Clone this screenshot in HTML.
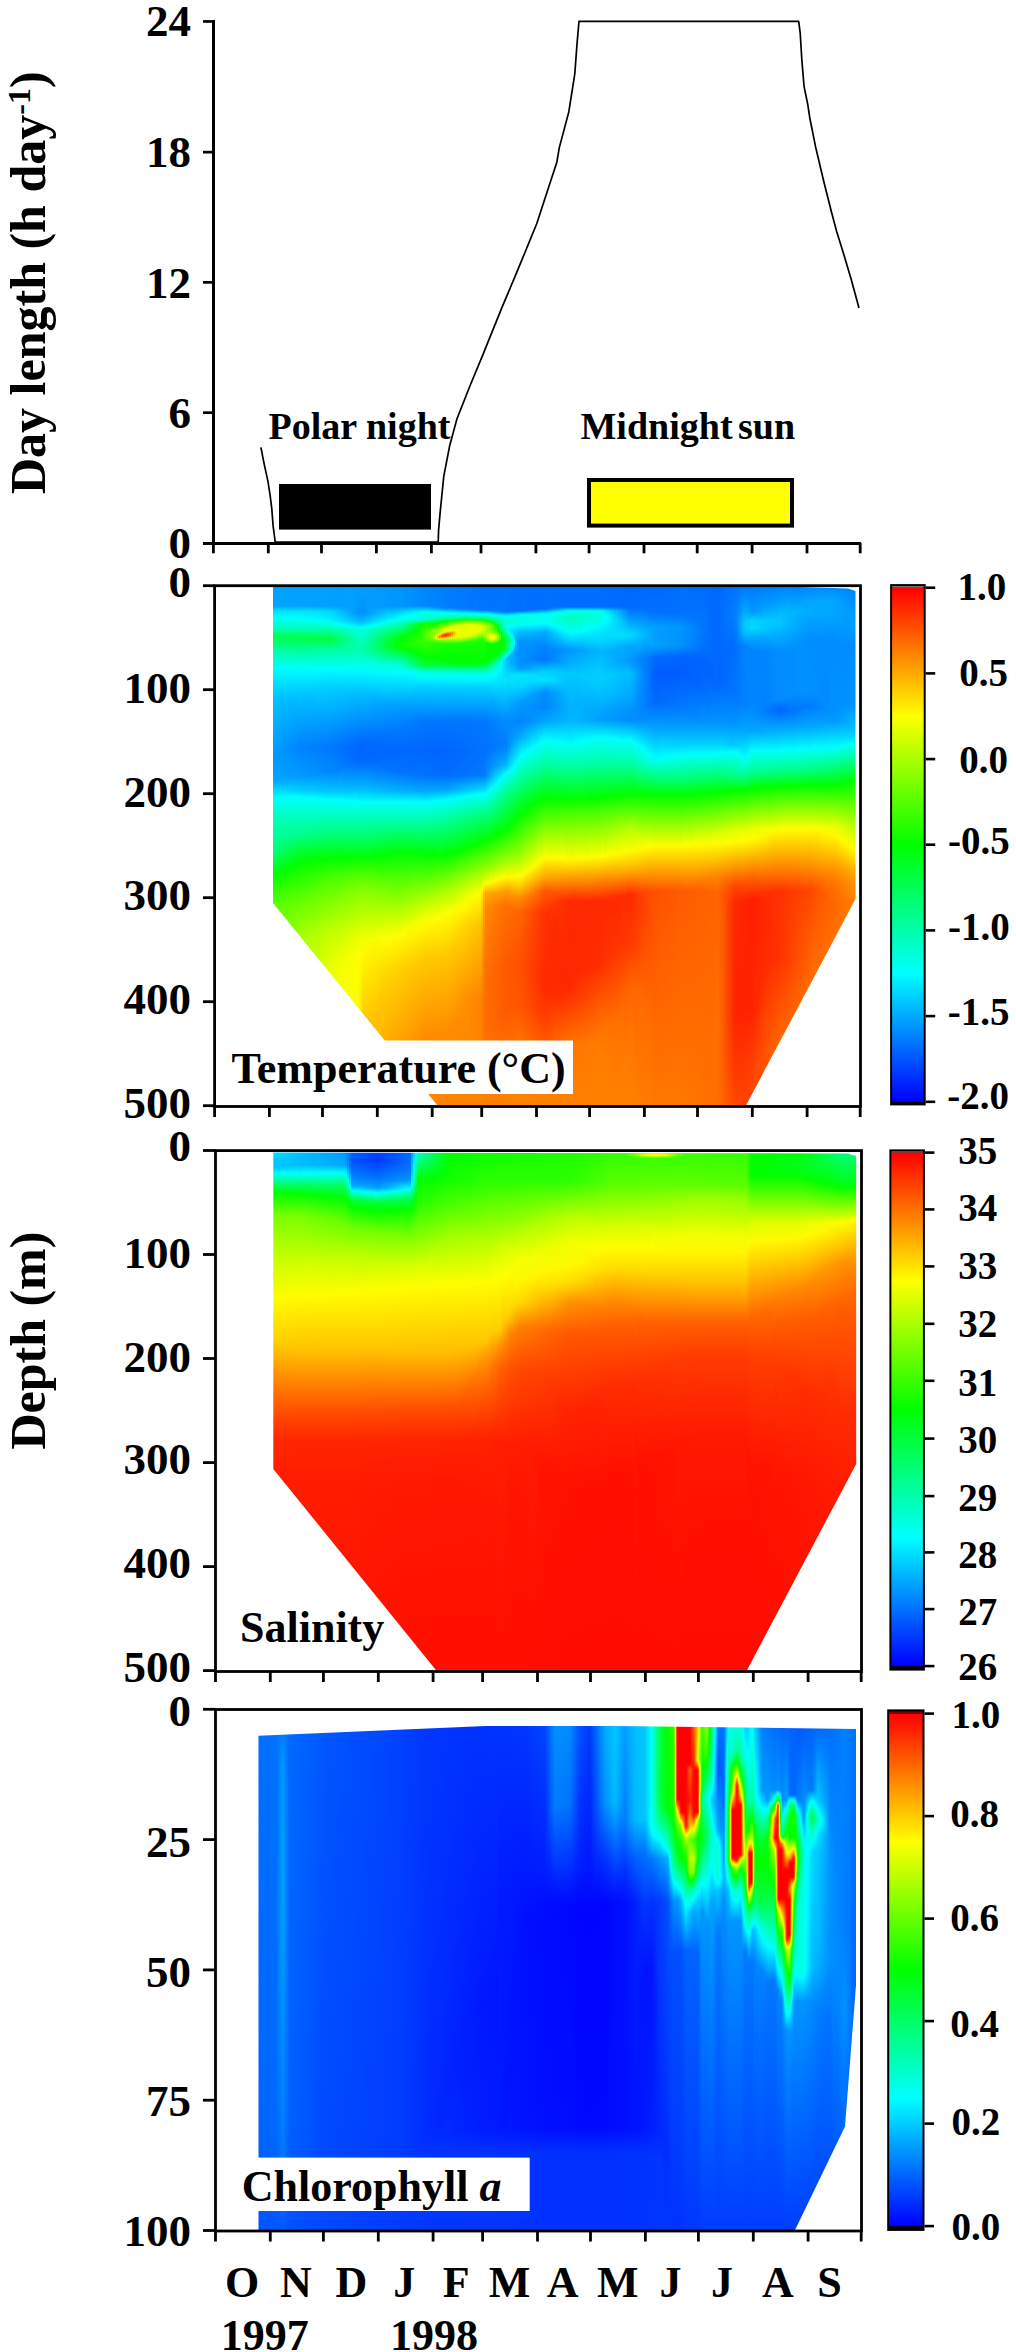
<!DOCTYPE html><html><head><meta charset="utf-8"><style>html,body{margin:0;padding:0;background:#fff}body{width:1016px;height:2352px;position:relative;overflow:hidden}.f{position:absolute;left:0;overflow:hidden}.f i{position:absolute;top:0;height:100%}svg{position:absolute;left:0;top:0}</style></head><body>
<div class="f" style="top:586px;width:1016px;height:520px;clip-path:polygon(273.0px 1.0px,800.0px 1.0px,848.0px 2.5px,855.5px 5.0px,855.5px 313.0px,746.0px 519.5px,437.5px 519.5px,273.0px 317.0px)"><i style="left:273px;width:2px;background:linear-gradient(#00a0ff 0px,#00a5ff 20px,#00e1ff 25px,#00fffa 32px,#00ffbe 42px,#00ff51 50px,#00ff6d 57px,#00ffae 65px,#00fdff 83px,#00c5ff 110px,#0097ff 172px,#0af 195px,#00fffb 212px,#00ffc3 229px,#00ff7f 264px,#00ff1a 282px,#05ff00 290px,#5bff00 318px,#70ff00 520px)"></i><i style="left:275px;width:2px;background:linear-gradient(#00a0ff 0px,#00a5ff 20px,#00e1ff 25px,#00fffa 32px,#00ffbe 42px,#00ff52 50px,#00ff6d 57px,#00ffad 65px,#00fdff 83px,#00c5ff 110px,#0097ff 169px,#00a5ff 194px,#00fffb 212px,#00ffc3 229px,#00ff83 260px,#00ff6e 266px,#00ff17 282px,#04ff00 289px,#5cff00 318px,#6eff00 438px,#75ff00 520px)"></i><i style="left:277px;width:2px;background:linear-gradient(#00a0ff 0px,#00a5ff 20px,#00e1ff 25px,#00fffa 32px,#00ffbe 42px,#00ff53 50px,#00ff64 56px,#00ffac 65px,#00fffe 82px,#00c1ff 112px,#0096ff 168px,#00a3ff 192px,#00b9ff 198px,#00fffb 212px,#00ffc3 229px,#00ff8c 255px,#00ff68 266px,#00ff14 282px,#07ff00 289px,#5dff00 318px,#6eff00 376px,#79ff00 520px)"></i><i style="left:279px;width:2px;background:linear-gradient(#00a0ff 0px,#00a5ff 20px,#00e1ff 25px,#00fffa 32px,#00ffbe 42px,#00ff54 50px,#00ff57 53px,#00ff75 58px,#00ffb0 66px,#00fffd 82px,#00bdff 114px,#0095ff 168px,#00a4ff 193px,#00edff 208px,#00fffb 212px,#00ffc2 229px,#00ff91 252px,#00ff62 266px,#00ff10 282px,#06ff00 288px,#5fff00 319px,#72ff00 366px,#7eff00 520px)"></i><i style="left:281px;width:2px;background:linear-gradient(#00a0ff 0px,#00a5ff 20px,#00e1ff 25px,#00fffa 32px,#00ffbe 42px,#0f5 50px,#00ff56 53px,#00ff75 58px,#00ffae 66px,#00fffd 82px,#00bcff 114px,#0094ff 166px,#009fff 190px,#00afff 196px,#00f3ff 209px,#00fffb 212px,#00ffc2 229px,#00ff92 251px,#00ff5d 266px,#00ff0d 282px,#08ff00 288px,#61ff00 319px,#78ff00 361px,#82ff00 520px)"></i><i style="left:283px;width:2px;background:linear-gradient(#00a0ff 0px,#00a5ff 20px,#00e1ff 25px,#00fffa 32px,#00ffbe 42px,#00ff56 50px,#00ff50 52px,#00ff74 58px,#00ffb2 67px,#00fffd 82px,#00bcff 114px,#0092ff 165px,#009eff 190px,#00b3ff 197px,#00ecff 208px,#00fffb 212px,#00ffc2 229px,#00ff94 250px,#00ff52 267px,#00ff06 283px,#19ff00 292px,#62ff00 319px,#7dff00 359px,#86ff00 520px)"></i><i style="left:285px;width:2px;background:linear-gradient(#00a0ff 0px,#00a5ff 20px,#00e1ff 25px,#00fffa 32px,#00ffbe 42px,#00ff57 50px,#00ff4f 52px,#00ff7c 59px,#00ffb7 68px,#00fffc 82px,#00bcff 114px,#0091ff 164px,#009eff 190px,#00b7ff 198px,#00e5ff 207px,#0ff 211px,#00ffc2 229px,#00ff92 250px,#00ff42 269px,#00ff03 283px,#64ff00 319px,#83ff00 357px,#8bff00 520px)"></i><i style="left:287px;width:2px;background:linear-gradient(#00a0ff 0px,#00a5ff 20px,#00e1ff 25px,#00fffa 32px,#00ffbe 42px,#00ff58 50px,#00ff4d 52px,#00ffb5 68px,#00fffc 82px,#0bf 114px,#008fff 163px,#009fff 191px,#00d0ff 204px,#0ff 211px,#00ffc2 229px,#00ff94 249px,#00ff24 274px,#03ff00 284px,#64ff00 318px,#8f0 356px,#8fff00 520px)"></i><i style="left:289px;width:2px;background:linear-gradient(#00a0ff 0px,#00a5ff 20px,#00e1ff 25px,#00fffa 32px,#00ffbe 42px,#00ff59 50px,#00ff4c 52px,#00ffb4 68px,#00fffb 82px,#0bf 114px,#008dff 163px,#009fff 191px,#00d6ff 205px,#0ff 211px,#00ffc0 230px,#00ff92 249px,#00ff03 281px,#68ff00 320px,#8eff00 355px,#94ff00 520px)"></i><i style="left:291px;width:2px;background:linear-gradient(#00a0ff 0px,#00a5ff 20px,#00e1ff 25px,#00fffa 32px,#00ffbe 42px,#00ff52 51px,#00ff4b 52px,#00ffb3 68px,#00fff7 81px,#00f0ff 89px,#00b9ff 116px,#008bff 162px,#009eff 191px,#00d4ff 205px,#0ff 211px,#00ffbf 230px,#00ff91 249px,#00ff03 280px,#6aff00 320px,#93ff00 355px,#98ff00 520px)"></i><i style="left:293px;width:2px;background:linear-gradient(#00a0ff 0px,#00a5ff 20px,#00e1ff 25px,#00fffa 32px,#00ffbe 42px,#00ff52 51px,#00ff4a 52px,#00ffac 67px,#00fff7 81px,#00f0ff 89px,#00b9ff 115px,#0089ff 162px,#009eff 191px,#00d3ff 205px,#0ff 211px,#00ffbf 230px,#00ff8f 249px,#00ff02 279px,#6bff00 320px,#9f0 354px,#9dff00 520px)"></i><i style="left:295px;width:2px;background:linear-gradient(#00a0ff 0px,#00a5ff 20px,#00e1ff 25px,#00fffa 32px,#00ffbe 42px,#00ff48 52px,#00ffa6 66px,#00fff7 81px,#00f3ff 88px,#00bcff 113px,#08f 162px,#009eff 191px,#00d2ff 205px,#0ff 211px,#00ffbf 230px,#00ff93 248px,#00ff1a 272px,#04ff00 280px,#6dff00 320px,#9fff00 354px,#a1ff00 520px)"></i><i style="left:297px;width:2px;background:linear-gradient(#00a0ff 0px,#00a5ff 20px,#00e1ff 25px,#00fffa 32px,#00ffbe 42px,#00ff47 52px,#00ff9a 64px,#00fff6 81px,#00f3ff 88px,#00bfff 111px,#0085ff 161px,#009dff 191px,#00d1ff 205px,#0ff 211px,#00ffbf 230px,#00ff91 248px,#0f2 269px,#02ff00 278px,#70ff00 321px,#a4ff00 353px,#a6ff00 520px)"></i><i style="left:299px;width:2px;background:linear-gradient(#00a0ff 0px,#00a5ff 20px,#00e1ff 25px,#00fffa 32px,#00ffbe 42px,#00ff46 52px,#00ff93 63px,#00fff3 80px,#00f9ff 86px,#00c9ff 106px,#0af 129px,#0083ff 161px,#009dff 191px,#00d0ff 205px,#0ff 211px,#00ffbc 231px,#00ff90 248px,#00ff25 267px,#03ff00 277px,#78ff00 324px,#af0 353px,#af0 520px)"></i><i style="left:301px;width:2px;background:linear-gradient(#00a0ff 0px,#00a5ff 20px,#00e0ff 25px,#00fffc 32px,#00ffbe 42px,#00ff46 52px,#0f9 64px,#00fff6 81px,#00f6ff 87px,#00c5ff 108px,#0083ff 161px,#009cff 191px,#00cfff 205px,#00feff 211px,#00ffba 232px,#00ff8f 248px,#00ff25 267px,#04ff00 277px,#76ff00 322px,#acff00 353px,#afff00 520px)"></i><i style="left:303px;width:2px;background:linear-gradient(#00a0ff 0px,#00a4ff 20px,#00e0ff 25px,#00fff9 33px,#00ffb2 43px,#00ff46 52px,#0f9 64px,#00fff6 81px,#00f3ff 88px,#00c1ff 110px,#0082ff 161px,#09f 190px,#00ceff 205px,#00fffd 212px,#00ffba 232px,#00ff8d 248px,#00ff20 268px,#03ff00 276px,#74ff00 320px,#aeff00 353px,#b3ff00 520px)"></i><i style="left:305px;width:2px;background:linear-gradient(#00a0ff 0px,#00a4ff 20px,#00dfff 25px,#00fffb 33px,#00ffb2 43px,#00ff46 52px,#00ff9f 65px,#00fff7 81px,#00f2ff 88px,#00bfff 111px,#0081ff 161px,#0098ff 190px,#00ceff 205px,#00fffe 212px,#00ffb7 233px,#00ff87 249px,#00ff1f 268px,#04ff00 276px,#72ff00 318px,#b0ff00 353px,#b8ff00 458px,#b8ff00 520px)"></i><i style="left:307px;width:2px;background:linear-gradient(#00a0ff 0px,#00a4ff 20px,#00deff 25px,#00fffc 33px,#00ffb2 43px,#00ff46 52px,#00ff7a 59px,#00fff7 81px,#00f2ff 88px,#00bfff 111px,#0081ff 161px,#0098ff 190px,#00cdff 205px,#0ff 212px,#00ffb5 234px,#00ff85 249px,#00ff1e 268px,#05ff00 276px,#70ff00 316px,#b3ff00 353px,#bdff00 424px,#bdff00 520px)"></i><i style="left:309px;width:2px;background:linear-gradient(#00a0ff 0px,#00a3ff 20px,#00deff 25px,#00fffa 34px,#00ffb2 43px,#00ff47 52px,#00ff58 55px,#00ff9b 64px,#00fffb 82px,#00c1ff 110px,#0080ff 161px,#0094ff 189px,#0cf 205px,#00feff 212px,#00ffaf 236px,#00ff84 249px,#00ff18 269px,#07ff00 276px,#6fff00 315px,#b5ff00 353px,#c1ff00 412px,#c1ff00 520px)"></i><i style="left:311px;width:2px;background:linear-gradient(#00a0ff 0px,#00a3ff 20px,#0df 25px,#00fffc 34px,#00ffb2 43px,#00ff47 52px,#00ff4f 54px,#00ff96 63px,#00fffb 82px,#00c2ff 109px,#007fff 161px,#0094ff 189px,#0cf 205px,#00feff 212px,#00ff9c 242px,#00ff7d 250px,#00ff13 270px,#03ff00 275px,#60ff00 308px,#b6ff00 351px,#c6ff00 402px,#c6ff00 520px)"></i><i style="left:313px;width:2px;background:linear-gradient(#00a0ff 0px,#00a3ff 20px,#00dcff 25px,#00fffe 34px,#00ffb2 43px,#00ff47 52px,#00ff45 53px,#00ff97 63px,#00fffc 82px,#00c4ff 108px,#007eff 161px,#0094ff 189px,#00cbff 205px,#00fdff 212px,#00ff82 249px,#00ff12 270px,#05ff00 275px,#5dff00 306px,#b8ff00 351px,#cbff00 397px,#cbff00 520px)"></i><i style="left:315px;width:2px;background:linear-gradient(#00a0ff 0px,#00a2ff 20px,#00dcff 25px,#00feff 34px,#00ffb2 43px,#00ff47 52px,#0f4 53px,#00ff97 63px,#0ff 83px,#00cdff 103px,#00a3ff 133px,#007eff 161px,#0091ff 188px,#00caff 205px,#00fffd 213px,#00ff7b 250px,#00ff08 272px,#0eff00 277px,#67ff00 309px,#baff00 352px,#cfff00 395px,#cfff00 520px)"></i><i style="left:317px;width:2px;background:linear-gradient(#00a0ff 0px,#00a2ff 20px,#00dbff 25px,#00fffa 35px,#00ffb2 43px,#00ff47 52px,#00ff43 53px,#00ff98 63px,#00feff 83px,#00cdff 103px,#007dff 161px,#008fff 187px,#00c9ff 205px,#00fffd 213px,#00ff7a 250px,#00ff02 273px,#58ff00 302px,#b6ff00 347px,#d4ff00 389px,#d4ff00 520px)"></i><i style="left:319px;width:2px;background:linear-gradient(#00a0ff 0px,#00a2ff 20px,#00daff 25px,#00fffb 35px,#00ffa6 44px,#00ff47 52px,#00ff42 53px,#00ff98 63px,#00feff 83px,#00cfff 102px,#007cff 160px,#008eff 187px,#00c9ff 205px,#00fffe 213px,#00ff79 250px,#00ff01 273px,#57ff00 301px,#b6ff00 346px,#d8ff00 387px,#d9ff00 520px)"></i><i style="left:321px;width:2px;background:linear-gradient(#00a0ff 0px,#00a1ff 20px,#00daff 25px,#00fffd 35px,#00ffa6 44px,#00ff41 53px,#0f9 63px,#00feff 83px,#00cfff 102px,#007cff 161px,#008bff 186px,#00c8ff 205px,#0ff 213px,#0f7 250px,#0f0 273px,#57ff00 300px,#b7ff00 345px,#dcff00 386px,#df0 520px)"></i><i style="left:323px;width:2px;background:linear-gradient(#00a0ff 0px,#00a1ff 20px,#00d9ff 25px,#00f6ff 34px,#00fff6 36px,#00ffa6 44px,#00ff40 53px,#0f9 63px,#00fdff 83px,#00d0ff 101px,#007bff 161px,#008aff 186px,#00c7ff 205px,#0ff 213px,#00ff71 251px,#01ff00 273px,#59ff00 300px,#b9ff00 345px,#e0ff00 385px,#e2ff00 520px)"></i><i style="left:325px;width:2px;background:linear-gradient(#00a0ff 0px,#00a1ff 20px,#00d8ff 25px,#00f4ff 34px,#00fff7 36px,#00ff9a 45px,#00ff3e 53px,#00ff9a 63px,#00fdff 83px,#00d0ff 101px,#007aff 161px,#008aff 186px,#00c6ff 205px,#00feff 213px,#00ff70 251px,#03ff00 273px,#58ff00 299px,#bf0 345px,#e4ff00 385px,#e7ff00 520px)"></i><i style="left:327px;width:2px;background:linear-gradient(#00a0ff 0px,#00a0ff 20px,#00d8ff 25px,#00f2ff 34px,#00fff9 36px,#00ff8f 46px,#00ff3d 53px,#00ff9a 63px,#00fcff 83px,#00d0ff 101px,#007aff 161px,#0089ff 186px,#00c6ff 205px,#00fffa 214px,#00ff79 249px,#04ff00 273px,#5aff00 299px,#bdff00 345px,#e8ff00 384px,#ebff00 520px)"></i><i style="left:329px;width:2px;background:linear-gradient(#00a0ff 0px,#00a0ff 20px,#00d7ff 25px,#00f0ff 34px,#00fffa 36px,#00ff83 47px,#00ff3c 53px,#00ff9b 63px,#00fcff 83px,#00d0ff 101px,#0079ff 161px,#08f 186px,#00c5ff 205px,#00fffa 214px,#00ff8c 244px,#00ff2d 263px,#05ff00 273px,#5cff00 299px,#bfff00 345px,#edff00 384px,#f0ff00 520px)"></i><i style="left:331px;width:2px;background:linear-gradient(#00a0ff 0px,#00a0ff 20px,#00d2ff 25px,#00ecff 34px,#0ff 36px,#00ff45 53px,#00ff9c 63px,#00fcff 83px,#00cfff 101px,#07f 161px,#08f 186px,#00c5ff 205px,#00fffb 214px,#00ff84 246px,#05ff00 273px,#5bff00 298px,#c1ff00 345px,#ef0 383px,#f2ff00 520px)"></i><i style="left:333px;width:2px;background:linear-gradient(#00a0ff 0px,#009fff 20px,#00ceff 25px,#00e8ff 34px,#00fff9 37px,#00ff4e 53px,#00ff9d 63px,#00fdff 83px,#00cfff 101px,#0076ff 161px,#0087ff 186px,#00c5ff 205px,#00fffc 214px,#00ff78 249px,#0f0 272px,#45ff00 290px,#a6ff00 330px,#dbff00 362px,#f3ff00 391px,#f4ff00 520px)"></i><i style="left:335px;width:2px;background:linear-gradient(#00a0ff 0px,#009fff 20px,#00c9ff 25px,#00e4ff 34px,#00fffe 37px,#00ff57 53px,#00ff9e 63px,#00fdff 83px,#00cfff 101px,#0074ff 161px,#0084ff 185px,#00c5ff 205px,#00fffc 214px,#00ff73 250px,#0f0 272px,#4dff00 292px,#b0ff00 334px,#e9ff00 372px,#f5ff00 405px,#f6ff00 520px)"></i><i style="left:337px;width:2px;background:linear-gradient(#00a0ff 0px,#009fff 20px,#00c6ff 26px,#00e8ff 35px,#00fff8 38px,#00ff7c 50px,#00ff60 53px,#00ffa0 63px,#00feff 83px,#00cdff 102px,#0073ff 161px,#0081ff 184px,#00c5ff 205px,#00fffd 214px,#00ff73 250px,#01ff00 272px,#4eff00 292px,#b0ff00 333px,#e8ff00 369px,#f6ff00 403px,#f8ff00 520px)"></i><i style="left:339px;width:2px;background:linear-gradient(#00a0ff 0px,#009eff 20px,#00c1ff 26px,#00e4ff 35px,#00fffc 38px,#00ff9e 47px,#00ff69 53px,#00ffa1 63px,#00feff 83px,#00cdff 102px,#0072ff 161px,#0080ff 183px,#00c5ff 205px,#00fffe 214px,#00ff6d 251px,#01ff00 272px,#4cff00 291px,#9eff00 323px,#deff00 359px,#f7ff00 389px,#faff00 520px)"></i><i style="left:341px;width:2px;background:linear-gradient(#00a0ff 0px,#009eff 20px,#00bcff 26px,#00dfff 35px,#00fdff 38px,#00ffac 46px,#00ff72 53px,#0ff 83px,#0cf 102px,#0070ff 161px,#007bff 180px,#00a2ff 195px,#00c5ff 205px,#0ff 214px,#00ff68 252px,#01ff00 272px,#4aff00 290px,#89ff00 313px,#dbff00 355px,#f5ff00 383px,#fcff00 520px)"></i><i style="left:343px;width:2px;background:linear-gradient(#00a0ff 0px,#00a3ff 21px,#00b7ff 26px,#00dbff 35px,#00fffa 39px,#00ffb9 45px,#00ff7b 53px,#00ffc3 70px,#0ff 83px,#0cf 102px,#006fff 161px,#0079ff 179px,#009bff 193px,#00c4ff 205px,#00feff 214px,#00ff68 252px,#01ff00 272px,#4bff00 290px,#84ff00 310px,#dcff00 354px,#f6ff00 380px,#feff00 520px)"></i><i style="left:345px;width:2px;background:linear-gradient(#00a0ff 0px,#00a1ff 21px,#00cfff 34px,#00fffe 39px,#00ffbd 45px,#00ff84 53px,#00ffb5 67px,#0ff 83px,#00caff 103px,#006dff 161px,#0076ff 178px,#009bff 193px,#00c4ff 205px,#00fffc 215px,#00ff68 252px,#01ff00 272px,#49ff00 289px,#7fff00 307px,#dbff00 352px,#f6ff00 377px,#ff0 494px,#ff0 520px)"></i><i style="left:347px;width:2px;background:linear-gradient(#00a0ff 0px,#00a0ff 21px,#00beff 31px,#00d9ff 36px,#00fbff 39px,#00ffc1 45px,#00ff8d 53px,#00ffb0 66px,#00fffe 83px,#00c7ff 104px,#006cff 161px,#0073ff 177px,#009eff 194px,#00c4ff 205px,#00fffc 215px,#00ff68 252px,#01ff00 272px,#46ff00 288px,#7cff00 305px,#dbff00 350px,#f7ff00 375px,#fffd00 467px,#fffd00 520px)"></i><i style="left:349px;width:2px;background:linear-gradient(#00a0ff 0px,#00a1ff 22px,#00b1ff 29px,#00d4ff 36px,#00fffb 40px,#00ffc5 45px,#00ff96 53px,#00ffac 65px,#00fffb 82px,#00bfff 108px,#006aff 161px,#0072ff 177px,#00a7ff 197px,#00caff 206px,#00fffd 215px,#00ff63 253px,#02ff00 272px,#47ff00 288px,#7eff00 305px,#dfff00 351px,#f8ff00 374px,#fffb00 476px,#fffb00 520px)"></i><i style="left:351px;width:2px;background:linear-gradient(#00a0ff 0px,#00a1ff 23px,#00a8ff 28px,#00cfff 36px,#00feff 40px,#00ffcf 44px,#00ff9f 53px,#00ffad 65px,#00fff7 81px,#00f1ff 88px,#00c0ff 107px,#0069ff 161px,#0071ff 177px,#00aeff 199px,#00caff 206px,#00fffe 215px,#00ff63 253px,#02ff00 272px,#4f0 287px,#7dff00 304px,#dfff00 350px,#faff00 373px,#fff900 520px)"></i><i style="left:353px;width:2px;background:linear-gradient(#00a0ff 0px,#009eff 27px,#00caff 36px,#00faff 40px,#00ffd3 44px,#00ffa8 54px,#00ffad 65px,#00fff3 80px,#00f7ff 86px,#00c6ff 104px,#0068ff 161px,#006dff 176px,#00b1ff 200px,#00d0ff 207px,#00fffe 215px,#00ff63 253px,#02ff00 272px,#45ff00 287px,#7dff00 303px,#e2ff00 350px,#fbff00 372px,#fff700 520px)"></i><i style="left:355px;width:2px;background:linear-gradient(#00a0ff 0px,#009eff 28px,#00c5ff 36px,#00fffc 41px,#00ffd6 44px,#00ffb0 54px,#00ffa9 64px,#00fff3 80px,#00f8ff 86px,#00c6ff 104px,#06f 160px,#006cff 176px,#00b7ff 202px,#0ff 215px,#00ff63 253px,#02ff00 272px,#42ff00 286px,#7fff00 303px,#e4ff00 350px,#fdff00 372px,#fff500 520px)"></i><i style="left:357px;width:2px;background:linear-gradient(#00a0ff 0px,#0094ff 27px,#00c0ff 36px,#00feff 41px,#00ffda 44px,#00ffb5 56px,#0fa 64px,#00ffef 79px,#00f8ff 86px,#00c5ff 104px,#0065ff 160px,#006aff 176px,#00beff 204px,#00fffa 216px,#00ff63 253px,#02ff00 272px,#43ff00 286px,#81ff00 303px,#e6ff00 350px,#ff0 371px,#fff300 496px,#fff300 520px)"></i><i style="left:359px;width:2px;background:linear-gradient(#00a0ff 0px,#0094ff 25px,#0096ff 28px,#00beff 36px,#00fcff 41px,#00ffdc 44px,#00ffb5 58px,#0fa 64px,#00ffef 79px,#00f8ff 86px,#00c5ff 104px,#0064ff 159px,#0069ff 176px,#00beff 204px,#00fffa 216px,#00ff63 253px,#02ff00 272px,#4f0 286px,#82ff00 303px,#ecff00 352px,#fffd00 369px,#ffe600 461px,#ffe500 520px)"></i><i style="left:361px;width:2px;background:linear-gradient(#00a0ff 0px,#0094ff 25px,#0096ff 28px,#00beff 36px,#00fcff 41px,#00ffdc 44px,#00ffb5 58px,#0fa 64px,#00ffef 79px,#00f8ff 86px,#00c5ff 104px,#0064ff 159px,#0069ff 176px,#00beff 204px,#00fffa 216px,#00ff63 253px,#02ff00 272px,#4f0 286px,#82ff00 303px,#f3ff00 355px,#fff900 369px,#ffd200 442px,#ffcb00 520px)"></i><i style="left:363px;width:2px;background:linear-gradient(#00a0ff 0px,#0093ff 27px,#00c1ff 36px,#00fffe 41px,#00ffd9 44px,#00ffb2 57px,#00ffa6 64px,#00ffef 79px,#00f9ff 86px,#00c5ff 104px,#0064ff 159px,#0069ff 176px,#00bdff 204px,#00fffa 216px,#00ff62 253px,#03ff00 272px,#4f0 286px,#81ff00 303px,#f4ff00 355px,#fff800 368px,#ffc900 434px,#ffbd00 520px)"></i><i style="left:365px;width:2px;background:linear-gradient(#009fff 0px,#0097ff 27px,#00c7ff 36px,#00f9ff 40px,#00ffd3 44px,#00ffa9 56px,#00ff9f 64px,#0fe 79px,#00f9ff 86px,#00c3ff 105px,#06f 158px,#006aff 176px,#00b6ff 202px,#00fffa 216px,#00ff61 253px,#03ff00 272px,#47ff00 287px,#80ff00 303px,#f6ff00 355px,#fff500 369px,#ffc600 436px,#ffba00 520px)"></i><i style="left:367px;width:2px;background:linear-gradient(#009fff 0px,#009bff 27px,#00cdff 36px,#0ff 40px,#00ffcd 44px,#00ffa1 55px,#00ff97 64px,#00ffed 79px,#00f9ff 86px,#00c1ff 106px,#006cff 154px,#0065ff 168px,#006cff 177px,#00b5ff 202px,#00fffa 216px,#00ff60 253px,#04ff00 272px,#4bff00 288px,#82ff00 304px,#f5ff00 354px,#fff500 368px,#ffc500 435px,#ffb700 520px)"></i><i style="left:369px;width:2px;background:linear-gradient(#009eff 0px,#009fff 27px,#00d2ff 36px,#00fff9 40px,#00ffc6 44px,#0f9 54px,#00ff8e 62px,#00ff96 65px,#00ffec 79px,#00faff 86px,#00bcff 108px,#006eff 153px,#0065ff 166px,#006cff 177px,#00adff 200px,#00cdff 207px,#00fffa 216px,#00ff5f 253px,#05ff00 272px,#4eff00 289px,#84ff00 305px,#f6ff00 354px,#fff400 368px,#ffc300 435px,#ffb500 520px)"></i><i style="left:371px;width:2px;background:linear-gradient(#009eff 0px,#009eff 23px,#00a9ff 28px,#00d8ff 36px,#0ff 39px,#00ffc0 44px,#00ff8f 54px,#00ff83 61px,#00ff8e 65px,#00ffeb 79px,#00faff 86px,#00b7ff 110px,#006cff 154px,#06f 168px,#006eff 178px,#00acff 200px,#00c6ff 206px,#00fffa 216px,#00ff63 252px,#01ff00 271px,#4aff00 288px,#85ff00 306px,#f8ff00 354px,#fff100 369px,#ffc100 437px,#ffb200 520px)"></i><i style="left:373px;width:2px;background:linear-gradient(#009dff 0px,#009dff 22px,#00adff 28px,#00deff 36px,#00fff9 39px,#00ffba 44px,#00ff85 54px,#00ff79 61px,#00ff87 65px,#00ffea 79px,#00faff 86px,#00b2ff 112px,#006bff 155px,#06f 174px,#0094ff 193px,#00beff 205px,#00fffa 216px,#00ff67 251px,#02ff00 271px,#51ff00 290px,#8aff00 308px,#f7ff00 353px,#fff100 368px,#ffc000 435px,#ffaf00 520px)"></i><i style="left:375px;width:2px;background:linear-gradient(#009cff 0px,#009eff 22px,#00b7ff 29px,#00e4ff 36px,#00feff 38px,#00ffb4 44px,#00ff7d 53px,#00ff6f 61px,#00ff80 65px,#00ffe9 79px,#00fbff 86px,#00adff 114px,#06f 159px,#006cff 177px,#0097ff 194px,#00bdff 205px,#00fffa 216px,#00ff6b 250px,#00ff02 270px,#71ff00 299px,#f9ff00 353px,#ffe800 375px,#ffba00 445px,#ffac00 520px)"></i><i style="left:377px;width:2px;background:linear-gradient(#009cff 0px,#009cff 21px,#0bf 29px,#00eaff 36px,#00fffa 38px,#00ffae 44px,#00ff74 53px,#00ff61 60px,#00ff79 65px,#00ffe8 79px,#00fbff 86px,#00abff 115px,#006bff 155px,#0069ff 175px,#008cff 191px,#00bcff 205px,#00fffa 216px,#00ff6a 250px,#00ff01 270px,#62ff00 295px,#f5ff00 350px,#fff400 364px,#ffc000 427px,#fa0 520px)"></i><i style="left:379px;width:2px;background:linear-gradient(#009bff 0px,#009dff 21px,#00c5ff 30px,#00efff 36px,#00fcff 37px,#00ffa0 45px,#00ff6a 53px,#00ff57 60px,#00ff7a 66px,#00ffe6 79px,#00fbff 86px,#00a7ff 117px,#006dff 154px,#0067ff 171px,#0082ff 188px,#0bf 205px,#00fffa 216px,#00ff6f 249px,#00ff04 269px,#7fff00 305px,#fbff00 353px,#ffcb00 408px,#ffac00 482px,#ffa700 520px)"></i><i style="left:381px;width:2px;background:linear-gradient(#009bff 0px,#009dff 21px,#00dcff 33px,#00fffc 37px,#00ff9a 45px,#00ff60 53px,#00ff4c 60px,#00ff73 66px,#00ffe5 79px,#00fcff 86px,#00a5ff 118px,#0070ff 152px,#0067ff 166px,#0072ff 181px,#00b4ff 204px,#00fffa 216px,#00ff7b 246px,#00ff03 269px,#7fff00 305px,#fbff00 352px,#ffcb00 405px,#fa0 480px,#ffa400 520px)"></i><i style="left:383px;width:2px;background:linear-gradient(#009aff 0px,#009dff 21px,#00e7ff 34px,#00fbff 36px,#00ff93 45px,#00ff56 53px,#00ff41 60px,#00ff6c 66px,#00ffe4 79px,#00fcff 86px,#00a3ff 119px,#0072ff 150px,#0068ff 165px,#0073ff 182px,#00b9ff 205px,#00fffa 216px,#0f8 243px,#00ff02 269px,#7bff00 304px,#fcff00 352px,#ffcf00 398px,#ffa900 472px,#ffa200 520px)"></i><i style="left:385px;width:2px;background:linear-gradient(#009aff 0px,#0098ff 20px,#00f6ff 35px,#00fffd 36px,#00ff8c 45px,#00ff4c 53px,#00ff37 60px,#00ff6f 67px,#00ffe3 79px,#00fcff 86px,#00a0ff 120px,#0073ff 149px,#0068ff 164px,#0073ff 183px,#00b8ff 205px,#00fffa 216px,#00ff91 241px,#00ff32 259px,#00ff01 269px,#7f0 303px,#fdff00 352px,#ffd100 393px,#ffa900 467px,#ff9f00 520px)"></i><i style="left:387px;width:2px;background:linear-gradient(#09f 0px,#0098ff 20px,#00fcff 35px,#00ff86 45px,#00ff42 53px,#00ff2c 60px,#00ff7c 69px,#00ffe2 79px,#00faff 87px,#00a0ff 120px,#0076ff 147px,#0068ff 164px,#0073ff 184px,#00b7ff 205px,#00fffa 216px,#00ff95 240px,#00ff37 258px,#0f0 269px,#70ff00 301px,#feff00 352px,#ffd300 389px,#ffa800 463px,#ff9c00 520px)"></i><i style="left:389px;width:2px;background:linear-gradient(#09f 0px,#0097ff 20px,#00fffd 35px,#00ff7f 45px,#00ff3c 52px,#00ff21 60px,#00ff81 70px,#00ffe1 79px,#00faff 87px,#00a0ff 120px,#07f 146px,#0068ff 164px,#0075ff 185px,#00b6ff 205px,#00fffa 216px,#0f9 239px,#00ff3b 257px,#00ff03 268px,#a2ff00 318px,#ff0 352px,#ffd400 386px,#ffa700 461px,#ff9a00 520px)"></i><i style="left:391px;width:2px;background:linear-gradient(#0098ff 0px,#0097ff 20px,#00fbff 34px,#00ffc3 39px,#00ff6e 46px,#00ff32 52px,#00ff17 60px,#00ff9e 73px,#00ffe0 79px,#00faff 87px,#009fff 120px,#0079ff 144px,#0069ff 164px,#0075ff 185px,#00b5ff 205px,#00fffa 216px,#00ff9d 238px,#00ff3a 257px,#00ff05 267px,#6bff00 300px,#ff0 351px,#ffd300 386px,#ffa300 464px,#ff9700 520px)"></i><i style="left:393px;width:2px;background:linear-gradient(#0098ff 0px,#0097ff 20px,#0ff 34px,#00ff72 45px,#00ff28 52px,#00ff0c 60px,#00ffdf 79px,#00fbff 87px,#009fff 120px,#007aff 143px,#0069ff 164px,#07f 186px,#00b4ff 205px,#00fffa 216px,#00ffa1 237px,#00ff3e 256px,#00ff04 267px,#fdff00 349px,#ffd100 387px,#ffa000 467px,#ff9400 520px)"></i><i style="left:395px;width:2px;background:linear-gradient(#0097ff 0px,#0097ff 20px,#00f0ff 31px,#00fffa 34px,#00ff60 46px,#00ff1e 52px,#00ff01 60px,#00ffde 79px,#00fbff 87px,#009fff 120px,#0079ff 143px,#0069ff 164px,#0076ff 186px,#00b3ff 205px,#00fffa 216px,#00ffa6 236px,#00ff3d 256px,#00ff06 266px,#1dff00 276px,#fffe00 350px,#ffd200 384px,#ff9e00 466px,#ff9100 520px)"></i><i style="left:397px;width:2px;background:linear-gradient(#0097ff 0px,#0096ff 20px,#00edff 30px,#00fffc 33px,#00ffcd 37px,#00ff4e 47px,#00ff14 52px,#06ff00 59px,#09ff00 60px,#00ff0e 62px,#0fd 79px,#00fcff 87px,#00a0ff 119px,#007aff 142px,#006aff 164px,#0075ff 186px,#00b2ff 205px,#00fffa 216px,#0fa 235px,#00ff3b 256px,#00ff05 266px,#fffd00 350px,#ffd000 384px,#ff9b00 468px,#ff8f00 520px)"></i><i style="left:399px;width:2px;background:linear-gradient(#0096ff 0px,#0096ff 20px,#00eaff 29px,#00fffe 32px,#00ffe2 35px,#00ff52 46px,#00ff0a 52px,#09ff00 57px,#14ff00 60px,#00ff04 62px,#00ffdc 79px,#00fcff 87px,#00a0ff 119px,#007bff 141px,#006aff 164px,#0071ff 185px,#00b2ff 205px,#00fffa 216px,#0fa 235px,#00ff3a 256px,#00ff03 266px,#fffd00 349px,#ffd000 383px,#ff9800 470px,#ff8c00 520px)"></i><i style="left:401px;width:2px;background:linear-gradient(#0095ff 0px,#0095ff 20px,#00e7ff 28px,#00fffb 32px,#00ffed 34px,#00ff9c 39px,#00ff04 52px,#16ff00 60px,#00ff01 62px,#00ffcf 79px,#00feff 87px,#00a0ff 119px,#007bff 140px,#006aff 164px,#0073ff 186px,#00b1ff 205px,#00fffb 216px,#0fa 235px,#00ff34 257px,#00ff04 266px,#fffd00 348px,#ffcd00 384px,#ff9800 467px,#ff8c00 520px)"></i><i style="left:403px;width:2px;background:linear-gradient(#0094ff 0px,#0094ff 20px,#00e3ff 27px,#0ff 31px,#00ffea 34px,#00ff98 38px,#00ff13 50px,#01ff00 52px,#17ff00 60px,#02ff00 62px,#00ff9e 76px,#00ffc1 79px,#00fffe 87px,#00a0ff 119px,#007bff 140px,#0069ff 164px,#0073ff 186px,#00b0ff 205px,#00fffb 216px,#00ffa5 236px,#00ff2f 258px,#00ff01 267px,#fffe00 347px,#ffcd00 383px,#f90 463px,#ff8b00 520px)"></i><i style="left:405px;width:2px;background:linear-gradient(#0092ff 0px,#0092ff 20px,#00e7ff 27px,#00fffb 31px,#00ffe6 34px,#0f8 38px,#00ff15 49px,#07ff00 52px,#19ff00 60px,#00ff05 63px,#00ffb4 79px,#00fff9 86px,#00daff 98px,#09f 122px,#007aff 140px,#0069ff 164px,#0072ff 186px,#00afff 205px,#00fffc 216px,#00ffa5 236px,#00ff2a 259px,#00ff02 267px,#fcff00 345px,#ffcb00 384px,#ff9800 462px,#ff8b00 520px)"></i><i style="left:407px;width:2px;background:linear-gradient(#0091ff 0px,#0091ff 20px,#00ebff 27px,#0ff 30px,#00ffe3 34px,#0f7 38px,#00ff0c 49px,#0cff00 52px,#1aff00 60px,#00ff02 63px,#00ff86 76px,#00ffc5 82px,#00fff7 86px,#00f4ff 91px,#009fff 119px,#007aff 139px,#0069ff 164px,#0074ff 187px,#00aeff 205px,#00fffc 216px,#00ffa0 237px,#00ff19 262px,#05ff00 269px,#f1ff00 340px,#fff800 348px,#ffc700 387px,#ff9700 462px,#ff8a00 520px)"></i><i style="left:409px;width:2px;background:linear-gradient(#0090ff 0px,#0090ff 20px,#0ef 27px,#00fffb 30px,#00ffe0 34px,#00ff67 38px,#00ff0b 48px,#0bff00 51px,#19ff00 57px,#1cff00 60px,#02ff00 63px,#00ff5b 73px,#00ffad 81px,#00fff5 86px,#00f1ff 92px,#009fff 119px,#0079ff 139px,#0068ff 164px,#0073ff 187px,#00aeff 205px,#00fffd 216px,#00ff9b 238px,#00ff03 267px,#f1ff00 339px,#fff600 348px,#ffc400 388px,#ff9600 461px,#ff8a00 520px)"></i><i style="left:411px;width:2px;background:linear-gradient(#008fff 0px,#008fff 20px,#00eaff 26px,#00fffe 29px,#0fd 34px,#00ff57 38px,#00ff01 48px,#1aff00 53px,#1eff00 60px,#00ff02 64px,#00ff65 75px,#00ff92 80px,#00fff3 86px,#00f6ff 91px,#00b9ff 109px,#007aff 137px,#0068ff 164px,#0074ff 188px,#00adff 205px,#00fffe 216px,#00ff96 239px,#00ff04 267px,#f1ff00 338px,#fff700 347px,#ffc300 388px,#ff9400 460px,#ff8a00 520px)"></i><i style="left:413px;width:2px;background:linear-gradient(#008eff 0px,#008eff 20px,#0ef 26px,#00fffb 29px,#00ffda 34px,#00ff46 38px,#00ff02 46px,#20ff00 54px,#1fff00 60px,#00ff04 65px,#00ff6c 77px,#00ff85 80px,#00fff1 86px,#00f7ff 91px,#00c5ff 105px,#007cff 135px,#0068ff 164px,#0073ff 188px,#00acff 205px,#00fffe 216px,#00ff91 240px,#00ff04 267px,#f2ff00 337px,#fff700 346px,#ffc700 382px,#ff9400 456px,#ff8900 520px)"></i><i style="left:415px;width:2px;background:linear-gradient(#008cff 0px,#008cff 20px,#00f2ff 26px,#00fff7 29px,#00ffd6 34px,#00ff36 38px,#01ff00 45px,#24ff00 53px,#21ff00 60px,#0f0 65px,#00ff2c 71px,#0f7 80px,#00ffef 86px,#00f8ff 91px,#00cbff 103px,#007cff 134px,#0067ff 164px,#0072ff 188px,#00abff 205px,#0ff 216px,#00ff8c 241px,#00ff05 267px,#f3ff00 336px,#fff600 346px,#ffc700 381px,#ff9300 455px,#ff8900 520px)"></i><i style="left:417px;width:2px;background:linear-gradient(#008bff 0px,#008bff 20px,#00f6ff 26px,#00fff4 29px,#00ffd3 34px,#00ff25 38px,#00ff01 43px,#1bff00 48px,#2bff00 54px,#1dff00 61px,#00ff04 67px,#00ff21 71px,#00ff6a 80px,#00ffed 86px,#00f9ff 91px,#00cdff 102px,#007bff 134px,#0067ff 164px,#0074ff 189px,#0af 205px,#00feff 216px,#00ff87 242px,#00ff06 267px,#3f0 282px,#f4ff00 335px,#fff600 345px,#ffc800 378px,#ff9200 453px,#f80 520px)"></i><i style="left:419px;width:2px;background:linear-gradient(#008aff 0px,#008aff 20px,#00faff 26px,#00ffd0 34px,#00ff15 38px,#06ff00 42px,#2f0 47px,#2eff00 55px,#1aff00 62px,#00ff03 68px,#00ff5d 80px,#00ffeb 86px,#00faff 91px,#00d0ff 101px,#007aff 134px,#0067ff 164px,#0074ff 189px,#0af 205px,#00feff 216px,#00ff87 242px,#00ff03 268px,#f7ff00 335px,#fff200 346px,#ffc500 380px,#ff9000 453px,#f80 520px)"></i><i style="left:421px;width:2px;background:linear-gradient(#0089ff 0px,#0089ff 20px,#00feff 26px,#00ffcd 34px,#00ff05 38px,#2cff00 47px,#32ff00 55px,#10ff00 65px,#00ff06 70px,#00ff50 80px,#00ffe9 86px,#00fbff 91px,#00d3ff 100px,#0078ff 135px,#06f 164px,#0073ff 189px,#00a9ff 205px,#00fdff 216px,#00ff87 242px,#00ff03 268px,#f3ff00 333px,#fff900 341px,#fc0 372px,#ff8e00 451px,#f80 520px)"></i><i style="left:423px;width:2px;background:linear-gradient(#08f 0px,#08f 20px,#00fffc 26px,#00ffca 34px,#00ff2a 37px,#0cff00 38px,#47ff00 49px,#06ff00 69px,#00ff10 73px,#00ff43 80px,#00ffe7 86px,#00fcff 91px,#00d3ff 100px,#0078ff 135px,#06f 164px,#0072ff 189px,#00a8ff 205px,#00fffa 217px,#00ff91 240px,#00ff04 268px,#f3ff00 332px,#fffb00 338px,#ffcd00 370px,#ff8d00 450px,#ff8700 520px)"></i><i style="left:425px;width:2px;background:linear-gradient(#0087ff 0px,#0087ff 20px,#00fffb 26px,#00ffc3 34px,#00ff21 37px,#13ff00 38px,#32ff00 44px,#4fff00 46px,#5bff00 49px,#47ff00 53px,#34ff00 56px,#00ff02 71px,#00ff3e 80px,#00ffe5 86px,#00fdff 91px,#00d3ff 100px,#07f 135px,#06f 164px,#0071ff 189px,#00a8ff 205px,#00fdff 216px,#00ff64 249px,#0f0 269px,#ecff00 329px,#fffb00 337px,#fc0 370px,#ff8c00 450px,#ff8700 520px)"></i><i style="left:427px;width:2px;background:linear-gradient(#0086ff 0px,#0086ff 20px,#00fffe 26px,#00ffb8 34px,#00ff1e 37px,#12ff00 38px,#24ff00 42px,#5eff00 46px,#6aff00 49px,#5cff00 52px,#35ff00 55px,#00ff05 72px,#00ff41 80px,#00ffe3 86px,#00fdff 91px,#00d3ff 100px,#07f 135px,#06f 164px,#0071ff 189px,#00a9ff 205px,#0ff 216px,#0f0 269px,#e7ff00 327px,#fffc00 336px,#ffca00 371px,#ff8c00 450px,#ff8600 520px)"></i><i style="left:429px;width:2px;background:linear-gradient(#0085ff 0px,#0085ff 20px,#0bf 23px,#00feff 26px,#0fb 33px,#00ffad 34px,#00ff19 37px,#10ff00 38px,#1dff00 41px,#63ff00 45px,#79ff00 48px,#71ff00 51px,#51ff00 54px,#2fff00 56px,#00ff02 71px,#00ff21 76px,#00ff45 80px,#00ffe0 86px,#00fdff 91px,#00d3ff 100px,#07f 135px,#06f 164px,#0070ff 189px,#00a9ff 205px,#00fffe 216px,#0f0 269px,#dcff00 323px,#fffc00 335px,#ffc900 372px,#ff8c00 450px,#ff8600 520px)"></i><i style="left:431px;width:2px;background:linear-gradient(#0084ff 0px,#0084ff 20px,#00a0ff 22px,#00fbff 26px,#00ffc4 32px,#00ffa2 34px,#00ff3b 36px,#00ff14 37px,#0fff00 38px,#17ff00 40px,#75ff00 45px,#8aff00 48px,#7fff00 51px,#5bff00 54px,#32ff00 56px,#00ff01 71px,#00ff16 75px,#00ff49 80px,#00ffde 86px,#00fffb 90px,#00ceff 102px,#0076ff 136px,#0065ff 164px,#0070ff 189px,#0af 205px,#00fffc 216px,#0f0 269px,#d4ff00 320px,#fffb00 335px,#ffc700 373px,#ff8c00 450px,#ff8500 520px)"></i><i style="left:433px;width:2px;background:linear-gradient(#0083ff 0px,#0083ff 20px,#009cff 22px,#00f9ff 26px,#00ffca 31px,#00ffab 33px,#00ff97 34px,#00ff2f 36px,#00ff0f 37px,#0dff00 38px,#1f0 39px,#1fff00 40px,#67ff00 43px,#92ff00 46px,#9aff00 49px,#95ff00 50px,#b3ff00 51px,#c0ff00 52px,#a8ff00 53px,#6dff00 54px,#39ff00 56px,#27ff00 57px,#0f0 71px,#00ff14 75px,#00ff4c 80px,#00ffdc 86px,#00fff6 89px,#00f3ff 93px,#00cbff 103px,#0076ff 136px,#0065ff 164px,#006fff 189px,#0af 205px,#00fdff 215px,#0f0 269px,#c8ff00 316px,#ff0 333px,#ffca00 370px,#ff8c00 449px,#ff8500 520px)"></i><i style="left:435px;width:2px;background:linear-gradient(#0082ff 0px,#0082ff 20px,#0097ff 22px,#00f6ff 26px,#00ffeb 28px,#00ffba 32px,#00ff8c 34px,#00ff24 36px,#00ff0b 37px,#0cff00 38px,#15ff00 39px,#65ff00 42px,#9aff00 45px,#adff00 48px,#abff00 49px,#e2ff00 50px,#fffa00 51px,#fffc00 52px,#d7ff00 53px,#87ff00 54px,#58ff00 55px,#26ff00 57px,#0f0 71px,#0f1 75px,#00ff50 80px,#00ffda 86px,#00fff6 89px,#00f3ff 93px,#00cbff 103px,#0076ff 136px,#0065ff 164px,#006fff 189px,#00abff 205px,#0ff 215px,#0f0 269px,#bfff00 313px,#fffd00 333px,#ffc800 371px,#ff8c00 449px,#ff8400 520px)"></i><i style="left:437px;width:2px;background:linear-gradient(#0081ff 0px,#0081ff 20px,#0092ff 22px,#00f4ff 26px,#00fff7 27px,#00ffb5 32px,#00ff80 34px,#00ff47 35px,#00ff1b 36px,#00ff08 37px,#0aff00 38px,#79ff00 42px,#aeff00 45px,#bfff00 48px,#feff00 49px,#ffcb00 50px,#ffb400 51px,#ffcb00 52px,#f1ff00 53px,#8fff00 54px,#5fff00 55px,#2bff00 57px,#1eff00 59px,#0f0 72px,#00ff18 76px,#00ff53 80px,#00ffd7 86px,#00fff6 89px,#00f4ff 93px,#00cbff 103px,#0076ff 136px,#0065ff 165px,#006fff 189px,#00acff 205px,#00fffd 215px,#00ff70 245px,#05ff00 270px,#b2ff00 309px,#fffe00 332px,#ffc900 370px,#ff8c00 448px,#ff8400 520px)"></i><i style="left:439px;width:2px;background:linear-gradient(#0080ff 0px,#0080ff 20px,#008dff 22px,#00f2ff 26px,#00fff8 27px,#00ffb1 32px,#00ff6e 34px,#00ff3a 35px,#00ff13 36px,#00ff05 37px,#8dff00 42px,#c3ff00 45px,#d2ff00 47px,#fff500 48px,#ffb400 49px,#ff8300 50px,#ff7e00 51px,#ffb100 52px,#f5ff00 53px,#85ff00 54px,#2eff00 57px,#1eff00 58px,#0f0 72px,#00ff0c 75px,#00ff3e 79px,#00ffd5 86px,#00fff0 88px,#00f9ff 92px,#00cbff 103px,#0076ff 136px,#0065ff 165px,#006eff 189px,#00a3ff 204px,#00fdff 214px,#00ff7b 242px,#05ff00 270px,#a4ff00 305px,#fffe00 331px,#ffc900 370px,#ff8c00 447px,#ff8400 520px)"></i><i style="left:441px;width:2px;background:linear-gradient(#007fff 0px,#0084ff 21px,#0089ff 22px,#00efff 26px,#00fff9 27px,#00ffac 32px,#00ff8c 33px,#00ff2e 35px,#00ff0c 36px,#04ff00 37px,#4eff00 39px,#a1ff00 42px,#d9ff00 45px,#e2ff00 46px,#fff800 47px,#ff7000 49px,#ff4600 50px,#ff6100 51px,#ffb100 52px,#e6ff00 53px,#85ff00 54px,#1cff00 58px,#0f0 72px,#00ff09 75px,#00ff3c 79px,#00ff4f 80px,#00ff6f 81px,#00ffe1 87px,#00fff5 89px,#00f4ff 93px,#00cbff 103px,#0076ff 136px,#0065ff 165px,#006eff 189px,#00a4ff 204px,#0ff 214px,#00ff93 236px,#05ff00 270px,#9bff00 302px,#feff00 329px,#ffc700 371px,#ff8c00 447px,#ff8300 520px)"></i><i style="left:443px;width:2px;background:linear-gradient(#007eff 0px,#0081ff 21px,#0084ff 22px,#00edff 26px,#00fff9 27px,#00ffa7 32px,#00ff24 35px,#00ff06 36px,#19ff00 37px,#7fff00 40px,#cdff00 43px,#e1ff00 44px,#eaff00 46px,#ffc800 47px,#ff3500 49px,#ff2800 50px,#ff6900 51px,#ffc700 52px,#c8ff00 53px,#8bff00 54px,#19ff00 58px,#0f0 72px,#00ff05 75px,#00ff28 78px,#00ff4c 80px,#00ff84 82px,#00fff0 88px,#00faff 92px,#00ceff 102px,#07f 135px,#0065ff 165px,#006dff 189px,#00a4ff 204px,#00fffd 214px,#00ff95 235px,#0f0 269px,#96ff00 300px,#fdff00 328px,#ffc600 372px,#ff8c00 447px,#ff8300 520px)"></i><i style="left:445px;width:2px;background:linear-gradient(#007dff 0px,#007fff 22px,#00fffa 27px,#00ffa2 32px,#00ff41 34px,#08ff00 36px,#92ff00 40px,#e4ff00 43px,#e8ff00 45px,#ffed00 46px,#ff5300 48px,#ff2800 49px,#ff3900 50px,#ff8a00 51px,#ffec00 52px,#af0 53px,#17ff00 58px,#0f0 72px,#00ff02 75px,#00ff26 78px,#00ff4a 80px,#00ff86 82px,#00fff0 88px,#00faff 92px,#00ceff 102px,#07f 135px,#0065ff 165px,#006dff 189px,#00a5ff 204px,#00fffb 214px,#00ff97 234px,#00ff09 267px,#05ff00 270px,#95ff00 299px,#ff0 328px,#ffc700 370px,#ff8c00 446px,#ff8200 520px)"></i><i style="left:447px;width:2px;background:linear-gradient(#007dff 0px,#007dff 22px,#00fffb 27px,#00ffa0 32px,#00ff67 33px,#00ff39 34px,#00ff17 35px,#1aff00 36px,#c4ff00 41px,#e1ff00 42px,#e8ff00 45px,#ffcd00 46px,#ff4200 48px,#f30 49px,#ff6b00 50px,#ffb500 51px,#e7ff00 52px,#afff00 53px,#16ff00 58px,#0f0 72px,#0f0 75px,#0f2 78px,#00ff47 80px,#00ff87 82px,#00fff0 88px,#00faff 92px,#00ceff 102px,#07f 135px,#0065ff 165px,#006dff 189px,#00a7ff 204px,#00fcff 213px,#0f9 233px,#00ff0c 266px,#07ff00 270px,#98ff00 299px,#ff0 327px,#ffc800 368px,#ff8b00 445px,#ff8200 520px)"></i><i style="left:449px;width:2px;background:linear-gradient(#007cff 0px,#007cff 22px,#00fffd 27px,#00ff9a 32px,#00ff62 33px,#00ff0f 35px,#2aff00 36px,#d8ff00 41px,#e8ff00 42px,#e8ff00 44px,#fffe00 45px,#ff7c00 47px,#ff5800 48px,#ff6a00 49px,#ffa100 50px,#ffe500 51px,#d0ff00 52px,#16ff00 58px,#0f0 72px,#00ff05 76px,#00ff2e 79px,#00ff5f 81px,#00ff81 82px,#00ffef 88px,#00fbff 92px,#00ceff 102px,#07f 135px,#06f 165px,#006eff 189px,#0af 204px,#00feff 213px,#00ff96 233px,#01ff00 268px,#9cff00 299px,#feff00 326px,#ffc700 367px,#ff8b00 444px,#ff8200 520px)"></i><i style="left:451px;width:2px;background:linear-gradient(#007cff 0px,#007cff 22px,#00c6ff 25px,#0ff 27px,#00ffb2 31px,#00ff94 32px,#00ff5e 33px,#00ff34 34px,#02ff00 35px,#38ff00 36px,#cbff00 40px,#e8ff00 41px,#e8ff00 44px,#fff000 45px,#ffb500 46px,#ff8b00 47px,#ff8400 48px,#ffa300 49px,#ffd900 50px,#e8ff00 51px,#d4ff00 52px,#16ff00 58px,#0f0 73px,#00ff02 76px,#00ff2b 79px,#00ff5a 81px,#00ff96 83px,#00ffef 88px,#00fbff 92px,#00ceff 102px,#07f 135px,#0067ff 165px,#006eff 189px,#00adff 204px,#00fffe 213px,#00ff97 232px,#05ff00 268px,#a1ff00 299px,#faff00 324px,#ffc400 368px,#ff8c00 441px,#ff8200 520px)"></i><i style="left:453px;width:2px;background:linear-gradient(#007bff 0px,#007bff 22px,#00c3ff 25px,#00fdff 27px,#00ffb1 31px,#00ff8f 32px,#00ff5b 33px,#0f3 34px,#1f0 35px,#47ff00 36px,#dcff00 40px,#e8ff00 41px,#e8ff00 44px,#fe0 45px,#ffc100 46px,#ffac00 47px,#ffb600 48px,#ffdb00 49px,#edff00 50px,#e8ff00 51px,#d6ff00 52px,#30ff00 57px,#16ff00 58px,#0f0 73px,#0f0 76px,#00ff27 79px,#00ff56 81px,#00ff96 83px,#0fe 88px,#00fbff 92px,#00ceff 102px,#07f 135px,#0067ff 165px,#006fff 189px,#00b0ff 204px,#00fffb 213px,#00ff94 232px,#04ff00 267px,#a5ff00 299px,#faff00 323px,#ffcb00 359px,#ff8f00 434px,#ff8200 520px)"></i><i style="left:455px;width:2px;background:linear-gradient(#007aff 0px,#007aff 22px,#00a2ff 24px,#00faff 27px,#00ffb1 31px,#00ff8b 32px,#00ff25 34px,#20ff00 35px,#54ff00 36px,#e8ff00 40px,#e8ff00 44px,#fff900 45px,#ffdc00 46px,#ffd700 47px,#ffec00 48px,#eaff00 49px,#e8ff00 51px,#d5ff00 52px,#2cff00 57px,#16ff00 58px,#0f0 73px,#0f0 76px,#00ff25 79px,#00ff53 81px,#00ff95 83px,#00ffed 88px,#00fcff 92px,#00ceff 102px,#07f 135px,#0068ff 166px,#0070ff 189px,#00b4ff 204px,#00fdff 212px,#00ff91 232px,#03ff00 266px,#a9ff00 299px,#f4ff00 320px,#fff500 327px,#ffbc00 372px,#ff8b00 438px,#ff8200 520px)"></i><i style="left:457px;width:2px;background:linear-gradient(#007aff 0px,#007aff 22px,#009eff 24px,#00f8ff 27px,#00ffc5 30px,#00ffb1 31px,#00ff56 33px,#00ff16 34px,#2dff00 35px,#60ff00 36px,#d5ff00 39px,#e8ff00 40px,#e8ff00 44px,#feff00 46px,#e8ff00 48px,#e8ff00 51px,#d3ff00 52px,#27ff00 57px,#16ff00 58px,#0f0 73px,#00ff06 77px,#00ff36 80px,#00ff94 83px,#00ffed 88px,#00f7ff 93px,#00ceff 102px,#07f 135px,#0069ff 166px,#0070ff 189px,#00b7ff 204px,#0ff 212px,#00ffab 226px,#02ff00 265px,#adff00 299px,#efff00 317px,#fff800 325px,#ffd300 348px,#ff9300 420px,#ff8500 469px,#ff8200 520px)"></i><i style="left:459px;width:2px;background:linear-gradient(#0079ff 0px,#0079ff 22px,#009bff 24px,#00f6ff 27px,#00ffda 29px,#00ffb1 31px,#0f5 33px,#00ff09 34px,#6aff00 36px,#e0ff00 39px,#e8ff00 41px,#e8ff00 51px,#acff00 53px,#21ff00 57px,#14ff00 59px,#0f0 73px,#00ff05 77px,#00ff34 80px,#00ff6e 82px,#00ff93 83px,#00ffec 88px,#00f7ff 93px,#00ceff 102px,#07f 135px,#0069ff 166px,#0071ff 189px,#00baff 204px,#00fffc 212px,#00ff94 230px,#01ff00 264px,#b1ff00 299px,#edff00 315px,#fff800 324px,#ffda00 341px,#ff9500 414px,#ff8500 468px,#ff8200 520px)"></i><i style="left:461px;width:2px;background:linear-gradient(#0079ff 0px,#0079ff 22px,#0097ff 24px,#00f4ff 27px,#00fff0 28px,#00ffb1 31px,#00ff50 33px,#02ff00 34px,#42ff00 35px,#9cff00 37px,#e8ff00 39px,#e8ff00 51px,#1aff00 57px,#0f0 73px,#00ff05 77px,#00ff34 80px,#00ff6d 82px,#00ff92 83px,#00ffec 88px,#00f7ff 93px,#00ceff 102px,#07f 135px,#006aff 166px,#0072ff 189px,#00bdff 204px,#00fcff 211px,#00ff8d 231px,#05ff00 264px,#b1ff00 298px,#ebff00 313px,#fff800 323px,#ffd900 340px,#ff9400 413px,#ff8400 468px,#ff8200 520px)"></i><i style="left:463px;width:2px;background:linear-gradient(#0078ff 0px,#0078ff 22px,#0093ff 24px,#00f2ff 27px,#00fff1 28px,#00ffb0 31px,#00ff83 32px,#00ff46 33px,#0bff00 34px,#4aff00 35px,#a4ff00 37px,#e8ff00 39px,#e8ff00 50px,#e1ff00 51px,#17ff00 57px,#0f0 73px,#00ff05 77px,#0f3 80px,#00ff6c 82px,#00ff91 83px,#00ffeb 88px,#00f8ff 93px,#00ceff 102px,#07f 135px,#006bff 166px,#0072ff 189px,#00c0ff 204px,#0ff 211px,#00ffad 224px,#04ff00 263px,#b5ff00 298px,#ecff00 312px,#fffa00 321px,#ffd900 338px,#ff9400 410px,#ff8300 466px,#ff8200 520px)"></i><i style="left:465px;width:2px;background:linear-gradient(#07f 0px,#07f 22px,#008fff 24px,#00f0ff 27px,#00fff2 28px,#00ffb0 31px,#00ff84 32px,#00ff3d 33px,#12ff00 34px,#50ff00 35px,#af0 37px,#d0ff00 38px,#e8ff00 39px,#e8ff00 50px,#d6ff00 51px,#2cff00 56px,#17ff00 57px,#0f0 73px,#00ff05 77px,#0f3 80px,#00ff6c 82px,#00ff91 83px,#00ffea 88px,#00f8ff 93px,#00d1ff 101px,#07f 135px,#006bff 166px,#0073ff 189px,#00c4ff 204px,#00faff 210px,#0f8 231px,#03ff00 262px,#beff00 299px,#edff00 311px,#fffa00 320px,#ffd600 338px,#ff9200 411px,#ff8300 470px,#ff8200 520px)"></i><i style="left:467px;width:2px;background:linear-gradient(#07f 0px,#07f 22px,#008bff 24px,#0ef 27px,#00fff3 28px,#00ffb0 31px,#00ff85 32px,#00ff37 33px,#17ff00 34px,#54ff00 35px,#adff00 37px,#d3ff00 38px,#e8ff00 39px,#e8ff00 50px,#2f0 56px,#15ff00 58px,#0f0 73px,#00ff06 77px,#00ff34 80px,#00ff90 83px,#00ffea 88px,#00f8ff 93px,#00d1ff 101px,#07f 135px,#006cff 167px,#0074ff 189px,#00c7ff 204px,#00fdff 210px,#00ff8a 230px,#02ff00 261px,#c2ff00 299px,#f1ff00 311px,#fff900 319px,#ffd400 338px,#ff8f00 412px,#ff8200 475px,#ff8200 520px)"></i><i style="left:469px;width:2px;background:linear-gradient(#0076ff 0px,#0076ff 22px,#08f 24px,#00ebff 27px,#00fff4 28px,#00ffb0 31px,#00ff87 32px,#00ff34 33px,#1aff00 34px,#57ff00 35px,#afff00 37px,#d4ff00 38px,#e8ff00 39px,#e8ff00 49px,#df0 50px,#18ff00 56px,#0f0 74px,#00ff06 77px,#00ff36 80px,#00ff8f 83px,#00ffe9 88px,#00f9ff 93px,#00d1ff 101px,#07f 135px,#006dff 167px,#0074ff 189px,#00caff 204px,#00fffe 210px,#00ff91 228px,#01ff00 260px,#c7ff00 299px,#f2ff00 310px,#fff800 318px,#ffd000 339px,#ff8c00 414px,#ff8200 488px,#ff8200 520px)"></i><i style="left:471px;width:2px;background:linear-gradient(#0076ff 0px,#0076ff 22px,#0084ff 24px,#00e9ff 27px,#00fff5 28px,#00ffb0 31px,#00ff8a 32px,#0f3 33px,#1aff00 34px,#57ff00 35px,#aeff00 37px,#d2ff00 38px,#e8ff00 39px,#e8ff00 49px,#4eff00 54px,#2cff00 55px,#18ff00 56px,#0f0 74px,#0f0 76px,#00ff24 79px,#00ff51 81px,#00ff8e 83px,#00ffe9 88px,#00f9ff 93px,#00d1ff 101px,#07f 135px,#006eff 167px,#0075ff 189px,#00cdff 204px,#00fcff 209px,#00ff84 230px,#05ff00 260px,#cbff00 299px,#f7ff00 310px,#fff200 319px,#fc0 341px,#ff8a00 415px,#ff8100 493px,#ff8200 520px)"></i><i style="left:473px;width:2px;background:linear-gradient(#0075ff 0px,#0075ff 22px,#0080ff 24px,#00e7ff 27px,#00fff6 28px,#00ffb0 31px,#00ff8e 32px,#00ff35 33px,#18ff00 34px,#5f0 35px,#abff00 37px,#e8ff00 39px,#e8ff00 48px,#daff00 49px,#1fff00 55px,#0eff00 63px,#0f0 75px,#00ff09 77px,#00ff3a 80px,#00ff8d 83px,#00ffe8 88px,#00f9ff 93px,#00d1ff 101px,#0078ff 135px,#006eff 167px,#0076ff 189px,#00c8ff 203px,#0ff 209px,#00ff86 229px,#04ff00 259px,#d4ff00 300px,#fbff00 310px,#ffc900 341px,#f80 415px,#ff8100 497px,#ff8200 520px)"></i><i style="left:475px;width:2px;background:linear-gradient(#0074ff 0px,#0078ff 23px,#007cff 24px,#00e5ff 27px,#00fff7 28px,#00ff92 32px,#00ff39 33px,#14ff00 34px,#50ff00 35px,#a6ff00 37px,#e4ff00 39px,#e8ff00 47px,#e1ff00 48px,#52ff00 53px,#19ff00 55px,#0f0 75px,#00ff0b 77px,#00ff3d 80px,#00ff8c 83px,#00ffe7 88px,#00faff 93px,#00d1ff 101px,#0078ff 135px,#006fff 167px,#0076ff 189px,#00cbff 203px,#00fcff 208px,#00ff7f 230px,#04ff00 258px,#df0 301px,#fdff00 309px,#ffc700 341px,#ff8600 415px,#ff8100 502px,#ff8200 520px)"></i><i style="left:477px;width:2px;background:linear-gradient(#0074ff 0px,#0079ff 24px,#00e3ff 27px,#00fff8 28px,#00ff97 32px,#00ff40 33px,#0dff00 34px,#49ff00 35px,#9fff00 37px,#daff00 39px,#e8ff00 40px,#e4ff00 47px,#7eff00 51px,#2f0 54px,#17ff00 56px,#00ff04 76px,#00ff2b 79px,#00ff79 82px,#00ffe7 88px,#00faff 93px,#00d1ff 101px,#0078ff 135px,#0070ff 168px,#07f 189px,#00ceff 203px,#0ff 208px,#00ff81 229px,#03ff00 257px,#e6ff00 302px,#ff0 308px,#ffc600 340px,#ff8400 415px,#ff8100 509px,#ff8200 520px)"></i><i style="left:479px;width:2px;background:linear-gradient(#0073ff 0px,#0075ff 24px,#00fff9 28px,#00ff96 32px,#04ff00 34px,#40ff00 35px,#70ff00 36px,#b3ff00 38px,#e2ff00 40px,#e8ff00 44px,#e1ff00 46px,#a2ff00 49px,#19ff00 54px,#00ff01 75px,#00ff1c 78px,#00ff5f 81px,#00ff9d 84px,#00ffe6 88px,#00faff 93px,#00d1ff 101px,#0078ff 135px,#0071ff 168px,#0078ff 189px,#00d1ff 203px,#00fffc 208px,#00ff7e 229px,#02ff00 256px,#6dff00 277px,#fffc00 307px,#ffc200 341px,#ff8300 415px,#ff8200 516px,#ff8200 520px)"></i><i style="left:481px;width:2px;background:linear-gradient(#0073ff 0px,#0073ff 24px,#00fffa 28px,#00ff96 32px,#00ff56 33px,#00ff08 34px,#64ff00 36px,#a7ff00 38px,#d4ff00 40px,#e7ff00 43px,#cf0 46px,#8fff00 49px,#20ff00 53px,#15ff00 58px,#00ff02 75px,#00ff1f 78px,#00ff8a 83px,#00ffe6 88px,#00faff 93px,#00d1ff 101px,#0078ff 135px,#0071ff 167px,#0079ff 189px,#00d3ff 203px,#00fffa 208px,#00ff7d 229px,#0f0 255px,#71ff00 277px,#fffe00 303px,#ffe400 308px,#ffb200 340px,#ff7c00 415px,#ff8200 520px)"></i><i style="left:483px;width:2px;background:linear-gradient(#0073ff 0px,#0073ff 24px,#00fffa 28px,#00ff96 32px,#00ff64 33px,#00ff16 34px,#28ff00 35px,#57ff00 36px,#9f0 38px,#c4ff00 40px,#d3ff00 43px,#b7ff00 46px,#7bff00 51px,#1eff00 55px,#0f0 74px,#00ff14 77px,#00ff4e 80px,#00ff69 81px,#00ffe6 88px,#00faff 93px,#00d1ff 101px,#0078ff 135px,#0071ff 166px,#007cff 189px,#00d5ff 203px,#00fffa 208px,#00ff7d 229px,#02ff00 255px,#94ff00 283px,#feff00 299px,#ffbe00 307px,#ff9e00 323px,#ff7900 385px,#ff7100 435px,#ff8200 520px)"></i><i style="left:485px;width:2px;background:linear-gradient(#0073ff 0px,#0073ff 24px,#00fffd 28px,#00ff9a 32px,#00ff73 33px,#00ff2b 34px,#14ff00 35px,#45ff00 36px,#8f0 38px,#b1ff00 40px,#bf0 43px,#a5ff00 46px,#a7ff00 50px,#a0ff00 51px,#7eff00 53px,#4f0 55px,#1fff00 56px,#07ff00 57px,#00ff02 74px,#00ff1e 77px,#00ff72 81px,#00ffe9 88px,#00f9ff 93px,#00d1ff 101px,#0079ff 135px,#0072ff 165px,#0084ff 189px,#00e6ff 204px,#00fffd 207px,#00ff7f 228px,#05ff00 255px,#9eff00 284px,#fffa00 298px,#ffa900 307px,#ff8900 322px,#ff6e00 385px,#ff6c00 444px,#ff8200 520px)"></i><i style="left:487px;width:2px;background:linear-gradient(#0073ff 0px,#0073ff 24px,#00d5ff 27px,#00faff 28px,#00ff8a 33px,#00ff07 35px,#54ff00 37px,#87ff00 39px,#9dff00 41px,#98ff00 44px,#95ff00 45px,#b5ff00 48px,#d4ff00 50px,#d9ff00 51px,#cfff00 52px,#b7ff00 53px,#6dff00 55px,#13ff00 57px,#0f0 58px,#00ff04 73px,#00ff21 76px,#00ff5d 79px,#00ff78 80px,#0fe 88px,#00f7ff 93px,#00cfff 102px,#007aff 135px,#0073ff 163px,#008eff 187px,#009eff 191px,#00f3ff 204px,#00fff2 207px,#00ff73 229px,#05ff00 254px,#a4ff00 284px,#fffc00 297px,#ffa700 307px,#ff8600 322px,#ff6c00 385px,#ff6b00 440px,#ff8200 520px)"></i><i style="left:489px;width:2px;background:linear-gradient(#0073ff 0px,#0073ff 24px,#0af 26px,#00f3ff 28px,#00fff0 29px,#00ffab 32px,#00ff96 33px,#00ff64 34px,#00ff27 35px,#0fff00 36px,#57ff00 38px,#7eff00 40px,#86ff00 43px,#7fff00 44px,#9bff00 46px,#cbff00 48px,#ebff00 49px,#f0ff00 52px,#eaff00 53px,#0f0 58px,#00ff04 72px,#00ff24 75px,#00ff60 78px,#00ff8d 80px,#00fff4 88px,#00f5ff 93px,#0cf 103px,#007cff 136px,#0075ff 162px,#0090ff 183px,#00a5ff 190px,#00fffe 204px,#00ffc3 213px,#00ff56 234px,#05ff00 253px,#98ff00 281px,#ff0 296px,#ffa300 308px,#ff8400 321px,#ff6900 385px,#ff6900 436px,#ff8200 520px)"></i><i style="left:491px;width:2px;background:linear-gradient(#0073ff 0px,#0073ff 24px,#00a3ff 26px,#00ecff 28px,#00fff5 29px,#00ffc6 31px,#00ffa0 33px,#00ff82 34px,#00ff14 36px,#16ff00 37px,#50ff00 39px,#69ff00 41px,#6cff00 43px,#6f0 44px,#afff00 47px,#f0ff00 49px,#f0ff00 53px,#ceff00 54px,#0f0 58px,#00ff04 71px,#00ff3a 75px,#00ff98 79px,#00fffa 88px,#00e6ff 96px,#00abff 115px,#007dff 137px,#07f 162px,#0093ff 181px,#00b8ff 191px,#00fcff 202px,#00ffb9 213px,#00ff20 244px,#06ff00 252px,#98ff00 280px,#fffa00 296px,#ffa100 308px,#ff8100 321px,#ff6700 385px,#ff6700 434px,#ff8200 520px)"></i><i style="left:493px;width:2px;background:linear-gradient(#0073ff 0px,#0073ff 24px,#009cff 26px,#00e5ff 28px,#00fffb 29px,#0fd 30px,#0f9 34px,#00ff12 37px,#1f0 38px,#3eff00 40px,#4dff00 43px,#4bff00 44px,#9cff00 47px,#eaff00 49px,#f0ff00 52px,#eaff00 53px,#0f0 58px,#0f0 69px,#00ff14 71px,#00ff56 75px,#00ffa1 78px,#0ff 88px,#00acff 115px,#007fff 137px,#07f 161px,#009aff 181px,#0cf 192px,#00fffa 201px,#00ffb4 212px,#01ff00 250px,#91ff00 278px,#fffc00 295px,#ffa100 307px,#ff7e00 321px,#ff6500 385px,#f60 432px,#ff8200 520px)"></i><i style="left:495px;width:2px;background:linear-gradient(#0073ff 0px,#0073ff 24px,#0096ff 26px,#00fdff 29px,#00ffe2 30px,#00ff95 35px,#00ff1e 38px,#00ff02 39px,#1dff00 41px,#25ff00 44px,#3f0 45px,#b7ff00 49px,#cfff00 50px,#d8ff00 51px,#cfff00 52px,#b7ff00 53px,#6dff00 55px,#13ff00 57px,#0f0 58px,#0f0 68px,#00ff3c 72px,#00ff78 75px,#00ffbf 78px,#00fffd 87px,#00a2ff 120px,#0081ff 137px,#0079ff 161px,#009cff 180px,#00e6ff 194px,#00fff9 199px,#0fa 212px,#02ff00 249px,#96ff00 278px,#fffe00 294px,#ffa000 307px,#ff7b00 321px,#ff6300 385px,#ff6400 430px,#ff8200 520px)"></i><i style="left:497px;width:2px;background:linear-gradient(#0073ff 0px,#0073ff 24px,#008fff 26px,#00f7ff 29px,#00ffe7 30px,#00ff93 36px,#00ff38 39px,#0f2 40px,#00ff0b 43px,#00ff0b 45px,#0cff00 46px,#3cff00 47px,#79ff00 49px,#8aff00 50px,#90ff00 51px,#8aff00 52px,#5fff00 54px,#18ff00 56px,#0f0 57px,#00ff03 67px,#00ff71 73px,#00ffd3 77px,#00faff 87px,#00dcff 98px,#0087ff 133px,#007bff 161px,#00a3ff 180px,#00fffe 196px,#00ffa5 211px,#02ff00 248px,#9bff00 278px,#feff00 293px,#ff9e00 307px,#ff7800 321px,#ff6100 385px,#ff6200 429px,#ff8200 520px)"></i><i style="left:499px;width:2px;background:linear-gradient(#0073ff 0px,#0073ff 24px,#08f 26px,#00f1ff 29px,#00ffec 30px,#00ffa5 36px,#00ffa4 37px,#00ff96 38px,#00ff62 40px,#00ff47 43px,#00ff39 45px,#00ff15 47px,#15ff00 48px,#36ff00 49px,#48ff00 51px,#36ff00 53px,#06ff00 55px,#0f0 60px,#00ff01 65px,#00ff58 70px,#00ffcf 75px,#00ffea 76px,#00faff 85px,#00edff 90px,#00e0ff 97px,#008fff 130px,#007fff 148px,#007dff 161px,#00a9ff 180px,#00fffd 194px,#00ffa4 209px,#03ff00 247px,#9aff00 277px,#fffb00 293px,#ffa100 306px,#ff7600 321px,#ff5e00 385px,#ff6000 428px,#ff8000 510px,#ff8200 520px)"></i><i style="left:501px;width:2px;background:linear-gradient(#0073ff 0px,#0073ff 24px,#0081ff 26px,#00ebff 29px,#00fff0 30px,#00ffb4 36px,#0fb 39px,#00ff13 50px,#0f0 52px,#0f0 62px,#0f3 66px,#00ff9b 71px,#00faff 75px,#00e9ff 92px,#00c7ff 106px,#0087ff 137px,#007cff 160px,#00b0ff 180px,#00fcff 191px,#00ff9d 208px,#04ff00 246px,#9fff00 277px,#fffd00 292px,#ff9e00 306px,#ff7300 321px,#ff5c00 385px,#ff5e00 427px,#ff7e00 501px,#ff8200 520px)"></i><i style="left:503px;width:2px;background:linear-gradient(#0073ff 0px,#0076ff 25px,#007aff 26px,#00e6ff 29px,#00fff5 30px,#00ffc3 36px,#00ffd8 40px,#0f7 46px,#00ff2d 51px,#00ff0e 55px,#00ff0f 59px,#00ff31 63px,#00ff73 67px,#00ffeb 72px,#00f7ff 73px,#00dcff 74px,#00e5ff 95px,#0092ff 130px,#007dff 157px,#0090ff 167px,#00aeff 179px,#00fdff 189px,#00ff96 207px,#04ff00 245px,#a4ff00 277px,#ff0 291px,#ffa000 305px,#ff7000 320px,#ff5a00 385px,#ff5c00 426px,#ff7c00 495px,#ff8200 520px)"></i><i style="left:505px;width:2px;background:linear-gradient(#0073ff 0px,#0073ff 26px,#00fffa 30px,#00ffd2 36px,#00fffb 41px,#00ffd1 44px,#0f7 49px,#00ff48 53px,#00ff39 57px,#00ff4c 61px,#00ff82 65px,#00ffd8 69px,#00fff2 70px,#00f1ff 71px,#00bfff 73px,#00e6ff 94px,#008cff 134px,#0080ff 160px,#00b4ff 179px,#00fffa 188px,#00ff8f 206px,#00ff08 241px,#0aff00 245px,#a9ff00 277px,#fffa00 291px,#ff9d00 305px,#ff6e00 320px,#ff5800 385px,#ff5b00 425px,#ff7c00 491px,#ff8200 520px)"></i><i style="left:507px;width:2px;background:linear-gradient(#0072ff 0px,#0072ff 25px,#0078ff 26px,#00e6ff 29px,#00fff9 30px,#00ffd5 36px,#0ff 41px,#00f7ff 43px,#00fff8 44px,#00ffa2 49px,#0f7 53px,#00ff68 57px,#00ff7c 61px,#00ffb2 65px,#00ffef 68px,#00f7ff 69px,#00c3ff 71px,#00b8ff 72px,#00cdff 83px,#00e4ff 93px,#008cff 133px,#008cff 160px,#00c4ff 179px,#00feff 186px,#00ff87 206px,#04ff00 242px,#a1ff00 275px,#fffa00 291px,#ff9f00 305px,#ff6d00 321px,#ff5700 381px,#ff5900 423px,#ff7c00 488px,#ff8200 520px)"></i><i style="left:509px;width:2px;background:linear-gradient(#0072ff 0px,#0072ff 25px,#007dff 26px,#00ecff 29px,#00fff8 30px,#00ffd8 36px,#00fbff 41px,#00e1ff 44px,#00fffe 46px,#00ffb9 51px,#00ff9d 55px,#00ffa1 59px,#00ffc5 63px,#00fff6 66px,#00f3ff 67px,#00b2ff 70px,#00b9ff 78px,#00cfff 85px,#00e2ff 91px,#00dcff 98px,#00a1ff 121px,#008aff 137px,#0094ff 159px,#00dcff 180px,#00fffc 185px,#00ff84 205px,#03ff00 240px,#9fff00 274px,#fffb00 291px,#ff9e00 306px,#ff6d00 321px,#ff5600 379px,#ff5900 422px,#ff7d00 486px,#ff8200 520px)"></i><i style="left:511px;width:2px;background:linear-gradient(#0071ff 0px,#0071ff 25px,#0081ff 26px,#00f1ff 29px,#00fff7 30px,#00ffdb 36px,#00fffe 40px,#00d9ff 45px,#00d5ff 46px,#00feff 49px,#00ffd6 54px,#00ffd2 58px,#0fe 62px,#00f6ff 64px,#00abff 68px,#00b1ff 78px,#00bfff 83px,#00e2ff 90px,#00dcff 98px,#00a2ff 119px,#0089ff 136px,#09f 155px,#00bfff 168px,#00ebff 180px,#00fff7 184px,#00ff78 206px,#03ff00 238px,#9f0 272px,#fffb00 291px,#ff9b00 307px,#ff6c00 322px,#f50 378px,#ff5800 421px,#ff7e00 484px,#ff8200 520px)"></i><i style="left:513px;width:2px;background:linear-gradient(#0070ff 0px,#0070ff 25px,#0086ff 26px,#00f7ff 29px,#00fff2 31px,#0fd 36px,#00fcff 40px,#00d3ff 45px,#00c8ff 48px,#00f1ff 54px,#00f5ff 58px,#00d9ff 62px,#00a5ff 66px,#0af 78px,#00b7ff 83px,#00e3ff 89px,#00dbff 99px,#00a3ff 117px,#08f 136px,#009dff 153px,#00dbff 172px,#00fffd 181px,#00ff75 205px,#00ff01 235px,#93ff00 270px,#fffb00 291px,#ff9300 309px,#ff6700 324px,#ff5400 380px,#ff5800 421px,#ff7f00 483px,#ff8200 520px)"></i><i style="left:515px;width:2px;background:linear-gradient(#006fff 0px,#006fff 25px,#008bff 26px,#00fdff 29px,#00ffeb 33px,#00ffe0 36px,#00fffd 39px,#00ceff 45px,#00b0ff 52px,#00beff 57px,#0af 61px,#009fff 63px,#00a1ff 77px,#00a7ff 82px,#00e4ff 89px,#00d8ff 100px,#00a1ff 117px,#0086ff 135px,#00a1ff 152px,#00fffa 179px,#00ff4d 212px,#04ff00 234px,#92ff00 269px,#feff00 290px,#ff9100 310px,#f60 325px,#ff5200 379px,#ff5700 420px,#ff8000 482px,#ff8200 520px)"></i><i style="left:517px;width:2px;background:linear-gradient(#006fff 0px,#006fff 25px,#00fffb 29px,#00ffe3 36px,#00feff 39px,#00c8ff 45px,#009eff 55px,#0096ff 74px,#009fff 82px,#00e5ff 89px,#00d4ff 101px,#00a0ff 116px,#0085ff 135px,#00a4ff 151px,#00fffb 175px,#00ff2d 218px,#02ff00 231px,#92ff00 268px,#feff00 290px,#ffca00 300px,#ff8e00 311px,#ff6400 326px,#ff5100 378px,#ff5600 420px,#ff8100 478px,#ff8200 520px)"></i><i style="left:519px;width:2px;background:linear-gradient(#006eff 0px,#006eff 25px,#00e2ff 28px,#00fff5 29px,#00ffe6 36px,#00faff 39px,#00c3ff 45px,#0095ff 55px,#008fff 73px,#0096ff 82px,#00e6ff 89px,#00d4ff 101px,#009dff 116px,#0084ff 135px,#00a9ff 151px,#00fffc 171px,#00ff5f 205px,#00ff20 219px,#04ff00 229px,#91ff00 267px,#feff00 290px,#ffd200 299px,#ff8f00 311px,#ff6300 326px,#ff5000 377px,#f50 419px,#ff8200 475px,#ff8200 520px)"></i><i style="left:521px;width:2px;background:linear-gradient(#006eff 0px,#0073ff 25px,#00e5ff 28px,#00fff5 29px,#00ffe7 36px,#00f9ff 39px,#00c2ff 45px,#0095ff 55px,#008dff 73px,#09f 82px,#00e5ff 89px,#00d6ff 100px,#009bff 116px,#0087ff 135px,#00afff 151px,#0ff 169px,#00ff5a 205px,#00ff17 220px,#06ff00 228px,#9dff00 268px,#fffe00 289px,#ffcb00 299px,#ff8a00 311px,#ff5f00 326px,#ff4d00 378px,#ff5300 420px,#ff8100 476px,#ff8200 520px)"></i><i style="left:523px;width:2px;background:linear-gradient(#006eff 0px,#0073ff 24px,#0078ff 25px,#00e8ff 28px,#00fff6 29px,#00ffe8 36px,#00f8ff 39px,#00c1ff 45px,#0095ff 55px,#008cff 74px,#009bff 82px,#00e4ff 89px,#00d8ff 99px,#009cff 114px,#0089ff 135px,#00b5ff 151px,#00fffe 168px,#00ff50 206px,#00ff07 223px,#14ff00 230px,#a5ff00 268px,#ff0 287px,#ffca00 298px,#ff8500 311px,#ff5b00 326px,#ff4a00 379px,#ff5000 420px,#ff7f00 478px,#ff8200 520px)"></i><i style="left:525px;width:2px;background:linear-gradient(#006eff 0px,#006eff 23px,#007cff 25px,#00eaff 28px,#00fff6 29px,#00ffe8 36px,#00f8ff 39px,#00bfff 45px,#0094ff 55px,#008aff 74px,#009eff 82px,#00e2ff 89px,#00dbff 97px,#009aff 114px,#008cff 135px,#0bf 151px,#00fffd 167px,#00ff46 207px,#00ff01 223px,#acff00 268px,#fffd00 286px,#ffc200 298px,#ff7f00 311px,#ff5700 326px,#ff4600 380px,#ff4d00 420px,#ff7e00 479px,#ff8200 520px)"></i><i style="left:527px;width:2px;background:linear-gradient(#006eff 0px,#006eff 23px,#0081ff 25px,#00edff 28px,#00fff6 29px,#00ffe9 36px,#00fffd 38px,#00b8ff 46px,#0092ff 56px,#08f 74px,#00a1ff 82px,#00e1ff 89px,#00dcff 96px,#00a3ff 110px,#0091ff 121px,#008fff 135px,#00c6ff 152px,#00fffc 166px,#00ff76 196px,#00ff04 221px,#b4ff00 268px,#fffa00 285px,#fb0 298px,#ff7d00 310px,#ff5300 326px,#ff4300 381px,#ff4b00 421px,#ff7e00 480px,#ff8200 520px)"></i><i style="left:529px;width:2px;background:linear-gradient(#006eff 0px,#006eff 23px,#0086ff 25px,#00f0ff 28px,#00fff7 29px,#00ffea 36px,#00fffe 38px,#00b6ff 46px,#0092ff 56px,#0086ff 74px,#00a4ff 82px,#00e0ff 89px,#00dfff 95px,#00a3ff 109px,#008fff 120px,#0091ff 135px,#00d1ff 153px,#00fffa 165px,#00ff8d 190px,#00ff02 220px,#c0ff00 269px,#fffd00 283px,#ffb400 298px,#ff7a00 309px,#ff4f00 326px,#ff4000 382px,#ff4800 421px,#ff7d00 481px,#ff8200 520px)"></i><i style="left:531px;width:2px;background:linear-gradient(#006eff 0px,#006eff 23px,#008bff 25px,#00f2ff 28px,#00fff7 29px,#00ffeb 36px,#0ff 38px,#00b4ff 46px,#008fff 57px,#0084ff 74px,#00b0ff 83px,#00dfff 89px,#00dfff 95px,#00a2ff 108px,#008eff 120px,#0094ff 135px,#00d7ff 153px,#00fffd 163px,#00ffa4 184px,#00ff01 219px,#cf0 270px,#fffb00 282px,#ffb300 297px,#ff7800 308px,#ff4b00 326px,#ff3d00 384px,#ff4600 422px,#ff7c00 482px,#ff8200 520px)"></i><i style="left:533px;width:2px;background:linear-gradient(#006eff 0px,#006eff 23px,#0090ff 25px,#00f5ff 28px,#00fff5 30px,#00ffec 36px,#00feff 38px,#00b3ff 46px,#008fff 57px,#0082ff 74px,#00b3ff 83px,#00deff 89px,#00dfff 95px,#00a1ff 107px,#008cff 120px,#0096ff 135px,#00fffc 162px,#00ffa8 182px,#0f0 218px,#d8ff00 271px,#fffd00 280px,#ffb200 296px,#ff7600 307px,#ff4700 326px,#ff3a00 385px,#ff4300 422px,#ff7c00 483px,#ff8200 520px)"></i><i style="left:535px;width:2px;background:linear-gradient(#006eff 0px,#006eff 23px,#0094ff 25px,#00f8ff 28px,#00fff4 31px,#00ffec 36px,#00feff 38px,#00b1ff 46px,#008aff 59px,#0081ff 74px,#00b5ff 83px,#00deff 90px,#00e4ff 94px,#009dff 107px,#008cff 121px,#09f 135px,#00fffa 161px,#00ffa8 181px,#01ff00 217px,#e4ff00 272px,#fffb00 279px,#ffb000 295px,#ff7400 306px,#ff4300 326px,#ff3600 387px,#ff4100 423px,#ff7c00 484px,#ff8200 520px)"></i><i style="left:537px;width:2px;background:linear-gradient(#006eff 0px,#006eff 23px,#09f 25px,#00fbff 28px,#00ffef 35px,#00ffed 36px,#00fdff 38px,#00b0ff 46px,#0086ff 60px,#007fff 74px,#00dbff 89px,#00e5ff 94px,#09f 107px,#008aff 121px,#009cff 135px,#00fffc 159px,#00ffa8 180px,#02ff00 216px,#f0ff00 273px,#fff800 278px,#ffaf00 294px,#ff6d00 306px,#ff3f00 326px,#f30 390px,#ff3f00 425px,#ff7b00 484px,#ff8200 520px)"></i><i style="left:539px;width:2px;background:linear-gradient(#006eff 0px,#006eff 23px,#009eff 25px,#00fdff 28px,#0fe 36px,#00fcff 38px,#00aeff 46px,#0084ff 61px,#007dff 74px,#0cf 86px,#00e5ff 94px,#0095ff 107px,#0089ff 121px,#009eff 135px,#00fffe 157px,#00ffa8 179px,#02ff00 215px,#fffe00 275px,#ffae00 293px,#ff6900 305px,#ff3b00 326px,#ff3000 393px,#ff4000 430px,#ff7800 481px,#ff8200 520px)"></i><i style="left:541px;width:2px;background:linear-gradient(#006eff 0px,#006eff 23px,#00e1ff 27px,#00fffe 28px,#00ffef 36px,#00fbff 38px,#00acff 46px,#0083ff 62px,#007bff 74px,#00c9ff 85px,#00e5ff 94px,#0092ff 106px,#08f 121px,#00a1ff 135px,#00fffc 156px,#00ffa7 178px,#03ff00 214px,#fffb00 274px,#ffac00 292px,#ff6200 305px,#ff3700 326px,#ff2d00 397px,#ff4300 434px,#ff7900 484px,#ff8200 520px)"></i><i style="left:543px;width:2px;background:linear-gradient(#006eff 0px,#006eff 23px,#00fffb 28px,#00fff0 36px,#00faff 38px,#00abff 46px,#0081ff 62px,#0079ff 74px,#00caff 85px,#00e6ff 94px,#008eff 106px,#0087ff 121px,#00a4ff 135px,#00fffd 154px,#00ffa2 178px,#00ff01 212px,#fffd00 272px,#ffa500 292px,#ff5b00 305px,#f30 327px,#ff2a00 404px,#f40 437px,#ff7900 486px,#ff8200 520px)"></i><i style="left:545px;width:2px;background:linear-gradient(#006eff 0px,#0071ff 23px,#00e8ff 27px,#00fff9 28px,#0fe 36px,#00fcff 38px,#00aeff 46px,#0082ff 62px,#007aff 74px,#00cbff 85px,#00e5ff 94px,#008eff 106px,#08f 121px,#00a6ff 135px,#00fffb 154px,#00ffa1 178px,#01ff00 212px,#a8ff00 251px,#fffe00 271px,#ffa200 292px,#ff5800 305px,#ff3100 327px,#ff2800 404px,#ff4300 437px,#ff7800 484px,#ff8200 520px)"></i><i style="left:547px;width:2px;background:linear-gradient(#006eff 0px,#0073ff 22px,#0078ff 23px,#00edff 27px,#00fff6 28px,#00ffeb 36px,#00fffe 38px,#00b5ff 46px,#0083ff 63px,#007dff 74px,#00caff 85px,#00e2ff 94px,#0092ff 106px,#008bff 121px,#00a7ff 135px,#00fffc 154px,#00ffa2 178px,#0f0 212px,#a4ff00 250px,#fffa00 272px,#ffa100 292px,#ff5800 305px,#ff3000 326px,#ff2800 404px,#ff4600 438px,#ff7500 480px,#ff8200 520px)"></i><i style="left:549px;width:2px;background:linear-gradient(#006eff 0px,#006eff 21px,#007eff 23px,#00d8ff 26px,#00f1ff 27px,#00fff3 28px,#00ffe8 35px,#00fff0 37px,#00f3ff 40px,#00b8ff 47px,#0085ff 63px,#0081ff 74px,#00caff 85px,#00dfff 94px,#0095ff 107px,#008eff 121px,#00a9ff 135px,#00fffd 154px,#00ff9e 179px,#04ff00 213px,#a0ff00 249px,#fffa00 272px,#ffa100 292px,#ff5800 305px,#ff3000 324px,#ff2800 404px,#ff4b00 440px,#ff7200 477px,#ff8200 520px)"></i><i style="left:551px;width:2px;background:linear-gradient(#006eff 0px,#006eff 21px,#0084ff 23px,#00c6ff 25px,#00f6ff 27px,#00fff0 28px,#00ffe3 34px,#00ffe4 36px,#00fffe 39px,#00bfff 47px,#0086ff 64px,#0085ff 74px,#00c9ff 85px,#00dcff 94px,#09f 107px,#0092ff 121px,#0af 135px,#00fffb 155px,#00ff9f 179px,#04ff00 213px,#9cff00 248px,#fffb00 272px,#ff9b00 293px,#f50 306px,#ff3600 319px,#ff2b00 343px,#ff2b00 408px,#ff5100 443px,#ff7500 480px,#ff8200 520px)"></i><i style="left:553px;width:2px;background:linear-gradient(#006eff 0px,#006eff 21px,#008bff 23px,#00ceff 25px,#00fbff 27px,#00ffed 28px,#00ffde 33px,#00ffe1 36px,#00fdff 40px,#00c6ff 47px,#0087ff 64px,#08f 74px,#00c9ff 85px,#00daff 94px,#009cff 107px,#0095ff 121px,#00acff 135px,#00fffc 155px,#00ff9b 180px,#03ff00 213px,#8cff00 244px,#fffc00 272px,#ff9b00 293px,#f50 306px,#ff3700 317px,#ff2c00 336px,#ff2a00 406px,#ff5600 445px,#ff7900 484px,#ff8200 520px)"></i><i style="left:555px;width:2px;background:linear-gradient(#006eff 0px,#006eff 21px,#0091ff 23px,#00d6ff 25px,#0ff 27px,#00ffea 28px,#00ffda 33px,#00ffe5 37px,#00fbff 41px,#00cdff 47px,#0089ff 64px,#0091ff 75px,#00cbff 86px,#00d7ff 94px,#00a0ff 107px,#0098ff 121px,#00adff 135px,#00fffd 155px,#00ff9d 180px,#03ff00 213px,#7cff00 240px,#fffc00 272px,#ff9500 294px,#f50 306px,#ff3600 316px,#ff2b00 338px,#ff2a00 406px,#ff5f00 450px,#ff7d00 498px,#ff8200 520px)"></i><i style="left:557px;width:2px;background:linear-gradient(#006eff 0px,#006eff 21px,#0098ff 23px,#00deff 25px,#00fffa 27px,#00ffe7 28px,#00ffd3 32px,#00ffe1 37px,#00fffe 41px,#00cfff 48px,#008bff 64px,#0094ff 75px,#00cbff 86px,#00d0ff 95px,#00a4ff 107px,#009dff 122px,#00afff 135px,#00fffb 156px,#0f9 181px,#02ff00 213px,#70ff00 237px,#fffd00 272px,#ff9400 294px,#ff5100 307px,#ff3400 316px,#ff2900 347px,#ff2c00 408px,#ff6c00 462px,#ff8200 520px)"></i><i style="left:559px;width:2px;background:linear-gradient(#006eff 0px,#006eff 21px,#009eff 23px,#00e6ff 25px,#00fff6 27px,#00ffe5 28px,#00ffce 32px,#0fd 37px,#00feff 42px,#00d1ff 49px,#008dff 64px,#0097ff 75px,#00caff 86px,#00ceff 95px,#00a7ff 108px,#00a0ff 122px,#00b0ff 135px,#00fffd 156px,#00ff95 182px,#02ff00 213px,#64ff00 234px,#fffd00 272px,#ff8e00 295px,#ff4c00 308px,#ff3200 316px,#ff2500 374px,#ff2e00 409px,#ff6d00 461px,#ff8200 520px)"></i><i style="left:561px;width:2px;background:linear-gradient(#006eff 0px,#006eff 21px,#00a4ff 23px,#0ef 25px,#00fdff 26px,#00ffe2 28px,#00ffc9 32px,#00ffe0 38px,#00fdff 43px,#00beff 54px,#008fff 64px,#009eff 76px,#00caff 86px,#0cf 95px,#0af 109px,#00a3ff 122px,#00b1ff 135px,#00fffe 156px,#00ff97 182px,#01ff00 213px,#5cff00 232px,#fffe00 272px,#ff8900 296px,#ff3e00 311px,#ff3000 316px,#ff2700 392px,#ff3000 411px,#ff6e00 460px,#ff8200 520px)"></i><i style="left:563px;width:2px;background:linear-gradient(#006eff 0px,#006eff 21px,#00d0ff 24px,#00f6ff 25px,#00ffed 27px,#00ffd1 30px,#00ffc4 32px,#00ffe1 39px,#00fcff 44px,#0091ff 64px,#00a4ff 77px,#00caff 87px,#00c7ff 96px,#00acff 111px,#00a7ff 123px,#00b3ff 135px,#00fffc 157px,#00ff8e 184px,#01ff00 213px,#58ff00 231px,#fffe00 272px,#ff8300 297px,#ff2f00 314px,#ff2700 393px,#ff3100 411px,#ff6f00 459px,#ff8200 520px)"></i><i style="left:565px;width:2px;background:linear-gradient(#006eff 0px,#006eff 21px,#00feff 25px,#00ffd5 29px,#00ffbe 32px,#0fe 42px,#00fcff 45px,#0092ff 64px,#00a6ff 77px,#00c9ff 87px,#00c1ff 99px,#00a9ff 121px,#00b4ff 135px,#00fffd 157px,#00ff8b 185px,#0f0 213px,#54ff00 230px,#fffa00 273px,#ff7800 299px,#ff2c00 315px,#ff2700 398px,#ff3a00 417px,#ff7100 459px,#ff8200 520px)"></i><i style="left:567px;width:2px;background:linear-gradient(#006eff 0px,#006eff 21px,#00dfff 24px,#00fff8 25px,#00ffb9 32px,#00fff5 44px,#00f6ff 47px,#0094ff 64px,#00afff 79px,#00c8ff 87px,#00adff 123px,#00b6ff 135px,#00fffc 158px,#00ff87 186px,#0f0 213px,#50ff00 229px,#fffb00 273px,#ff6800 302px,#ff2a00 315px,#ff2800 401px,#ff7200 459px,#ff8200 520px)"></i><i style="left:569px;width:2px;background:linear-gradient(#006eff 0px,#006eff 21px,#00e6ff 24px,#00fff0 25px,#00ffb4 32px,#00fff5 45px,#00f7ff 48px,#0096ff 64px,#00b4ff 80px,#00c7ff 87px,#00b1ff 124px,#0bf 136px,#00fffa 159px,#00ff7f 188px,#05ff00 214px,#50ff00 229px,#fffb00 273px,#ff4d00 307px,#ff2800 315px,#ff2800 404px,#ff7400 458px,#ff8200 520px)"></i><i style="left:571px;width:2px;background:linear-gradient(#006eff 0px,#006eff 21px,#00e6ff 24px,#00fff1 25px,#00ffb7 32px,#00fcff 47px,#0098ff 64px,#00b5ff 80px,#00c8ff 87px,#00b0ff 124px,#00b6ff 135px,#00fffc 158px,#0f8 186px,#0f0 213px,#4dff00 228px,#fffb00 273px,#ff4200 309px,#ff2800 315px,#ff2800 397px,#ff3600 412px,#ff7500 458px,#ff8200 520px)"></i><i style="left:573px;width:2px;background:linear-gradient(#006eff 0px,#006eff 21px,#00e5ff 24px,#00fff1 25px,#00ffb9 32px,#00faff 47px,#009aff 64px,#00b6ff 80px,#00c8ff 87px,#00afff 124px,#00b5ff 135px,#00fffd 157px,#00ff87 186px,#01ff00 213px,#4dff00 228px,#fffa00 273px,#ff2d00 313px,#ff2600 343px,#ff2b00 400px,#ff7500 458px,#ff8200 520px)"></i><i style="left:575px;width:2px;background:linear-gradient(#006eff 0px,#006eff 21px,#00e5ff 24px,#00fff2 25px,#00ffbc 32px,#00feff 46px,#009cff 64px,#00baff 81px,#00c9ff 88px,#00afff 118px,#00b4ff 135px,#0ff 156px,#00ff8f 184px,#01ff00 213px,#4eff00 228px,#fffe00 272px,#ff4200 309px,#ff2800 315px,#ff2900 389px,#ff3700 410px,#ff7600 458px,#ff8200 520px)"></i><i style="left:577px;width:2px;background:linear-gradient(#006eff 0px,#006eff 21px,#00e4ff 24px,#00fff3 25px,#00ffbf 32px,#00fcff 46px,#009eff 64px,#0bf 81px,#00c9ff 88px,#00b1ff 116px,#00b3ff 135px,#00fffd 156px,#00ff93 183px,#02ff00 213px,#4fff00 228px,#fffd00 272px,#ff2800 315px,#ff2900 387px,#ff3900 410px,#ff7600 458px,#ff8200 520px)"></i><i style="left:579px;width:2px;background:linear-gradient(#006eff 0px,#006eff 21px,#00e4ff 24px,#00fff3 25px,#00ffc1 32px,#00faff 46px,#00a0ff 64px,#00bcff 81px,#00caff 89px,#00b1ff 116px,#00b1ff 135px,#0ff 155px,#00ff97 182px,#03ff00 213px,#4fff00 228px,#fffd00 272px,#ff2800 315px,#ff2a00 386px,#ff3b00 410px,#f70 458px,#ff8200 520px)"></i><i style="left:581px;width:2px;background:linear-gradient(#006eff 0px,#006eff 21px,#00e3ff 24px,#00fff4 25px,#00ffc4 32px,#00fdff 45px,#00a2ff 64px,#00bdff 81px,#00cbff 89px,#00b4ff 114px,#00acff 134px,#00fffd 155px,#00ff9b 181px,#03ff00 213px,#50ff00 228px,#fffc00 272px,#ff2800 315px,#ff2a00 384px,#ff3d00 410px,#ff7800 458px,#ff8200 520px)"></i><i style="left:583px;width:2px;background:linear-gradient(#006eff 0px,#006eff 21px,#00e2ff 24px,#00fff5 25px,#00ffc7 32px,#0ff 44px,#00aeff 62px,#00a5ff 65px,#00c0ff 82px,#00cbff 90px,#00b5ff 113px,#00abff 129px,#00afff 135px,#0ff 154px,#00ff9a 181px,#04ff00 213px,#51ff00 228px,#fffb00 272px,#ff2800 315px,#ff2a00 383px,#ff4000 411px,#ff7800 458px,#ff8200 520px)"></i><i style="left:585px;width:2px;background:linear-gradient(#006eff 0px,#006eff 21px,#00e2ff 24px,#00fff5 25px,#00ffc9 32px,#00fffe 43px,#00bfff 59px,#00a6ff 64px,#00c1ff 82px,#0cf 90px,#00b7ff 112px,#00abff 127px,#00aeff 135px,#00fffe 154px,#00ff9e 180px,#05ff00 213px,#51ff00 228px,#fffb00 272px,#ff2800 315px,#ff2b00 382px,#ff4200 411px,#ff7900 459px,#ff8200 520px)"></i><i style="left:587px;width:2px;background:linear-gradient(#006eff 0px,#006eff 21px,#00e2ff 24px,#00fff6 25px,#0fc 32px,#00fdff 43px,#00c0ff 59px,#00a9ff 65px,#00c2ff 82px,#0cf 91px,#00b7ff 112px,#0af 127px,#00adff 135px,#0ff 153px,#00ffa2 179px,#0f0 212px,#52ff00 228px,#fffa00 272px,#ff2800 315px,#ff2b00 382px,#ff4600 412px,#ff7a00 459px,#ff8200 520px)"></i><i style="left:589px;width:2px;background:linear-gradient(#006eff 0px,#006eff 21px,#00e1ff 24px,#00fff7 25px,#00ffcf 32px,#00feff 42px,#00c6ff 58px,#00abff 65px,#00c5ff 83px,#0cf 92px,#00b7ff 112px,#00a9ff 127px,#00abff 135px,#00fffe 153px,#00ffa1 179px,#01ff00 212px,#53ff00 228px,#fffe00 271px,#ff2800 315px,#ff2b00 381px,#ff4800 412px,#ff7a00 458px,#ff8200 520px)"></i><i style="left:591px;width:2px;background:linear-gradient(#006eff 0px,#006eff 21px,#00e0ff 24px,#00fff7 25px,#00ffd1 32px,#00fdff 41px,#0cf 57px,#00adff 65px,#00c5ff 83px,#00cdff 92px,#00b9ff 111px,#00a9ff 126px,#0af 135px,#00fffc 153px,#00ffa0 179px,#01ff00 212px,#53ff00 228px,#fffd00 271px,#ff2800 315px,#ff2b00 380px,#ff4b00 413px,#ff7b00 458px,#ff8200 520px)"></i><i style="left:593px;width:2px;background:linear-gradient(#006eff 0px,#006eff 21px,#00e0ff 24px,#00fff8 25px,#00ffd4 32px,#00faff 41px,#00cdff 57px,#00afff 65px,#00c8ff 84px,#00cdff 93px,#00b9ff 111px,#00a8ff 126px,#00a9ff 135px,#00fffe 152px,#00ffa4 178px,#02ff00 212px,#54ff00 228px,#fffd00 271px,#ff2800 314px,#ff2c00 380px,#ff4f00 414px,#ff7b00 458px,#ff8200 520px)"></i><i style="left:595px;width:2px;background:linear-gradient(#006eff 0px,#006eff 21px,#00fff9 25px,#00ffd7 32px,#00fcff 40px,#00ceff 57px,#00b1ff 65px,#00caff 85px,#00cdff 94px,#0bf 110px,#00a7ff 125px,#00a3ff 134px,#00fffd 152px,#00ffa3 178px,#03ff00 212px,#5f0 228px,#fffc00 271px,#ff2800 314px,#ff2d00 380px,#ff5400 416px,#ff7c00 460px,#ff8200 520px)"></i><i style="left:597px;width:2px;background:linear-gradient(#006eff 0px,#006eff 21px,#00fff9 25px,#00ffd9 32px,#00f9ff 40px,#00d3ff 56px,#00b3ff 65px,#00cdff 86px,#00cbff 98px,#00b2ff 115px,#00a1ff 134px,#00fffb 152px,#00ffa2 178px,#03ff00 212px,#5f0 228px,#fffb00 271px,#ff2800 314px,#ff2c00 379px,#ff5900 418px,#ff7d00 460px,#ff8200 520px)"></i><i style="left:599px;width:2px;background:linear-gradient(#006eff 0px,#006eff 21px,#00fffa 25px,#00ffdc 32px,#00fbff 39px,#00ebff 44px,#00d4ff 56px,#00b5ff 65px,#00cfff 87px,#00c2ff 107px,#00a7ff 124px,#00a0ff 134px,#00fffa 152px,#00ffa6 177px,#04ff00 212px,#56ff00 228px,#fffb00 271px,#ff2800 314px,#ff2d00 379px,#ff5e00 420px,#ff7e00 461px,#ff8200 520px)"></i><i style="left:601px;width:2px;background:linear-gradient(#006eff 0px,#006eff 21px,#00fbff 25px,#00ffe5 32px,#00fbff 38px,#00eaff 43px,#00d2ff 56px,#00b4ff 65px,#00c8ff 84px,#00cfff 92px,#00bdff 109px,#00a5ff 124px,#009fff 134px,#00fffb 152px,#00ffa6 177px,#0f0 211px,#58ff00 228px,#fffe00 270px,#ff7200 298px,#ff2800 315px,#ff3000 379px,#ff7200 441px,#ff7e00 469px,#ff8200 520px)"></i><i style="left:603px;width:2px;background:linear-gradient(#006dff 0px,#006dff 21px,#00f2ff 25px,#00fff7 30px,#0fe 32px,#00faff 37px,#00e7ff 43px,#00d5ff 55px,#00b2ff 65px,#00c3ff 82px,#00cdff 92px,#0bf 109px,#00a4ff 124px,#009dff 134px,#00fffc 152px,#00ffa1 178px,#01ff00 211px,#5dff00 229px,#fffc00 270px,#ff7600 297px,#ff2800 314px,#ff3200 379px,#ff7300 441px,#ff7e00 471px,#ff8200 520px)"></i><i style="left:605px;width:2px;background:linear-gradient(#006dff 0px,#006dff 21px,#00e8ff 25px,#00fffc 31px,#00fffb 33px,#00e5ff 43px,#00d7ff 54px,#00b1ff 65px,#00beff 80px,#0cf 91px,#00baff 109px,#00a3ff 124px,#009cff 134px,#00fffd 152px,#00ffa1 178px,#02ff00 211px,#5fff00 229px,#fffb00 270px,#ff7b00 296px,#ff2800 314px,#f30 377px,#ff7300 441px,#ff7e00 474px,#ff8200 520px)"></i><i style="left:607px;width:2px;background:linear-gradient(#006dff 0px,#006dff 21px,#00dfff 25px,#00fdff 32px,#00e2ff 43px,#00daff 52px,#00b0ff 65px,#00baff 79px,#0cf 90px,#0bf 108px,#00a1ff 124px,#009bff 134px,#00fffe 152px,#00ffa1 178px,#04ff00 211px,#61ff00 229px,#fffe00 269px,#ff7f00 295px,#ff2f00 312px,#ff2900 319px,#ff3400 376px,#ff7300 441px,#ff7e00 479px,#ff8200 520px)"></i><i style="left:609px;width:2px;background:linear-gradient(#006cff 0px,#006cff 21px,#00d6ff 25px,#00f4ff 32px,#00dfff 43px,#00dcff 51px,#00afff 65px,#00b6ff 78px,#00caff 90px,#00b9ff 108px,#00a0ff 124px,#09f 134px,#00fffb 153px,#00ffa0 178px,#0f0 210px,#67ff00 230px,#feff00 268px,#ff9e00 289px,#ff3100 311px,#ff2900 317px,#ff3400 374px,#ff7200 440px,#ff7e00 481px,#ff8200 520px)"></i><i style="left:611px;width:2px;background:linear-gradient(#006cff 0px,#006cff 21px,#00cdff 25px,#00ebff 32px,#0df 43px,#00deff 50px,#00adff 65px,#00b2ff 77px,#00c9ff 89px,#00b8ff 108px,#009fff 124px,#0098ff 134px,#00fffc 153px,#00ffa0 178px,#01ff00 210px,#68ff00 230px,#daff00 258px,#fffb00 269px,#ff9200 291px,#ff3100 311px,#ff2900 318px,#ff3500 370px,#ff7300 441px,#ff8000 500px,#ff8200 520px)"></i><i style="left:613px;width:2px;background:linear-gradient(#006cff 0px,#006cff 21px,#00c4ff 25px,#00e1ff 33px,#00dbff 44px,#0df 50px,#00acff 64px,#00aeff 76px,#00c8ff 89px,#00b7ff 108px,#009dff 124px,#0097ff 134px,#00fffd 153px,#00ffa0 178px,#02ff00 210px,#6fff00 231px,#d1ff00 255px,#fffd00 268px,#ffa100 288px,#ff3200 310px,#ff2900 318px,#ff3500 367px,#ff7300 441px,#ff8200 520px)"></i><i style="left:615px;width:2px;background:linear-gradient(#006bff 0px,#006bff 21px,#0bf 25px,#00d8ff 33px,#00daff 45px,#00dcff 50px,#00abff 64px,#00acff 76px,#00c6ff 89px,#00b5ff 108px,#009cff 124px,#0095ff 134px,#00fffe 153px,#00ffa0 178px,#04ff00 210px,#75ff00 232px,#cf0 253px,#fffb00 268px,#ffa500 287px,#ff3100 310px,#ff2900 319px,#ff3500 365px,#ff7300 440px,#ff8200 520px)"></i><i style="left:617px;width:2px;background:linear-gradient(#006bff 0px,#006bff 21px,#00b2ff 25px,#00cfff 33px,#00daff 46px,#00dbff 50px,#00acff 63px,#00a7ff 75px,#00c5ff 88px,#00b4ff 108px,#009bff 124px,#0094ff 134px,#0ff 153px,#00ffa5 177px,#05ff00 210px,#7bff00 233px,#caff00 252px,#fffa00 268px,#ffa900 286px,#ff3000 310px,#ff2a00 322px,#ff3500 363px,#ff7100 436px,#ff8100 514px,#ff8200 520px)"></i><i style="left:619px;width:2px;background:linear-gradient(#006bff 0px,#006bff 21px,#00a8ff 25px,#00c7ff 33px,#00dcff 48px,#00cbff 54px,#00adff 62px,#00a5ff 75px,#00c3ff 88px,#00b3ff 108px,#09f 124px,#0093ff 134px,#00fffb 154px,#00ffa5 177px,#01ff00 209px,#7dff00 233px,#c9ff00 251px,#fffc00 267px,#ffae00 285px,#ff2e00 310px,#ff2b00 330px,#ff3700 363px,#ff7000 433px,#ff8200 517px,#ff8200 520px)"></i><i style="left:621px;width:2px;background:linear-gradient(#006aff 0px,#006aff 21px,#009fff 25px,#00c0ff 34px,#00deff 49px,#00aeff 61px,#00a3ff 75px,#00c2ff 88px,#00b1ff 108px,#0098ff 124px,#0091ff 134px,#00fffc 154px,#00ffa5 177px,#02ff00 209px,#89ff00 235px,#c8ff00 250px,#fffa00 267px,#ffb200 284px,#ff2d00 310px,#ff3500 360px,#ff6c00 422px,#ff7f00 493px,#ff8200 520px)"></i><i style="left:623px;width:2px;background:linear-gradient(#006aff 0px,#006aff 21px,#0096ff 25px,#00baff 35px,#00deff 49px,#00acff 61px,#00a0ff 75px,#00c1ff 87px,#00b0ff 108px,#0097ff 124px,#0090ff 134px,#00fffd 154px,#00ffa4 177px,#03ff00 209px,#94ff00 237px,#ceff00 251px,#fffd00 266px,#ffb100 284px,#ff2c00 310px,#ff3500 359px,#f60 410px,#ff7d00 480px,#ff8200 520px)"></i><i style="left:625px;width:2px;background:linear-gradient(#006aff 0px,#006aff 21px,#0091ff 26px,#00bdff 39px,#0df 49px,#00acff 60px,#009eff 75px,#00c0ff 87px,#00afff 108px,#0095ff 124px,#008fff 134px,#00fffd 154px,#00ffa4 177px,#05ff00 209px,#a5ff00 240px,#f5ff00 262px,#fff700 267px,#ffb500 283px,#ff2b00 310px,#ff3600 359px,#ff6000 400px,#ff7a00 463px,#ff8200 520px)"></i><i style="left:627px;width:2px;background:linear-gradient(#0069ff 0px,#0069ff 21px,#0095ff 29px,#0df 49px,#0af 60px,#009cff 75px,#00bfff 87px,#00adff 108px,#0094ff 124px,#008dff 134px,#00fffe 154px,#00ffa4 177px,#01ff00 208px,#b6ff00 243px,#fffd00 265px,#ffb400 283px,#ff2a00 309px,#ff3800 359px,#ff6000 397px,#ff7800 455px,#ff8200 520px)"></i><i style="left:629px;width:2px;background:linear-gradient(#0069ff 0px,#006dff 22px,#00dcff 49px,#00a9ff 60px,#09f 75px,#00bdff 87px,#00acff 108px,#0093ff 124px,#008cff 134px,#0ff 154px,#00ffa4 177px,#02ff00 208px,#beff00 244px,#fffb00 265px,#ffb800 282px,#ff2800 309px,#ff3900 359px,#ff6100 394px,#ff7500 443px,#ff8200 520px)"></i><i style="left:631px;width:2px;background:linear-gradient(#0069ff 0px,#006dff 22px,#00d7ff 49px,#00a6ff 61px,#0095ff 75px,#00b6ff 87px,#00a6ff 108px,#0091ff 124px,#008cff 134px,#00feff 155px,#00ffa9 177px,#01ff00 208px,#c0ff00 245px,#fffa00 265px,#ffb200 283px,#ff2b00 309px,#ff3c00 359px,#ff6200 395px,#f70 453px,#ff8100 520px)"></i><i style="left:633px;width:2px;background:linear-gradient(#0069ff 0px,#006dff 22px,#00d3ff 49px,#00a5ff 61px,#0091ff 75px,#00aeff 87px,#009fff 109px,#008eff 125px,#0091ff 135px,#00fdff 156px,#00ffb4 176px,#0f0 208px,#bfff00 245px,#fffc00 264px,#ffb100 283px,#ff2e00 309px,#ff3e00 359px,#ff6300 397px,#ff7800 468px,#ff8000 520px)"></i><i style="left:635px;width:2px;background:linear-gradient(#0069ff 0px,#006dff 22px,#00ceff 49px,#00a0ff 63px,#008dff 75px,#00a5ff 88px,#0097ff 110px,#008cff 126px,#0091ff 135px,#0ff 158px,#00ffb9 176px,#0f0 208px,#c2ff00 246px,#fffb00 264px,#ffac00 284px,#ff3200 309px,#ff4200 360px,#ff6500 400px,#ff8000 520px)"></i><i style="left:637px;width:2px;background:linear-gradient(#0069ff 0px,#006dff 22px,#00c4ff 47px,#00c6ff 50px,#008bff 71px,#008dff 77px,#009dff 89px,#0091ff 111px,#008bff 129px,#0091ff 135px,#00feff 159px,#00ffbf 176px,#05ff00 209px,#c8ff00 248px,#fffd00 263px,#ffa700 285px,#ff3800 308px,#ff4200 357px,#f60 401px,#ff7f00 520px)"></i><i style="left:639px;width:2px;background:linear-gradient(#0069ff 0px,#0070ff 23px,#0bf 45px,#00c2ff 50px,#0084ff 74px,#0096ff 89px,#0089ff 113px,#008cff 134px,#00fdff 160px,#00ffc4 176px,#04ff00 209px,#c8ff00 248px,#fffb00 263px,#ff9d00 287px,#ff3e00 307px,#ff3900 315px,#ff4900 361px,#ff6a00 409px,#ff7e00 520px)"></i><i style="left:641px;width:2px;background:linear-gradient(#0069ff 0px,#0070ff 23px,#00b5ff 44px,#00beff 50px,#0080ff 74px,#008eff 91px,#0085ff 123px,#0090ff 135px,#0ff 162px,#00ffca 176px,#04ff00 209px,#cbff00 249px,#fffd00 262px,#ff9400 289px,#f40 306px,#ff3c00 313px,#ff4d00 362px,#ff6c00 416px,#ff7d00 520px)"></i><i style="left:643px;width:2px;background:linear-gradient(#0069ff 0px,#006fff 23px,#00b0ff 43px,#00baff 50px,#0093ff 65px,#007cff 74px,#0086ff 96px,#0082ff 122px,#0090ff 135px,#00fdff 163px,#00ffcf 176px,#03ff00 209px,#d8ff00 252px,#fffc00 262px,#ff9000 290px,#ff4500 306px,#ff3f00 315px,#ff5000 363px,#ff6d00 424px,#ff7c00 520px)"></i><i style="left:645px;width:2px;background:linear-gradient(#0069ff 0px,#0071ff 24px,#00adff 43px,#00b4ff 51px,#009cff 62px,#007aff 73px,#007eff 121px,#0094ff 136px,#0ff 165px,#00ffd4 176px,#03ff00 209px,#f0ff00 257px,#fffa00 262px,#ff8600 292px,#ff4900 305px,#ff4200 315px,#ff5200 362px,#ff6d00 430px,#ff7c00 520px)"></i><i style="left:647px;width:2px;background:linear-gradient(#0069ff 0px,#0073ff 26px,#00a9ff 42px,#00b0ff 51px,#009eff 61px,#0078ff 72px,#0079ff 119px,#0093ff 136px,#00fffb 168px,#00ffda 176px,#02ff00 209px,#feff00 260px,#ff8700 292px,#ff4b00 305px,#ff4600 325px,#ff6d00 431px,#ff7b00 520px)"></i><i style="left:649px;width:2px;background:linear-gradient(#0069ff 0px,#0071ff 26px,#00a7ff 42px,#00abff 53px,#00a2ff 60px,#0074ff 72px,#0070ff 93px,#0076ff 119px,#0096ff 137px,#00fffd 169px,#00ffdf 176px,#00ff14 206px,#07ff00 210px,#ff0 260px,#ff7d00 294px,#ff4c00 305px,#ff4f00 347px,#ff6c00 427px,#ff7a00 520px)"></i><i style="left:651px;width:2px;background:linear-gradient(#0069ff 0px,#0074ff 27px,#00a4ff 41px,#00a6ff 59px,#0072ff 71px,#0067ff 88px,#0071ff 118px,#0098ff 138px,#00fffb 171px,#00ffde 177px,#00ff23 204px,#01ff00 209px,#fffd00 260px,#ff7e00 294px,#ff4e00 305px,#ff5200 347px,#ff6c00 435px,#ff7900 520px)"></i><i style="left:653px;width:2px;background:linear-gradient(#0069ff 0px,#0072ff 27px,#00a1ff 41px,#00a0ff 60px,#006eff 71px,#005fff 87px,#006cff 117px,#00a2ff 142px,#00fffa 173px,#00ff60 196px,#0f0 209px,#fffc00 260px,#ff7e00 294px,#ff4f00 305px,#f50 348px,#ff6d00 453px,#ff7800 520px)"></i><i style="left:655px;width:2px;background:linear-gradient(#0069ff 0px,#0072ff 27px,#00a0ff 41px,#009fff 60px,#006cff 71px,#005bff 87px,#006aff 117px,#00acff 146px,#00fffc 173px,#00ff69 195px,#0f0 209px,#fffb00 260px,#ff7f00 294px,#ff5000 305px,#ff5800 350px,#ff7800 520px)"></i><i style="left:657px;width:2px;background:linear-gradient(#006aff 0px,#0071ff 27px,#009fff 41px,#009eff 60px,#006bff 71px,#005bff 87px,#006bff 117px,#00a9ff 145px,#00fffa 173px,#00ff69 195px,#0f0 209px,#fffb00 260px,#ff7f00 294px,#ff5100 305px,#ff5a00 352px,#ff7800 520px)"></i><i style="left:659px;width:2px;background:linear-gradient(#006aff 0px,#0071ff 27px,#009eff 41px,#009dff 60px,#006bff 71px,#005bff 87px,#006cff 117px,#00a7ff 144px,#00fffc 172px,#00ff95 189px,#0f0 209px,#fffb00 260px,#ff7f00 294px,#ff5200 305px,#ff5b00 355px,#ff7800 520px)"></i><i style="left:661px;width:2px;background:linear-gradient(#006aff 0px,#0071ff 27px,#009dff 41px,#009cff 60px,#006aff 71px,#005bff 87px,#006eff 118px,#00a7ff 144px,#00f5ff 168px,#00fff6 173px,#00ff6a 195px,#0f0 209px,#fffb00 260px,#ff7b00 295px,#ff5300 305px,#ff5d00 360px,#ff7800 520px)"></i><i style="left:663px;width:2px;background:linear-gradient(#006bff 0px,#0071ff 27px,#009dff 41px,#009bff 60px,#0069ff 71px,#005cff 88px,#006fff 118px,#00a4ff 143px,#00e7ff 164px,#00fff8 172px,#00ff71 194px,#0f0 209px,#fffb00 260px,#ff7b00 295px,#ff5400 305px,#ff7800 520px)"></i><i style="left:665px;width:2px;background:linear-gradient(#006bff 0px,#0071ff 27px,#009cff 41px,#009aff 60px,#0068ff 71px,#005cff 88px,#0070ff 118px,#00a4ff 143px,#00e3ff 163px,#00fffb 171px,#00ff8e 190px,#0f0 209px,#fffb00 260px,#f70 296px,#ff5400 305px,#ff7800 520px)"></i><i style="left:667px;width:2px;background:linear-gradient(#006cff 0px,#0071ff 27px,#009bff 41px,#0098ff 60px,#0068ff 71px,#005cff 88px,#0070ff 118px,#00a1ff 142px,#00dbff 161px,#00fff9 171px,#00ff72 194px,#0f0 209px,#fffb00 260px,#ff7800 296px,#f50 305px,#ff7800 520px)"></i><i style="left:669px;width:2px;background:linear-gradient(#006cff 0px,#0071ff 27px,#009aff 41px,#0097ff 60px,#0067ff 71px,#005cff 88px,#0073ff 119px,#00a1ff 142px,#00dbff 161px,#00fffc 170px,#00ff81 192px,#0f0 209px,#fffb00 260px,#ff7400 297px,#ff5600 305px,#ff7800 520px)"></i><i style="left:671px;width:2px;background:linear-gradient(#006cff 0px,#0071ff 27px,#09f 41px,#0096ff 60px,#06f 71px,#005cff 88px,#0073ff 119px,#009eff 141px,#00d7ff 160px,#00fffb 170px,#00ff72 194px,#0f0 209px,#fffb00 260px,#ff7000 298px,#ff5700 305px,#ff7800 520px)"></i><i style="left:673px;width:2px;background:linear-gradient(#006dff 0px,#0071ff 27px,#0098ff 41px,#0095ff 60px,#06f 71px,#005cff 88px,#0074ff 119px,#009eff 141px,#00d7ff 160px,#00fff9 170px,#00ff72 194px,#0f0 209px,#fffb00 260px,#ff6c00 299px,#ff5800 305px,#ff7800 520px)"></i><i style="left:675px;width:2px;background:linear-gradient(#006dff 0px,#0071ff 27px,#0098ff 41px,#0094ff 60px,#0065ff 71px,#005cff 88px,#0076ff 120px,#009eff 141px,#00d2ff 159px,#00fffd 169px,#00ff72 194px,#0f0 209px,#fffb00 260px,#ff6900 300px,#ff5800 305px,#ff7800 520px)"></i><i style="left:677px;width:2px;background:linear-gradient(#006eff 0px,#0071ff 27px,#0097ff 41px,#0093ff 60px,#0064ff 71px,#005dff 88px,#0078ff 121px,#009eff 141px,#00d2ff 159px,#00fffb 169px,#00ff73 194px,#0f0 209px,#fffb00 260px,#ff6500 301px,#ff5900 306px,#ff7800 520px)"></i><i style="left:679px;width:2px;background:linear-gradient(#006eff 0px,#0071ff 27px,#0096ff 42px,#0091ff 60px,#0063ff 71px,#005dff 89px,#0079ff 121px,#009cff 140px,#00d2ff 159px,#00fffa 169px,#00ff73 194px,#0f0 209px,#fffb00 260px,#ff5e00 303px,#ff6e00 462px,#ff7800 520px)"></i><i style="left:681px;width:2px;background:linear-gradient(#006eff 0px,#0073ff 28px,#0094ff 42px,#008fff 60px,#0063ff 71px,#005eff 89px,#007aff 122px,#009cff 140px,#00d2ff 159px,#00fffa 169px,#00ff71 194px,#01ff00 209px,#fffb00 260px,#ff5b00 305px,#f70 520px)"></i><i style="left:683px;width:2px;background:linear-gradient(#006dff 0px,#0073ff 28px,#0091ff 42px,#008dff 60px,#0063ff 71px,#005eff 89px,#007bff 122px,#009cff 140px,#00d3ff 159px,#00fff9 169px,#00ff70 194px,#02ff00 209px,#fffe00 259px,#ff5b00 305px,#f70 520px)"></i><i style="left:685px;width:2px;background:linear-gradient(#006dff 0px,#0073ff 28px,#008fff 42px,#008aff 60px,#0063ff 71px,#005fff 90px,#007cff 123px,#009cff 140px,#00d3ff 159px,#00fff9 169px,#00ff6e 194px,#02ff00 209px,#fffe00 259px,#ff5c00 305px,#ff7600 520px)"></i><i style="left:687px;width:2px;background:linear-gradient(#006dff 0px,#0072ff 28px,#008cff 42px,#08f 60px,#0063ff 71px,#0060ff 91px,#007eff 124px,#009cff 140px,#00d3ff 159px,#00fffe 168px,#00ff6d 194px,#03ff00 209px,#fffd00 259px,#ff5c00 305px,#ff7600 520px)"></i><i style="left:689px;width:2px;background:linear-gradient(#006dff 0px,#0072ff 28px,#008aff 42px,#0085ff 60px,#0063ff 72px,#0061ff 92px,#0081ff 126px,#009eff 141px,#00d3ff 159px,#00fffe 168px,#00ff6b 194px,#04ff00 209px,#fffd00 259px,#ff5d00 305px,#ff7500 520px)"></i><i style="left:691px;width:2px;background:linear-gradient(#006cff 0px,#0073ff 29px,#0087ff 43px,#0083ff 60px,#0063ff 72px,#0061ff 93px,#0084ff 128px,#00a6ff 144px,#00d4ff 159px,#00fffd 168px,#00ff6a 194px,#00ff02 208px,#fffc00 259px,#ff5d00 305px,#ff7500 520px)"></i><i style="left:693px;width:2px;background:linear-gradient(#006cff 0px,#0073ff 29px,#0085ff 43px,#007eff 61px,#0063ff 72px,#0062ff 94px,#0089ff 132px,#00cfff 158px,#00fffd 168px,#00ff68 194px,#00ff01 208px,#fdff00 258px,#ff5e00 304px,#ff7400 520px)"></i><i style="left:695px;width:2px;background:linear-gradient(#006cff 0px,#0072ff 29px,#0082ff 44px,#007cff 61px,#0063ff 73px,#0064ff 96px,#008cff 134px,#00d4ff 159px,#00fffd 168px,#00ff67 194px,#0f0 208px,#feff00 258px,#ff5e00 304px,#ff7400 520px)"></i><i style="left:697px;width:2px;background:linear-gradient(#006cff 0px,#0073ff 30px,#0080ff 44px,#007aff 61px,#0063ff 73px,#0065ff 97px,#008fff 135px,#00cfff 158px,#00fffd 168px,#00ff65 194px,#01ff00 208px,#ebff00 254px,#fffb00 259px,#ff6200 303px,#ff7300 520px)"></i><i style="left:699px;width:2px;background:linear-gradient(#006bff 0px,#0074ff 31px,#007dff 46px,#0075ff 62px,#0063ff 74px,#0067ff 99px,#0091ff 136px,#00d0ff 158px,#00fffc 168px,#00ff64 194px,#02ff00 208px,#e8ff00 253px,#fffb00 259px,#ff6f00 299px,#ff6000 306px,#ff7300 520px)"></i><i style="left:701px;width:2px;background:linear-gradient(#006bff 0px,#0074ff 32px,#007aff 48px,#0073ff 62px,#0062ff 75px,#0069ff 101px,#0094ff 137px,#00d0ff 158px,#00fffc 168px,#00ff62 194px,#03ff00 208px,#e4ff00 252px,#fffa00 259px,#ff7800 296px,#ff6000 305px,#ff7200 520px)"></i><i style="left:703px;width:2px;background:linear-gradient(#006bff 0px,#0075ff 35px,#0071ff 62px,#0062ff 76px,#006aff 102px,#0094ff 137px,#00d0ff 158px,#00fffc 168px,#00ff61 194px,#00ff02 207px,#e1ff00 251px,#fffa00 259px,#ff7e00 294px,#ff6000 305px,#ff7200 520px)"></i><i style="left:705px;width:2px;background:linear-gradient(#006bff 0px,#0076ff 39px,#006eff 63px,#0062ff 80px,#006dff 105px,#0094ff 137px,#00d0ff 158px,#00fffc 168px,#00ff67 193px,#00ff01 207px,#deff00 250px,#fffa00 259px,#ff8000 293px,#ff6100 305px,#ff7100 520px)"></i><i style="left:707px;width:2px;background:linear-gradient(#006aff 0px,#0071ff 53px,#0062ff 85px,#0079ff 117px,#0094ff 137px,#00d1ff 158px,#00fffb 168px,#00ff65 193px,#0f0 207px,#dfff00 250px,#fff900 259px,#ff8300 292px,#ff6200 305px,#ff7100 520px)"></i><i style="left:709px;width:2px;background:linear-gradient(#006aff 0px,#006fff 56px,#0062ff 86px,#007bff 119px,#0094ff 137px,#00d1ff 158px,#00fffb 168px,#00ff64 193px,#01ff00 207px,#e0ff00 250px,#fff900 259px,#ff8200 292px,#ff6200 306px,#ff7000 520px)"></i><i style="left:711px;width:2px;background:linear-gradient(#006aff 0px,#006cff 59px,#0063ff 91px,#0091ff 136px,#00d1ff 158px,#00fffb 168px,#00ff62 193px,#02ff00 207px,#deff00 249px,#fffc00 258px,#ff8400 291px,#ff6300 306px,#ff6e00 480px,#ff7000 520px)"></i><i style="left:713px;width:2px;background:linear-gradient(#006aff 0px,#0068ff 61px,#0068ff 98px,#0094ff 137px,#00d1ff 158px,#00fffb 168px,#00ff61 193px,#03ff00 207px,#dfff00 249px,#fffc00 258px,#ff8400 291px,#ff6300 306px,#ff6e00 452px,#ff6f00 520px)"></i><i style="left:715px;width:2px;background:linear-gradient(#0069ff 0px,#0069ff 47px,#0068ff 98px,#0094ff 137px,#00d2ff 158px,#00fffa 168px,#00ff5f 193px,#00ff01 206px,#e1ff00 249px,#fffc00 258px,#ff8300 291px,#ff6400 306px,#ff6e00 436px,#ff6f00 520px)"></i><i style="left:717px;width:2px;background:linear-gradient(#0069ff 0px,#0069ff 39px,#0068ff 98px,#0094ff 137px,#00d2ff 158px,#00fffa 168px,#00ff5e 193px,#0f0 206px,#e2ff00 249px,#fffb00 258px,#ff8500 290px,#ff6400 306px,#ff6e00 426px,#ff6e00 520px)"></i><i style="left:719px;width:2px;background:linear-gradient(#006aff 0px,#006cff 35px,#0065ff 94px,#0094ff 137px,#00d1ff 158px,#00fffe 167px,#00ff6e 191px,#01ff00 206px,#e0ff00 248px,#fffa00 258px,#ff7f00 291px,#ff5f00 306px,#ff6900 520px)"></i><i style="left:721px;width:2px;background:linear-gradient(#006bff 0px,#006fff 33px,#06f 82px,#006fff 104px,#0094ff 137px,#00d3ff 159px,#00fffd 167px,#00ff6f 191px,#03ff00 206px,#e1ff00 248px,#fff900 258px,#ff7a00 292px,#ff5a00 306px,#ff6500 520px)"></i><i style="left:723px;width:2px;background:linear-gradient(#006dff 0px,#0071ff 32px,#0068ff 76px,#006fff 103px,#0094ff 137px,#00d2ff 159px,#00fffb 167px,#00ff71 191px,#00ff03 205px,#e0ff00 247px,#fffc00 257px,#ff7300 293px,#ff5400 307px,#ff5800 457px,#ff6000 520px)"></i><i style="left:725px;width:2px;background:linear-gradient(#006eff 0px,#0074ff 31px,#0069ff 72px,#0070ff 103px,#0094ff 137px,#00d0ff 159px,#00fffa 167px,#00ff7b 190px,#00ff01 205px,#e1ff00 247px,#fffb00 257px,#ff6900 295px,#ff4f00 307px,#ff4a00 341px,#ff4f00 449px,#ff5b00 520px)"></i><i style="left:727px;width:2px;background:linear-gradient(#006fff 0px,#07f 30px,#006aff 69px,#0070ff 103px,#0094ff 137px,#00ceff 159px,#00feff 166px,#00ff7c 190px,#0f0 205px,#e0ff00 246px,#fffa00 257px,#ff5700 299px,#ff4100 318px,#f40 437px,#ff5600 520px)"></i><i style="left:729px;width:2px;background:linear-gradient(#0070ff 0px,#0079ff 29px,#006bff 67px,#0072ff 104px,#0093ff 137px,#0cf 159px,#0ff 166px,#00ff7e 190px,#02ff00 205px,#e2ff00 246px,#fffd00 256px,#ff5000 300px,#ff3a00 318px,#ff3b00 432px,#ff5200 520px)"></i><i style="left:731px;width:2px;background:linear-gradient(#0071ff 0px,#007bff 29px,#006cff 66px,#0073ff 106px,#0093ff 137px,#00cbff 159px,#00fffe 166px,#00ff80 190px,#00ff03 204px,#e4ff00 246px,#fffc00 256px,#ff4900 301px,#f30 317px,#ff3100 428px,#ff4d00 520px)"></i><i style="left:733px;width:2px;background:linear-gradient(#0072ff 0px,#007eff 28px,#006dff 64px,#0074ff 107px,#0093ff 137px,#00c9ff 159px,#00fffe 166px,#00ff82 190px,#00ff01 204px,#e3ff00 245px,#fffb00 256px,#f40 301px,#ff2b00 317px,#ff2700 426px,#ff4800 520px)"></i><i style="left:735px;width:2px;background:linear-gradient(#0073ff 0px,#0084ff 29px,#0070ff 69px,#0078ff 114px,#0096ff 138px,#00d1ff 160px,#0ff 166px,#00ff84 190px,#0f0 204px,#e4ff00 245px,#fffa00 256px,#ff4200 301px,#ff2700 317px,#ff2300 425px,#ff4600 520px)"></i><i style="left:737px;width:2px;background:linear-gradient(#0074ff 0px,#0093ff 36px,#0082ff 51px,#0074ff 63px,#007bff 115px,#009bff 140px,#00d2ff 160px,#00fffd 167px,#00ff9f 186px,#00ff85 190px,#0f0 204px,#e5ff00 245px,#fff900 256px,#ff4300 301px,#ff2600 316px,#f20 424px,#ff4600 520px)"></i><i style="left:739px;width:2px;background:linear-gradient(#0075ff 0px,#00a2ff 38px,#0098ff 48px,#0078ff 61px,#007eff 117px,#00a2ff 144px,#00d4ff 160px,#00fffe 168px,#00ffca 179px,#00ff87 190px,#0f0 204px,#e6ff00 245px,#fffd00 255px,#f40 301px,#ff2500 316px,#f20 424px,#ff4600 520px)"></i><i style="left:741px;width:2px;background:linear-gradient(#0075ff 0px,#00b3ff 38px,#00abff 47px,#007cff 60px,#0080ff 118px,#00a8ff 146px,#00dfff 162px,#00fffd 170px,#00ffdc 177px,#00ff89 190px,#0f0 204px,#e7ff00 245px,#fffc00 255px,#ff4700 300px,#ff2400 316px,#ff2300 424px,#ff4600 520px)"></i><i style="left:743px;width:2px;background:linear-gradient(#0076ff 0px,#00b2ff 30px,#00c4ff 37px,#0bf 47px,#0080ff 60px,#0081ff 118px,#00a7ff 146px,#00fffd 172px,#00ffcf 180px,#00ff8b 190px,#0f0 204px,#e8ff00 245px,#fffb00 255px,#ff4a00 299px,#ff2300 316px,#ff2300 424px,#ff4600 520px)"></i><i style="left:745px;width:2px;background:linear-gradient(#0076ff 0px,#00afff 28px,#00ceff 37px,#00c2ff 47px,#0084ff 60px,#0082ff 118px,#00a7ff 146px,#00fffd 171px,#00ffe0 177px,#00ff87 190px,#02ff00 204px,#eaff00 245px,#fff900 255px,#ff5200 297px,#f20 315px,#ff2300 423px,#ff4100 501px,#ff4600 520px)"></i><i style="left:747px;width:2px;background:linear-gradient(#07f 0px,#00a7ff 27px,#00d0ff 36px,#0cf 44px,#0087ff 60px,#0084ff 118px,#00a4ff 145px,#00fffa 169px,#00ffcf 178px,#00ff87 189px,#00ff03 203px,#bdff00 236px,#ecff00 245px,#fffb00 254px,#ff5f00 293px,#ff2100 314px,#ff2300 423px,#ff3f00 490px,#ff4600 520px)"></i><i style="left:749px;width:2px;background:linear-gradient(#07f 0px,#00a2ff 27px,#00d0ff 35px,#00d2ff 43px,#009eff 54px,#0082ff 64px,#0086ff 119px,#00a4ff 145px,#00fffd 166px,#00ff9e 185px,#01ff00 203px,#c7ff00 237px,#ecff00 244px,#fff900 254px,#ff6500 291px,#ff1f00 314px,#ff2300 423px,#ff3f00 484px,#ff4600 520px)"></i><i style="left:751px;width:2px;background:linear-gradient(#0078ff 0px,#0096ff 26px,#00d2ff 34px,#00dcff 42px,#00a7ff 51px,#0082ff 66px,#0087ff 119px,#00a5ff 145px,#00fffa 165px,#00ff8d 186px,#0f0 202px,#adff00 232px,#edff00 243px,#fffb00 253px,#ff6b00 289px,#ff1e00 313px,#ff2300 423px,#ff3f00 480px,#ff4600 520px)"></i><i style="left:753px;width:2px;background:linear-gradient(#0079ff 0px,#09f 26px,#00d1ff 34px,#00daff 42px,#00a7ff 51px,#0083ff 66px,#08f 123px,#00a6ff 145px,#00fffa 165px,#00ff8c 186px,#01ff00 202px,#baff00 234px,#ef0 243px,#fffd00 252px,#ff6400 291px,#ff1f00 313px,#ff2700 423px,#ff4300 480px,#ff4a00 520px)"></i><i style="left:755px;width:2px;background:linear-gradient(#0079ff 0px,#009cff 26px,#00d2ff 35px,#00d7ff 42px,#00a4ff 52px,#0083ff 66px,#0089ff 126px,#00a6ff 145px,#00fffa 165px,#00ff8c 186px,#02ff00 202px,#ceff00 237px,#f0ff00 243px,#fffb00 252px,#ff5d00 293px,#ff2100 313px,#ff2a00 422px,#ff4600 480px,#ff4d00 520px)"></i><i style="left:757px;width:2px;background:linear-gradient(#007aff 0px,#009fff 26px,#00d1ff 35px,#00d5ff 42px,#00a4ff 52px,#0084ff 66px,#08f 127px,#00a7ff 145px,#00fffa 165px,#00ff8b 186px,#03ff00 202px,#f1ff00 243px,#fff900 252px,#ff4c00 298px,#f20 313px,#ff2a00 416px,#ff4a00 479px,#ff5100 520px)"></i><i style="left:759px;width:2px;background:linear-gradient(#007bff 0px,#00a1ff 26px,#00d0ff 35px,#00cdff 43px,#00a4ff 52px,#0085ff 66px,#0086ff 127px,#00a8ff 145px,#00fffa 165px,#00ff8a 186px,#04ff00 202px,#f2ff00 243px,#fff700 252px,#ff3700 304px,#ff2300 314px,#ff2a00 404px,#ff4e00 481px,#ff5400 520px)"></i><i style="left:761px;width:2px;background:linear-gradient(#007cff 0px,#00a4ff 26px,#00cfff 35px,#00cbff 43px,#00a2ff 53px,#0086ff 66px,#0082ff 119px,#0083ff 127px,#00adff 146px,#00fffa 165px,#00ff89 186px,#00ff03 201px,#f3ff00 243px,#fff700 251px,#ff3000 307px,#ff2500 316px,#ff2a00 392px,#ff4200 442px,#ff5400 495px,#ff5800 520px)"></i><i style="left:763px;width:2px;background:linear-gradient(#007cff 0px,#00a1ff 23px,#00bfff 31px,#00cfff 36px,#00c9ff 43px,#00a2ff 53px,#0086ff 66px,#0083ff 117px,#007fff 126px,#00aeff 146px,#00fffa 165px,#00ff89 186px,#00ff02 201px,#f5ff00 243px,#fff500 251px,#ff3000 307px,#ff2600 317px,#ff2b00 385px,#ff4500 440px,#ff5700 491px,#ff5b00 520px)"></i><i style="left:765px;width:2px;background:linear-gradient(#007dff 0px,#009fff 21px,#00bfff 31px,#00ceff 36px,#00c7ff 43px,#009fff 54px,#0087ff 66px,#0084ff 116px,#007aff 125px,#00afff 146px,#00fffa 165px,#0f8 186px,#00ff01 201px,#f6ff00 243px,#fff000 252px,#ff3200 306px,#ff2700 318px,#ff2b00 381px,#ff4a00 442px,#ff5b00 498px,#ff5f00 520px)"></i><i style="left:767px;width:2px;background:linear-gradient(#007eff 0px,#009eff 20px,#00cdff 36px,#00c1ff 44px,#009bff 56px,#08f 66px,#0086ff 115px,#07f 125px,#00afff 146px,#00fffa 165px,#00ff87 186px,#0f0 201px,#faff00 244px,#ffe000 256px,#ff3200 306px,#ff2900 320px,#ff2c00 378px,#ff5200 448px,#ff6300 520px)"></i><i style="left:769px;width:2px;background:linear-gradient(#007eff 0px,#009eff 19px,#0cf 36px,#00bfff 44px,#0094ff 59px,#0089ff 67px,#0086ff 115px,#0075ff 125px,#00b0ff 146px,#00fffa 165px,#00ff86 186px,#01ff00 201px,#fbff00 244px,#ffd300 259px,#ff3200 306px,#ff2a00 326px,#ff2d00 377px,#ff5e00 472px,#f60 520px)"></i><i style="left:771px;width:2px;background:linear-gradient(#007fff 0px,#009dff 18px,#0cf 36px,#00baff 45px,#0089ff 65px,#0089ff 114px,#0072ff 125px,#00b1ff 146px,#00fffa 165px,#00ff86 186px,#02ff00 201px,#fdff00 244px,#ff7500 287px,#f30 305px,#ff2b00 333px,#ff2f00 376px,#ff6200 470px,#ff6a00 520px)"></i><i style="left:773px;width:2px;background:linear-gradient(#0080ff 0px,#009eff 18px,#00cbff 36px,#00aeff 48px,#008aff 66px,#008aff 114px,#006dff 124px,#00b1ff 146px,#00fffa 165px,#00ff85 186px,#00ff04 200px,#feff00 244px,#ff6200 292px,#f30 305px,#ff2e00 372px,#ff6500 468px,#ff6d00 520px)"></i><i style="left:775px;width:2px;background:linear-gradient(#0081ff 0px,#009dff 17px,#00c8ff 34px,#00b9ff 44px,#008bff 66px,#008bff 114px,#006aff 124px,#00b2ff 146px,#00fffa 165px,#00ff84 186px,#00ff03 200px,#fcff00 243px,#f60 291px,#ff3200 305px,#ff2f00 371px,#ff6800 466px,#ff7100 520px)"></i><i style="left:777px;width:2px;background:linear-gradient(#0081ff 0px,#009fff 17px,#00c1ff 30px,#00c7ff 37px,#008cff 66px,#008bff 114px,#0067ff 124px,#00b7ff 147px,#00fffa 165px,#00ff83 186px,#00ff01 200px,#f8ff00 242px,#ffed00 249px,#ff6a00 290px,#ff3200 305px,#ff3000 371px,#ff6c00 465px,#ff7400 520px)"></i><i style="left:779px;width:2px;background:linear-gradient(#0082ff 0px,#00a0ff 17px,#00c0ff 28px,#00c6ff 37px,#008cff 66px,#008cff 114px,#0064ff 124px,#00b8ff 147px,#00fffa 165px,#00ff83 186px,#0f0 200px,#cf0 234px,#ff0 243px,#ff6a00 290px,#ff3200 305px,#ff3200 371px,#ff6f00 463px,#ff7800 520px)"></i><i style="left:781px;width:2px;background:linear-gradient(#0082ff 0px,#00a1ff 17px,#00beff 28px,#00c1ff 38px,#008cff 66px,#008dff 112px,#0071ff 121px,#06f 124px,#00b4ff 146px,#00fffe 164px,#00ff82 186px,#0f0 200px,#cdff00 234px,#ff0 243px,#ff6a00 290px,#f30 305px,#ff3500 371px,#ff7000 464px,#ff7900 520px)"></i><i style="left:783px;width:2px;background:linear-gradient(#0082ff 0px,#00a4ff 18px,#00beff 29px,#00beff 38px,#008dff 66px,#008dff 111px,#007fff 117px,#0068ff 124px,#00b1ff 145px,#00fffd 164px,#00ff80 186px,#01ff00 200px,#cdff00 234px,#ff0 243px,#ff6700 291px,#ff3500 305px,#ff3800 371px,#ff7100 464px,#ff7900 520px)"></i><i style="left:785px;width:2px;background:linear-gradient(#0082ff 0px,#0af 20px,#00bcff 29px,#0bf 38px,#008dff 65px,#008dff 110px,#007fff 117px,#006aff 124px,#00b1ff 145px,#00fffc 164px,#00ff7f 186px,#01ff00 200px,#cdff00 234px,#fffe00 243px,#ff6700 291px,#ff3600 305px,#ff3b00 372px,#ff7200 465px,#ff7a00 520px)"></i><i style="left:787px;width:2px;background:linear-gradient(#0082ff 0px,#00b0ff 22px,#0bf 32px,#00b4ff 40px,#008dff 66px,#008eff 109px,#007fff 117px,#006fff 125px,#00aeff 144px,#00fffc 164px,#00ff7e 186px,#02ff00 200px,#ceff00 234px,#fffe00 243px,#ff6400 292px,#ff3700 305px,#ff3e00 372px,#ff7300 465px,#ff7b00 520px)"></i><i style="left:789px;width:2px;background:linear-gradient(#0082ff 0px,#00b8ff 28px,#00b4ff 39px,#008dff 65px,#008fff 108px,#007fff 117px,#0071ff 125px,#00aeff 144px,#00fffb 164px,#00ff86 185px,#02ff00 200px,#ceff00 234px,#fffe00 243px,#ff6100 293px,#ff3900 305px,#ff4200 373px,#ff7400 464px,#ff7b00 520px)"></i><i style="left:791px;width:2px;background:linear-gradient(#0082ff 0px,#00b7ff 28px,#00b1ff 39px,#008dff 64px,#008fff 108px,#007eff 117px,#0073ff 125px,#00abff 143px,#00fffa 164px,#00ff85 185px,#02ff00 200px,#ceff00 234px,#fffe00 243px,#ff5e00 294px,#ff3a00 305px,#ff4600 374px,#ff7400 461px,#ff7c00 520px)"></i><i style="left:793px;width:2px;background:linear-gradient(#0082ff 0px,#00b5ff 27px,#00adff 40px,#008dff 64px,#008fff 108px,#007bff 118px,#0075ff 125px,#00abff 143px,#00fffa 164px,#00ff84 185px,#03ff00 200px,#cfff00 234px,#fffd00 243px,#ff5800 296px,#ff3b00 305px,#ff4900 374px,#ff7500 458px,#ff7d00 520px)"></i><i style="left:795px;width:2px;background:linear-gradient(#0082ff 0px,#00b4ff 27px,#00a8ff 41px,#008dff 64px,#0090ff 107px,#0074ff 124px,#00acff 143px,#00fffe 163px,#00ff83 185px,#03ff00 200px,#cfff00 234px,#fffd00 243px,#ff5100 298px,#ff3d00 305px,#ff4c00 375px,#ff7500 454px,#ff7d00 520px)"></i><i style="left:797px;width:2px;background:linear-gradient(#0082ff 0px,#00b3ff 25px,#00a6ff 41px,#0090ff 61px,#0090ff 107px,#0076ff 123px,#00a9ff 142px,#00fffd 163px,#00ff82 185px,#04ff00 200px,#d0ff00 234px,#fffd00 243px,#ff4500 302px,#ff3f00 308px,#ff5000 377px,#ff7400 447px,#ff7e00 520px)"></i><i style="left:799px;width:2px;background:linear-gradient(#0082ff 0px,#00b0ff 23px,#00a3ff 41px,#0091ff 59px,#0090ff 107px,#0078ff 122px,#00a5ff 141px,#00fffd 163px,#00ff80 185px,#00ff03 199px,#f2ff00 240px,#fffa00 244px,#ff4000 305px,#ff5400 378px,#ff7300 441px,#ff7f00 520px)"></i><i style="left:801px;width:2px;background:linear-gradient(#0082ff 0px,#00a8ff 18px,#00afff 28px,#0091ff 56px,#0090ff 107px,#0079ff 121px,#009dff 139px,#00fffc 163px,#00ff7f 185px,#00ff02 199px,#e7ff00 238px,#fffd00 243px,#ff4100 305px,#ff5700 379px,#ff7400 437px,#ff7f00 520px)"></i><i style="left:803px;width:2px;background:linear-gradient(#0082ff 0px,#00a6ff 16px,#00afff 27px,#0090ff 55px,#0092ff 106px,#007aff 121px,#00a6ff 141px,#00fffc 163px,#00ff7e 185px,#00ff02 199px,#dcff00 236px,#fffc00 243px,#ff4200 305px,#ff5c00 381px,#ff7500 434px,#ff8000 520px)"></i><i style="left:805px;width:2px;background:linear-gradient(#0082ff 0px,#00a6ff 15px,#00adff 27px,#008fff 54px,#0092ff 106px,#0079ff 120px,#00a7ff 141px,#00fffb 163px,#00ff85 184px,#00ff01 199px,#d7ff00 235px,#fffc00 243px,#f40 305px,#ff6000 383px,#ff7600 432px,#ff8100 520px)"></i><i style="left:807px;width:2px;background:linear-gradient(#0082ff 0px,#00a7ff 15px,#00adff 26px,#008eff 53px,#0092ff 106px,#007aff 120px,#00a8ff 141px,#00fffb 163px,#00ff84 184px,#00ff01 199px,#d1ff00 234px,#fffc00 243px,#ff4500 305px,#ff6500 387px,#ff7800 431px,#ff8100 520px)"></i><i style="left:809px;width:2px;background:linear-gradient(#0082ff 0px,#00a8ff 15px,#00acff 26px,#008dff 52px,#0092ff 106px,#007aff 120px,#00a8ff 141px,#00fffa 163px,#00ff83 184px,#0f0 199px,#cf0 233px,#ff0 242px,#ff4600 304px,#ff6a00 391px,#ff7a00 431px,#ff8200 520px)"></i><i style="left:811px;width:2px;background:linear-gradient(#0082ff 0px,#00a7ff 14px,#00acff 26px,#008dff 52px,#0092ff 106px,#007cff 120px,#00a9ff 141px,#00fffe 162px,#00ff81 184px,#0f0 199px,#e8ff00 238px,#fffd00 243px,#ff4900 304px,#ff6e00 394px,#ff7b00 437px,#ff8300 520px)"></i><i style="left:813px;width:2px;background:linear-gradient(#0083ff 0px,#00a7ff 14px,#0af 27px,#008dff 53px,#0091ff 106px,#007dff 120px,#00a9ff 141px,#00fffd 162px,#00ff80 184px,#0f0 199px,#f7ff00 241px,#fff500 246px,#ff4c00 304px,#ff7200 398px,#ff7e00 458px,#ff8400 520px)"></i><i style="left:815px;width:2px;background:linear-gradient(#0083ff 0px,#00a6ff 14px,#0af 27px,#008dff 53px,#008fff 107px,#007fff 120px,#00a6ff 140px,#00fffd 162px,#00ff7e 184px,#0f0 199px,#fbff00 242px,#ff5000 304px,#f70 406px,#ff8400 520px)"></i><i style="left:817px;width:2px;background:linear-gradient(#0084ff 0px,#00a6ff 14px,#0af 27px,#008dff 54px,#008fff 107px,#0082ff 121px,#00a6ff 140px,#00fffc 162px,#00ff74 185px,#0f0 199px,#faff00 242px,#ff5300 304px,#ff7e00 435px,#ff8500 520px)"></i><i style="left:819px;width:2px;background:linear-gradient(#0084ff 0px,#00a6ff 14px,#0af 27px,#008dff 54px,#008dff 108px,#0084ff 121px,#00a3ff 139px,#00fffc 162px,#00ff72 185px,#0f0 199px,#f9ff00 242px,#ffe900 251px,#ff6300 298px,#f50 308px,#ff7f00 435px,#ff8600 520px)"></i><i style="left:821px;width:2px;background:linear-gradient(#0084ff 0px,#00a6ff 14px,#00a8ff 28px,#008cff 54px,#008dff 108px,#0085ff 121px,#00a1ff 138px,#00fffc 162px,#00ff70 185px,#0f0 199px,#f7ff00 242px,#fe0 250px,#ff6a00 296px,#ff5800 308px,#ff8000 436px,#ff8700 520px)"></i><i style="left:823px;width:2px;background:linear-gradient(#0085ff 0px,#00a6ff 14px,#00a8ff 28px,#008cff 54px,#008cff 109px,#08f 122px,#009fff 137px,#00fffb 162px,#00ff6f 185px,#0f0 199px,#f6ff00 242px,#fff500 248px,#ff6f00 294px,#ff5a00 309px,#ff8000 437px,#f80 520px)"></i><i style="left:825px;width:2px;background:linear-gradient(#0085ff 0px,#00a6ff 14px,#00a8ff 28px,#008cff 54px,#008bff 111px,#008cff 124px,#009fff 137px,#00fffb 162px,#00ff6d 185px,#0f0 199px,#f1ff00 241px,#fffa00 247px,#ff7900 291px,#ff5e00 308px,#ff6c00 353px,#ff8200 445px,#f80 520px)"></i><i style="left:827px;width:2px;background:linear-gradient(#0086ff 0px,#00a6ff 14px,#00a6ff 29px,#008cff 54px,#008aff 113px,#0095ff 133px,#00e4ff 155px,#00fffa 162px,#00ff6b 185px,#0f0 199px,#f0ff00 241px,#fff800 248px,#ff8200 288px,#ff6200 306px,#ff6100 324px,#ff8200 428px,#ff8900 520px)"></i><i style="left:829px;width:2px;background:linear-gradient(#0086ff 0px,#00a6ff 14px,#00a6ff 29px,#008cff 54px,#008fff 125px,#009cff 136px,#00faff 160px,#00ffe2 166px,#00ff62 186px,#0f0 199px,#efff00 241px,#fffa00 248px,#ff8900 286px,#ff6900 302px,#ff6100 319px,#ff8200 420px,#ff8a00 520px)"></i><i style="left:831px;width:2px;background:linear-gradient(#0086ff 0px,#00a6ff 14px,#00a6ff 29px,#008dff 53px,#0090ff 125px,#009dff 136px,#00f6ff 159px,#00fff9 162px,#00ff60 186px,#0f0 199px,#ef0 241px,#fff800 249px,#ff8d00 285px,#ff6e00 300px,#ff6300 318px,#ff8100 407px,#ff8b00 520px)"></i><i style="left:833px;width:2px;background:linear-gradient(#0087ff 0px,#00a6ff 14px,#00a5ff 29px,#008dff 52px,#0091ff 125px,#009dff 136px,#00f6ff 159px,#00fff9 162px,#00ff57 187px,#0f0 199px,#e9ff00 240px,#fff900 249px,#ff9000 284px,#ff7200 299px,#ff6500 318px,#ff8200 399px,#ff8c00 520px)"></i><i style="left:835px;width:2px;background:linear-gradient(#0087ff 0px,#00a5ff 15px,#00a5ff 29px,#008cff 56px,#0092ff 124px,#009eff 136px,#0ef 157px,#00fff7 162px,#00ff4e 188px,#01ff00 199px,#e7ff00 240px,#fff900 250px,#ff9300 284px,#ff7500 298px,#ff6700 318px,#ff8200 397px,#ff8c00 520px)"></i><i style="left:837px;width:2px;background:linear-gradient(#0086ff 0px,#00a3ff 15px,#00a3ff 30px,#008cff 60px,#0092ff 122px,#00a0ff 136px,#00ebff 156px,#00fffb 161px,#00ff43 189px,#03ff00 199px,#e5ff00 241px,#fff800 252px,#ff9600 284px,#ff7800 298px,#ff6a00 318px,#ff8300 402px,#ff8c00 520px)"></i><i style="left:839px;width:2px;background:linear-gradient(#0086ff 0px,#00a1ff 16px,#00a1ff 31px,#008cff 61px,#0091ff 120px,#00a3ff 136px,#00deff 153px,#00fff9 161px,#00ff38 190px,#05ff00 199px,#e0ff00 241px,#fffa00 253px,#f90 284px,#ff7b00 298px,#ff6d00 318px,#ff8400 410px,#ff8c00 520px)"></i><i style="left:841px;width:2px;background:linear-gradient(#0085ff 0px,#009fff 17px,#009fff 33px,#008cff 61px,#0091ff 119px,#00a5ff 136px,#00dbff 152px,#00fffb 160px,#00ff35 190px,#01ff00 198px,#dbff00 241px,#fffc00 254px,#ff9d00 284px,#ff7e00 298px,#ff6f00 318px,#ff8500 421px,#ff8c00 520px)"></i><i style="left:843px;width:2px;background:linear-gradient(#0085ff 0px,#009eff 18px,#009eff 36px,#008cff 60px,#0091ff 119px,#0af 137px,#00d7ff 151px,#00fff9 160px,#00ff2a 191px,#03ff00 198px,#d7ff00 241px,#fffa00 256px,#ffa300 283px,#ff8200 297px,#ff7200 318px,#ff8700 441px,#ff8c00 520px)"></i><i style="left:845px;width:2px;background:linear-gradient(#0084ff 0px,#009dff 20px,#09f 43px,#008cff 60px,#0091ff 118px,#00aeff 138px,#00d4ff 150px,#00fffc 159px,#00ff1f 192px,#05ff00 198px,#d2ff00 241px,#fffc00 257px,#ffa600 283px,#ff8500 297px,#ff7500 319px,#ff8900 465px,#ff8c00 520px)"></i><i style="left:847px;width:2px;background:linear-gradient(#0084ff 0px,#009fff 26px,#09f 44px,#008cff 60px,#0091ff 118px,#00b3ff 139px,#00d5ff 150px,#00fffa 159px,#00ff03 196px,#d0ff00 242px,#fffa00 259px,#ffac00 282px,#f80 297px,#ff7800 319px,#ff8c00 511px,#ff8c00 520px)"></i><i style="left:849px;width:2px;background:linear-gradient(#0083ff 0px,#009fff 30px,#009bff 43px,#008cff 59px,#0090ff 117px,#0bf 142px,#00d6ff 150px,#00fffe 158px,#0f0 196px,#cbff00 242px,#fffc00 260px,#ffb000 282px,#ff8a00 297px,#ff7a00 319px,#ff8c00 520px)"></i><i style="left:851px;width:2px;background:linear-gradient(#0083ff 0px,#00a2ff 39px,#008cff 58px,#0091ff 117px,#00c7ff 147px,#00fffc 158px,#00ff02 195px,#caff00 243px,#fffd00 261px,#ffb300 282px,#ff8d00 297px,#ff7d00 319px,#ff8c00 520px)"></i><i style="left:853px;width:2px;background:linear-gradient(#0082ff 0px,#00a2ff 40px,#008cff 58px,#0091ff 117px,#00cdff 148px,#00fffa 158px,#01ff00 195px,#c5ff00 243px,#fffd00 262px,#ffb700 282px,#ff9000 297px,#ff8000 320px,#ff8c00 520px)"></i><i style="left:855px;width:2px;background:linear-gradient(#0082ff 0px,#00a2ff 41px,#008cff 57px,#0090ff 116px,#00ceff 148px,#0ff 157px,#0f0 194px,#c3ff00 244px,#fffa00 264px,#ffb400 284px,#ff9300 297px,#ff8200 320px,#ff8c00 520px)"></i></div>
<div class="f" style="top:1151px;width:1016px;height:521px;clip-path:polygon(273.3px 1.5px,847.0px 2.5px,856.2px 5.0px,856.2px 313.0px,746.3px 520.5px,437.1px 520.5px,273.3px 318.0px)"><i style="left:273px;width:2px;background:linear-gradient(#00e5ff 0px,#00d8ff 5px,#00c8ff 10px,#00c9ff 17px,#00fffd 22px,#00ff01 41px,#7aff00 65px,#c4ff00 106px,#fffc00 147px,#ffd200 189px,#ff6a00 244px,#ff2800 288px,#ff1c00 327px,#ff1600 521px)"></i><i style="left:275px;width:2px;background:linear-gradient(#00e2ff 0px,#00d6ff 5px,#00c7ff 10px,#00caff 17px,#00fffd 22px,#00ff02 41px,#7aff00 65px,#c5ff00 107px,#fffc00 147px,#ffd000 190px,#ff6500 246px,#ff2800 288px,#ff1c00 327px,#ff1600 521px)"></i><i style="left:277px;width:2px;background:linear-gradient(#00e0ff 0px,#00d1ff 6px,#00c6ff 11px,#00cbff 17px,#00fffe 22px,#00ff04 41px,#7aff00 65px,#c9ff00 109px,#fffc00 147px,#ffd000 190px,#ff4700 265px,#ff2700 290px,#ff1c00 329px,#ff1500 521px)"></i><i style="left:279px;width:2px;background:linear-gradient(#0df 0px,#0cf 7px,#00c4ff 13px,#0cf 17px,#00fffe 22px,#00ff06 41px,#28ff00 49px,#7aff00 65px,#cbff00 110px,#fffc00 147px,#ffce00 191px,#ff4700 265px,#ff2700 290px,#ff1c00 330px,#ff1500 521px)"></i><i style="left:281px;width:2px;background:linear-gradient(#00daff 0px,#00c3ff 12px,#00cdff 17px,#00fffe 22px,#00ff07 41px,#0cff00 44px,#7aff00 65px,#ceff00 112px,#fffc00 147px,#ffcd00 192px,#ff4700 265px,#ff2700 290px,#ff1c00 330px,#ff1500 521px)"></i><i style="left:283px;width:2px;background:linear-gradient(#00d8ff 0px,#00c2ff 12px,#00ceff 17px,#0ff 22px,#0f2 39px,#00ff01 42px,#7aff00 65px,#d0ff00 113px,#fffc00 146px,#ffcb00 193px,#ff4800 264px,#ff2800 289px,#ff1c00 329px,#ff1400 521px)"></i><i style="left:285px;width:2px;background:linear-gradient(#00d5ff 0px,#00c1ff 13px,#00d9ff 18px,#0ff 22px,#00ff3b 37px,#00ff03 42px,#7aff00 65px,#d4ff00 115px,#fffc00 146px,#ffca00 194px,#ff4800 264px,#ff2800 289px,#ff1c00 329px,#ff1400 521px)"></i><i style="left:287px;width:2px;background:linear-gradient(#00d3ff 0px,#00c0ff 13px,#00daff 18px,#0ff 22px,#00ff86 31px,#00ff04 42px,#7aff00 65px,#d6ff00 116px,#fffc00 146px,#ffc800 195px,#ff4800 264px,#ff2800 289px,#ff1c00 329px,#ff1400 521px)"></i><i style="left:289px;width:2px;background:linear-gradient(#00d0ff 0px,#00bfff 13px,#00daff 18px,#00feff 22px,#00ffb1 28px,#00ff49 36px,#00ff05 42px,#7aff00 65px,#d9ff00 118px,#fffc00 146px,#ffc700 196px,#ff4a00 263px,#ff2800 289px,#ff1c00 329px,#ff1300 521px)"></i><i style="left:291px;width:2px;background:linear-gradient(#00cdff 0px,#00bdff 13px,#00e4ff 19px,#00feff 22px,#00ffcd 26px,#00ff61 34px,#00ff06 42px,#19ff00 47px,#7aff00 65px,#dbff00 119px,#fffc00 146px,#ffc400 198px,#ff4b00 262px,#ff2800 289px,#ff1c00 329px,#ff1300 521px)"></i><i style="left:293px;width:2px;background:linear-gradient(#00cbff 0px,#00bcff 13px,#00edff 20px,#00fff8 23px,#00ff61 34px,#02ff00 43px,#7aff00 65px,#df0 120px,#fffc00 146px,#ffc300 199px,#ff4b00 262px,#ff2800 289px,#ff1c00 329px,#ff1300 521px)"></i><i style="left:295px;width:2px;background:linear-gradient(#00c8ff 0px,#0bf 13px,#00fdff 22px,#00ffeb 24px,#00ff61 34px,#02ff00 43px,#7aff00 65px,#dfff00 121px,#fffc00 146px,#ffc100 200px,#ff4b00 262px,#ff2800 289px,#ff1c00 329px,#ff1300 521px)"></i><i style="left:297px;width:2px;background:linear-gradient(#00c6ff 0px,#00baff 13px,#00fdff 22px,#00ffeb 24px,#00ff6d 33px,#01ff00 43px,#7aff00 65px,#e0ff00 122px,#fffb00 146px,#ffc100 200px,#ff4b00 262px,#ff2800 289px,#ff1c00 330px,#ff1200 521px)"></i><i style="left:299px;width:2px;background:linear-gradient(#00c3ff 0px,#00b9ff 13px,#00fffa 23px,#00ff6d 33px,#0f0 43px,#7aff00 65px,#e4ff00 124px,#fffb00 146px,#ffbf00 201px,#ff4b00 262px,#ff2800 289px,#ff1c00 330px,#ff1200 521px)"></i><i style="left:301px;width:2px;background:linear-gradient(#00c1ff 0px,#00b8ff 13px,#00fffa 23px,#00ff6d 33px,#00ff01 43px,#78ff00 65px,#dfff00 121px,#fffc00 145px,#ffc100 200px,#ff4b00 262px,#ff2800 289px,#ff1c00 330px,#ff1200 521px)"></i><i style="left:303px;width:2px;background:linear-gradient(#00bfff 0px,#00b8ff 13px,#00fdff 22px,#00ffeb 24px,#00ff6d 33px,#00ff03 43px,#76ff00 65px,#dcff00 119px,#fffc00 145px,#ffc100 200px,#ff4b00 262px,#ff2800 289px,#ff1c00 330px,#ff1200 521px)"></i><i style="left:305px;width:2px;background:linear-gradient(#00bdff 0px,#00b7ff 13px,#00fdff 22px,#00ffea 24px,#00ff62 34px,#00ff04 43px,#75ff00 65px,#d9ff00 117px,#fffc00 145px,#ffc100 200px,#ff4b00 262px,#ff2800 289px,#ff1c00 330px,#ff1200 521px)"></i><i style="left:307px;width:2px;background:linear-gradient(#0bf 0px,#00b6ff 13px,#00feff 22px,#00ffdc 25px,#00ff63 34px,#01ff00 44px,#73ff00 65px,#d5ff00 115px,#fffc00 145px,#ffc100 200px,#ff4b00 262px,#ff2800 289px,#ff1c00 330px,#ff1200 521px)"></i><i style="left:309px;width:2px;background:linear-gradient(#00b9ff 0px,#00b5ff 13px,#00feff 22px,#00ffdc 25px,#00ff63 34px,#00ff01 44px,#71ff00 65px,#d4ff00 114px,#fffc00 145px,#ffc100 200px,#ff4b00 262px,#ff2800 289px,#ff1c00 330px,#ff1200 521px)"></i><i style="left:311px;width:2px;background:linear-gradient(#00b7ff 0px,#00b5ff 13px,#00feff 22px,#00ffcd 26px,#00ff63 34px,#00ff02 44px,#6fff00 65px,#d0ff00 112px,#fffc00 144px,#ffc100 200px,#ff4b00 262px,#ff2800 289px,#ff1c00 330px,#ff1200 521px)"></i><i style="left:313px;width:2px;background:linear-gradient(#00b5ff 0px,#00b4ff 13px,#00feff 22px,#00ffa3 29px,#00ff59 35px,#00ff03 44px,#70ff00 66px,#d2ff00 113px,#fffc00 144px,#ffc100 200px,#ff4b00 262px,#ff2800 289px,#ff1c00 330px,#ff1200 521px)"></i><i style="left:315px;width:2px;background:linear-gradient(#00b3ff 0px,#00b3ff 13px,#0ff 22px,#00ff63 34px,#00ff05 44px,#6fff00 66px,#d0ff00 112px,#fffc00 144px,#ffc100 200px,#ff4b00 262px,#ff2800 289px,#ff1c00 330px,#ff1200 521px)"></i><i style="left:317px;width:2px;background:linear-gradient(#00b1ff 0px,#00b7ff 14px,#0ff 22px,#00ff63 34px,#00ff06 44px,#23ff00 51px,#6dff00 66px,#ceff00 111px,#fffc00 144px,#ffc100 200px,#ff4b00 262px,#ff2800 289px,#ff1c00 330px,#ff1200 521px)"></i><i style="left:319px;width:2px;background:linear-gradient(#00afff 0px,#00b6ff 14px,#0ff 22px,#00ff63 34px,#0f0 45px,#6bff00 66px,#cf0 110px,#fffc00 144px,#ffc100 200px,#ff4b00 262px,#ff2800 289px,#ff1c00 330px,#ff1200 521px)"></i><i style="left:321px;width:2px;background:linear-gradient(#00adff 0px,#00b5ff 14px,#00fffe 22px,#00ff63 34px,#00ff02 45px,#6aff00 66px,#caff00 109px,#fffd00 143px,#ffc100 200px,#ff4b00 262px,#ff2800 289px,#ff1c00 330px,#ff1200 521px)"></i><i style="left:323px;width:2px;background:linear-gradient(#00abff 0px,#00b4ff 14px,#00fffe 22px,#00ff5a 35px,#00ff03 45px,#6bff00 67px,#cbff00 110px,#fffd00 143px,#ffc300 199px,#ff4b00 262px,#ff2800 289px,#ff1c00 330px,#ff1200 521px)"></i><i style="left:325px;width:2px;background:linear-gradient(#00a9ff 0px,#00b3ff 14px,#00fffe 22px,#00ff5a 35px,#00ff04 45px,#6aff00 67px,#cbff00 110px,#fffd00 143px,#ffc300 199px,#ff4b00 262px,#ff2800 289px,#ff1c00 330px,#ff1200 521px)"></i><i style="left:327px;width:2px;background:linear-gradient(#00a7ff 0px,#00b2ff 14px,#00fffe 22px,#00ff5a 35px,#00ff05 45px,#61ff00 65px,#c4ff00 106px,#fffc00 143px,#ffc300 199px,#ff4b00 262px,#ff2800 289px,#ff1c00 330px,#ff1200 521px)"></i><i style="left:329px;width:2px;background:linear-gradient(#00a5ff 0px,#00b2ff 14px,#00fffd 22px,#00ff5b 35px,#01ff00 46px,#6aff00 68px,#c9ff00 109px,#fffc00 143px,#ffc300 199px,#ff4b00 262px,#ff2800 289px,#ff1c00 330px,#ff1200 521px)"></i><i style="left:331px;width:2px;background:linear-gradient(#00a3ff 0px,#00b0ff 14px,#00fffd 22px,#00ff5b 35px,#00ff01 46px,#6dff00 69px,#caff00 110px,#fffd00 142px,#ffc300 199px,#ff4b00 262px,#ff2800 289px,#ff1c00 330px,#ff1200 521px)"></i><i style="left:333px;width:2px;background:linear-gradient(#00a1ff 0px,#00b0ff 14px,#00fffd 22px,#00ff5b 35px,#00ff02 46px,#6bff00 69px,#c8ff00 109px,#fffd00 142px,#ffc300 199px,#ff4b00 262px,#ff2800 289px,#ff1c00 330px,#ff1200 521px)"></i><i style="left:335px;width:2px;background:linear-gradient(#009fff 0px,#00aeff 14px,#00fffc 22px,#00ff5b 35px,#00ff03 46px,#6dff00 70px,#c8ff00 109px,#fffd00 142px,#ffc300 199px,#ff4b00 262px,#ff2800 289px,#ff1c00 330px,#ff1200 521px)"></i><i style="left:337px;width:2px;background:linear-gradient(#009dff 0px,#00adff 14px,#00fffc 22px,#00ff5c 35px,#04ff00 47px,#6bff00 70px,#c6ff00 108px,#fffd00 142px,#ffc300 199px,#ff4b00 262px,#ff2800 289px,#ff1c00 330px,#ff1200 521px)"></i><i style="left:339px;width:2px;background:linear-gradient(#009bff 0px,#00acff 14px,#00fffc 22px,#00ff5c 35px,#03ff00 47px,#6dff00 71px,#c6ff00 108px,#fffd00 142px,#ffc300 199px,#ff4b00 262px,#ff2800 289px,#ff1c00 330px,#ff1200 521px)"></i><i style="left:341px;width:2px;background:linear-gradient(#09f 0px,#00acff 14px,#00fffc 22px,#00ff5c 35px,#02ff00 47px,#6bff00 71px,#c3ff00 107px,#fffd00 142px,#ffc300 199px,#ff4b00 262px,#ff2800 289px,#ff1c00 330px,#ff1200 521px)"></i><i style="left:343px;width:2px;background:linear-gradient(#0097ff 0px,#0af 14px,#00fffb 22px,#00ff5c 35px,#01ff00 47px,#6aff00 71px,#c3ff00 107px,#fffd00 141px,#ffc300 199px,#ff4b00 262px,#ff2800 289px,#ff1c00 330px,#ff1200 521px)"></i><i style="left:345px;width:2px;background:linear-gradient(#008fff 0px,#009fff 14px,#00fffb 24px,#00ff80 35px,#01ff00 49px,#69ff00 72px,#c1ff00 106px,#fffd00 141px,#ffc300 199px,#ff4b00 262px,#ff2800 289px,#ff1c00 330px,#ff1200 521px)"></i><i style="left:347px;width:2px;background:linear-gradient(#0081ff 0px,#0083ff 11px,#0091ff 15px,#00fffb 29px,#00ffba 36px,#00ff10 49px,#06ff00 53px,#68ff00 73px,#bdff00 104px,#fffd00 141px,#ffc300 199px,#ff4b00 262px,#ff2800 289px,#ff1c00 330px,#ff1200 521px)"></i><i style="left:349px;width:2px;background:linear-gradient(#0072ff 0px,#006aff 10px,#0082ff 17px,#00c2ff 28px,#00f1ff 35px,#00fffe 36px,#00ff8d 43px,#00ff21 49px,#05ff00 55px,#6bff00 75px,#bdff00 104px,#fffd00 141px,#ffc300 199px,#ff4b00 262px,#ff2800 289px,#ff1c00 330px,#ff1200 521px)"></i><i style="left:351px;width:2px;background:linear-gradient(#0064ff 0px,#0053ff 10px,#0086ff 27px,#0af 35px,#00f3ff 39px,#00fff8 40px,#00ff32 49px,#00ff01 56px,#6aff00 76px,#bcff00 103px,#fffd00 141px,#ffc300 199px,#ff4b00 262px,#ff2800 289px,#ff1c00 330px,#ff1200 521px)"></i><i style="left:353px;width:2px;background:linear-gradient(#0062ff 0px,#0051ff 10px,#0084ff 27px,#00a9ff 35px,#00fffc 40px,#00ff37 49px,#04ff00 57px,#69ff00 76px,#bf0 103px,#fffd00 141px,#ffc300 199px,#ff4b00 262px,#ff2800 289px,#ff1c00 329px,#ff1200 521px)"></i><i style="left:355px;width:2px;background:linear-gradient(#005fff 0px,#004fff 10px,#0083ff 27px,#00a7ff 35px,#0ff 40px,#00ff3b 49px,#03ff00 57px,#68ff00 76px,#bdff00 104px,#fffd00 141px,#ffc300 199px,#ff4b00 262px,#ff2800 289px,#ff1c00 329px,#ff1200 521px)"></i><i style="left:357px;width:2px;background:linear-gradient(#005dff 0px,#004dff 10px,#0081ff 27px,#00a6ff 35px,#00fcff 40px,#00ff98 45px,#00ff40 49px,#00ff0d 55px,#08ff00 58px,#6bff00 77px,#bcff00 104px,#fffd00 141px,#ffc400 198px,#ff4b00 262px,#ff2700 289px,#ff1c00 329px,#ff1200 521px)"></i><i style="left:359px;width:2px;background:linear-gradient(#005bff 0px,#004bff 10px,#0080ff 27px,#00a4ff 35px,#00e6ff 39px,#00f9ff 40px,#0fd 42px,#0f4 49px,#00ff16 54px,#06ff00 58px,#6aff00 77px,#beff00 105px,#fffd00 141px,#ffc400 198px,#ff4b00 262px,#ff2700 289px,#ff1b00 329px,#f10 521px)"></i><i style="left:361px;width:2px;background:linear-gradient(#0058ff 0px,#0049ff 10px,#007eff 27px,#00a3ff 35px,#00d0ff 38px,#00f6ff 40px,#00fff5 41px,#00ff49 49px,#00ff1e 53px,#04ff00 58px,#6aff00 77px,#beff00 105px,#fffd00 141px,#ffc400 198px,#ff4a00 262px,#ff2700 289px,#ff1b00 328px,#f10 521px)"></i><i style="left:363px;width:2px;background:linear-gradient(#0056ff 0px,#0047ff 10px,#007dff 27px,#00a1ff 35px,#0cf 38px,#00fff8 41px,#00ff4e 49px,#00ff20 53px,#02ff00 58px,#6dff00 78px,#bfff00 106px,#fffd00 140px,#ffc500 197px,#ff4a00 262px,#ff2700 289px,#ff1b00 328px,#f10 521px)"></i><i style="left:365px;width:2px;background:linear-gradient(#0054ff 0px,#0045ff 10px,#007bff 27px,#00a0ff 35px,#00b6ff 37px,#00fffc 41px,#00ff52 49px,#00ff28 52px,#01ff00 58px,#6cff00 78px,#c1ff00 107px,#fffd00 140px,#ffc500 197px,#ff4a00 262px,#ff2700 289px,#ff1b00 328px,#f10 521px)"></i><i style="left:367px;width:2px;background:linear-gradient(#0052ff 0px,#0043ff 10px,#0079ff 27px,#00a8ff 36px,#00c5ff 38px,#0ff 41px,#00ff57 49px,#00ff2a 52px,#06ff00 59px,#70ff00 79px,#c3ff00 108px,#fffd00 140px,#ffc500 197px,#ff4c00 261px,#ff2700 289px,#ff1b00 328px,#f10 521px)"></i><i style="left:369px;width:2px;background:linear-gradient(#004fff 0px,#0042ff 10px,#0078ff 27px,#00a6ff 36px,#00aeff 37px,#00fcff 41px,#00ff4c 50px,#00ff2c 52px,#04ff00 59px,#70ff00 79px,#c5ff00 109px,#fffd00 140px,#ffc500 197px,#ff4c00 261px,#ff2700 289px,#ff1b00 327px,#f10 521px)"></i><i style="left:371px;width:2px;background:linear-gradient(#004dff 0px,#0040ff 10px,#0076ff 27px,#00a3ff 36px,#00abff 37px,#00f9ff 41px,#00ff75 48px,#00ff2d 52px,#02ff00 59px,#6fff00 79px,#c6ff00 110px,#fffd00 140px,#ffc700 196px,#ff4b00 261px,#ff2600 290px,#ff1a00 328px,#ff1000 521px)"></i><i style="left:373px;width:2px;background:linear-gradient(#004bff 0px,#003eff 10px,#0075ff 27px,#00a7ff 37px,#00f6ff 41px,#00ffdf 43px,#00ff2f 52px,#0f0 59px,#6fff00 79px,#c8ff00 111px,#fffe00 139px,#ffc700 196px,#ff4b00 261px,#ff2600 290px,#ff1a00 328px,#ff1000 521px)"></i><i style="left:375px;width:2px;background:linear-gradient(#0048ff 0px,#003cff 10px,#0073ff 27px,#00a4ff 37px,#00f3ff 41px,#00fff7 42px,#00ff30 52px,#05ff00 60px,#71ff00 80px,#c8ff00 111px,#fffd00 139px,#ffc700 196px,#ff4b00 261px,#ff2600 290px,#ff1a00 328px,#ff1000 521px)"></i><i style="left:377px;width:2px;background:linear-gradient(#0046ff 0px,#003aff 10px,#0072ff 27px,#00a0ff 37px,#00fffa 42px,#00ff32 52px,#03ff00 60px,#71ff00 80px,#c8ff00 111px,#fffd00 139px,#ffc700 196px,#ff4b00 261px,#ff2600 290px,#ff1a00 328px,#ff1000 521px)"></i><i style="left:379px;width:2px;background:linear-gradient(#0048ff 0px,#003dff 10px,#0078ff 28px,#00a5ff 37px,#00f4ff 41px,#00fff6 42px,#00ff32 52px,#04ff00 60px,#73ff00 81px,#c8ff00 111px,#fffd00 139px,#ffc700 196px,#ff4b00 261px,#ff2600 290px,#ff1a00 328px,#ff1000 521px)"></i><i style="left:381px;width:2px;background:linear-gradient(#004aff 0px,#0040ff 10px,#007aff 28px,#00abff 37px,#00f9ff 41px,#00ffa1 46px,#00ff31 52px,#05ff00 60px,#73ff00 81px,#cbff00 112px,#fffd00 139px,#ffc500 197px,#ff4b00 261px,#ff2600 290px,#ff1a00 328px,#ff1000 521px)"></i><i style="left:383px;width:2px;background:linear-gradient(#004cff 0px,#0043ff 10px,#007cff 28px,#00b0ff 37px,#00fdff 41px,#00ff42 51px,#00ff31 52px,#00ff01 59px,#72ff00 81px,#cbff00 112px,#fffd00 139px,#ffc400 198px,#ff4c00 260px,#ff2600 289px,#ff1a00 327px,#ff1000 521px)"></i><i style="left:385px;width:2px;background:linear-gradient(#004eff 0px,#0046ff 10px,#0082ff 29px,#00b6ff 37px,#00fffc 41px,#00ff63 49px,#00ff30 52px,#0f0 59px,#72ff00 81px,#cbff00 112px,#fffd00 139px,#ffc300 199px,#ff4c00 260px,#ff2600 289px,#ff1a00 327px,#ff0f00 521px)"></i><i style="left:387px;width:2px;background:linear-gradient(#004fff 0px,#0049ff 10px,#0083ff 29px,#0bf 37px,#00f2ff 40px,#00fff8 41px,#00ff70 48px,#00ff30 52px,#01ff00 59px,#75ff00 82px,#ceff00 113px,#fffd00 138px,#ffc300 199px,#ff4c00 260px,#ff2600 289px,#ff1a00 328px,#ff0f00 521px)"></i><i style="left:389px;width:2px;background:linear-gradient(#0051ff 0px,#004eff 11px,#0085ff 29px,#00c0ff 37px,#00f6ff 40px,#00ffe0 42px,#00ff6c 48px,#00ff2f 52px,#02ff00 59px,#74ff00 82px,#ceff00 113px,#fffd00 138px,#ffc300 199px,#ff4c00 260px,#ff2600 289px,#ff1a00 328px,#ff0f00 521px)"></i><i style="left:391px;width:2px;background:linear-gradient(#0053ff 0px,#0051ff 11px,#0087ff 29px,#00c6ff 37px,#00fbff 40px,#00ff69 48px,#00ff2f 52px,#02ff00 59px,#74ff00 82px,#ceff00 113px,#fffd00 138px,#ffc300 199px,#ff4c00 260px,#ff2600 289px,#ff1a00 328px,#ff0f00 521px)"></i><i style="left:393px;width:2px;background:linear-gradient(#05f 0px,#0054ff 11px,#0089ff 29px,#00cbff 37px,#0ff 40px,#00ff73 47px,#00ff2e 52px,#03ff00 59px,#7f0 83px,#d1ff00 114px,#fffd00 138px,#ffc300 199px,#ff4c00 260px,#ff2600 289px,#ff1900 328px,#ff0f00 521px)"></i><i style="left:395px;width:2px;background:linear-gradient(#0057ff 0px,#0059ff 12px,#008aff 29px,#00d0ff 37px,#00fffb 40px,#00ff6f 47px,#00ff27 53px,#04ff00 59px,#7aff00 84px,#d3ff00 115px,#fffd00 138px,#ffc100 200px,#ff4c00 260px,#ff2600 289px,#ff1900 328px,#ff0f00 521px)"></i><i style="left:397px;width:2px;background:linear-gradient(#0059ff 0px,#005cff 12px,#008cff 29px,#00d6ff 37px,#00f4ff 39px,#00fff6 40px,#00ff6a 47px,#00ff26 53px,#05ff00 59px,#7aff00 84px,#d3ff00 115px,#fffd00 137px,#ffc100 200px,#ff4c00 260px,#ff2500 289px,#ff1900 329px,#ff0f00 521px)"></i><i style="left:399px;width:2px;background:linear-gradient(#005bff 0px,#0060ff 13px,#008eff 29px,#00eaff 38px,#00f8ff 39px,#00ffca 42px,#0f6 47px,#00ff26 53px,#06ff00 59px,#7dff00 85px,#d6ff00 116px,#fffd00 137px,#ffc100 200px,#ff4c00 260px,#ff2500 289px,#ff1900 329px,#ff0f00 521px)"></i><i style="left:401px;width:2px;background:linear-gradient(#005dff 0px,#0064ff 14px,#008fff 29px,#0ef 38px,#00fcff 39px,#00ff62 47px,#00ff1e 54px,#00ff01 58px,#7cff00 85px,#d4ff00 115px,#fffd00 137px,#ffc100 200px,#ff4c00 260px,#ff2500 289px,#ff1900 329px,#ff0e00 521px)"></i><i style="left:403px;width:2px;background:linear-gradient(#005eff 0px,#0069ff 15px,#0091ff 29px,#00fffd 39px,#00ff5d 47px,#00ff16 55px,#0f0 58px,#7fff00 86px,#d4ff00 115px,#fffd00 137px,#ffc100 200px,#ff4b00 260px,#ff2500 289px,#ff1900 329px,#ff0e00 521px)"></i><i style="left:405px;width:2px;background:linear-gradient(#0060ff 0px,#006eff 16px,#0093ff 29px,#00f8ff 38px,#00fff9 39px,#00ff59 47px,#01ff00 58px,#82ff00 87px,#d5ff00 115px,#fffd00 137px,#ffc100 200px,#ff4b00 260px,#ff2500 289px,#ff1900 330px,#ff0e00 521px)"></i><i style="left:407px;width:2px;background:linear-gradient(#0062ff 0px,#0074ff 17px,#0094ff 29px,#00fdff 38px,#00ffe0 40px,#00ff54 47px,#02ff00 58px,#82ff00 87px,#d5ff00 115px,#fffe00 136px,#ffc100 200px,#ff4b00 260px,#ff2500 289px,#ff1900 330px,#ff0e00 521px)"></i><i style="left:409px;width:2px;background:linear-gradient(#0064ff 0px,#0076ff 17px,#0096ff 29px,#00fffc 38px,#00ffdc 40px,#00ff50 47px,#02ff00 58px,#85ff00 88px,#d5ff00 115px,#fffd00 136px,#ffc100 200px,#ff4b00 260px,#ff2500 289px,#ff1900 330px,#ff0e00 521px)"></i><i style="left:411px;width:2px;background:linear-gradient(#09f 0px,#00c0ff 16px,#00f0ff 29px,#00fff2 32px,#00ffb0 39px,#00ff35 47px,#03ff00 56px,#32ff00 66px,#94ff00 92px,#d8ff00 116px,#fffd00 136px,#ffbf00 201px,#ff4b00 260px,#ff2500 289px,#ff1900 330px,#ff0e00 521px)"></i><i style="left:413px;width:2px;background:linear-gradient(#00cdff 0px,#00d6ff 4px,#00fffa 14px,#00ffa6 31px,#0f6 40px,#00ff1b 47px,#03ff00 53px,#38ff00 65px,#b5ff00 102px,#f5ff00 129px,#fffa00 139px,#ffbf00 201px,#ff4b00 260px,#ff2500 289px,#ff1900 330px,#ff0e00 521px)"></i><i style="left:415px;width:2px;background:linear-gradient(#00fffc 0px,#00fff6 3px,#00ff60 28px,#00ff1e 42px,#0f0 47px,#80ff00 84px,#d8ff00 115px,#fffd00 136px,#ffbf00 201px,#ff4b00 260px,#ff2500 289px,#ff1900 330px,#ff0e00 521px)"></i><i style="left:417px;width:2px;background:linear-gradient(#00ffc8 0px,#00ffc8 2px,#00ff49 18px,#0f0 29px,#29ff00 53px,#d9ff00 115px,#fffd00 135px,#ffbf00 201px,#ff4b00 260px,#ff2500 289px,#ff1900 330px,#ff0e00 521px)"></i><i style="left:419px;width:2px;background:linear-gradient(#0fb 0px,#0fb 2px,#0f4 18px,#01ff00 29px,#2bff00 53px,#daff00 115px,#fffd00 135px,#ffbf00 201px,#ff4b00 260px,#ff2500 289px,#ff1900 330px,#ff0e00 521px)"></i><i style="left:421px;width:2px;background:linear-gradient(#00ffaf 0px,#00ffa8 3px,#00ff3f 18px,#02ff00 29px,#2dff00 53px,#dcff00 116px,#fffd00 135px,#ffbf00 201px,#ff4b00 260px,#ff2500 289px,#ff1900 330px,#ff0e00 521px)"></i><i style="left:423px;width:2px;background:linear-gradient(#00ffa2 0px,#00ff9c 3px,#00ff35 19px,#04ff00 29px,#2fff00 53px,#dcff00 116px,#fffd00 135px,#ffbf00 201px,#ff4b00 260px,#ff2500 289px,#ff1900 329px,#ff0e00 521px)"></i><i style="left:425px;width:2px;background:linear-gradient(#00ff96 0px,#00ff90 3px,#00ff2b 20px,#05ff00 29px,#31ff00 53px,#df0 116px,#fffd00 135px,#ffbf00 201px,#ff4b00 260px,#ff2500 289px,#ff1900 329px,#ff0e00 521px)"></i><i style="left:427px;width:2px;background:linear-gradient(#00ff89 0px,#00ff84 3px,#0f2 21px,#06ff00 29px,#36ff00 54px,#dbff00 115px,#fffd00 135px,#ffbf00 201px,#ff4c00 259px,#ff2500 289px,#ff1900 329px,#ff0e00 521px)"></i><i style="left:429px;width:2px;background:linear-gradient(#00ff7d 0px,#00ff78 3px,#00ff1a 22px,#03ff00 28px,#3bff00 55px,#d5ff00 112px,#fffd00 135px,#ffbf00 201px,#ff4c00 259px,#ff2500 289px,#ff1900 329px,#ff0e00 521px)"></i><i style="left:431px;width:2px;background:linear-gradient(#00ff70 0px,#00ff67 4px,#00ff01 27px,#3dff00 55px,#cfff00 109px,#fffd00 134px,#ffbf00 201px,#ff4c00 259px,#ff2500 289px,#ff1900 328px,#ff0e00 521px)"></i><i style="left:433px;width:2px;background:linear-gradient(#00ff64 0px,#00ff5b 4px,#01ff00 27px,#3fff00 55px,#b9ff00 100px,#fffd00 134px,#ffbf00 201px,#ff4c00 259px,#ff2500 289px,#ff1800 328px,#ff0e00 521px)"></i><i style="left:435px;width:2px;background:linear-gradient(#00ff57 0px,#00ff4c 5px,#03ff00 27px,#40ff00 55px,#aeff00 95px,#fffd00 134px,#ffbf00 201px,#ff4c00 259px,#ff2500 289px,#ff1800 328px,#ff0e00 521px)"></i><i style="left:437px;width:2px;background:linear-gradient(#00ff4b 0px,#00ff3a 7px,#05ff00 27px,#42ff00 55px,#a8ff00 92px,#fffe00 133px,#ffbf00 201px,#ff4c00 259px,#ff2500 289px,#ff1800 328px,#ff0e00 521px)"></i><i style="left:439px;width:2px;background:linear-gradient(#00ff3f 0px,#03ff00 26px,#47ff00 56px,#a4ff00 90px,#fffd00 134px,#ffbf00 201px,#ff4c00 259px,#ff2500 289px,#ff1800 328px,#ff0e00 521px)"></i><i style="left:441px;width:2px;background:linear-gradient(#00ff32 0px,#02ff00 25px,#49ff00 56px,#a2ff00 88px,#fffe00 133px,#ffbf00 201px,#ff4d00 258px,#ff2500 289px,#ff1800 327px,#ff0e00 521px)"></i><i style="left:443px;width:2px;background:linear-gradient(#00ff25 0px,#05ff00 25px,#4bff00 56px,#a1ff00 87px,#fffe00 133px,#ffbf00 201px,#ff4d00 258px,#ff2400 290px,#ff1800 328px,#ff0e00 521px)"></i><i style="left:445px;width:2px;background:linear-gradient(#00ff19 0px,#05ff00 24px,#4aff00 55px,#a0ff00 86px,#fffe00 133px,#ffbf00 201px,#ff4d00 258px,#ff2400 290px,#ff1800 328px,#ff0e00 521px)"></i><i style="left:447px;width:2px;background:linear-gradient(#00ff0d 0px,#07ff00 24px,#4cff00 55px,#a0ff00 85px,#fffe00 133px,#ffbf00 201px,#ff4d00 258px,#ff2400 290px,#ff1800 328px,#ff0e00 521px)"></i><i style="left:449px;width:2px;background:linear-gradient(#0f0 0px,#10ff00 27px,#4eff00 55px,#a2ff00 85px,#fffd00 133px,#ffbf00 201px,#ff4d00 258px,#ff2400 290px,#ff1800 328px,#ff0e00 521px)"></i><i style="left:451px;width:2px;background:linear-gradient(#0f0 0px,#1f0 27px,#4fff00 55px,#a2ff00 85px,#fffd00 133px,#ffbe00 201px,#ff4c00 258px,#ff2400 290px,#ff1800 328px,#ff0e00 521px)"></i><i style="left:453px;width:2px;background:linear-gradient(#01ff00 0px,#14ff00 28px,#50ff00 55px,#a3ff00 85px,#fffd00 133px,#ffbf00 200px,#ff4c00 258px,#ff2400 290px,#ff1800 329px,#ff0e00 521px)"></i><i style="left:455px;width:2px;background:linear-gradient(#01ff00 0px,#15ff00 28px,#54ff00 56px,#a3ff00 85px,#fffd00 133px,#ffbf00 200px,#ff4b00 258px,#ff2300 290px,#ff1800 331px,#ff0e00 521px)"></i><i style="left:457px;width:2px;background:linear-gradient(#02ff00 0px,#18ff00 29px,#5f0 56px,#a4ff00 85px,#fffd00 133px,#ffc000 199px,#ff4c00 257px,#ff2400 289px,#ff1800 330px,#ff0e00 521px)"></i><i style="left:459px;width:2px;background:linear-gradient(#02ff00 0px,#19ff00 29px,#5f0 56px,#a6ff00 86px,#fffd00 133px,#ffbf00 199px,#ff4f00 255px,#ff2300 289px,#ff1800 332px,#ff0e00 521px)"></i><i style="left:461px;width:2px;background:linear-gradient(#03ff00 0px,#19ff00 29px,#59ff00 57px,#a7ff00 86px,#fffd00 133px,#ffbe00 199px,#ff5100 253px,#ff2300 289px,#ff1800 333px,#ff0e00 521px)"></i><i style="left:463px;width:2px;background:linear-gradient(#03ff00 0px,#1cff00 30px,#5aff00 57px,#a7ff00 86px,#fffd00 133px,#ffc000 198px,#ff5200 252px,#ff2300 289px,#ff1800 334px,#ff0e00 521px)"></i><i style="left:465px;width:2px;background:linear-gradient(#04ff00 0px,#1dff00 30px,#5bff00 57px,#a8ff00 86px,#fffe00 132px,#ffc100 197px,#ff5d00 245px,#ff2300 288px,#ff1800 334px,#ff0e00 521px)"></i><i style="left:467px;width:2px;background:linear-gradient(#04ff00 0px,#20ff00 31px,#5fff00 58px,#abff00 87px,#fffd00 132px,#ffc100 197px,#ff6700 239px,#ff2300 288px,#ff1800 336px,#ff0e00 521px)"></i><i style="left:469px;width:2px;background:linear-gradient(#05ff00 0px,#21ff00 31px,#60ff00 58px,#abff00 87px,#fffd00 132px,#ffc000 197px,#ff6c00 235px,#ff2300 288px,#ff1700 338px,#ff0e00 521px)"></i><i style="left:471px;width:2px;background:linear-gradient(#06ff00 0px,#2f0 31px,#63ff00 59px,#acff00 87px,#fffd00 132px,#ffc100 196px,#ff6f00 233px,#ff2300 288px,#ff1700 338px,#ff0e00 521px)"></i><i style="left:473px;width:2px;background:linear-gradient(#06ff00 0px,#26ff00 32px,#64ff00 59px,#aeff00 88px,#fffd00 132px,#ffc500 194px,#ff7500 229px,#ff2300 286px,#ff1800 336px,#ff0e00 521px)"></i><i style="left:475px;width:2px;background:linear-gradient(#07ff00 0px,#27ff00 32px,#68ff00 60px,#afff00 88px,#fffd00 132px,#ffc300 194px,#ff7600 228px,#ff2300 287px,#ff1700 338px,#ff0e00 521px)"></i><i style="left:477px;width:2px;background:linear-gradient(#07ff00 0px,#2aff00 33px,#69ff00 60px,#b1ff00 89px,#fffd00 132px,#ffc600 192px,#ff7d00 223px,#ff2400 285px,#ff1800 336px,#ff0e00 521px)"></i><i style="left:479px;width:2px;background:linear-gradient(#08ff00 0px,#2cff00 33px,#6dff00 61px,#b2ff00 89px,#fffd00 132px,#ffc500 192px,#ff8d00 214px,#ff3900 268px,#ff2100 291px,#ff1700 354px,#ff0e00 521px)"></i><i style="left:481px;width:2px;background:linear-gradient(#09ff00 0px,#2fff00 34px,#70ff00 62px,#b5ff00 90px,#fffd00 132px,#ffc700 191px,#ff9800 208px,#ff5100 249px,#f20 289px,#ff1700 346px,#ff0e00 521px)"></i><i style="left:483px;width:2px;background:linear-gradient(#09ff00 0px,#30ff00 34px,#74ff00 63px,#b9ff00 92px,#fffd00 132px,#ffc600 191px,#ff9a00 206px,#ff5800 244px,#f20 289px,#ff1700 348px,#ff0e00 521px)"></i><i style="left:485px;width:2px;background:linear-gradient(#0aff00 0px,#3f0 35px,#78ff00 64px,#bcff00 93px,#fffd00 131px,#ffc900 190px,#f90 205px,#ff5c00 241px,#f20 289px,#ff1700 349px,#ff0e00 521px)"></i><i style="left:487px;width:2px;background:linear-gradient(#0aff00 0px,#34ff00 35px,#7eff00 66px,#c5ff00 97px,#fffd00 131px,#ffc600 190px,#ff9600 205px,#ff5b00 240px,#ff2100 289px,#ff1700 353px,#ff0e00 521px)"></i><i style="left:489px;width:2px;background:linear-gradient(#0bff00 0px,#32ff00 34px,#87ff00 69px,#e2ff00 111px,#fffb00 132px,#ffc900 185px,#ffab00 196px,#ff7f00 214px,#f20 286px,#ff1700 347px,#ff0e00 521px)"></i><i style="left:491px;width:2px;background:linear-gradient(#0bff00 0px,#3f0 34px,#9bff00 76px,#f4ff00 121px,#fff900 134px,#fc0 181px,#ff9f00 198px,#ff6900 224px,#ff2000 289px,#ff1500 372px,#ff0e00 521px)"></i><i style="left:493px;width:2px;background:linear-gradient(#0cff00 0px,#31ff00 33px,#c8ff00 96px,#fffe00 128px,#fc0 180px,#ff7600 213px,#ff2000 288px,#ff1500 377px,#ff0e00 521px)"></i><i style="left:495px;width:2px;background:linear-gradient(#0cff00 0px,#31ff00 33px,#cf0 97px,#ff0 127px,#ffcd00 179px,#ff7500 211px,#ff2000 286px,#ff1500 373px,#ff0e00 521px)"></i><i style="left:497px;width:2px;background:linear-gradient(#0dff00 0px,#31ff00 33px,#d0ff00 98px,#ff0 126px,#ffcf00 178px,#ff9200 197px,#ff6400 219px,#ff1e00 290px,#ff0e00 521px)"></i><i style="left:499px;width:2px;background:linear-gradient(#0dff00 0px,#2fff00 32px,#d4ff00 99px,#ff0 125px,#ffce00 178px,#f90 192px,#ff6000 218px,#ff1e00 291px,#ff0e00 521px)"></i><i style="left:501px;width:2px;background:linear-gradient(#0eff00 0px,#2fff00 32px,#d6ff00 99px,#ff0 125px,#ffc600 177px,#ff9000 193px,#ff5d00 218px,#ff1d00 293px,#ff0e00 521px)"></i><i style="left:503px;width:2px;background:linear-gradient(#0eff00 0px,#30ff00 32px,#d8ff00 99px,#ff0 124px,#ffcd00 169px,#ff8300 196px,#ff5900 220px,#ff1d00 295px,#ff0e00 521px)"></i><i style="left:505px;width:2px;background:linear-gradient(#0fff00 0px,#30ff00 32px,#dcff00 100px,#fffe00 125px,#ffcf00 167px,#ff8a00 189px,#ff5800 218px,#ff1e00 294px,#ff1400 372px,#ff0e00 521px)"></i><i style="left:507px;width:2px;background:linear-gradient(#0fff00 0px,#30ff00 32px,#deff00 100px,#fffd00 125px,#ffd400 162px,#ffbf00 170px,#ff9200 182px,#ff5700 216px,#ff2100 287px,#ff1600 330px,#ff0e00 521px)"></i><i style="left:509px;width:2px;background:linear-gradient(#10ff00 0px,#2dff00 31px,#dfff00 100px,#ff0 123px,#ffd500 160px,#ffbe00 169px,#ff8a00 180px,#ff5300 217px,#ff2700 278px,#ff1500 323px,#ff0e00 521px)"></i><i style="left:511px;width:2px;background:linear-gradient(#1f0 0px,#2eff00 31px,#deff00 99px,#f9ff00 117px,#ffe200 151px,#ffb600 169px,#ff8500 181px,#ff5100 217px,#ff2500 280px,#ff1500 324px,#ff0e00 521px)"></i><i style="left:513px;width:2px;background:linear-gradient(#12ff00 0px,#2eff00 31px,#df0 98px,#f7ff00 114px,#fff300 134px,#ffd700 155px,#ffa900 170px,#ff8200 181px,#ff4f00 217px,#ff2400 281px,#ff1500 325px,#ff0e00 521px)"></i><i style="left:515px;width:2px;background:linear-gradient(#12ff00 0px,#2eff00 31px,#dcff00 97px,#f4ff00 111px,#fff700 130px,#ffd900 153px,#ff9d00 171px,#ff7d00 182px,#ff4d00 218px,#f20 285px,#ff1500 328px,#ff0e00 521px)"></i><i style="left:517px;width:2px;background:linear-gradient(#13ff00 0px,#2eff00 31px,#deff00 97px,#f5ff00 111px,#fff600 130px,#ffdc00 151px,#ff8000 178px,#ff4c00 217px,#f20 285px,#ff1500 330px,#ff0e00 521px)"></i><i style="left:519px;width:2px;background:linear-gradient(#14ff00 0px,#2eff00 31px,#cf0 89px,#f4ff00 108px,#fff800 128px,#ffda00 151px,#ff7f00 176px,#ff4900 218px,#ff1f00 289px,#ff1500 336px,#ff0e00 521px)"></i><i style="left:521px;width:2px;background:linear-gradient(#14ff00 0px,#2eff00 31px,#c6ff00 86px,#f4ff00 108px,#fff700 128px,#ffd700 151px,#ff7e00 176px,#ff4900 218px,#ff1f00 290px,#ff1500 339px,#ff0e00 521px)"></i><i style="left:523px;width:2px;background:linear-gradient(#15ff00 0px,#2eff00 31px,#c3ff00 84px,#f4ff00 108px,#fff600 128px,#ffd400 151px,#ff7d00 176px,#ff4700 219px,#ff1d00 292px,#ff1400 348px,#ff0e00 521px)"></i><i style="left:525px;width:2px;background:linear-gradient(#15ff00 0px,#2eff00 31px,#c0ff00 82px,#f5ff00 108px,#fff700 127px,#ffd100 151px,#ff7b00 176px,#ff4700 219px,#ff1d00 292px,#ff1400 349px,#ff0e00 521px)"></i><i style="left:527px;width:2px;background:linear-gradient(#16ff00 0px,#2eff00 31px,#bfff00 81px,#f5ff00 108px,#fff600 127px,#ffcb00 152px,#ff7a00 176px,#ff4600 219px,#ff1d00 293px,#ff1400 358px,#ff0e00 521px)"></i><i style="left:529px;width:2px;background:linear-gradient(#16ff00 0px,#2eff00 31px,#bf0 79px,#f6ff00 108px,#fff500 127px,#ffc800 152px,#ff7900 176px,#ff4500 220px,#ff1b00 296px,#ff0e00 506px,#ff0d00 521px)"></i><i style="left:531px;width:2px;background:linear-gradient(#16ff00 0px,#2eff00 31px,#b7ff00 77px,#f6ff00 108px,#fff500 127px,#ffc200 153px,#ff7600 177px,#f40 220px,#ff1b00 296px,#ff0d00 521px)"></i><i style="left:533px;width:2px;background:linear-gradient(#17ff00 0px,#2bff00 30px,#b4ff00 75px,#f5ff00 106px,#fff600 125px,#ffc000 153px,#ff7500 177px,#ff4300 221px,#ff1900 300px,#ff0d00 521px)"></i><i style="left:535px;width:2px;background:linear-gradient(#17ff00 0px,#2bff00 30px,#b3ff00 74px,#f4ff00 104px,#fff700 124px,#ffba00 154px,#ff7400 177px,#ff4300 221px,#ff1900 300px,#ff0d00 521px)"></i><i style="left:537px;width:2px;background:linear-gradient(#18ff00 0px,#2bff00 30px,#b2ff00 73px,#f2ff00 103px,#fff700 123px,#ffc300 150px,#ff7200 177px,#ff4100 222px,#ff1600 305px,#ff0d00 521px)"></i><i style="left:539px;width:2px;background:linear-gradient(#18ff00 0px,#2bff00 30px,#b0ff00 72px,#ef0 100px,#fff900 121px,#ffd900 139px,#ff9000 166px,#ff6e00 179px,#ff4000 224px,#ff1400 310px,#ff0d00 521px)"></i><i style="left:541px;width:2px;background:linear-gradient(#18ff00 0px,#2bff00 30px,#afff00 71px,#ebff00 98px,#fff900 120px,#ffdf00 136px,#ff8400 169px,#ff6a00 181px,#ff3e00 226px,#ff1400 312px,#ff0d00 521px)"></i><i style="left:543px;width:2px;background:linear-gradient(#19ff00 0px,#2bff00 30px,#aeff00 70px,#eaff00 97px,#fffa00 119px,#ffe200 134px,#ff6b00 179px,#ff3d00 226px,#ff1400 313px,#ff0d00 521px)"></i><i style="left:545px;width:2px;background:linear-gradient(#19ff00 0px,#2cff00 30px,#b0ff00 70px,#eaff00 96px,#fff900 119px,#ffe100 134px,#ff6a00 179px,#ff3c00 227px,#ff1400 314px,#ff0c00 521px)"></i><i style="left:547px;width:2px;background:linear-gradient(#1aff00 0px,#2cff00 30px,#b2ff00 70px,#e9ff00 95px,#fffa00 118px,#ffe200 133px,#ff6800 179px,#ff3a00 229px,#ff1300 318px,#ff0c00 521px)"></i><i style="left:549px;width:2px;background:linear-gradient(#1aff00 0px,#2cff00 30px,#b1ff00 69px,#eaff00 95px,#fff900 118px,#ffe100 133px,#ff6700 179px,#ff3900 230px,#ff1300 321px,#ff0c00 521px)"></i><i style="left:551px;width:2px;background:linear-gradient(#1aff00 0px,#2cff00 30px,#b2ff00 69px,#eaff00 94px,#fff900 118px,#ffe300 132px,#f60 179px,#ff3700 232px,#ff1300 322px,#ff0c00 521px)"></i><i style="left:553px;width:2px;background:linear-gradient(#1bff00 0px,#2cff00 30px,#b1ff00 68px,#ebff00 94px,#fff900 117px,#ffe200 132px,#ff6e00 174px,#ff3c00 224px,#ff1300 311px,#ff0c00 521px)"></i><i style="left:555px;width:2px;background:linear-gradient(#1bff00 0px,#2cff00 30px,#b3ff00 68px,#ecff00 94px,#fff900 117px,#ffe100 132px,#ff9000 160px,#ff6100 181px,#ff3100 239px,#ff1300 324px,#ff0c00 521px)"></i><i style="left:557px;width:2px;background:linear-gradient(#1cff00 0px,#2cff00 30px,#b4ff00 68px,#ecff00 93px,#fff900 116px,#ffe300 131px,#ff9700 156px,#ff6000 181px,#ff2e00 244px,#ff1200 325px,#ff0c00 521px)"></i><i style="left:559px;width:2px;background:linear-gradient(#1cff00 0px,#2cff00 30px,#b6ff00 68px,#edff00 93px,#fff900 116px,#ffe200 131px,#ff9a00 154px,#ff5e00 182px,#ff2a00 249px,#ff1200 327px,#ff0c00 521px)"></i><i style="left:561px;width:2px;background:linear-gradient(#1cff00 0px,#2cff00 30px,#b7ff00 68px,#ef0 93px,#fff800 116px,#ffe200 131px,#f90 153px,#ff5c00 182px,#ff2900 251px,#ff1200 328px,#ff0b00 521px)"></i><i style="left:563px;width:2px;background:linear-gradient(#1dff00 0px,#2cff00 30px,#b6ff00 67px,#efff00 93px,#fff900 115px,#ffe100 131px,#ff9600 153px,#ff5a00 183px,#ff2700 255px,#ff1200 328px,#ff0b00 521px)"></i><i style="left:565px;width:2px;background:linear-gradient(#1dff00 0px,#2cff00 30px,#b8ff00 67px,#f0ff00 92px,#fff900 115px,#ffe000 131px,#ff9600 152px,#ff5900 183px,#ff2500 258px,#ff1200 329px,#ff0b00 521px)"></i><i style="left:567px;width:2px;background:linear-gradient(#1eff00 0px,#2cff00 30px,#baff00 67px,#f1ff00 92px,#fff900 114px,#ffdf00 131px,#ff9300 152px,#ff5800 183px,#ff2400 261px,#f10 330px,#ff0b00 521px)"></i><i style="left:569px;width:2px;background:linear-gradient(#1eff00 0px,#2cff00 30px,#bf0 67px,#f2ff00 92px,#fff900 114px,#ffde00 131px,#ff9200 151px,#ff5600 184px,#f20 266px,#f10 332px,#ff0b00 521px)"></i><i style="left:571px;width:2px;background:linear-gradient(#1fff00 0px,#2eff00 30px,#bf0 67px,#f3ff00 92px,#fff900 113px,#ffdc00 131px,#ff9000 152px,#ff5600 184px,#f20 264px,#f10 331px,#ff0b00 521px)"></i><i style="left:573px;width:2px;background:linear-gradient(#20ff00 0px,#30ff00 30px,#bcff00 67px,#f3ff00 92px,#fff800 113px,#ffda00 131px,#ff8f00 152px,#ff5600 184px,#f20 263px,#f10 331px,#ff0b00 521px)"></i><i style="left:575px;width:2px;background:linear-gradient(#21ff00 0px,#31ff00 30px,#bfff00 68px,#f4ff00 93px,#fff700 113px,#ffd800 131px,#ff8f00 152px,#ff5600 184px,#ff2300 261px,#f10 331px,#ff0b00 521px)"></i><i style="left:577px;width:2px;background:linear-gradient(#2f0 0px,#3f0 30px,#bfff00 68px,#f5ff00 93px,#fff700 113px,#ffd700 131px,#ff8e00 152px,#ff5600 184px,#ff2300 260px,#f10 331px,#ff0b00 521px)"></i><i style="left:579px;width:2px;background:linear-gradient(#23ff00 0px,#35ff00 30px,#c2ff00 69px,#f5ff00 93px,#fff700 112px,#ffd500 131px,#ff8e00 152px,#ff5600 184px,#ff2400 258px,#f10 331px,#ff0b00 521px)"></i><i style="left:581px;width:2px;background:linear-gradient(#24ff00 0px,#37ff00 30px,#c2ff00 69px,#f7ff00 94px,#fff500 113px,#ffd300 131px,#ff8d00 152px,#f50 185px,#ff2300 258px,#f10 331px,#ff0b00 521px)"></i><i style="left:583px;width:2px;background:linear-gradient(#25ff00 0px,#39ff00 30px,#c5ff00 70px,#f7ff00 94px,#fff300 114px,#ffcd00 132px,#ff8b00 153px,#f50 185px,#ff2400 257px,#f10 331px,#ff0b00 521px)"></i><i style="left:585px;width:2px;background:linear-gradient(#25ff00 0px,#3aff00 30px,#c5ff00 70px,#f9ff00 95px,#fff000 115px,#fc0 132px,#ff8a00 153px,#ff5600 184px,#ff2400 255px,#f10 331px,#ff0b00 521px)"></i><i style="left:587px;width:2px;background:linear-gradient(#26ff00 0px,#3cff00 30px,#c8ff00 71px,#f9ff00 95px,#ffed00 116px,#ffc600 133px,#f80 154px,#f50 184px,#ff2400 254px,#f10 331px,#ff0b00 521px)"></i><i style="left:589px;width:2px;background:linear-gradient(#27ff00 0px,#41ff00 31px,#c8ff00 71px,#faff00 95px,#ffea00 117px,#ffc500 133px,#ff8700 154px,#ff5600 183px,#ff2500 252px,#ff1000 331px,#ff0b00 521px)"></i><i style="left:591px;width:2px;background:linear-gradient(#28ff00 0px,#43ff00 31px,#cbff00 72px,#fcff00 96px,#ffe700 118px,#ffc000 134px,#ff8500 155px,#ff5600 183px,#ff2500 251px,#ff1000 331px,#ff0b00 521px)"></i><i style="left:593px;width:2px;background:linear-gradient(#29ff00 0px,#45ff00 31px,#cbff00 72px,#fcff00 96px,#ffe400 119px,#fb0 135px,#ff8200 156px,#ff5600 183px,#ff2500 250px,#ff1000 331px,#ff0b00 521px)"></i><i style="left:595px;width:2px;background:linear-gradient(#2aff00 0px,#46ff00 31px,#ceff00 73px,#feff00 97px,#ffe200 119px,#ffb200 137px,#ff7c00 159px,#ff5400 185px,#ff2400 251px,#ff1000 331px,#ff0b00 521px)"></i><i style="left:597px;width:2px;background:linear-gradient(#2bff00 0px,#48ff00 31px,#aeff00 62px,#ecff00 86px,#fffc00 100px,#ffdf00 120px,#ff7f00 157px,#ff5600 183px,#ff2500 249px,#ff1000 331px,#ff0b00 521px)"></i><i style="left:599px;width:2px;background:linear-gradient(#2cff00 0px,#4aff00 31px,#a7ff00 60px,#d8ff00 77px,#fffe00 98px,#ffe000 119px,#ff7d00 158px,#ff5600 183px,#ff2600 246px,#ff1000 329px,#ff0b00 521px)"></i><i style="left:601px;width:2px;background:linear-gradient(#2dff00 0px,#4cff00 31px,#a4ff00 59px,#d6ff00 76px,#fffd00 98px,#ffdf00 119px,#ff7d00 158px,#ff5700 182px,#ff2900 242px,#ff1000 328px,#ff0b00 521px)"></i><i style="left:603px;width:2px;background:linear-gradient(#2eff00 0px,#4dff00 31px,#a0ff00 58px,#d4ff00 75px,#fffe00 97px,#ffe000 118px,#ff8000 156px,#ff5900 180px,#ff2b00 238px,#ff1000 327px,#ff0b00 521px)"></i><i style="left:605px;width:2px;background:linear-gradient(#2fff00 0px,#52ff00 32px,#a1ff00 58px,#d4ff00 75px,#fffd00 97px,#ffdf00 118px,#ff8400 154px,#ff5b00 178px,#ff2d00 234px,#ff1000 326px,#ff0b00 521px)"></i><i style="left:607px;width:2px;background:linear-gradient(#30ff00 0px,#53ff00 32px,#9dff00 57px,#d2ff00 74px,#fffd00 97px,#ffde00 118px,#ff8700 152px,#ff5c00 177px,#ff2e00 233px,#ff1000 325px,#ff0b00 521px)"></i><i style="left:609px;width:2px;background:linear-gradient(#31ff00 0px,#5f0 32px,#9aff00 56px,#d3ff00 74px,#fffd00 96px,#fd0 118px,#ff8b00 150px,#ff5d00 176px,#ff2f00 231px,#ff1000 319px,#ff0b00 521px)"></i><i style="left:611px;width:2px;background:linear-gradient(#32ff00 0px,#57ff00 32px,#9aff00 56px,#d3ff00 74px,#fffd00 96px,#ffdb00 118px,#ff8e00 148px,#ff5e00 175px,#ff2e00 231px,#ff1000 319px,#ff0b00 521px)"></i><i style="left:613px;width:2px;background:linear-gradient(#32ff00 0px,#58ff00 32px,#9bff00 56px,#d3ff00 74px,#fffd00 96px,#ffde00 117px,#ff9000 147px,#ff5e00 175px,#ff2f00 230px,#ff1000 316px,#ff0b00 521px)"></i><i style="left:615px;width:2px;background:linear-gradient(#32ff00 0px,#58ff00 32px,#9fff00 57px,#d6ff00 75px,#fffd00 96px,#ffdb00 118px,#ff8f00 148px,#ff5e00 175px,#ff2f00 230px,#ff1000 317px,#ff0b00 521px)"></i><i style="left:617px;width:2px;background:linear-gradient(#3f0 0px,#58ff00 32px,#a3ff00 58px,#d6ff00 75px,#fffd00 96px,#ffdb00 118px,#ff8d00 149px,#ff5e00 175px,#ff2f00 230px,#ff1000 318px,#ff0b00 521px)"></i><i style="left:619px;width:2px;background:linear-gradient(#3f0 0px,#58ff00 32px,#a6ff00 59px,#d8ff00 76px,#fffd00 96px,#ffdb00 118px,#ff8d00 149px,#ff5e00 175px,#ff2f00 230px,#ff1000 319px,#ff0b00 521px)"></i><i style="left:621px;width:2px;background:linear-gradient(#3f0 0px,#58ff00 32px,#af0 60px,#dbff00 77px,#fffd00 96px,#ffdb00 118px,#ff8b00 150px,#ff5e00 175px,#ff2f00 230px,#ff1000 320px,#ff0b00 521px)"></i><i style="left:623px;width:2px;background:linear-gradient(#3f0 0px,#58ff00 32px,#b1ff00 62px,#e4ff00 81px,#fffc00 97px,#ffdb00 118px,#ff8a00 151px,#ff5e00 175px,#ff2f00 230px,#ff1000 321px,#ff0b00 521px)"></i><i style="left:625px;width:2px;background:linear-gradient(#3f0 0px,#34ff00 3px,#3eff00 4px,#37ff00 6px,#5bff00 33px,#bfff00 66px,#fffe00 95px,#ffdb00 118px,#f80 152px,#ff5d00 175px,#ff2f00 230px,#ff1000 322px,#ff0b00 521px)"></i><i style="left:627px;width:2px;background:linear-gradient(#34ff00 0px,#34ff00 2px,#50ff00 4px,#37ff00 6px,#5bff00 33px,#d9ff00 76px,#fffd00 96px,#ffdb00 118px,#ff8600 153px,#ff5d00 175px,#ff2f00 229px,#ff1000 319px,#ff0b00 521px)"></i><i style="left:629px;width:2px;background:linear-gradient(#34ff00 0px,#34ff00 2px,#50ff00 3px,#62ff00 4px,#52ff00 5px,#38ff00 6px,#5bff00 33px,#daff00 76px,#fffc00 97px,#ffdc00 118px,#ff8200 155px,#ff5d00 175px,#ff2f00 229px,#ff1000 320px,#ff0b00 521px)"></i><i style="left:631px;width:2px;background:linear-gradient(#34ff00 0px,#34ff00 2px,#61ff00 3px,#74ff00 4px,#63ff00 5px,#38ff00 6px,#5bff00 33px,#daff00 76px,#fffc00 97px,#ffdc00 118px,#ff7e00 157px,#ff5c00 176px,#ff2e00 230px,#ff1000 325px,#ff0b00 521px)"></i><i style="left:633px;width:2px;background:linear-gradient(#34ff00 0px,#3dff00 2px,#72ff00 3px,#86ff00 4px,#73ff00 5px,#41ff00 6px,#39ff00 8px,#5bff00 33px,#daff00 76px,#fffc00 97px,#ffd900 119px,#ff7300 162px,#f50 183px,#ff2a00 237px,#ff1000 328px,#ff0b00 521px)"></i><i style="left:635px;width:2px;background:linear-gradient(#35ff00 0px,#35ff00 1px,#4aff00 2px,#82ff00 3px,#98ff00 4px,#83ff00 5px,#4dff00 6px,#39ff00 7px,#5bff00 33px,#df0 77px,#fffc00 97px,#ffd900 119px,#ff6800 167px,#ff3600 218px,#ff1500 294px,#ff0b00 521px)"></i><i style="left:637px;width:2px;background:linear-gradient(#35ff00 0px,#35ff00 1px,#57ff00 2px,#92ff00 3px,#af0 4px,#92ff00 5px,#59ff00 6px,#39ff00 7px,#5bff00 33px,#df0 77px,#fffc00 97px,#ffd900 119px,#ff6400 169px,#ff3200 224px,#ff1000 312px,#ff0b00 521px)"></i><i style="left:639px;width:2px;background:linear-gradient(#35ff00 0px,#35ff00 1px,#62ff00 2px,#a1ff00 3px,#bcff00 4px,#a2ff00 5px,#64ff00 6px,#39ff00 7px,#5bff00 33px,#df0 77px,#fffc00 97px,#ffd900 119px,#ff6200 170px,#ff3200 224px,#f10 313px,#ff0b00 521px)"></i><i style="left:641px;width:2px;background:linear-gradient(#35ff00 0px,#35ff00 1px,#6cff00 2px,#afff00 3px,#ceff00 4px,#b0ff00 5px,#6fff00 6px,#39ff00 7px,#5cff00 33px,#deff00 77px,#fffc00 97px,#ffda00 119px,#ff6200 170px,#f30 222px,#f10 311px,#ff0b00 521px)"></i><i style="left:643px;width:2px;background:linear-gradient(#36ff00 0px,#36ff00 1px,#bdff00 3px,#e0ff00 4px,#beff00 5px,#39ff00 7px,#5cff00 33px,#deff00 77px,#fffc00 97px,#ffda00 119px,#ff6100 171px,#f30 222px,#f10 311px,#ff0b00 521px)"></i><i style="left:645px;width:2px;background:linear-gradient(#36ff00 0px,#36ff00 1px,#caff00 3px,#f2ff00 4px,#caff00 5px,#39ff00 7px,#5cff00 33px,#deff00 77px,#fffc00 97px,#ffda00 119px,#ff6000 172px,#ff3400 221px,#f10 310px,#ff0b00 521px)"></i><i style="left:647px;width:2px;background:linear-gradient(#36ff00 0px,#36ff00 1px,#d5ff00 3px,#fffb00 4px,#d5ff00 5px,#39ff00 7px,#5cff00 33px,#deff00 77px,#fffc00 97px,#ffd700 120px,#ff6000 172px,#ff3400 220px,#f10 310px,#ff0b00 521px)"></i><i style="left:649px;width:2px;background:linear-gradient(#36ff00 0px,#36ff00 1px,#deff00 3px,#fffa00 4px,#deff00 5px,#39ff00 7px,#5cff00 33px,#daff00 75px,#fffc00 97px,#ffd800 120px,#ff6000 172px,#ff3500 219px,#f10 309px,#ff0b00 521px)"></i><i style="left:651px;width:2px;background:linear-gradient(#36ff00 0px,#36ff00 1px,#e5ff00 3px,#fffa00 4px,#e5ff00 5px,#3aff00 7px,#5cff00 33px,#d3ff00 72px,#ff0 95px,#ffd800 120px,#ff6000 172px,#ff3500 218px,#f10 309px,#ff0b00 521px)"></i><i style="left:653px;width:2px;background:linear-gradient(#37ff00 0px,#37ff00 1px,#e8ff00 3px,#fffa00 4px,#e8ff00 5px,#3aff00 7px,#5cff00 33px,#ceff00 70px,#feff00 94px,#ffda00 119px,#ff6000 172px,#ff3600 217px,#ff1200 307px,#ff0b00 521px)"></i><i style="left:655px;width:2px;background:linear-gradient(#37ff00 0px,#37ff00 1px,#e8ff00 3px,#fffa00 4px,#e8ff00 5px,#3aff00 7px,#5cff00 33px,#b4ff00 61px,#f3ff00 87px,#fff800 100px,#ffd600 121px,#ff6000 172px,#ff3600 216px,#ff1200 306px,#ff0b00 521px)"></i><i style="left:657px;width:2px;background:linear-gradient(#37ff00 0px,#37ff00 1px,#e5ff00 3px,#fffa00 4px,#e5ff00 5px,#3aff00 7px,#5cff00 33px,#a6ff00 56px,#ef0 84px,#fffa00 99px,#ffd600 121px,#ff6000 172px,#ff3700 215px,#ff1300 304px,#ff0b00 521px)"></i><i style="left:659px;width:2px;background:linear-gradient(#37ff00 0px,#37ff00 1px,#deff00 3px,#fffa00 4px,#dfff00 5px,#3aff00 7px,#5cff00 33px,#a0ff00 54px,#ef0 84px,#fffa00 99px,#ffd600 121px,#ff6000 172px,#ff3700 214px,#ff1300 303px,#ff0b00 521px)"></i><i style="left:661px;width:2px;background:linear-gradient(#38ff00 0px,#38ff00 1px,#d5ff00 3px,#fffb00 4px,#d6ff00 5px,#3aff00 7px,#5dff00 33px,#9eff00 53px,#efff00 84px,#fffa00 99px,#ffd400 122px,#ff6000 172px,#ff3800 213px,#ff1300 302px,#ff0b00 521px)"></i><i style="left:663px;width:2px;background:linear-gradient(#38ff00 0px,#38ff00 1px,#caff00 3px,#f2ff00 4px,#cbff00 5px,#3aff00 7px,#5dff00 33px,#9f0 51px,#efff00 84px,#fff900 100px,#ffd400 122px,#ff6000 172px,#ff3800 212px,#ff1400 301px,#ff0b00 521px)"></i><i style="left:665px;width:2px;background:linear-gradient(#38ff00 0px,#38ff00 1px,#beff00 3px,#e0ff00 4px,#beff00 5px,#3aff00 7px,#5dff00 33px,#9aff00 51px,#efff00 84px,#fff900 100px,#ffd200 123px,#ff6000 172px,#ff3900 211px,#ff1400 300px,#ff0b00 521px)"></i><i style="left:667px;width:2px;background:linear-gradient(#38ff00 0px,#38ff00 1px,#6fff00 2px,#b1ff00 3px,#cfff00 4px,#b1ff00 5px,#70ff00 6px,#3aff00 7px,#5dff00 33px,#97ff00 50px,#efff00 84px,#fff900 100px,#ffd200 123px,#ff5f00 172px,#ff3900 211px,#ff1300 302px,#ff0b00 521px)"></i><i style="left:669px;width:2px;background:linear-gradient(#39ff00 0px,#39ff00 1px,#65ff00 2px,#a2ff00 3px,#bdff00 4px,#a3ff00 5px,#6f0 6px,#3aff00 7px,#5dff00 33px,#98ff00 50px,#f1ff00 85px,#fff900 100px,#ffd000 124px,#ff5f00 172px,#ff3900 210px,#ff1400 301px,#ff0b00 521px)"></i><i style="left:671px;width:2px;background:linear-gradient(#39ff00 0px,#39ff00 1px,#5aff00 2px,#93ff00 3px,#acff00 4px,#94ff00 5px,#5bff00 6px,#3bff00 7px,#5dff00 33px,#96ff00 49px,#f1ff00 85px,#fff700 101px,#ffce00 125px,#ff5f00 172px,#ff3a00 209px,#ff1400 300px,#ff0b00 521px)"></i><i style="left:673px;width:2px;background:linear-gradient(#39ff00 0px,#39ff00 1px,#4eff00 2px,#84ff00 3px,#9aff00 4px,#85ff00 5px,#4fff00 6px,#3bff00 7px,#5dff00 33px,#97ff00 49px,#f1ff00 85px,#fff800 101px,#ffce00 125px,#ff5f00 172px,#ff3a00 209px,#ff1400 301px,#ff0b00 521px)"></i><i style="left:675px;width:2px;background:linear-gradient(#39ff00 0px,#42ff00 2px,#75ff00 3px,#89ff00 4px,#75ff00 5px,#43ff00 6px,#3bff00 8px,#5dff00 33px,#97ff00 49px,#f2ff00 85px,#fff800 101px,#fc0 126px,#ff5f00 172px,#ff3a00 208px,#ff1600 296px,#ff0b00 521px)"></i><i style="left:677px;width:2px;background:linear-gradient(#39ff00 0px,#39ff00 2px,#65ff00 3px,#7f0 4px,#65ff00 5px,#3bff00 6px,#5dff00 33px,#96ff00 48px,#f2ff00 85px,#fff800 101px,#ffcb00 127px,#ff5f00 172px,#ff3b00 207px,#ff1700 292px,#ff0b00 521px)"></i><i style="left:679px;width:2px;background:linear-gradient(#3aff00 0px,#3aff00 2px,#5f0 3px,#6f0 4px,#3bff00 6px,#5eff00 33px,#96ff00 48px,#f2ff00 85px,#fff800 101px,#ffc900 128px,#ff5f00 172px,#ff3b00 207px,#ff1700 292px,#ff0b00 521px)"></i><i style="left:681px;width:2px;background:linear-gradient(#3aff00 0px,#3aff00 2px,#5f0 4px,#3bff00 6px,#5eff00 33px,#97ff00 48px,#f2ff00 85px,#fff800 101px,#ffc700 129px,#ff5f00 172px,#ff3b00 206px,#ff1800 289px,#ff0d00 457px,#ff0b00 521px)"></i><i style="left:683px;width:2px;background:linear-gradient(#3aff00 0px,#3aff00 3px,#43ff00 4px,#3bff00 6px,#5eff00 33px,#98ff00 48px,#f2ff00 85px,#fff800 101px,#ffc500 130px,#ff5f00 172px,#ff3c00 205px,#ff1900 287px,#ff0f00 398px,#ff0b00 521px)"></i><i style="left:685px;width:2px;background:linear-gradient(#3aff00 0px,#46ff00 17px,#5eff00 33px,#98ff00 48px,#f3ff00 85px,#fff800 101px,#ffc600 130px,#ff5f00 172px,#ff3c00 205px,#ff1800 288px,#ff0e00 419px,#ff0b00 521px)"></i><i style="left:687px;width:2px;background:linear-gradient(#3bff00 0px,#46ff00 17px,#5eff00 33px,#9f0 48px,#f2ff00 84px,#fff800 101px,#ffc400 131px,#ff5f00 172px,#ff3c00 205px,#ff1800 288px,#ff0e00 420px,#ff0b00 521px)"></i><i style="left:689px;width:2px;background:linear-gradient(#3bff00 0px,#45ff00 16px,#5eff00 33px,#9aff00 48px,#f2ff00 84px,#fff800 101px,#ffc100 132px,#ff5f00 172px,#ff3c00 204px,#ff1900 286px,#ff0f00 385px,#ff0b00 521px)"></i><i style="left:691px;width:2px;background:linear-gradient(#3bff00 0px,#45ff00 16px,#5eff00 33px,#9aff00 48px,#f2ff00 84px,#fff800 101px,#ffc200 132px,#ff5f00 172px,#ff3c00 204px,#ff1900 287px,#ff0f00 399px,#ff0b00 521px)"></i><i style="left:693px;width:2px;background:linear-gradient(#3bff00 0px,#45ff00 16px,#5eff00 33px,#9bff00 48px,#f2ff00 84px,#fff800 101px,#ffc000 133px,#ff5f00 172px,#ff3c00 203px,#ff1900 285px,#ff1000 376px,#ff0b00 521px)"></i><i style="left:695px;width:2px;background:linear-gradient(#3cff00 0px,#45ff00 16px,#5eff00 33px,#9f0 47px,#f3ff00 84px,#fff800 101px,#ffbe00 134px,#ff5f00 172px,#ff3c00 203px,#ff1900 286px,#ff0f00 386px,#ff0b00 521px)"></i><i style="left:697px;width:2px;background:linear-gradient(#3cff00 0px,#4f0 15px,#5fff00 33px,#9aff00 47px,#f3ff00 84px,#fff800 101px,#ffbc00 135px,#ff5f00 172px,#ff3c00 203px,#ff1900 287px,#ff0f00 401px,#ff0b00 521px)"></i><i style="left:699px;width:2px;background:linear-gradient(#3cff00 0px,#4f0 15px,#5fff00 33px,#9bff00 47px,#f3ff00 84px,#fff800 101px,#ffbc00 135px,#ff5f00 172px,#ff3d00 202px,#ff1900 286px,#ff0f00 387px,#ff0b00 521px)"></i><i style="left:701px;width:2px;background:linear-gradient(#3cff00 0px,#45ff00 16px,#5eff00 33px,#9aff00 47px,#f3ff00 84px,#fff800 101px,#ffbc00 135px,#ff5f00 172px,#ff3d00 202px,#ff1900 286px,#ff0f00 387px,#ff0b00 521px)"></i><i style="left:703px;width:2px;background:linear-gradient(#3bff00 0px,#45ff00 16px,#5eff00 33px,#9aff00 47px,#f3ff00 84px,#fff800 101px,#ffbc00 135px,#ff5f00 172px,#ff3d00 202px,#ff1900 286px,#ff0f00 387px,#ff0b00 521px)"></i><i style="left:705px;width:2px;background:linear-gradient(#3bff00 0px,#46ff00 17px,#5dff00 33px,#9aff00 47px,#f2ff00 84px,#fff800 101px,#ffbc00 135px,#ff5f00 172px,#ff3d00 202px,#ff1900 286px,#ff0f00 387px,#ff0b00 521px)"></i><i style="left:707px;width:2px;background:linear-gradient(#3aff00 0px,#45ff00 17px,#5dff00 33px,#9f0 47px,#f2ff00 84px,#fff800 101px,#ffbc00 135px,#ff5f00 172px,#ff3d00 202px,#ff1900 286px,#ff0f00 387px,#ff0b00 521px)"></i><i style="left:709px;width:2px;background:linear-gradient(#3aff00 0px,#46ff00 18px,#5cff00 33px,#9f0 47px,#f2ff00 84px,#fff800 101px,#ffbc00 135px,#ff5f00 172px,#ff3d00 202px,#ff1900 286px,#ff0f00 387px,#ff0b00 521px)"></i><i style="left:711px;width:2px;background:linear-gradient(#39ff00 0px,#47ff00 19px,#5cff00 33px,#98ff00 47px,#f2ff00 84px,#fff800 101px,#ffbc00 135px,#ff5f00 172px,#ff3d00 202px,#ff1900 286px,#ff0f00 387px,#ff0b00 521px)"></i><i style="left:713px;width:2px;background:linear-gradient(#39ff00 0px,#48ff00 20px,#5cff00 33px,#98ff00 47px,#f2ff00 84px,#fff800 101px,#ffbc00 135px,#ff5f00 172px,#ff3d00 202px,#ff1900 286px,#ff0f00 387px,#ff0b00 521px)"></i><i style="left:715px;width:2px;background:linear-gradient(#39ff00 0px,#4bff00 22px,#5bff00 33px,#97ff00 47px,#f2ff00 84px,#fff800 101px,#ffbc00 135px,#ff5f00 172px,#ff3d00 202px,#ff1900 286px,#ff0f00 387px,#ff0b00 521px)"></i><i style="left:717px;width:2px;background:linear-gradient(#38ff00 0px,#4dff00 24px,#5bff00 33px,#97ff00 47px,#f1ff00 84px,#fff800 101px,#ffbc00 135px,#ff5f00 172px,#ff3d00 202px,#ff1900 286px,#ff0f00 387px,#ff0b00 521px)"></i><i style="left:719px;width:2px;background:linear-gradient(#38ff00 0px,#4fff00 26px,#5aff00 33px,#97ff00 47px,#f1ff00 84px,#fff800 101px,#ffbc00 135px,#ff5f00 172px,#ff3d00 202px,#ff1900 286px,#ff0f00 387px,#ff0b00 521px)"></i><i style="left:721px;width:2px;background:linear-gradient(#37ff00 0px,#53ff00 30px,#6cff00 37px,#9f0 48px,#f1ff00 84px,#fff800 101px,#ffbc00 135px,#ff5f00 172px,#ff3d00 202px,#ff1900 286px,#ff0f00 387px,#ff0b00 521px)"></i><i style="left:723px;width:2px;background:linear-gradient(#37ff00 0px,#5f0 32px,#96ff00 47px,#f1ff00 84px,#fff800 101px,#ffbc00 135px,#ff5f00 172px,#ff3d00 202px,#ff1900 286px,#ff0f00 387px,#ff0b00 521px)"></i><i style="left:725px;width:2px;background:linear-gradient(#36ff00 0px,#54ff00 32px,#95ff00 47px,#f2ff00 85px,#fff800 101px,#ffbc00 135px,#ff5f00 172px,#ff3d00 202px,#ff1900 286px,#ff0f00 387px,#ff0b00 521px)"></i><i style="left:727px;width:2px;background:linear-gradient(#36ff00 0px,#54ff00 32px,#95ff00 47px,#f2ff00 85px,#fff800 101px,#ffbc00 135px,#ff5f00 172px,#ff3d00 202px,#ff1900 286px,#ff0f00 387px,#ff0b00 521px)"></i><i style="left:729px;width:2px;background:linear-gradient(#35ff00 0px,#58ff00 33px,#97ff00 48px,#f2ff00 85px,#fff800 101px,#ffbc00 135px,#ff5f00 172px,#ff3d00 202px,#ff1900 286px,#ff0f00 387px,#ff0b00 521px)"></i><i style="left:731px;width:2px;background:linear-gradient(#35ff00 0px,#58ff00 33px,#97ff00 48px,#f1ff00 85px,#fff800 101px,#ffbc00 135px,#ff5f00 172px,#ff3d00 202px,#ff1900 286px,#ff0f00 387px,#ff0b00 521px)"></i><i style="left:733px;width:2px;background:linear-gradient(#35ff00 0px,#57ff00 33px,#96ff00 48px,#f1ff00 85px,#fff800 101px,#ffbc00 135px,#ff5f00 172px,#ff3d00 202px,#ff1900 286px,#ff0f00 387px,#ff0b00 521px)"></i><i style="left:735px;width:2px;background:linear-gradient(#34ff00 0px,#57ff00 33px,#96ff00 48px,#f1ff00 85px,#fff800 101px,#ffbc00 135px,#ff5f00 172px,#ff3d00 202px,#ff1900 286px,#ff0f00 387px,#ff0b00 521px)"></i><i style="left:737px;width:2px;background:linear-gradient(#34ff00 0px,#56ff00 33px,#95ff00 48px,#f1ff00 85px,#fff800 101px,#ffbc00 135px,#ff5f00 172px,#ff3d00 202px,#ff1900 286px,#ff0f00 387px,#ff0b00 521px)"></i><i style="left:739px;width:2px;background:linear-gradient(#3f0 0px,#56ff00 33px,#95ff00 48px,#f1ff00 85px,#fff800 101px,#ffbc00 135px,#ff5f00 172px,#ff3d00 202px,#ff1900 286px,#ff0f00 387px,#ff0b00 521px)"></i><i style="left:741px;width:2px;background:linear-gradient(#3f0 0px,#5f0 33px,#95ff00 48px,#f1ff00 85px,#fff800 101px,#ffbc00 135px,#ff5f00 172px,#ff3d00 202px,#ff1900 286px,#ff0f00 387px,#ff0b00 521px)"></i><i style="left:743px;width:2px;background:linear-gradient(#32ff00 0px,#5f0 33px,#94ff00 48px,#f0ff00 85px,#fff800 101px,#ffbc00 135px,#ff5f00 172px,#ff3d00 202px,#ff1900 286px,#ff0f00 387px,#ff0b00 521px)"></i><i style="left:745px;width:2px;background:linear-gradient(#32ff00 0px,#5f0 33px,#94ff00 48px,#f0ff00 85px,#fff800 101px,#ffbc00 135px,#ff5f00 172px,#ff3d00 202px,#ff1900 286px,#ff0f00 387px,#ff0b00 521px)"></i><i style="left:747px;width:2px;background:linear-gradient(#1eff00 0px,#32ff00 28px,#50ff00 36px,#8dff00 50px,#e3ff00 77px,#fffb00 95px,#ffa400 141px,#ff5e00 173px,#ff3d00 204px,#ff1200 309px,#ff0b00 521px)"></i><i style="left:749px;width:2px;background:linear-gradient(#0aff00 0px,#12ff00 26px,#52ff00 40px,#dcff00 72px,#fffb00 92px,#ff6300 169px,#ff3f00 204px,#ff1200 314px,#ff0b00 521px)"></i><i style="left:751px;width:2px;background:linear-gradient(#0f0 0px,#04ff00 26px,#dcff00 71px,#fffa00 91px,#ff6700 166px,#ff4000 205px,#ff1200 317px,#ff0b00 521px)"></i><i style="left:753px;width:2px;background:linear-gradient(#0f0 0px,#04ff00 26px,#dcff00 71px,#fff900 91px,#f60 166px,#ff4000 205px,#ff1200 317px,#ff0b00 521px)"></i><i style="left:755px;width:2px;background:linear-gradient(#0f0 0px,#04ff00 26px,#df0 71px,#fffb00 90px,#f60 166px,#ff3f00 206px,#ff1200 317px,#ff0b00 521px)"></i><i style="left:757px;width:2px;background:linear-gradient(#0f0 0px,#04ff00 26px,#df0 71px,#fffb00 90px,#ff6700 165px,#ff3f00 206px,#ff1200 317px,#ff0b00 521px)"></i><i style="left:759px;width:2px;background:linear-gradient(#0f0 0px,#00ff01 23px,#0cff00 28px,#c6ff00 66px,#e3ff00 74px,#fffa00 90px,#ff6800 164px,#ff3f00 206px,#ff1200 317px,#ff0c00 521px)"></i><i style="left:761px;width:2px;background:linear-gradient(#0f0 0px,#00ff03 20px,#04ff00 26px,#df0 71px,#fffa00 90px,#ff6800 163px,#ff3f00 206px,#ff1300 316px,#ff0c00 521px)"></i><i style="left:763px;width:2px;background:linear-gradient(#0f0 0px,#00ff04 19px,#04ff00 26px,#df0 71px,#fffa00 90px,#ff6900 162px,#ff3f00 206px,#ff1300 316px,#ff0c00 521px)"></i><i style="left:765px;width:2px;background:linear-gradient(#0f0 0px,#00ff06 18px,#04ff00 26px,#deff00 71px,#fff900 90px,#ff6a00 161px,#ff3f00 207px,#ff1300 316px,#ff0c00 521px)"></i><i style="left:767px;width:2px;background:linear-gradient(#0f0 0px,#00ff08 17px,#04ff00 26px,#deff00 71px,#fffb00 89px,#ff6b00 160px,#ff3f00 207px,#ff1300 316px,#ff0c00 521px)"></i><i style="left:769px;width:2px;background:linear-gradient(#0f0 0px,#00ff08 17px,#04ff00 26px,#deff00 71px,#fffb00 89px,#ff6a00 160px,#ff3f00 207px,#ff1300 315px,#ff0c00 521px)"></i><i style="left:771px;width:2px;background:linear-gradient(#0f0 0px,#00ff0b 16px,#04ff00 26px,#deff00 71px,#fffa00 89px,#ff6f00 157px,#ff4000 205px,#ff1400 313px,#ff0c00 521px)"></i><i style="left:773px;width:2px;background:linear-gradient(#0f0 0px,#00ff0c 16px,#04ff00 26px,#e0ff00 72px,#fffa00 89px,#ff7600 153px,#f40 197px,#ff1600 303px,#ff0c00 521px)"></i><i style="left:775px;width:2px;background:linear-gradient(#0f0 0px,#00ff0d 16px,#04ff00 26px,#e1ff00 72px,#fff900 89px,#ff7900 151px,#ff5400 180px,#ff2e00 237px,#ff1300 328px,#ff0d00 521px)"></i><i style="left:777px;width:2px;background:linear-gradient(#0f0 0px,#00ff0e 16px,#04ff00 26px,#e1ff00 72px,#fff900 89px,#ff7c00 149px,#ff5a00 174px,#ff3900 217px,#ff1400 325px,#ff0d00 521px)"></i><i style="left:779px;width:2px;background:linear-gradient(#0f0 0px,#00ff10 15px,#04ff00 26px,#e1ff00 72px,#fffb00 88px,#ff8000 147px,#ff5c00 172px,#ff3a00 216px,#ff1400 324px,#ff0d00 521px)"></i><i style="left:781px;width:2px;background:linear-gradient(#0f0 0px,#0f1 15px,#04ff00 26px,#e1ff00 72px,#fffa00 88px,#ff8100 146px,#ff5d00 171px,#ff3a00 216px,#ff1400 325px,#ff0d00 521px)"></i><i style="left:783px;width:2px;background:linear-gradient(#0f0 0px,#00ff12 15px,#04ff00 26px,#e2ff00 72px,#fffa00 88px,#ff8200 145px,#ff5d00 170px,#ff3900 217px,#ff1400 325px,#ff0d00 521px)"></i><i style="left:785px;width:2px;background:linear-gradient(#0f0 0px,#00ff13 15px,#04ff00 26px,#e2ff00 72px,#fffa00 88px,#ff8500 143px,#ff5e00 169px,#ff3900 217px,#ff1400 325px,#ff0d00 521px)"></i><i style="left:787px;width:2px;background:linear-gradient(#0f0 0px,#00ff15 15px,#04ff00 26px,#e2ff00 72px,#fff900 88px,#ff8400 143px,#ff5d00 170px,#ff3800 220px,#ff1400 325px,#ff0d00 521px)"></i><i style="left:789px;width:2px;background:linear-gradient(#0f0 0px,#00ff16 15px,#04ff00 26px,#e2ff00 72px,#fff900 88px,#ff8500 142px,#ff5e00 169px,#ff3800 220px,#ff1500 326px,#ff0d00 521px)"></i><i style="left:791px;width:2px;background:linear-gradient(#0f0 0px,#00ff17 15px,#04ff00 26px,#e2ff00 72px,#fffb00 87px,#ff8600 141px,#ff5d00 169px,#ff3600 222px,#ff1500 326px,#ff0e00 521px)"></i><i style="left:793px;width:2px;background:linear-gradient(#0f0 0px,#00ff18 15px,#04ff00 26px,#e3ff00 72px,#fffa00 87px,#ff8700 140px,#ff5d00 169px,#ff3500 224px,#ff1500 326px,#ff0e00 521px)"></i><i style="left:795px;width:2px;background:linear-gradient(#0f0 0px,#00ff19 15px,#04ff00 26px,#e3ff00 72px,#fffa00 87px,#ff8700 140px,#ff5d00 169px,#ff3400 227px,#ff1500 327px,#ff0e00 521px)"></i><i style="left:797px;width:2px;background:linear-gradient(#0f0 0px,#00ff1a 15px,#04ff00 26px,#e3ff00 72px,#fffa00 87px,#f80 139px,#ff5c00 169px,#ff3200 230px,#ff1500 328px,#ff0e00 521px)"></i><i style="left:799px;width:2px;background:linear-gradient(#0f0 0px,#00ff1b 15px,#04ff00 26px,#e3ff00 72px,#fff900 87px,#ff8700 139px,#ff5c00 169px,#ff3000 233px,#ff1500 329px,#ff0e00 521px)"></i><i style="left:801px;width:2px;background:linear-gradient(#00ff06 0px,#00ff1e 15px,#06ff00 27px,#e5ff00 72px,#fffa00 86px,#f80 138px,#ff5c00 169px,#ff2f00 236px,#ff1600 330px,#ff0e00 521px)"></i><i style="left:803px;width:2px;background:linear-gradient(#00ff0b 0px,#00ff20 15px,#03ff00 27px,#e6ff00 72px,#fff900 86px,#ff8600 138px,#ff5b00 169px,#ff2d00 239px,#ff1600 332px,#ff0f00 521px)"></i><i style="left:805px;width:2px;background:linear-gradient(#0f1 0px,#0f2 15px,#05ff00 28px,#e7ff00 72px,#fffa00 85px,#ff8500 138px,#ff5b00 169px,#ff2d00 240px,#ff1600 332px,#ff0f00 521px)"></i><i style="left:807px;width:2px;background:linear-gradient(#00ff16 0px,#00ff24 15px,#02ff00 28px,#e9ff00 72px,#fffa00 84px,#ff8600 137px,#ff5a00 170px,#ff2d00 243px,#ff1600 332px,#ff0f00 521px)"></i><i style="left:809px;width:2px;background:linear-gradient(#00ff1c 0px,#00ff27 15px,#04ff00 29px,#eaff00 72px,#fff900 84px,#ff8700 135px,#ff5a00 170px,#ff2d00 244px,#ff1700 332px,#ff1000 521px)"></i><i style="left:811px;width:2px;background:linear-gradient(#00ff21 0px,#00ff29 15px,#05ff00 30px,#ecff00 72px,#fff800 84px,#ff8b00 132px,#ff5a00 169px,#ff2d00 244px,#ff1700 333px,#ff1000 521px)"></i><i style="left:813px;width:2px;background:linear-gradient(#00ff27 0px,#00ff2b 15px,#02ff00 30px,#deff00 69px,#f1ff00 74px,#fff800 83px,#ff8c00 130px,#ff5900 170px,#ff2c00 248px,#ff1700 333px,#f10 521px)"></i><i style="left:815px;width:2px;background:linear-gradient(#00ff2d 0px,#00ff2d 15px,#04ff00 31px,#d9ff00 68px,#f1ff00 73px,#fff700 83px,#ff9500 125px,#ff5a00 168px,#ff2d00 246px,#ff1800 333px,#f10 521px)"></i><i style="left:817px;width:2px;background:linear-gradient(#00ff32 0px,#00ff30 15px,#05ff00 32px,#daff00 68px,#f0ff00 72px,#fff800 82px,#f90 122px,#ff5a00 168px,#ff2c00 248px,#ff1800 334px,#f10 521px)"></i><i style="left:819px;width:2px;background:linear-gradient(#00ff38 0px,#00ff32 15px,#02ff00 32px,#d4ff00 67px,#f1ff00 72px,#fff900 81px,#ff9b00 120px,#ff5d00 163px,#ff2e00 244px,#ff1800 333px,#ff1200 521px)"></i><i style="left:821px;width:2px;background:linear-gradient(#00ff3d 0px,#00ff34 15px,#0f0 32px,#ceff00 66px,#f3ff00 72px,#fff500 82px,#ff9d00 118px,#ff5f00 160px,#ff2e00 243px,#ff1900 333px,#ff1200 521px)"></i><i style="left:823px;width:2px;background:linear-gradient(#00ff43 0px,#00ff3a 14px,#03ff00 33px,#c8ff00 65px,#f4ff00 72px,#fff600 81px,#ff9d00 117px,#ff6000 159px,#ff2f00 241px,#ff1900 333px,#ff1200 521px)"></i><i style="left:825px;width:2px;background:linear-gradient(#00ff49 0px,#00ff41 11px,#0f0 33px,#c8ff00 65px,#f5ff00 72px,#fff400 81px,#ff9d00 116px,#ff6200 157px,#f30 233px,#ff1900 331px,#ff1300 521px)"></i><i style="left:827px;width:2px;background:linear-gradient(#00ff4e 0px,#00ff47 9px,#00ff09 32px,#1f0 36px,#c1ff00 64px,#f7ff00 72px,#fff100 82px,#ff9d00 115px,#ff6400 155px,#ff3600 227px,#ff1a00 329px,#ff1300 521px)"></i><i style="left:829px;width:2px;background:linear-gradient(#00ff54 0px,#00ff4d 8px,#00ff0c 32px,#08ff00 35px,#c1ff00 64px,#f8ff00 72px,#ffed00 83px,#ff9d00 114px,#ff6400 154px,#ff3700 226px,#ff1a00 329px,#ff1400 521px)"></i><i style="left:831px;width:2px;background:linear-gradient(#00ff59 0px,#00ff54 7px,#00ff08 33px,#19ff00 38px,#c1ff00 64px,#faff00 72px,#ffd400 93px,#ff9c00 113px,#ff6400 154px,#ff3500 229px,#ff1a00 330px,#ff1400 521px)"></i><i style="left:833px;width:2px;background:linear-gradient(#00ff5f 0px,#00ff58 7px,#00ff0b 33px,#09ff00 36px,#baff00 63px,#f9ff00 71px,#ffe600 85px,#ff9a00 113px,#ff6200 155px,#ff3200 236px,#ff1b00 332px,#ff1400 521px)"></i><i style="left:835px;width:2px;background:linear-gradient(#00ff64 0px,#00ff5f 6px,#00ff0d 33px,#07ff00 36px,#baff00 63px,#faff00 71px,#ffc700 96px,#ff9800 113px,#ff5f00 157px,#ff2f00 245px,#ff1b00 334px,#ff1500 521px)"></i><i style="left:837px;width:2px;background:linear-gradient(#00ff6a 0px,#00ff64 6px,#00ff29 25px,#00ff10 33px,#04ff00 36px,#baff00 63px,#fcff00 71px,#ffc600 96px,#ff9700 112px,#ff5e00 157px,#ff2f00 248px,#ff1b00 335px,#ff1500 521px)"></i><i style="left:839px;width:2px;background:linear-gradient(#00ff70 0px,#00ff69 6px,#00ff2d 24px,#00ff13 33px,#08ff00 37px,#baff00 63px,#fdff00 71px,#ffc400 96px,#ff9500 112px,#ff5c00 159px,#ff2b00 260px,#ff1c00 339px,#ff1500 521px)"></i><i style="left:841px;width:2px;background:linear-gradient(#00ff75 0px,#00ff71 5px,#00ff32 23px,#00ff16 33px,#06ff00 37px,#baff00 63px,#feff00 71px,#ffc200 96px,#ff9300 112px,#ff5a00 160px,#ff2800 272px,#ff1c00 346px,#ff1600 521px)"></i><i style="left:843px;width:2px;background:linear-gradient(#00ff76 0px,#00ff73 5px,#00ff32 23px,#00ff16 33px,#05ff00 37px,#baff00 63px,#fffe00 71px,#ffbd00 97px,#ff9100 112px,#ff5a00 160px,#ff2800 273px,#ff1c00 348px,#ff1600 521px)"></i><i style="left:845px;width:2px;background:linear-gradient(#00ff73 0px,#00ff6c 6px,#00ff2d 25px,#00ff15 33px,#06ff00 37px,#bf0 63px,#fffc00 71px,#ffb400 99px,#ff8f00 113px,#ff5c00 158px,#ff2900 270px,#ff1c00 346px,#ff1700 521px)"></i><i style="left:847px;width:2px;background:linear-gradient(#00ff70 0px,#00ff69 6px,#00ff1c 31px,#0f0 36px,#c5ff00 64px,#fff900 71px,#ffa600 103px,#ff8c00 115px,#ff5a00 160px,#ff2800 272px,#ff1c00 350px,#ff1700 521px)"></i><i style="left:849px;width:2px;background:linear-gradient(#00ff6d 0px,#00ff67 6px,#00ff0d 34px,#08ff00 37px,#c5ff00 64px,#feff00 70px,#ffe600 78px,#ff8e00 113px,#ff6100 152px,#ff2c00 259px,#ff1c00 342px,#ff1800 521px)"></i><i style="left:851px;width:2px;background:linear-gradient(#00ff6a 0px,#00ff64 6px,#00ff0c 34px,#08ff00 37px,#d0ff00 65px,#fffe00 70px,#fff000 73px,#ff8d00 113px,#ff6300 150px,#ff2c00 260px,#ff1c00 343px,#ff1800 521px)"></i><i style="left:853px;width:2px;background:linear-gradient(#00ff67 0px,#00ff5e 7px,#00ff04 35px,#a2ff00 59px,#e5ff00 67px,#fffc00 70px,#ffed00 73px,#ff8b00 114px,#ff6300 149px,#ff2b00 263px,#ff1c00 343px,#ff1900 521px)"></i><i style="left:855px;width:2px;background:linear-gradient(#00ff64 0px,#00ff5c 7px,#00ff0a 34px,#0aff00 37px,#c8ff00 64px,#fffa00 70px,#ffeb00 73px,#ff8a00 114px,#ff6500 147px,#ff2b00 262px,#ff1c00 343px,#ff1900 521px)"></i></div>
<div class="f" style="top:1724px;width:1016px;height:508px;clip-path:polygon(258.5px 11.7px,486.0px 2.0px,616.0px 2.0px,856.0px 5.0px,856.0px 261.0px,845.0px 402.4px,794.8px 506.5px,258.5px 506.5px)"><i style="left:258px;width:1px;background:linear-gradient(#006eff 0px,#0063ff 415px,#05f 508px)"></i><i style="left:259px;width:1px;background:linear-gradient(#006eff 0px,#0063ff 415px,#05f 508px)"></i><i style="left:260px;width:1px;background:linear-gradient(#006fff 0px,#0064ff 414px,#05f 508px)"></i><i style="left:261px;width:1px;background:linear-gradient(#006fff 0px,#0064ff 413px,#05f 508px)"></i><i style="left:262px;width:1px;background:linear-gradient(#006fff 0px,#0064ff 413px,#05f 508px)"></i><i style="left:263px;width:1px;background:linear-gradient(#0070ff 0px,#0065ff 412px,#05f 508px)"></i><i style="left:264px;width:1px;background:linear-gradient(#0070ff 0px,#0065ff 412px,#05f 508px)"></i><i style="left:265px;width:1px;background:linear-gradient(#0070ff 0px,#0065ff 411px,#05f 508px)"></i><i style="left:266px;width:1px;background:linear-gradient(#0070ff 0px,#0065ff 411px,#05f 508px)"></i><i style="left:267px;width:1px;background:linear-gradient(#0071ff 0px,#06f 410px,#05f 508px)"></i><i style="left:268px;width:1px;background:linear-gradient(#0071ff 0px,#06f 410px,#05f 508px)"></i><i style="left:269px;width:1px;background:linear-gradient(#0071ff 0px,#06f 409px,#05f 508px)"></i><i style="left:270px;width:1px;background:linear-gradient(#0071ff 0px,#0067ff 409px,#05f 508px)"></i><i style="left:271px;width:1px;background:linear-gradient(#0072ff 0px,#0067ff 408px,#05f 508px)"></i><i style="left:272px;width:1px;background:linear-gradient(#0072ff 0px,#0067ff 408px,#05f 508px)"></i><i style="left:273px;width:1px;background:linear-gradient(#0072ff 0px,#0068ff 407px,#05f 508px)"></i><i style="left:274px;width:1px;background:linear-gradient(#0073ff 0px,#0068ff 407px,#05f 508px)"></i><i style="left:275px;width:1px;background:linear-gradient(#0073ff 0px,#0068ff 406px,#05f 508px)"></i><i style="left:276px;width:1px;background:linear-gradient(#0073ff 0px,#006bff 404px,#05f 508px)"></i><i style="left:277px;width:1px;background:linear-gradient(#0074ff 0px,#007bff 191px,#006cff 416px,#0056ff 508px)"></i><i style="left:278px;width:1px;background:linear-gradient(#0075ff 0px,#0081ff 69px,#0078ff 365px,#0057ff 508px)"></i><i style="left:279px;width:1px;background:linear-gradient(#0076ff 0px,#0086ff 51px,#0087ff 239px,#006fff 428px,#0058ff 508px)"></i><i style="left:280px;width:1px;background:linear-gradient(#0076ff 0px,#008bff 44px,#0090ff 194px,#0073ff 425px,#0058ff 508px)"></i><i style="left:281px;width:1px;background:linear-gradient(#07f 0px,#0090ff 41px,#0098ff 173px,#07f 425px,#0059ff 508px)"></i><i style="left:282px;width:1px;background:linear-gradient(#0078ff 0px,#0095ff 39px,#00a0ff 162px,#0082ff 397px,#005aff 508px)"></i><i style="left:283px;width:1px;background:linear-gradient(#07f 0px,#0094ff 39px,#009fff 162px,#0081ff 398px,#0059ff 508px)"></i><i style="left:284px;width:1px;background:linear-gradient(#0075ff 0px,#008dff 41px,#0096ff 173px,#0074ff 427px,#0058ff 508px)"></i><i style="left:285px;width:1px;background:linear-gradient(#0073ff 0px,#0087ff 44px,#008cff 194px,#006fff 429px,#0056ff 508px)"></i><i style="left:286px;width:1px;background:linear-gradient(#0070ff 0px,#0081ff 51px,#0082ff 239px,#006aff 434px,#05f 508px)"></i><i style="left:287px;width:1px;background:linear-gradient(#006eff 0px,#007bff 69px,#0071ff 365px,#0054ff 508px)"></i><i style="left:288px;width:1px;background:linear-gradient(#006cff 0px,#0073ff 191px,#0063ff 424px,#0052ff 508px)"></i><i style="left:289px;width:1px;background:linear-gradient(#006aff 0px,#0061ff 411px,#0051ff 508px)"></i><i style="left:290px;width:1px;background:linear-gradient(#0069ff 0px,#005eff 416px,#0050ff 508px)"></i><i style="left:291px;width:1px;background:linear-gradient(#0068ff 0px,#005dff 416px,#0050ff 508px)"></i><i style="left:292px;width:1px;background:linear-gradient(#0068ff 0px,#005dff 417px,#004fff 508px)"></i><i style="left:293px;width:1px;background:linear-gradient(#0067ff 0px,#005cff 418px,#004fff 508px)"></i><i style="left:294px;width:1px;background:linear-gradient(#0067ff 0px,#005cff 418px,#004fff 508px)"></i><i style="left:295px;width:1px;background:linear-gradient(#06f 0px,#005bff 419px,#004fff 508px)"></i><i style="left:296px;width:1px;background:linear-gradient(#06f 0px,#005bff 420px,#004eff 508px)"></i><i style="left:297px;width:1px;background:linear-gradient(#0065ff 0px,#005aff 421px,#004eff 508px)"></i><i style="left:298px;width:1px;background:linear-gradient(#0065ff 0px,#005aff 421px,#004eff 508px)"></i><i style="left:299px;width:1px;background:linear-gradient(#0064ff 0px,#0059ff 422px,#004eff 508px)"></i><i style="left:300px;width:1px;background:linear-gradient(#0064ff 0px,#0059ff 423px,#004dff 508px)"></i><i style="left:301px;width:1px;background:linear-gradient(#0063ff 0px,#0058ff 424px,#004dff 508px)"></i><i style="left:302px;width:1px;background:linear-gradient(#0063ff 0px,#0057ff 425px,#004dff 508px)"></i><i style="left:303px;width:1px;background:linear-gradient(#0062ff 0px,#0057ff 426px,#004dff 508px)"></i><i style="left:304px;width:1px;background:linear-gradient(#0062ff 0px,#0056ff 427px,#004cff 508px)"></i><i style="left:305px;width:1px;background:linear-gradient(#0061ff 0px,#0056ff 428px,#004cff 508px)"></i><i style="left:306px;width:1px;background:linear-gradient(#0061ff 0px,#05f 429px,#004cff 508px)"></i><i style="left:307px;width:1px;background:linear-gradient(#0060ff 0px,#05f 430px,#004cff 508px)"></i><i style="left:308px;width:1px;background:linear-gradient(#0060ff 0px,#0054ff 431px,#004bff 508px)"></i><i style="left:309px;width:1px;background:linear-gradient(#005fff 0px,#0054ff 432px,#004bff 508px)"></i><i style="left:310px;width:1px;background:linear-gradient(#005fff 0px,#0053ff 435px,#004bff 508px)"></i><i style="left:311px;width:1px;background:linear-gradient(#005eff 0px,#0052ff 439px,#004bff 508px)"></i><i style="left:312px;width:1px;background:linear-gradient(#005eff 0px,#0051ff 443px,#004aff 508px)"></i><i style="left:313px;width:1px;background:linear-gradient(#005dff 0px,#0050ff 448px,#004aff 508px)"></i><i style="left:314px;width:1px;background:linear-gradient(#005dff 0px,#004fff 454px,#004aff 508px)"></i><i style="left:315px;width:1px;background:linear-gradient(#005cff 0px,#004eff 462px,#004aff 508px)"></i><i style="left:316px;width:1px;background:linear-gradient(#005cff 0px,#004dff 470px,#0049ff 508px)"></i><i style="left:317px;width:1px;background:linear-gradient(#005bff 0px,#004bff 481px,#0049ff 508px)"></i><i style="left:318px;width:1px;background:linear-gradient(#005bff 0px,#004aff 494px,#0049ff 508px)"></i><i style="left:319px;width:1px;background:linear-gradient(#005aff 0px,#0048ff 508px)"></i><i style="left:320px;width:1px;background:linear-gradient(#0059ff 0px,#0048ff 508px)"></i><i style="left:321px;width:1px;background:linear-gradient(#0059ff 0px,#0048ff 508px)"></i><i style="left:322px;width:1px;background:linear-gradient(#0058ff 0px,#0048ff 508px)"></i><i style="left:323px;width:1px;background:linear-gradient(#0058ff 0px,#0047ff 508px)"></i><i style="left:324px;width:1px;background:linear-gradient(#0057ff 0px,#0047ff 508px)"></i><i style="left:325px;width:1px;background:linear-gradient(#0057ff 0px,#0047ff 508px)"></i><i style="left:326px;width:1px;background:linear-gradient(#0056ff 0px,#0047ff 508px)"></i><i style="left:327px;width:1px;background:linear-gradient(#0056ff 0px,#0046ff 508px)"></i><i style="left:328px;width:1px;background:linear-gradient(#05f 0px,#0046ff 508px)"></i><i style="left:329px;width:1px;background:linear-gradient(#05f 0px,#0046ff 508px)"></i><i style="left:330px;width:1px;background:linear-gradient(#05f 0px,#0046ff 508px)"></i><i style="left:331px;width:1px;background:linear-gradient(#0054ff 0px,#0046ff 508px)"></i><i style="left:332px;width:1px;background:linear-gradient(#0054ff 0px,#0045ff 508px)"></i><i style="left:333px;width:1px;background:linear-gradient(#0054ff 0px,#0045ff 508px)"></i><i style="left:334px;width:1px;background:linear-gradient(#0054ff 0px,#0045ff 508px)"></i><i style="left:335px;width:1px;background:linear-gradient(#0053ff 0px,#0045ff 508px)"></i><i style="left:336px;width:1px;background:linear-gradient(#0053ff 0px,#0045ff 508px)"></i><i style="left:337px;width:1px;background:linear-gradient(#0053ff 0px,#0045ff 508px)"></i><i style="left:338px;width:1px;background:linear-gradient(#0053ff 0px,#0045ff 508px)"></i><i style="left:339px;width:1px;background:linear-gradient(#0052ff 0px,#04f 508px)"></i><i style="left:340px;width:1px;background:linear-gradient(#0052ff 0px,#04f 508px)"></i><i style="left:341px;width:1px;background:linear-gradient(#0052ff 0px,#04f 508px)"></i><i style="left:342px;width:1px;background:linear-gradient(#0052ff 0px,#04f 508px)"></i><i style="left:343px;width:1px;background:linear-gradient(#0051ff 0px,#04f 508px)"></i><i style="left:344px;width:1px;background:linear-gradient(#0051ff 0px,#04f 508px)"></i><i style="left:345px;width:1px;background:linear-gradient(#0051ff 0px,#0043ff 508px)"></i><i style="left:346px;width:1px;background:linear-gradient(#0051ff 0px,#0043ff 508px)"></i><i style="left:347px;width:1px;background:linear-gradient(#0050ff 0px,#0043ff 508px)"></i><i style="left:348px;width:1px;background:linear-gradient(#0050ff 0px,#0043ff 508px)"></i><i style="left:349px;width:1px;background:linear-gradient(#0050ff 0px,#0043ff 508px)"></i><i style="left:350px;width:1px;background:linear-gradient(#0050ff 0px,#0043ff 508px)"></i><i style="left:351px;width:1px;background:linear-gradient(#004fff 0px,#0042ff 508px)"></i><i style="left:352px;width:1px;background:linear-gradient(#004fff 0px,#0042ff 508px)"></i><i style="left:353px;width:1px;background:linear-gradient(#004fff 0px,#0042ff 508px)"></i><i style="left:354px;width:1px;background:linear-gradient(#004eff 0px,#0042ff 508px)"></i><i style="left:355px;width:1px;background:linear-gradient(#004eff 0px,#0042ff 508px)"></i><i style="left:356px;width:1px;background:linear-gradient(#004eff 0px,#0042ff 508px)"></i><i style="left:357px;width:1px;background:linear-gradient(#004eff 0px,#0042ff 508px)"></i><i style="left:358px;width:1px;background:linear-gradient(#004dff 0px,#0041ff 508px)"></i><i style="left:359px;width:1px;background:linear-gradient(#004dff 0px,#0041ff 508px)"></i><i style="left:360px;width:1px;background:linear-gradient(#004dff 0px,#0041ff 508px)"></i><i style="left:361px;width:1px;background:linear-gradient(#004dff 0px,#0041ff 508px)"></i><i style="left:362px;width:1px;background:linear-gradient(#004cff 0px,#0041ff 508px)"></i><i style="left:363px;width:1px;background:linear-gradient(#004cff 0px,#0041ff 508px)"></i><i style="left:364px;width:1px;background:linear-gradient(#004cff 0px,#0040ff 508px)"></i><i style="left:365px;width:1px;background:linear-gradient(#004cff 0px,#0040ff 508px)"></i><i style="left:366px;width:1px;background:linear-gradient(#004bff 0px,#0040ff 508px)"></i><i style="left:367px;width:1px;background:linear-gradient(#004bff 0px,#0040ff 508px)"></i><i style="left:368px;width:1px;background:linear-gradient(#004bff 0px,#0040ff 508px)"></i><i style="left:369px;width:1px;background:linear-gradient(#004bff 0px,#0040ff 508px)"></i><i style="left:370px;width:1px;background:linear-gradient(#004aff 0px,#003fff 508px)"></i><i style="left:371px;width:1px;background:linear-gradient(#004aff 0px,#003fff 508px)"></i><i style="left:372px;width:1px;background:linear-gradient(#004aff 0px,#003fff 508px)"></i><i style="left:373px;width:1px;background:linear-gradient(#004aff 0px,#003fff 508px)"></i><i style="left:374px;width:1px;background:linear-gradient(#0049ff 0px,#003fff 508px)"></i><i style="left:375px;width:1px;background:linear-gradient(#0049ff 0px,#003fff 508px)"></i><i style="left:376px;width:1px;background:linear-gradient(#0049ff 0px,#003fff 508px)"></i><i style="left:377px;width:1px;background:linear-gradient(#0049ff 0px,#003eff 508px)"></i><i style="left:378px;width:1px;background:linear-gradient(#0048ff 0px,#003eff 508px)"></i><i style="left:379px;width:1px;background:linear-gradient(#0048ff 0px,#003eff 508px)"></i><i style="left:380px;width:1px;background:linear-gradient(#0048ff 0px,#003eff 508px)"></i><i style="left:381px;width:1px;background:linear-gradient(#0047ff 0px,#003eff 508px)"></i><i style="left:382px;width:1px;background:linear-gradient(#0047ff 0px,#003eff 508px)"></i><i style="left:383px;width:1px;background:linear-gradient(#0047ff 0px,#003dff 508px)"></i><i style="left:384px;width:1px;background:linear-gradient(#0046ff 0px,#003dff 508px)"></i><i style="left:385px;width:1px;background:linear-gradient(#0046ff 0px,#003dff 508px)"></i><i style="left:386px;width:1px;background:linear-gradient(#0046ff 0px,#003dff 508px)"></i><i style="left:387px;width:1px;background:linear-gradient(#0045ff 0px,#003dff 508px)"></i><i style="left:388px;width:1px;background:linear-gradient(#0045ff 0px,#003dff 508px)"></i><i style="left:389px;width:1px;background:linear-gradient(#0045ff 0px,#003dff 508px)"></i><i style="left:390px;width:1px;background:linear-gradient(#04f 0px,#003cff 508px)"></i><i style="left:391px;width:1px;background:linear-gradient(#04f 0px,#003cff 508px)"></i><i style="left:392px;width:1px;background:linear-gradient(#0043ff 0px,#003cff 508px)"></i><i style="left:393px;width:1px;background:linear-gradient(#0043ff 0px,#003cff 508px)"></i><i style="left:394px;width:1px;background:linear-gradient(#0043ff 0px,#003cff 508px)"></i><i style="left:395px;width:1px;background:linear-gradient(#0042ff 0px,#003cff 508px)"></i><i style="left:396px;width:1px;background:linear-gradient(#0042ff 0px,#003cff 508px)"></i><i style="left:397px;width:1px;background:linear-gradient(#0042ff 0px,#003bff 508px)"></i><i style="left:398px;width:1px;background:linear-gradient(#0041ff 0px,#003bff 508px)"></i><i style="left:399px;width:1px;background:linear-gradient(#0041ff 0px,#003dff 425px,#003bff 508px)"></i><i style="left:400px;width:1px;background:linear-gradient(#0041ff 0px,#003cff 423px,#003bff 508px)"></i><i style="left:401px;width:1px;background:linear-gradient(#0040ff 0px,#003bff 422px,#003bff 508px)"></i><i style="left:402px;width:1px;background:linear-gradient(#0040ff 0px,#003bff 421px,#003bff 508px)"></i><i style="left:403px;width:1px;background:linear-gradient(#0040ff 0px,#003aff 420px,#003bff 508px)"></i><i style="left:404px;width:1px;background:linear-gradient(#003fff 0px,#003aff 419px,#003aff 508px)"></i><i style="left:405px;width:1px;background:linear-gradient(#003fff 0px,#0039ff 418px,#003aff 508px)"></i><i style="left:406px;width:1px;background:linear-gradient(#003eff 0px,#0039ff 418px,#003aff 508px)"></i><i style="left:407px;width:1px;background:linear-gradient(#003eff 0px,#0038ff 417px,#003aff 508px)"></i><i style="left:408px;width:1px;background:linear-gradient(#003eff 0px,#0038ff 416px,#003aff 508px)"></i><i style="left:409px;width:1px;background:linear-gradient(#003dff 0px,#0037ff 415px,#003aff 508px)"></i><i style="left:410px;width:1px;background:linear-gradient(#003dff 0px,#0037ff 414px,#0039ff 508px)"></i><i style="left:411px;width:1px;background:linear-gradient(#003dff 0px,#0036ff 413px,#0039ff 508px)"></i><i style="left:412px;width:1px;background:linear-gradient(#003cff 0px,#0035ff 412px,#0039ff 508px)"></i><i style="left:413px;width:1px;background:linear-gradient(#003cff 0px,#0034ff 411px,#0039ff 508px)"></i><i style="left:414px;width:1px;background:linear-gradient(#003cff 0px,#0034ff 410px,#0039ff 498px,#0039ff 508px)"></i><i style="left:415px;width:1px;background:linear-gradient(#003bff 0px,#03f 410px,#0039ff 488px,#0039ff 508px)"></i><i style="left:416px;width:1px;background:linear-gradient(#003bff 0px,#0032ff 409px,#0039ff 471px,#0039ff 508px)"></i><i style="left:417px;width:1px;background:linear-gradient(#003aff 0px,#0032ff 408px,#0039ff 462px,#0038ff 508px)"></i><i style="left:418px;width:1px;background:linear-gradient(#003aff 0px,#0031ff 407px,#0039ff 456px,#0038ff 508px)"></i><i style="left:419px;width:1px;background:linear-gradient(#003aff 0px,#0030ff 407px,#0038ff 454px,#0038ff 508px)"></i><i style="left:420px;width:1px;background:linear-gradient(#0039ff 0px,#002fff 406px,#0038ff 451px,#0038ff 508px)"></i><i style="left:421px;width:1px;background:linear-gradient(#0039ff 0px,#002fff 406px,#0038ff 449px,#0038ff 508px)"></i><i style="left:422px;width:1px;background:linear-gradient(#0039ff 0px,#002eff 405px,#0038ff 447px,#0038ff 508px)"></i><i style="left:423px;width:1px;background:linear-gradient(#0038ff 0px,#002eff 405px,#0038ff 446px,#0038ff 508px)"></i><i style="left:424px;width:1px;background:linear-gradient(#0038ff 0px,#002dff 404px,#0037ff 444px,#0037ff 508px)"></i><i style="left:425px;width:1px;background:linear-gradient(#0038ff 0px,#002cff 404px,#0037ff 444px,#0037ff 508px)"></i><i style="left:426px;width:1px;background:linear-gradient(#0037ff 0px,#002bff 403px,#0037ff 442px,#0037ff 508px)"></i><i style="left:427px;width:1px;background:linear-gradient(#0037ff 0px,#002bff 403px,#0037ff 442px,#0037ff 508px)"></i><i style="left:428px;width:1px;background:linear-gradient(#0037ff 0px,#002bff 403px,#0037ff 441px,#0037ff 508px)"></i><i style="left:429px;width:1px;background:linear-gradient(#0037ff 0px,#002aff 402px,#0037ff 440px,#0037ff 508px)"></i><i style="left:430px;width:1px;background:linear-gradient(#0037ff 0px,#0029ff 402px,#0037ff 440px,#0037ff 508px)"></i><i style="left:431px;width:1px;background:linear-gradient(#0037ff 0px,#0029ff 402px,#0037ff 440px,#0037ff 508px)"></i><i style="left:432px;width:1px;background:linear-gradient(#0036ff 0px,#0029ff 402px,#0037ff 439px,#0037ff 508px)"></i><i style="left:433px;width:1px;background:linear-gradient(#0036ff 0px,#0029ff 402px,#0037ff 439px,#0037ff 508px)"></i><i style="left:434px;width:1px;background:linear-gradient(#0036ff 0px,#0028ff 401px,#0037ff 438px,#0037ff 508px)"></i><i style="left:435px;width:1px;background:linear-gradient(#0036ff 0px,#0027ff 401px,#0037ff 438px,#0037ff 508px)"></i><i style="left:436px;width:1px;background:linear-gradient(#0036ff 0px,#0027ff 401px,#0037ff 438px,#0037ff 508px)"></i><i style="left:437px;width:1px;background:linear-gradient(#0036ff 0px,#0027ff 401px,#0036ff 437px,#0037ff 508px)"></i><i style="left:438px;width:1px;background:linear-gradient(#0036ff 0px,#0026ff 401px,#0036ff 437px,#0037ff 508px)"></i><i style="left:439px;width:1px;background:linear-gradient(#0036ff 0px,#0026ff 401px,#0036ff 437px,#0037ff 508px)"></i><i style="left:440px;width:1px;background:linear-gradient(#0036ff 0px,#0026ff 400px,#0036ff 437px,#0037ff 508px)"></i><i style="left:441px;width:1px;background:linear-gradient(#0036ff 0px,#0025ff 398px,#0036ff 438px,#0037ff 508px)"></i><i style="left:442px;width:1px;background:linear-gradient(#0036ff 0px,#0025ff 395px,#0036ff 439px,#0037ff 508px)"></i><i style="left:443px;width:1px;background:linear-gradient(#0035ff 0px,#0025ff 391px,#0036ff 440px,#0037ff 508px)"></i><i style="left:444px;width:1px;background:linear-gradient(#0035ff 0px,#0024ff 385px,#002dff 413px,#0036ff 442px,#0037ff 508px)"></i><i style="left:445px;width:1px;background:linear-gradient(#0035ff 0px,#0024ff 379px,#002bff 411px,#0036ff 439px,#0037ff 508px)"></i><i style="left:446px;width:1px;background:linear-gradient(#0035ff 0px,#0024ff 374px,#002aff 410px,#0036ff 438px,#0037ff 508px)"></i><i style="left:447px;width:1px;background:linear-gradient(#0035ff 0px,#0023ff 369px,#0029ff 409px,#0036ff 437px,#0037ff 508px)"></i><i style="left:448px;width:1px;background:linear-gradient(#0035ff 0px,#0023ff 364px,#0029ff 409px,#0036ff 437px,#0037ff 508px)"></i><i style="left:449px;width:1px;background:linear-gradient(#0035ff 0px,#0023ff 359px,#0028ff 408px,#0036ff 436px,#0037ff 508px)"></i><i style="left:450px;width:1px;background:linear-gradient(#0035ff 0px,#02f 355px,#0028ff 408px,#0036ff 436px,#0037ff 508px)"></i><i style="left:451px;width:1px;background:linear-gradient(#0035ff 0px,#02f 351px,#0028ff 408px,#0036ff 436px,#0037ff 508px)"></i><i style="left:452px;width:1px;background:linear-gradient(#0035ff 0px,#02f 347px,#0027ff 408px,#0036ff 436px,#0037ff 508px)"></i><i style="left:453px;width:1px;background:linear-gradient(#0034ff 0px,#02f 343px,#0027ff 408px,#0036ff 435px,#0037ff 508px)"></i><i style="left:454px;width:1px;background:linear-gradient(#0034ff 0px,#0021ff 339px,#0026ff 407px,#0036ff 435px,#0037ff 508px)"></i><i style="left:455px;width:1px;background:linear-gradient(#0034ff 0px,#0021ff 336px,#0026ff 407px,#0036ff 435px,#0037ff 508px)"></i><i style="left:456px;width:1px;background:linear-gradient(#0034ff 0px,#0021ff 333px,#0026ff 407px,#0036ff 435px,#0037ff 508px)"></i><i style="left:457px;width:1px;background:linear-gradient(#0034ff 0px,#0020ff 330px,#0025ff 407px,#0035ff 434px,#0037ff 508px)"></i><i style="left:458px;width:1px;background:linear-gradient(#0034ff 0px,#0020ff 326px,#0025ff 407px,#0035ff 434px,#0037ff 508px)"></i><i style="left:459px;width:1px;background:linear-gradient(#0034ff 0px,#0020ff 324px,#0025ff 407px,#0035ff 434px,#0037ff 508px)"></i><i style="left:460px;width:1px;background:linear-gradient(#0034ff 0px,#001fff 321px,#0024ff 407px,#0035ff 434px,#0037ff 508px)"></i><i style="left:461px;width:1px;background:linear-gradient(#0034ff 0px,#001fff 318px,#0024ff 407px,#0035ff 434px,#0037ff 508px)"></i><i style="left:462px;width:1px;background:linear-gradient(#0034ff 0px,#001fff 315px,#0023ff 406px,#0035ff 434px,#0037ff 508px)"></i><i style="left:463px;width:1px;background:linear-gradient(#0034ff 0px,#001eff 313px,#0023ff 406px,#0035ff 433px,#0037ff 508px)"></i><i style="left:464px;width:1px;background:linear-gradient(#03f 0px,#001eff 311px,#0023ff 406px,#0035ff 433px,#0037ff 508px)"></i><i style="left:465px;width:1px;background:linear-gradient(#03f 0px,#001eff 308px,#02f 406px,#0035ff 433px,#0037ff 508px)"></i><i style="left:466px;width:1px;background:linear-gradient(#03f 0px,#001dff 306px,#02f 406px,#0035ff 433px,#0037ff 508px)"></i><i style="left:467px;width:1px;background:linear-gradient(#03f 0px,#001dff 304px,#02f 406px,#0035ff 433px,#0037ff 508px)"></i><i style="left:468px;width:1px;background:linear-gradient(#03f 0px,#001dff 302px,#0021ff 406px,#0035ff 433px,#0037ff 508px)"></i><i style="left:469px;width:1px;background:linear-gradient(#03f 0px,#001cff 300px,#0021ff 406px,#0035ff 433px,#0037ff 508px)"></i><i style="left:470px;width:1px;background:linear-gradient(#03f 0px,#001cff 298px,#0021ff 406px,#0035ff 433px,#0037ff 508px)"></i><i style="left:471px;width:1px;background:linear-gradient(#03f 0px,#001cff 296px,#0021ff 406px,#0035ff 433px,#0037ff 508px)"></i><i style="left:472px;width:1px;background:linear-gradient(#03f 0px,#001bff 294px,#0020ff 406px,#0035ff 432px,#0037ff 508px)"></i><i style="left:473px;width:1px;background:linear-gradient(#03f 0px,#001bff 292px,#0020ff 406px,#0035ff 432px,#0037ff 508px)"></i><i style="left:474px;width:1px;background:linear-gradient(#03f 0px,#001bff 291px,#0020ff 406px,#0035ff 432px,#0037ff 508px)"></i><i style="left:475px;width:1px;background:linear-gradient(#0032ff 0px,#001aff 289px,#0020ff 406px,#0034ff 432px,#0037ff 508px)"></i><i style="left:476px;width:1px;background:linear-gradient(#0032ff 0px,#001aff 287px,#001fff 406px,#0034ff 432px,#0037ff 508px)"></i><i style="left:477px;width:1px;background:linear-gradient(#0032ff 0px,#001aff 286px,#001eff 405px,#0034ff 432px,#0037ff 508px)"></i><i style="left:478px;width:1px;background:linear-gradient(#0032ff 0px,#0019ff 284px,#001eff 405px,#0034ff 432px,#0037ff 508px)"></i><i style="left:479px;width:1px;background:linear-gradient(#0032ff 0px,#0019ff 283px,#001dff 405px,#0034ff 432px,#0037ff 508px)"></i><i style="left:480px;width:1px;background:linear-gradient(#0032ff 0px,#0019ff 282px,#001dff 405px,#0034ff 432px,#0037ff 508px)"></i><i style="left:481px;width:1px;background:linear-gradient(#0032ff 0px,#0019ff 281px,#001dff 405px,#0034ff 432px,#0037ff 508px)"></i><i style="left:482px;width:1px;background:linear-gradient(#0032ff 0px,#0018ff 280px,#001dff 405px,#0034ff 432px,#0037ff 508px)"></i><i style="left:483px;width:1px;background:linear-gradient(#0032ff 0px,#0018ff 279px,#001dff 405px,#0034ff 432px,#0037ff 508px)"></i><i style="left:484px;width:1px;background:linear-gradient(#03f 0px,#0018ff 278px,#001cff 405px,#0034ff 431px,#0037ff 508px)"></i><i style="left:485px;width:1px;background:linear-gradient(#03f 0px,#0018ff 277px,#001cff 405px,#0034ff 431px,#0037ff 508px)"></i><i style="left:486px;width:1px;background:linear-gradient(#03f 0px,#0018ff 276px,#001cff 405px,#0034ff 431px,#0037ff 508px)"></i><i style="left:487px;width:1px;background:linear-gradient(#03f 0px,#0017ff 276px,#001cff 405px,#0034ff 431px,#0037ff 508px)"></i><i style="left:488px;width:1px;background:linear-gradient(#03f 0px,#0017ff 275px,#001cff 405px,#0034ff 431px,#0036ff 508px)"></i><i style="left:489px;width:1px;background:linear-gradient(#03f 0px,#0017ff 274px,#001bff 405px,#0034ff 431px,#0036ff 508px)"></i><i style="left:490px;width:1px;background:linear-gradient(#03f 0px,#0017ff 274px,#001bff 405px,#0034ff 431px,#0036ff 508px)"></i><i style="left:491px;width:1px;background:linear-gradient(#03f 0px,#0016ff 273px,#001bff 405px,#0034ff 431px,#0036ff 508px)"></i><i style="left:492px;width:1px;background:linear-gradient(#03f 0px,#0016ff 272px,#001bff 405px,#0034ff 431px,#0036ff 508px)"></i><i style="left:493px;width:1px;background:linear-gradient(#0034ff 0px,#0016ff 269px,#001bff 405px,#0034ff 431px,#0036ff 508px)"></i><i style="left:494px;width:1px;background:linear-gradient(#0034ff 0px,#0016ff 265px,#001bff 405px,#0034ff 431px,#0036ff 508px)"></i><i style="left:495px;width:1px;background:linear-gradient(#0034ff 0px,#0016ff 262px,#001aff 405px,#03f 431px,#0036ff 508px)"></i><i style="left:496px;width:1px;background:linear-gradient(#0034ff 0px,#0015ff 258px,#001aff 405px,#03f 431px,#0036ff 508px)"></i><i style="left:497px;width:1px;background:linear-gradient(#0034ff 0px,#0015ff 255px,#001aff 405px,#03f 431px,#0036ff 508px)"></i><i style="left:498px;width:1px;background:linear-gradient(#0034ff 0px,#001aff 175px,#001aff 405px,#03f 431px,#0036ff 508px)"></i><i style="left:499px;width:1px;background:linear-gradient(#0034ff 0px,#001aff 173px,#001aff 405px,#03f 431px,#0036ff 508px)"></i><i style="left:500px;width:1px;background:linear-gradient(#0034ff 0px,#001aff 172px,#0018ff 404px,#03f 431px,#0036ff 508px)"></i><i style="left:501px;width:1px;background:linear-gradient(#0034ff 0px,#001aff 170px,#0017ff 403px,#03f 431px,#0036ff 508px)"></i><i style="left:502px;width:1px;background:linear-gradient(#0034ff 0px,#001aff 169px,#0016ff 403px,#03f 431px,#0036ff 508px)"></i><i style="left:503px;width:1px;background:linear-gradient(#0035ff 0px,#001aff 167px,#0015ff 402px,#03f 430px,#0035ff 508px)"></i><i style="left:504px;width:1px;background:linear-gradient(#0035ff 0px,#001aff 166px,#0014ff 401px,#03f 430px,#0035ff 508px)"></i><i style="left:505px;width:1px;background:linear-gradient(#0035ff 0px,#001aff 165px,#0013ff 401px,#03f 430px,#0035ff 508px)"></i><i style="left:506px;width:1px;background:linear-gradient(#0035ff 0px,#001aff 164px,#0013ff 401px,#03f 430px,#0035ff 508px)"></i><i style="left:507px;width:1px;background:linear-gradient(#0035ff 0px,#001aff 162px,#0013ff 374px,#0018ff 405px,#03f 430px,#0035ff 508px)"></i><i style="left:508px;width:1px;background:linear-gradient(#0035ff 0px,#001aff 161px,#0013ff 362px,#0018ff 405px,#03f 430px,#0035ff 508px)"></i><i style="left:509px;width:1px;background:linear-gradient(#0035ff 0px,#001aff 161px,#0012ff 367px,#0018ff 405px,#03f 430px,#0035ff 508px)"></i><i style="left:510px;width:1px;background:linear-gradient(#0035ff 0px,#001aff 160px,#0012ff 356px,#0017ff 405px,#03f 430px,#0035ff 508px)"></i><i style="left:511px;width:1px;background:linear-gradient(#0036ff 0px,#001aff 159px,#0012ff 346px,#0017ff 405px,#03f 430px,#0035ff 508px)"></i><i style="left:512px;width:1px;background:linear-gradient(#0036ff 0px,#001aff 158px,#0012ff 310px,#0016ff 404px,#03f 430px,#0035ff 508px)"></i><i style="left:513px;width:1px;background:linear-gradient(#0036ff 0px,#001aff 157px,#0012ff 270px,#0016ff 404px,#03f 430px,#0035ff 508px)"></i><i style="left:514px;width:1px;background:linear-gradient(#0036ff 0px,#001aff 156px,#01f 249px,#0015ff 404px,#03f 430px,#0035ff 508px)"></i><i style="left:515px;width:1px;background:linear-gradient(#0036ff 0px,#001aff 156px,#01f 243px,#0015ff 404px,#03f 430px,#0035ff 508px)"></i><i style="left:516px;width:1px;background:linear-gradient(#0036ff 0px,#001aff 155px,#01f 231px,#0015ff 404px,#0032ff 430px,#0035ff 508px)"></i><i style="left:517px;width:1px;background:linear-gradient(#0036ff 0px,#001aff 154px,#01f 223px,#0015ff 404px,#0032ff 430px,#0034ff 508px)"></i><i style="left:518px;width:1px;background:linear-gradient(#0036ff 0px,#001aff 154px,#01f 219px,#0015ff 404px,#0032ff 430px,#0034ff 508px)"></i><i style="left:519px;width:1px;background:linear-gradient(#0036ff 0px,#001aff 153px,#0010ff 213px,#0014ff 404px,#0032ff 430px,#0034ff 508px)"></i><i style="left:520px;width:1px;background:linear-gradient(#0036ff 0px,#0019ff 153px,#0010ff 211px,#0014ff 404px,#0032ff 430px,#0034ff 508px)"></i><i style="left:521px;width:1px;background:linear-gradient(#0037ff 0px,#0019ff 152px,#0010ff 207px,#0014ff 404px,#0032ff 430px,#0034ff 508px)"></i><i style="left:522px;width:1px;background:linear-gradient(#0037ff 0px,#0019ff 152px,#0010ff 205px,#0014ff 404px,#0032ff 430px,#0034ff 508px)"></i><i style="left:523px;width:1px;background:linear-gradient(#0037ff 0px,#0019ff 151px,#000fff 202px,#0014ff 404px,#0032ff 430px,#0034ff 508px)"></i><i style="left:524px;width:1px;background:linear-gradient(#0037ff 0px,#0019ff 151px,#000fff 201px,#0013ff 404px,#0032ff 430px,#0034ff 508px)"></i><i style="left:525px;width:1px;background:linear-gradient(#0037ff 0px,#0019ff 150px,#000fff 199px,#0013ff 404px,#0032ff 430px,#0034ff 508px)"></i><i style="left:526px;width:1px;background:linear-gradient(#0038ff 0px,#001aff 149px,#000fff 197px,#0013ff 404px,#0032ff 430px,#0034ff 508px)"></i><i style="left:527px;width:1px;background:linear-gradient(#0039ff 0px,#001aff 149px,#000eff 196px,#0013ff 404px,#0032ff 430px,#0034ff 508px)"></i><i style="left:528px;width:1px;background:linear-gradient(#003aff 0px,#001aff 148px,#000eff 195px,#0012ff 404px,#0032ff 430px,#0034ff 508px)"></i><i style="left:529px;width:1px;background:linear-gradient(#003aff 0px,#001bff 147px,#000eff 194px,#0012ff 404px,#0032ff 430px,#0034ff 508px)"></i><i style="left:530px;width:1px;background:linear-gradient(#003bff 0px,#001bff 147px,#000eff 193px,#0012ff 404px,#0032ff 430px,#03f 508px)"></i><i style="left:531px;width:1px;background:linear-gradient(#003cff 0px,#001bff 146px,#000dff 192px,#0012ff 404px,#0031ff 430px,#03f 508px)"></i><i style="left:532px;width:1px;background:linear-gradient(#003dff 0px,#001bff 146px,#000dff 192px,#01f 404px,#0031ff 430px,#03f 508px)"></i><i style="left:533px;width:1px;background:linear-gradient(#003dff 0px,#001cff 145px,#000dff 191px,#01f 404px,#0031ff 430px,#03f 508px)"></i><i style="left:534px;width:1px;background:linear-gradient(#003eff 0px,#001cff 145px,#000dff 190px,#01f 404px,#0031ff 430px,#03f 508px)"></i><i style="left:535px;width:1px;background:linear-gradient(#003fff 0px,#001dff 144px,#000cff 190px,#01f 404px,#0031ff 430px,#03f 508px)"></i><i style="left:536px;width:1px;background:linear-gradient(#0040ff 0px,#001dff 144px,#000cff 189px,#01f 404px,#0031ff 430px,#03f 508px)"></i><i style="left:537px;width:1px;background:linear-gradient(#0040ff 0px,#001dff 144px,#000cff 189px,#0010ff 404px,#0031ff 430px,#03f 508px)"></i><i style="left:538px;width:1px;background:linear-gradient(#0041ff 0px,#001dff 143px,#000cff 189px,#0010ff 404px,#0031ff 430px,#03f 508px)"></i><i style="left:539px;width:1px;background:linear-gradient(#0042ff 0px,#001dff 143px,#000bff 188px,#0010ff 404px,#0031ff 430px,#03f 508px)"></i><i style="left:540px;width:1px;background:linear-gradient(#0043ff 0px,#001eff 142px,#000bff 188px,#0010ff 404px,#0031ff 430px,#0032ff 508px)"></i><i style="left:541px;width:1px;background:linear-gradient(#0043ff 0px,#001eff 142px,#000bff 187px,#000fff 404px,#0030ff 430px,#0032ff 508px)"></i><i style="left:542px;width:1px;background:linear-gradient(#04f 0px,#001eff 142px,#000bff 187px,#000fff 404px,#0030ff 429px,#0032ff 508px)"></i><i style="left:543px;width:1px;background:linear-gradient(#0045ff 0px,#001fff 141px,#000aff 187px,#000fff 404px,#0030ff 429px,#0032ff 508px)"></i><i style="left:544px;width:1px;background:linear-gradient(#0046ff 0px,#001fff 141px,#000aff 187px,#000fff 404px,#0030ff 429px,#0032ff 508px)"></i><i style="left:545px;width:1px;background:linear-gradient(#004aff 0px,#0021ff 140px,#000aff 186px,#000eff 404px,#0030ff 429px,#0032ff 508px)"></i><i style="left:546px;width:1px;background:linear-gradient(#0051ff 0px,#002bff 129px,#000aff 184px,#000eff 404px,#0030ff 429px,#0032ff 508px)"></i><i style="left:547px;width:1px;background:linear-gradient(#0059ff 0px,#003aff 106px,#000aff 184px,#000eff 404px,#0030ff 429px,#0032ff 508px)"></i><i style="left:548px;width:1px;background:linear-gradient(#0060ff 0px,#0045ff 95px,#0018ff 160px,#000aff 185px,#000eff 404px,#0030ff 429px,#0032ff 508px)"></i><i style="left:549px;width:1px;background:linear-gradient(#0068ff 0px,#004eff 90px,#001aff 159px,#000aff 183px,#000eff 404px,#0030ff 429px,#0032ff 508px)"></i><i style="left:550px;width:1px;background:linear-gradient(#006fff 0px,#0057ff 87px,#001aff 160px,#000aff 183px,#000eff 404px,#0030ff 429px,#0032ff 508px)"></i><i style="left:551px;width:1px;background:linear-gradient(#07f 0px,#0060ff 85px,#001aff 161px,#000aff 182px,#000dff 404px,#0030ff 429px,#0032ff 508px)"></i><i style="left:552px;width:1px;background:linear-gradient(#007eff 0px,#0067ff 84px,#0019ff 163px,#000aff 182px,#000dff 404px,#0030ff 429px,#0032ff 508px)"></i><i style="left:553px;width:1px;background:linear-gradient(#0086ff 0px,#0070ff 83px,#0019ff 164px,#000aff 182px,#000dff 404px,#0030ff 429px,#0032ff 508px)"></i><i style="left:554px;width:1px;background:linear-gradient(#008dff 0px,#0078ff 82px,#0018ff 165px,#000aff 181px,#000dff 404px,#0030ff 429px,#0032ff 508px)"></i><i style="left:555px;width:1px;background:linear-gradient(#0091ff 0px,#007bff 82px,#0015ff 168px,#000aff 183px,#000dff 404px,#0030ff 429px,#0032ff 508px)"></i><i style="left:556px;width:1px;background:linear-gradient(#0090ff 0px,#007aff 82px,#0010ff 171px,#000aff 192px,#000dff 404px,#0030ff 429px,#0032ff 508px)"></i><i style="left:557px;width:1px;background:linear-gradient(#0090ff 0px,#007aff 82px,#000aff 180px,#000dff 404px,#0030ff 429px,#0032ff 508px)"></i><i style="left:558px;width:1px;background:linear-gradient(#0090ff 0px,#0079ff 82px,#000aff 180px,#000dff 404px,#0030ff 429px,#0032ff 508px)"></i><i style="left:559px;width:1px;background:linear-gradient(#0090ff 0px,#0078ff 82px,#0009ff 180px,#000dff 404px,#0030ff 429px,#0032ff 508px)"></i><i style="left:560px;width:1px;background:linear-gradient(#008fff 0px,#0078ff 82px,#0009ff 180px,#000dff 404px,#0030ff 429px,#0032ff 508px)"></i><i style="left:561px;width:1px;background:linear-gradient(#008fff 0px,#07f 82px,#0009ff 180px,#000dff 404px,#0030ff 429px,#0032ff 508px)"></i><i style="left:562px;width:1px;background:linear-gradient(#008eff 0px,#0076ff 82px,#0009ff 180px,#000dff 404px,#0030ff 429px,#0032ff 508px)"></i><i style="left:563px;width:1px;background:linear-gradient(#008eff 0px,#0076ff 82px,#0009ff 180px,#000dff 404px,#0030ff 429px,#0032ff 508px)"></i><i style="left:564px;width:1px;background:linear-gradient(#008eff 0px,#0075ff 82px,#0009ff 180px,#000dff 404px,#0030ff 429px,#0032ff 508px)"></i><i style="left:565px;width:1px;background:linear-gradient(#008eff 0px,#0074ff 82px,#0009ff 180px,#000dff 404px,#0030ff 429px,#0032ff 508px)"></i><i style="left:566px;width:1px;background:linear-gradient(#008dff 0px,#0074ff 82px,#0008ff 180px,#000dff 404px,#0030ff 429px,#0032ff 508px)"></i><i style="left:567px;width:1px;background:linear-gradient(#008dff 0px,#0073ff 82px,#0008ff 180px,#000dff 404px,#0030ff 429px,#0032ff 508px)"></i><i style="left:568px;width:1px;background:linear-gradient(#008cff 0px,#0072ff 82px,#0008ff 180px,#000dff 404px,#0030ff 429px,#0032ff 508px)"></i><i style="left:569px;width:1px;background:linear-gradient(#008cff 0px,#0072ff 82px,#0008ff 180px,#000dff 404px,#0030ff 429px,#0032ff 508px)"></i><i style="left:570px;width:1px;background:linear-gradient(#0089ff 0px,#006eff 82px,#0008ff 180px,#000dff 404px,#0030ff 429px,#0032ff 508px)"></i><i style="left:571px;width:1px;background:linear-gradient(#0083ff 0px,#0068ff 83px,#0008ff 181px,#000cff 404px,#0030ff 429px,#0032ff 508px)"></i><i style="left:572px;width:1px;background:linear-gradient(#007dff 0px,#0061ff 84px,#0007ff 181px,#000cff 404px,#0030ff 429px,#0032ff 508px)"></i><i style="left:573px;width:1px;background:linear-gradient(#07f 0px,#0059ff 86px,#0007ff 181px,#000cff 404px,#0030ff 429px,#0032ff 508px)"></i><i style="left:574px;width:1px;background:linear-gradient(#0071ff 0px,#0052ff 88px,#0007ff 182px,#000cff 404px,#0030ff 429px,#0032ff 508px)"></i><i style="left:575px;width:1px;background:linear-gradient(#006bff 0px,#004aff 92px,#0006ff 182px,#000bff 404px,#0030ff 429px,#0032ff 508px)"></i><i style="left:576px;width:1px;background:linear-gradient(#0065ff 0px,#0042ff 97px,#0006ff 183px,#000bff 404px,#0030ff 429px,#0032ff 508px)"></i><i style="left:577px;width:1px;background:linear-gradient(#005fff 0px,#0037ff 109px,#0006ff 183px,#0009ff 403px,#0030ff 429px,#0032ff 508px)"></i><i style="left:578px;width:1px;background:linear-gradient(#0059ff 0px,#0029ff 130px,#0005ff 183px,#0009ff 403px,#0030ff 429px,#0032ff 508px)"></i><i style="left:579px;width:1px;background:linear-gradient(#0053ff 0px,#001fff 140px,#0005ff 184px,#0009ff 403px,#0030ff 429px,#0032ff 508px)"></i><i style="left:580px;width:1px;background:linear-gradient(#004fff 0px,#001eff 140px,#0005ff 185px,#0008ff 403px,#0030ff 429px,#0032ff 508px)"></i><i style="left:581px;width:1px;background:linear-gradient(#004dff 0px,#001cff 141px,#0005ff 185px,#0008ff 403px,#0030ff 429px,#0032ff 508px)"></i><i style="left:582px;width:1px;background:linear-gradient(#004bff 0px,#001cff 141px,#0005ff 185px,#0008ff 403px,#0030ff 429px,#0032ff 508px)"></i><i style="left:583px;width:1px;background:linear-gradient(#0049ff 0px,#001aff 142px,#0005ff 186px,#0008ff 403px,#0030ff 429px,#0032ff 508px)"></i><i style="left:584px;width:1px;background:linear-gradient(#0047ff 0px,#0019ff 143px,#0005ff 186px,#0008ff 403px,#0030ff 429px,#0032ff 508px)"></i><i style="left:585px;width:1px;background:linear-gradient(#0045ff 0px,#0018ff 144px,#0005ff 187px,#0008ff 403px,#0030ff 429px,#0032ff 508px)"></i><i style="left:586px;width:1px;background:linear-gradient(#0043ff 0px,#0017ff 144px,#0005ff 188px,#0008ff 403px,#0030ff 429px,#0032ff 508px)"></i><i style="left:587px;width:1px;background:linear-gradient(#0041ff 0px,#0016ff 145px,#0005ff 188px,#0008ff 403px,#0030ff 429px,#0032ff 508px)"></i><i style="left:588px;width:1px;background:linear-gradient(#003fff 0px,#0015ff 146px,#0005ff 189px,#0008ff 403px,#0030ff 429px,#0032ff 508px)"></i><i style="left:589px;width:1px;background:linear-gradient(#003dff 0px,#0014ff 147px,#0005ff 190px,#0008ff 403px,#0030ff 429px,#0032ff 508px)"></i><i style="left:590px;width:1px;background:linear-gradient(#0040ff 0px,#0014ff 148px,#0005ff 190px,#0008ff 403px,#0030ff 429px,#0032ff 508px)"></i><i style="left:591px;width:1px;background:linear-gradient(#0047ff 0px,#0020ff 127px,#0005ff 186px,#0008ff 403px,#0030ff 429px,#0032ff 508px)"></i><i style="left:592px;width:1px;background:linear-gradient(#004eff 0px,#0030ff 101px,#0005ff 185px,#0008ff 403px,#0030ff 429px,#0032ff 508px)"></i><i style="left:593px;width:1px;background:linear-gradient(#0056ff 0px,#003aff 92px,#0005ff 184px,#0008ff 403px,#0030ff 429px,#0032ff 508px)"></i><i style="left:594px;width:1px;background:linear-gradient(#005dff 0px,#0042ff 88px,#0005ff 183px,#0008ff 403px,#0030ff 429px,#0032ff 508px)"></i><i style="left:595px;width:1px;background:linear-gradient(#0064ff 0px,#004aff 85px,#0005ff 183px,#0008ff 403px,#0030ff 429px,#0032ff 508px)"></i><i style="left:596px;width:1px;background:linear-gradient(#006cff 0px,#0052ff 84px,#0005ff 179px,#0008ff 403px,#0030ff 429px,#0032ff 508px)"></i><i style="left:597px;width:1px;background:linear-gradient(#0073ff 0px,#0059ff 83px,#0007ff 173px,#0008ff 403px,#0030ff 429px,#0032ff 508px)"></i><i style="left:598px;width:1px;background:linear-gradient(#007aff 0px,#0060ff 82px,#0017ff 155px,#0005ff 184px,#0008ff 403px,#0030ff 429px,#0032ff 508px)"></i><i style="left:599px;width:1px;background:linear-gradient(#0082ff 0px,#0068ff 81px,#001fff 147px,#0005ff 183px,#0008ff 403px,#0030ff 429px,#0032ff 508px)"></i><i style="left:600px;width:1px;background:linear-gradient(#0089ff 0px,#0070ff 80px,#0024ff 142px,#0005ff 182px,#0008ff 403px,#0030ff 429px,#0032ff 508px)"></i><i style="left:601px;width:1px;background:linear-gradient(#0090ff 0px,#07f 80px,#0029ff 139px,#0005ff 182px,#0008ff 403px,#0030ff 429px,#0032ff 508px)"></i><i style="left:602px;width:1px;background:linear-gradient(#0098ff 0px,#007eff 80px,#002cff 137px,#0005ff 181px,#0008ff 403px,#0030ff 429px,#0032ff 508px)"></i><i style="left:603px;width:1px;background:linear-gradient(#009fff 0px,#0086ff 79px,#002fff 136px,#0005ff 181px,#0008ff 403px,#0030ff 429px,#0032ff 508px)"></i><i style="left:604px;width:1px;background:linear-gradient(#00a6ff 0px,#008dff 79px,#0032ff 134px,#0005ff 181px,#0008ff 403px,#0030ff 429px,#0032ff 508px)"></i><i style="left:605px;width:1px;background:linear-gradient(#00abff 0px,#0093ff 79px,#0034ff 134px,#0005ff 180px,#0009ff 403px,#0030ff 429px,#0032ff 508px)"></i><i style="left:606px;width:1px;background:linear-gradient(#00aeff 0px,#0097ff 79px,#0036ff 135px,#0006ff 180px,#0009ff 403px,#0030ff 429px,#0032ff 508px)"></i><i style="left:607px;width:1px;background:linear-gradient(#00b2ff 0px,#009aff 79px,#0038ff 135px,#0006ff 180px,#0009ff 403px,#0030ff 429px,#0032ff 508px)"></i><i style="left:608px;width:1px;background:linear-gradient(#00b4ff 0px,#009eff 79px,#003aff 136px,#0007ff 180px,#000bff 404px,#0030ff 429px,#0032ff 508px)"></i><i style="left:609px;width:1px;background:linear-gradient(#00b8ff 0px,#00a2ff 79px,#003cff 136px,#0007ff 180px,#000bff 404px,#0030ff 429px,#0032ff 508px)"></i><i style="left:610px;width:1px;background:linear-gradient(#00baff 0px,#00a6ff 79px,#003dff 137px,#0008ff 180px,#000cff 404px,#0030ff 429px,#0032ff 508px)"></i><i style="left:611px;width:1px;background:linear-gradient(#00bdff 0px,#00acff 78px,#003eff 138px,#0008ff 179px,#000cff 404px,#0030ff 429px,#0032ff 508px)"></i><i style="left:612px;width:1px;background:linear-gradient(#00c0ff 0px,#00b0ff 78px,#003fff 139px,#0009ff 179px,#000cff 404px,#0030ff 429px,#0032ff 508px)"></i><i style="left:613px;width:1px;background:linear-gradient(#00c3ff 0px,#00b4ff 78px,#0040ff 140px,#0009ff 179px,#000cff 404px,#0030ff 429px,#0032ff 508px)"></i><i style="left:614px;width:1px;background:linear-gradient(#00c6ff 0px,#00b8ff 78px,#003fff 142px,#000aff 179px,#000dff 404px,#0030ff 429px,#0032ff 508px)"></i><i style="left:615px;width:1px;background:linear-gradient(#00c6ff 0px,#00b7ff 78px,#003dff 144px,#000aff 179px,#000dff 404px,#0030ff 429px,#0032ff 508px)"></i><i style="left:616px;width:1px;background:linear-gradient(#00c2ff 0px,#00b1ff 79px,#0034ff 149px,#000bff 179px,#000dff 404px,#0030ff 429px,#0032ff 508px)"></i><i style="left:617px;width:1px;background:linear-gradient(#00beff 0px,#00acff 79px,#002cff 154px,#000bff 180px,#000dff 404px,#0031ff 429px,#0032ff 508px)"></i><i style="left:618px;width:1px;background:linear-gradient(#00baff 0px,#00a5ff 80px,#0023ff 160px,#000cff 180px,#000eff 404px,#0031ff 429px,#0032ff 508px)"></i><i style="left:619px;width:1px;background:linear-gradient(#00b6ff 0px,#009fff 81px,#06f 116px,#000cff 176px,#000eff 404px,#0031ff 429px,#0032ff 508px)"></i><i style="left:620px;width:1px;background:linear-gradient(#00b2ff 0px,#009aff 82px,#0072ff 109px,#0025ff 158px,#000dff 180px,#000eff 404px,#0031ff 429px,#0032ff 508px)"></i><i style="left:621px;width:1px;background:linear-gradient(#00aeff 0px,#0094ff 84px,#0073ff 107px,#002aff 154px,#000dff 180px,#000eff 404px,#0031ff 429px,#0032ff 508px)"></i><i style="left:622px;width:1px;background:linear-gradient(#0af 0px,#008cff 88px,#05f 123px,#000eff 178px,#000eff 404px,#0032ff 429px,#0032ff 508px)"></i><i style="left:623px;width:1px;background:linear-gradient(#00a6ff 0px,#0086ff 94px,#0030ff 148px,#000eff 181px,#000eff 404px,#0032ff 429px,#0032ff 508px)"></i><i style="left:624px;width:1px;background:linear-gradient(#00a2ff 0px,#007eff 97px,#002fff 148px,#000fff 181px,#000fff 404px,#0032ff 429px,#0032ff 508px)"></i><i style="left:625px;width:1px;background:linear-gradient(#00a2ff 0px,#0080ff 97px,#0031ff 147px,#0010ff 181px,#000fff 404px,#0032ff 429px,#0032ff 508px)"></i><i style="left:626px;width:1px;background:linear-gradient(#00a4ff 0px,#0086ff 97px,#0034ff 147px,#01f 181px,#000fff 404px,#0032ff 429px,#0032ff 508px)"></i><i style="left:627px;width:1px;background:linear-gradient(#00a8ff 0px,#008bff 97px,#0039ff 145px,#0013ff 180px,#0010ff 404px,#0032ff 429px,#0032ff 508px)"></i><i style="left:628px;width:1px;background:linear-gradient(#00abff 0px,#0093ff 96px,#003fff 143px,#0014ff 180px,#0010ff 404px,#0032ff 429px,#0032ff 508px)"></i><i style="left:629px;width:1px;background:linear-gradient(#00aeff 0px,#09f 96px,#0046ff 140px,#0016ff 180px,#01f 404px,#0032ff 429px,#0032ff 508px)"></i><i style="left:630px;width:1px;background:linear-gradient(#00b0ff 0px,#009fff 96px,#004bff 139px,#0017ff 180px,#01f 404px,#0032ff 429px,#0032ff 508px)"></i><i style="left:631px;width:1px;background:linear-gradient(#00b3ff 0px,#00a5ff 96px,#0051ff 137px,#0019ff 179px,#0012ff 404px,#0032ff 430px,#0032ff 508px)"></i><i style="left:632px;width:1px;background:linear-gradient(#00b6ff 0px,#0af 96px,#0057ff 135px,#001aff 179px,#0012ff 404px,#0032ff 430px,#0032ff 508px)"></i><i style="left:633px;width:1px;background:linear-gradient(#00baff 0px,#00b0ff 96px,#005cff 134px,#001cff 179px,#0013ff 404px,#0032ff 430px,#0032ff 508px)"></i><i style="left:634px;width:1px;background:linear-gradient(#00bcff 0px,#00b6ff 96px,#0061ff 133px,#001dff 179px,#0013ff 404px,#0032ff 430px,#0032ff 508px)"></i><i style="left:635px;width:1px;background:linear-gradient(#00beff 0px,#00b9ff 96px,#0065ff 132px,#001fff 179px,#0013ff 404px,#0032ff 430px,#0032ff 508px)"></i><i style="left:636px;width:1px;background:linear-gradient(#00c0ff 0px,#00baff 96px,#06f 132px,#02f 179px,#0012ff 403px,#0032ff 430px,#0032ff 508px)"></i><i style="left:637px;width:1px;background:linear-gradient(#00c0ff 0px,#0bf 96px,#0068ff 131px,#0024ff 180px,#0015ff 308px,#0014ff 404px,#0032ff 430px,#03f 508px)"></i><i style="left:638px;width:1px;background:linear-gradient(#00c2ff 0px,#00bfff 95px,#006bff 130px,#0027ff 180px,#0016ff 273px,#0015ff 404px,#0032ff 430px,#03f 508px)"></i><i style="left:639px;width:1px;background:linear-gradient(#00c3ff 0px,#00c0ff 95px,#006cff 130px,#0029ff 180px,#0016ff 261px,#0015ff 404px,#0032ff 430px,#03f 508px)"></i><i style="left:640px;width:1px;background:linear-gradient(#00c3ff 0px,#00c1ff 95px,#006eff 129px,#002cff 180px,#0016ff 255px,#0016ff 404px,#0032ff 430px,#03f 508px)"></i><i style="left:641px;width:1px;background:linear-gradient(#00c4ff 0px,#00c2ff 95px,#006fff 129px,#002eff 181px,#0016ff 251px,#0016ff 404px,#0032ff 430px,#03f 508px)"></i><i style="left:642px;width:1px;background:linear-gradient(#00c6ff 0px,#00c3ff 95px,#0071ff 128px,#0031ff 181px,#0015ff 248px,#0018ff 405px,#0032ff 431px,#0034ff 508px)"></i><i style="left:643px;width:1px;background:linear-gradient(#00c6ff 0px,#00c4ff 95px,#0072ff 128px,#03f 182px,#0015ff 247px,#0018ff 405px,#0032ff 431px,#0034ff 508px)"></i><i style="left:644px;width:1px;background:linear-gradient(#00c7ff 0px,#00c5ff 95px,#0073ff 128px,#0035ff 182px,#0014ff 245px,#0019ff 405px,#0032ff 431px,#0034ff 508px)"></i><i style="left:645px;width:1px;background:linear-gradient(#00cdff 0px,#00c8ff 96px,#0075ff 129px,#0036ff 182px,#0014ff 245px,#0019ff 405px,#0032ff 431px,#0034ff 508px)"></i><i style="left:646px;width:1px;background:linear-gradient(#00d6ff 0px,#00d3ff 96px,#008fff 121px,#0068ff 139px,#0034ff 183px,#0014ff 245px,#001aff 405px,#03f 431px,#0034ff 508px)"></i><i style="left:647px;width:1px;background:linear-gradient(#00dfff 0px,#00dcff 97px,#00bdff 110px,#006cff 137px,#0034ff 182px,#0014ff 245px,#001aff 405px,#03f 431px,#0034ff 508px)"></i><i style="left:648px;width:1px;background:linear-gradient(#00e9ff 0px,#00e7ff 97px,#00d3ff 107px,#006fff 136px,#03f 182px,#0014ff 246px,#001bff 405px,#03f 431px,#0034ff 508px)"></i><i style="left:649px;width:1px;background:linear-gradient(#00f2ff 0px,#00f0ff 99px,#00e4ff 106px,#008eff 128px,#0071ff 136px,#0032ff 181px,#0014ff 246px,#001cff 405px,#03f 431px,#0034ff 508px)"></i><i style="left:650px;width:1px;background:linear-gradient(#00fbff 0px,#00faff 103px,#00a8ff 124px,#0074ff 135px,#0031ff 181px,#0014ff 246px,#001cff 405px,#0034ff 431px,#0034ff 508px)"></i><i style="left:651px;width:1px;background:linear-gradient(#00fffa 0px,#00fff7 104px,#00f3ff 109px,#00b1ff 124px,#0075ff 135px,#0031ff 180px,#0014ff 247px,#001dff 405px,#0034ff 431px,#0034ff 508px)"></i><i style="left:652px;width:1px;background:linear-gradient(#00ffea 0px,#00ffeb 100px,#00fff1 105px,#00f8ff 110px,#00b7ff 124px,#0078ff 135px,#0031ff 180px,#0016ff 248px,#001eff 405px,#0034ff 432px,#0034ff 508px)"></i><i style="left:653px;width:1px;background:linear-gradient(#00ffd4 0px,#00ffd4 84px,#00ffea 105px,#00f8ff 111px,#00b4ff 125px,#007cff 135px,#0032ff 180px,#001aff 250px,#0020ff 406px,#0035ff 432px,#0034ff 508px)"></i><i style="left:654px;width:1px;background:linear-gradient(#00ffbe 0px,#00ffbd 80px,#00ffdb 102px,#00fdff 111px,#00b1ff 126px,#0080ff 135px,#0034ff 179px,#001eff 254px,#0021ff 406px,#0035ff 432px,#0034ff 508px)"></i><i style="left:655px;width:1px;background:linear-gradient(#00ffa8 0px,#00ffa6 79px,#00ffc7 98px,#00ffe7 107px,#00f9ff 113px,#009dff 130px,#0083ff 135px,#0035ff 179px,#02f 259px,#02f 406px,#0035ff 432px,#0034ff 508px)"></i><i style="left:656px;width:1px;background:linear-gradient(#00ff93 0px,#00ff8f 78px,#00ffb8 97px,#00ffe7 108px,#00fdff 113px,#0087ff 135px,#0037ff 179px,#0025ff 270px,#0023ff 406px,#0036ff 433px,#0034ff 508px)"></i><i style="left:657px;width:1px;background:linear-gradient(#00ff7d 0px,#00ff79 78px,#00ffa7 96px,#00fcff 114px,#008bff 135px,#0038ff 179px,#0027ff 300px,#0024ff 406px,#0036ff 433px,#0034ff 508px)"></i><i style="left:658px;width:1px;background:linear-gradient(#00ff67 0px,#00ff61 77px,#0f9 96px,#00fbff 115px,#008eff 135px,#003aff 178px,#0023ff 403px,#0036ff 433px,#0034ff 508px)"></i><i style="left:659px;width:1px;background:linear-gradient(#00ff51 0px,#00ff4a 77px,#00ff86 95px,#0ff 115px,#0092ff 135px,#003bff 178px,#0026ff 406px,#0037ff 434px,#0034ff 508px)"></i><i style="left:660px;width:1px;background:linear-gradient(#00ff41 0px,#00ff3b 77px,#00ff7a 95px,#00fffd 116px,#0096ff 135px,#003dff 178px,#0027ff 406px,#0036ff 435px,#0034ff 508px)"></i><i style="left:661px;width:1px;background:linear-gradient(#00ff37 0px,#0f3 77px,#00ff68 93px,#00fffe 118px,#09f 135px,#0040ff 178px,#0029ff 407px,#0035ff 438px,#0035ff 508px)"></i><i style="left:662px;width:1px;background:linear-gradient(#00ff2d 0px,#00ff2e 78px,#00ff4d 89px,#00ff7d 98px,#00fffe 120px,#009dff 135px,#0042ff 178px,#002aff 408px,#0035ff 442px,#0035ff 508px)"></i><i style="left:663px;width:1px;background:linear-gradient(#00ff23 0px,#00ff25 78px,#00ff3e 88px,#00ff7c 99px,#00feff 122px,#00a1ff 135px,#04f 178px,#002bff 409px,#0034ff 454px,#0035ff 508px)"></i><i style="left:664px;width:1px;background:linear-gradient(#00ff19 0px,#00ff1e 79px,#00ff2e 87px,#00fffe 123px,#00a7ff 134px,#0047ff 178px,#002cff 410px,#0036ff 508px)"></i><i style="left:665px;width:1px;background:linear-gradient(#00ff0f 0px,#00ff16 80px,#00ff23 87px,#00ffbf 114px,#00ffec 122px,#00f8ff 125px,#00abff 134px,#0049ff 178px,#002dff 412px,#0036ff 508px)"></i><i style="left:666px;width:1px;background:linear-gradient(#00ff05 0px,#00ff10 84px,#00ff18 87px,#00ff95 108px,#00ffe1 122px,#00fffd 125px,#00aeff 134px,#004cff 178px,#002eff 415px,#0036ff 508px)"></i><i style="left:667px;width:1px;background:linear-gradient(#05ff00 0px,#00ff06 86px,#00ff7c 105px,#00ffd7 122px,#00fffe 126px,#00b2ff 134px,#004eff 178px,#002fff 419px,#0037ff 508px)"></i><i style="left:668px;width:1px;background:linear-gradient(#0cff00 0px,#00ff04 87px,#00ff70 105px,#00ffc6 122px,#0ff 128px,#00c7ff 134px,#05f 178px,#0030ff 419px,#0037ff 508px)"></i><i style="left:669px;width:1px;background:linear-gradient(#1f0 0px,#00ff05 88px,#00ff6a 107px,#00ffaf 122px,#00feff 132px,#00e7ff 136px,#0061ff 177px,#0047ff 248px,#0032ff 433px,#0036ff 508px)"></i><i style="left:670px;width:1px;background:linear-gradient(#16ff00 0px,#05ff00 87px,#00ff20 95px,#00ff75 114px,#00ff9f 123px,#0fe 135px,#00f9ff 141px,#006cff 177px,#004aff 237px,#0034ff 444px,#0035ff 508px)"></i><i style="left:671px;width:1px;background:linear-gradient(#1bff00 0px,#09ff00 87px,#00ff07 92px,#00ff5b 112px,#00ff8c 124px,#00ffe3 141px,#00fcff 148px,#0078ff 177px,#004cff 233px,#0035ff 468px,#0034ff 508px)"></i><i style="left:672px;width:1px;background:linear-gradient(#20ff00 0px,#0aff00 89px,#00ff06 94px,#00ff58 117px,#00ffc1 141px,#00fbff 154px,#0083ff 177px,#004dff 231px,#03f 508px)"></i><i style="left:673px;width:1px;background:linear-gradient(#25ff00 0px,#10ff00 91px,#00ff06 97px,#00ff82 136px,#00fdff 158px,#008fff 177px,#004fff 230px,#0032ff 508px)"></i><i style="left:674px;width:1px;background:linear-gradient(#76ff00 0px,#6f0 76px,#42ff00 85px,#2fff00 90px,#00ff04 103px,#00ff63 135px,#00fffe 160px,#0095ff 177px,#0050ff 230px,#0032ff 508px)"></i><i style="left:675px;width:1px;background:linear-gradient(#ffeb00 0px,#fff300 75px,#f1ff00 78px,#d8ff00 81px,#6eff00 88px,#04ff00 108px,#00ff56 135px,#00fff6 160px,#00ebff 164px,#0096ff 176px,#0050ff 230px,#0032ff 508px)"></i><i style="left:676px;width:1px;background:linear-gradient(#ff4e00 0px,#ff5100 75px,#ffa500 81px,#fff000 84px,#f5ff00 85px,#af0 88px,#21ff00 107px,#00ff04 117px,#00ff4f 136px,#00ffd8 157px,#00fffe 162px,#0096ff 176px,#0050ff 230px,#0032ff 508px)"></i><i style="left:677px;width:1px;background:linear-gradient(#f00 0px,#f00 75px,#ff5800 81px,#fff500 87px,#e4ff00 89px,#52ff00 103px,#30ff00 108px,#00ff02 120px,#00ff3b 135px,#00ffd0 157px,#0ff 163px,#009aff 176px,#0050ff 229px,#0032ff 508px)"></i><i style="left:678px;width:1px;background:linear-gradient(#f00 0px,#f00 75px,#ff3f00 81px,#ffd000 89px,#fffc00 92px,#82ff00 100px,#69ff00 102px,#36ff00 109px,#08ff00 118px,#00ff0c 125px,#00ff2c 135px,#00ffe0 160px,#0ff 164px,#00a1ff 176px,#0050ff 229px,#0032ff 508px)"></i><i style="left:679px;width:1px;background:linear-gradient(#f00 0px,#f00 75px,#ff3100 82px,#ff7400 88px,#fffb00 95px,#80ff00 101px,#25ff00 113px,#0eff00 117px,#00ff07 127px,#00ff1e 135px,#0ff 165px,#00a9ff 176px,#0050ff 229px,#0032ff 508px)"></i><i style="left:680px;width:1px;background:linear-gradient(#f00 0px,#ff0400 77px,#ff2700 88px,#fc0 95px,#fcff00 97px,#8fff00 101px,#13ff00 116px,#00ff06 133px,#00ff26 138px,#0ff 166px,#00b0ff 176px,#0050ff 228px,#0032ff 508px)"></i><i style="left:681px;width:1px;background:linear-gradient(#f00 0px,#f00 88px,#ffa200 95px,#fff300 98px,#f0ff00 99px,#baff00 101px,#2f0 116px,#01ff00 134px,#00fcff 168px,#00bcff 177px,#0052ff 228px,#03f 508px)"></i><i style="left:682px;width:1px;background:linear-gradient(#f00 0px,#f00 88px,#ff7e00 95px,#fffc00 101px,#fcff00 102px,#47ff00 115px,#13ff00 127px,#00ff04 135px,#0ff 170px,#00d0ff 177px,#0056ff 228px,#0034ff 508px)"></i><i style="left:683px;width:1px;background:linear-gradient(#f00 0px,#f00 88px,#ff6900 96px,#ffb400 101px,#ffb800 102px,#fffc00 106px,#6dff00 114px,#47ff00 119px,#18ff00 128px,#00ff01 135px,#00ffb4 162px,#00fcff 173px,#00e3ff 177px,#005aff 227px,#0034ff 508px)"></i><i style="left:684px;width:1px;background:linear-gradient(#f00 0px,#f00 88px,#ff6c00 101px,#ff6f00 102px,#fbff00 109px,#89ff00 114px,#2f0 127px,#00ff03 136px,#0f8 158px,#00faff 176px,#005eff 227px,#0036ff 508px)"></i><i style="left:685px;width:1px;background:linear-gradient(#f00 0px,#ff0500 90px,#ff2500 102px,#ffb800 108px,#ffed00 110px,#f6ff00 111px,#a6ff00 114px,#2eff00 126px,#00ff05 137px,#00ff72 157px,#00fff3 177px,#00f6ff 183px,#0062ff 227px,#0036ff 508px)"></i><i style="left:686px;width:1px;background:linear-gradient(#f00 0px,#ff0400 42px,#ff0b00 50px,#ff0800 81px,#ff1900 102px,#ffae00 108px,#ff0 111px,#aeff00 114px,#3fff00 126px,#00ff02 142px,#00ff3e 153px,#00ffd2 173px,#00fffb 181px,#0064ff 227px,#0037ff 508px)"></i><i style="left:687px;width:1px;background:linear-gradient(#f00 0px,#f00 40px,#ff2500 46px,#ff0e00 77px,#ff4b00 102px,#fffe00 110px,#a1ff00 114px,#8f0 116px,#59ff00 127px,#4eff00 135px,#0cff00 149px,#00ff06 151px,#00ffa6 167px,#00fff6 179px,#00f3ff 183px,#00bdff 198px,#0064ff 227px,#0037ff 508px)"></i><i style="left:688px;width:1px;background:linear-gradient(#f00 0px,#f00 40px,#ff3f00 46px,#ff1300 76px,#ff7d00 102px,#faff00 109px,#95ff00 114px,#7aff00 116px,#7f0 128px,#7dff00 135px,#49ff00 148px,#00ff01 154px,#00ff9c 166px,#0ff 180px,#00d6ff 187px,#0064ff 227px,#0037ff 508px)"></i><i style="left:689px;width:1px;background:linear-gradient(#f00 0px,#f00 40px,#ff5800 46px,#ff1a00 76px,#ffaf00 102px,#fdff00 107px,#6bff00 116px,#b0ff00 134px,#7cff00 148px,#02ff00 156px,#00ff98 166px,#00faff 180px,#00cbff 187px,#0064ff 228px,#0037ff 508px)"></i><i style="left:690px;width:1px;background:linear-gradient(#ff0c00 0px,#ff0500 40px,#ff5800 46px,#ff1a00 76px,#ff8000 93px,#ffc800 102px,#fff600 105px,#e9ff00 107px,#5eff00 116px,#c5ff00 134px,#92ff00 148px,#00ff05 157px,#00ff9c 166px,#00fbff 179px,#00c2ff 187px,#0064ff 228px,#0037ff 508px)"></i><i style="left:691px;width:1px;background:linear-gradient(#ff2500 0px,#ff0f00 40px,#ff3f00 46px,#ff1300 76px,#ff5000 91px,#ffd800 103px,#fff900 105px,#a3ff00 111px,#51ff00 116px,#c0ff00 134px,#8bff00 148px,#02ff00 156px,#00ffa9 166px,#00faff 178px,#0bf 187px,#0064ff 228px,#0037ff 508px)"></i><i style="left:692px;width:1px;background:linear-gradient(#ff3f00 0px,#ff1b00 41px,#ff2400 48px,#ff0e00 77px,#ff3000 91px,#ffd900 103px,#fffc00 105px,#45ff00 116px,#bcff00 134px,#83ff00 148px,#0aff00 155px,#00ff19 157px,#00ffb5 166px,#0ff 176px,#00b3ff 187px,#0064ff 228px,#0037ff 508px)"></i><i style="left:693px;width:1px;background:linear-gradient(#ff5800 0px,#ff1c00 42px,#ff0c00 48px,#ff0800 81px,#ff1000 91px,#fffe00 105px,#38ff00 116px,#b7ff00 134px,#7cff00 148px,#0f0 155px,#00ffc2 166px,#00fcff 175px,#00acff 187px,#0064ff 229px,#0037ff 508px)"></i><i style="left:694px;width:1px;background:linear-gradient(#ff7100 0px,#ff4800 37px,#ff2f00 41px,#f00 46px,#f00 88px,#ff0f00 91px,#ff8a00 97px,#f9ff00 104px,#2cff00 116px,#9eff00 134px,#5bff00 148px,#08ff00 153px,#00ff18 155px,#00ffcd 166px,#00fffe 173px,#00a9ff 187px,#0064ff 229px,#0037ff 508px)"></i><i style="left:695px;width:1px;background:linear-gradient(#ff8900 0px,#ff8a00 36px,#ff3c00 42px,#f00 46px,#f00 88px,#ff2e00 91px,#ffb500 96px,#faff00 101px,#4eff00 112px,#1fff00 116px,#71ff00 134px,#2f0 148px,#05ff00 150px,#00ffae 163px,#00ffd7 166px,#00fdff 172px,#00b8ff 184px,#00a3ff 192px,#0064ff 229px,#0037ff 508px)"></i><i style="left:696px;width:1px;background:linear-gradient(#ffa200 0px,#ffc700 36px,#f00 46px,#f00 88px,#ff4d00 91px,#fff000 96px,#ff0 97px,#36ff00 111px,#13ff00 116px,#43ff00 134px,#00ff04 145px,#00ff24 149px,#00ffe8 167px,#00faff 171px,#00cfff 178px,#00abff 189px,#0064ff 229px,#0037ff 508px)"></i><i style="left:697px;width:1px;background:linear-gradient(#fb0 0px,#faff00 36px,#f00 46px,#f00 88px,#ffdf00 94px,#f8ff00 95px,#d2ff00 96px,#12ff00 111px,#08ff00 118px,#17ff00 134px,#0f0 137px,#00ff76 152px,#00feff 169px,#00caff 177px,#0064ff 226px,#0037ff 508px)"></i><i style="left:698px;width:1px;background:linear-gradient(#ffe700 0px,#f9ff00 14px,#c2ff00 36px,#f4ff00 38px,#fff000 39px,#ff4000 46px,#ff4a00 70px,#ff5000 80px,#ff4b00 88px,#fffe00 93px,#95ff00 96px,#00ff04 111px,#00ff0f 134px,#00ffce 160px,#00fbff 168px,#00c4ff 177px,#0068ff 229px,#0038ff 508px)"></i><i style="left:699px;width:1px;background:linear-gradient(#d8ff00 0px,#8eff00 36px,#f7ff00 42px,#ffe300 44px,#ffc000 46px,#ffcf00 66px,#fff800 76px,#ffe200 88px,#fffb00 89px,#57ff00 96px,#01ff00 109px,#00ff0b 112px,#00ff0c 118px,#00ff34 135px,#00ffdc 160px,#00f9ff 167px,#00c2ff 177px,#00a2ff 191px,#0072ff 230px,#0039ff 508px)"></i><i style="left:700px;width:1px;background:linear-gradient(#9aff00 0px,#5aff00 36px,#bdff00 46px,#adff00 65px,#62ff00 76px,#84ff00 88px,#19ff00 96px,#00ff05 106px,#00ff13 112px,#00ff10 117px,#00ff51 135px,#00ffeb 160px,#00faff 165px,#00b8ff 179px,#009eff 189px,#007aff 235px,#003aff 508px)"></i><i style="left:701px;width:1px;background:linear-gradient(#5bff00 0px,#28ff00 37px,#3cff00 47px,#25ff00 65px,#00ff01 69px,#0f4 76px,#00ff14 89px,#00ff24 98px,#00ff14 115px,#00ff1b 118px,#00ff91 141px,#00fff9 160px,#00d9ff 170px,#09f 187px,#0079ff 275px,#003bff 508px)"></i><i style="left:702px;width:1px;background:linear-gradient(#45ff00 0px,#00ff05 45px,#00ff2c 65px,#00ff9c 76px,#00ff50 94px,#00ff1d 116px,#00fffc 159px,#0098ff 187px,#003cff 508px)"></i><i style="left:703px;width:1px;background:linear-gradient(#57ff00 0px,#1cff00 31px,#00ff06 43px,#00ff49 65px,#00ff92 73px,#00ffa7 76px,#00ff5d 95px,#0f3 111px,#00ff35 117px,#0ff 160px,#009dff 188px,#008dff 222px,#003cff 508px)"></i><i style="left:704px;width:1px;background:linear-gradient(#69ff00 0px,#2aff00 29px,#00ff03 41px,#00ff5c 63px,#00ff78 67px,#00ffa2 72px,#00ffb2 76px,#00ff4f 104px,#00ff40 110px,#00ff47 117px,#00fffe 160px,#00a0ff 189px,#0093ff 203px,#003cff 508px)"></i><i style="left:705px;width:1px;background:linear-gradient(#7bff00 0px,#36ff00 28px,#00ff06 41px,#00ff63 60px,#00ff93 67px,#00ffb7 71px,#00ffba 77px,#00ff4c 110px,#00ff61 119px,#00feff 161px,#00a0ff 191px,#0094ff 201px,#003cff 508px)"></i><i style="left:706px;width:1px;background:linear-gradient(#8dff00 0px,#5bff00 20px,#3fff00 28px,#00ff03 40px,#00ff72 59px,#00ffd0 71px,#00ffb2 84px,#0f5 109px,#00fbff 162px,#0095ff 197px,#003cff 508px)"></i><i style="left:707px;width:1px;background:linear-gradient(#7dff00 0px,#50ff00 18px,#2eff00 28px,#00ff04 37px,#00ff7e 58px,#00ffe2 71px,#00ffae 90px,#00ff65 109px,#00fdff 160px,#0096ff 198px,#003cff 508px)"></i><i style="left:708px;width:1px;background:linear-gradient(#4bff00 0px,#08ff00 27px,#00ff10 32px,#00ff90 58px,#00ffef 71px,#00ffe5 79px,#00ff7b 109px,#00fbff 157px,#00adff 186px,#0096ff 199px,#003cff 508px)"></i><i style="left:709px;width:1px;background:linear-gradient(#19ff00 0px,#00ff06 15px,#00ff30 30px,#00ff9d 57px,#00fffd 72px,#00fff9 79px,#00ff91 109px,#00fbff 153px,#00b2ff 180px,#0097ff 200px,#003cff 508px)"></i><i style="left:710px;width:1px;background:linear-gradient(#00ff19 0px,#00ff5d 31px,#00ffb0 57px,#00fcff 70px,#00e7ff 76px,#00fffb 85px,#00ffa7 109px,#00fff5 144px,#00f6ff 151px,#00acff 179px,#0096ff 205px,#003cff 508px)"></i><i style="left:711px;width:1px;background:linear-gradient(#00ff4b 0px,#00ffa3 44px,#00ffc4 57px,#00fbff 68px,#00d2ff 76px,#00fffa 91px,#00ffbf 110px,#00fff8 141px,#00eaff 151px,#00a4ff 178px,#003cff 508px)"></i><i style="left:712px;width:1px;background:linear-gradient(#00ff7c 0px,#00ffde 57px,#00f9ff 65px,#00c2ff 76px,#00fffc 96px,#00ffd2 110px,#00fff0 137px,#00f8ff 146px,#00a1ff 178px,#003cff 508px)"></i><i style="left:713px;width:1px;background:linear-gradient(#00ffac 0px,#00fffa 54px,#00f7ff 59px,#00b7ff 76px,#00fffb 103px,#00ffe3 111px,#0fd 124px,#00fffa 145px,#00edff 155px,#00b4ff 170px,#00a2ff 180px,#008aff 225px,#003cff 508px)"></i><i style="left:714px;width:1px;background:linear-gradient(#0fd 0px,#00f9ff 27px,#00e0ff 51px,#00d5ff 60px,#00aeff 77px,#00fffe 108px,#00ffdb 122px,#00fff5 149px,#00f9ff 155px,#00bcff 168px,#00a2ff 182px,#08f 215px,#003cff 508px)"></i><i style="left:715px;width:1px;background:linear-gradient(#00f1ff 0px,#00b9ff 46px,#00b7ff 60px,#00a3ff 77px,#00e6ff 107px,#00fffb 113px,#00ffdb 122px,#00ffec 153px,#00faff 157px,#00c0ff 167px,#009fff 186px,#0083ff 212px,#003cff 508px)"></i><i style="left:716px;width:1px;background:linear-gradient(#00c0ff 0px,#008fff 45px,#009aff 66px,#09f 78px,#00d1ff 107px,#00fffd 115px,#00ffdb 122px,#00ffde 153px,#00fdff 158px,#00c3ff 167px,#007fff 208px,#003cff 508px)"></i><i style="left:717px;width:1px;background:linear-gradient(#0090ff 0px,#0069ff 39px,#006aff 48px,#00b5ff 106px,#00feff 116px,#00ffdc 121px,#00ffcf 153px,#0ff 159px,#00c7ff 166px,#007aff 209px,#003cff 508px)"></i><i style="left:718px;width:1px;background:linear-gradient(#07f 0px,#05f 39px,#0057ff 48px,#008fff 86px,#00a7ff 106px,#00fffe 118px,#00ffe8 121px,#00ffd3 153px,#00fcff 159px,#00c4ff 166px,#0078ff 209px,#003cff 508px)"></i><i style="left:719px;width:1px;background:linear-gradient(#0076ff 0px,#0056ff 44px,#00a7ff 107px,#00feff 121px,#00ffe8 153px,#00faff 157px,#0bf 167px,#007bff 209px,#003cff 508px)"></i><i style="left:720px;width:1px;background:linear-gradient(#0074ff 0px,#005bff 46px,#009fff 107px,#00e7ff 122px,#00fffe 153px,#00b4ff 167px,#007dff 208px,#003cff 508px)"></i><i style="left:721px;width:1px;background:linear-gradient(#0072ff 0px,#0060ff 48px,#0098ff 107px,#00cfff 122px,#00eaff 153px,#00abff 168px,#0089ff 196px,#007bff 225px,#003cff 508px)"></i><i style="left:722px;width:1px;background:linear-gradient(#0070ff 0px,#0064ff 53px,#0083ff 95px,#0098ff 110px,#00b8ff 124px,#00d1ff 154px,#00a1ff 170px,#008aff 193px,#0070ff 282px,#003cff 508px)"></i><i style="left:723px;width:1px;background:linear-gradient(#006fff 0px,#0067ff 68px,#0097ff 117px,#00bdff 154px,#008fff 178px,#003cff 508px)"></i><i style="left:724px;width:1px;background:linear-gradient(#007eff 0px,#008dff 72px,#00c2ff 138px,#0bf 155px,#0090ff 178px,#003cff 508px)"></i><i style="left:725px;width:1px;background:linear-gradient(#009eff 0px,#00c8ff 61px,#00f0ff 97px,#00fff8 130px,#00fff4 136px,#00f9ff 139px,#00e1ff 144px,#00cbff 156px,#00a3ff 170px,#008bff 197px,#003cff 508px)"></i><i style="left:726px;width:1px;background:linear-gradient(#00beff 0px,#00f9ff 50px,#00ffe9 67px,#00ffc3 92px,#00ffae 136px,#00fff5 143px,#00f4ff 150px,#00afff 168px,#008eff 199px,#003cff 508px)"></i><i style="left:727px;width:1px;background:linear-gradient(#00deff 0px,#00fff9 26px,#00ffc6 52px,#00ff75 90px,#00ff69 136px,#00ffcf 143px,#00fcff 154px,#00baff 167px,#0090ff 201px,#003cff 508px)"></i><i style="left:728px;width:1px;background:linear-gradient(#00feff 0px,#00ffa9 42px,#00ff3c 80px,#00ff27 90px,#00ff23 136px,#00ffa9 143px,#00feff 157px,#00c2ff 167px,#0093ff 200px,#003cff 508px)"></i><i style="left:729px;width:1px;background:linear-gradient(#00fff0 0px,#00ffa7 33px,#00ff5c 50px,#00ff16 68px,#06ff00 73px,#53ff00 87px,#5f0 134px,#4f0 136px,#10ff00 138px,#00ff09 139px,#00ff6d 143px,#00feff 161px,#00d5ff 167px,#0095ff 198px,#003cff 508px)"></i><i style="left:730px;width:1px;background:linear-gradient(#00fff0 0px,#00ffba 31px,#00ff40 45px,#04ff00 62px,#14ff00 66px,#fcff00 86px,#ff0 134px,#cdff00 136px,#04ff00 142px,#00ff35 144px,#0ff 165px,#00ebff 169px,#0096ff 197px,#003cff 508px)"></i><i style="left:731px;width:1px;background:linear-gradient(#00fff0 0px,#00ffc3 31px,#00ff17 44px,#03ff00 50px,#49ff00 66px,#f9ff00 76px,#ffbf00 80px,#ff5600 86px,#f50 134px,#fbff00 138px,#10ff00 144px,#00ff07 146px,#00ffeb 166px,#00faff 172px,#0096ff 197px,#003cff 508px)"></i><i style="left:732px;width:1px;background:linear-gradient(#00ffef 0px,#00ffbc 31px,#00ff05 43px,#7dff00 62px,#8dff00 66px,#fcff00 72px,#f00 86px,#f00 134px,#ffea00 139px,#e8ff00 140px,#3eff00 144px,#00ff05 149px,#00ffda 166px,#00f9ff 175px,#0096ff 197px,#003cff 508px)"></i><i style="left:733px;width:1px;background:linear-gradient(#00ffed 0px,#00ffb9 27px,#00ffa5 31px,#0f0 42px,#2f0 44px,#cfff00 61px,#dfff00 66px,#fcff00 68px,#f00 86px,#f00 134px,#ff4600 136px,#ffd700 139px,#f9ff00 140px,#56ff00 144px,#23ff00 147px,#00ff05 150px,#00ffd6 166px,#00fcff 175px,#0096ff 197px,#003cff 508px)"></i><i style="left:734px;width:1px;background:linear-gradient(#00ffeb 0px,#00ffab 27px,#00ff8e 31px,#02ff00 41px,#47ff00 45px,#ebff00 57px,#fff600 59px,#ffd800 61px,#ffcd00 66px,#f00 86px,#f00 134px,#ff3200 136px,#fff300 140px,#e4ff00 141px,#6eff00 144px,#3fff00 146px,#00ff05 151px,#00ffd2 166px,#00faff 176px,#0096ff 197px,#003cff 508px)"></i><i style="left:735px;width:1px;background:linear-gradient(#00ffe9 0px,#00ffb2 22px,#00ffa7 26px,#00ff68 32px,#00ff07 39px,#15ff00 41px,#82ff00 47px,#f8ff00 54px,#ffcd00 57px,#ff8200 61px,#ff7500 67px,#f00 86px,#f00 134px,#ff1e00 136px,#ffe200 140px,#f7ff00 141px,#86ff00 144px,#4eff00 146px,#07ff00 151px,#00ff24 154px,#00ffce 166px,#00fdff 176px,#0096ff 197px,#003cff 508px)"></i><i style="left:736px;width:1px;background:linear-gradient(#00ffe7 0px,#00ffd1 9px,#00ff9c 26px,#0f0 38px,#28ff00 41px,#f3ff00 51px,#fff700 52px,#ff2b00 61px,#ff1900 74px,#f00 89px,#ff0500 135px,#ff0a00 136px,#ffd100 140px,#fff400 141px,#e6ff00 142px,#5dff00 146px,#04ff00 152px,#00ffca 166px,#00faff 177px,#0096ff 197px,#003cff 508px)"></i><i style="left:737px;width:1px;background:linear-gradient(#00ffe7 0px,#00ffd4 8px,#0f9 26px,#05ff00 39px,#3f0 42px,#feff00 52px,#ff2d00 61px,#ff0300 80px,#f00 131px,#ff2700 136px,#ffe200 140px,#faff00 141px,#51ff00 146px,#00ff05 152px,#00ffcd 166px,#00fdff 176px,#0096ff 197px,#003cff 508px)"></i><i style="left:738px;width:1px;background:linear-gradient(#00ffea 0px,#00ffd1 10px,#00ffa0 26px,#00ff2b 38px,#00ff06 41px,#50ff00 46px,#e2ff00 54px,#f8ff00 55px,#ffdc00 57px,#ff8700 61px,#ff2f00 76px,#f00 81px,#f00 131px,#ff7400 136px,#fe0 139px,#e7ff00 140px,#2cff00 146px,#05ff00 149px,#00ffd7 166px,#00fcff 175px,#0096ff 197px,#003cff 508px)"></i><i style="left:739px;width:1px;background:linear-gradient(#00ffec 0px,#00ffc9 14px,#00ffa0 27px,#00ff59 37px,#00ff0f 43px,#00ff01 44px,#87ff00 53px,#f8ff00 59px,#ffd800 62px,#ff5e00 75px,#f00 81px,#f00 131px,#ffe400 137px,#f8ff00 138px,#96ff00 141px,#06ff00 146px,#00ff34 151px,#00ffe1 166px,#00f9ff 174px,#0096ff 197px,#003cff 508px)"></i><i style="left:740px;width:1px;background:linear-gradient(#00ffef 0px,#00ffb5 23px,#00ff85 36px,#00ff01 48px,#31ff00 52px,#d0ff00 62px,#fff900 66px,#ff8300 75px,#f00 81px,#f00 131px,#ffd900 135px,#efff00 136px,#15ff00 144px,#00ff05 145px,#00ff1f 146px,#00ffeb 166px,#00faff 172px,#0096ff 197px,#003cff 508px)"></i><i style="left:741px;width:1px;background:linear-gradient(#00fff7 0px,#00ff9e 36px,#00ff04 52px,#fffc00 71px,#ffc400 75px,#ff3b00 81px,#ff2700 123px,#ff2500 131px,#f9ff00 135px,#c1ff00 136px,#0bff00 144px,#00ff0c 145px,#00ff23 146px,#00ffe0 167px,#00fcff 175px,#00a5ff 197px,#08f 237px,#003cff 508px)"></i><i style="left:742px;width:1px;background:linear-gradient(#00f9ff 0px,#00fff6 8px,#00ffae 36px,#00ff2b 52px,#03ff00 56px,#df0 75px,#fffc00 77px,#ffb200 81px,#ff9200 112px,#ff6d00 128px,#ff6f00 131px,#fff400 134px,#deff00 135px,#b2ff00 136px,#00ff05 146px,#00ffb7 167px,#00feff 183px,#00c2ff 198px,#0086ff 229px,#003cff 508px)"></i><i style="left:743px;width:1px;background:linear-gradient(#00ebff 0px,#00fffa 12px,#00ffb7 37px,#00ff48 53px,#01ff00 61px,#8eff00 76px,#d5ff00 81px,#fffb00 110px,#ffb400 127px,#ffb900 131px,#fffa00 133px,#a3ff00 136px,#19ff00 146px,#01ff00 149px,#00ff93 168px,#00fffd 190px,#0082ff 227px,#003cff 508px)"></i><i style="left:744px;width:1px;background:linear-gradient(#0df 0px,#00fffa 18px,#00ffc9 37px,#00ff64 55px,#02ff00 70px,#37ff00 77px,#5eff00 81px,#9fff00 110px,#fffc00 127px,#fbff00 131px,#94ff00 136px,#20ff00 149px,#00ff05 154px,#0f7 170px,#00ffe0 191px,#00fdff 198px,#007eff 227px,#003cff 508px)"></i><i style="left:745px;width:1px;background:linear-gradient(#00cfff 0px,#00fffb 24px,#00ffce 40px,#00ff24 79px,#05ff00 92px,#3bff00 110px,#baff00 127px,#a8ff00 132px,#7cff00 138px,#40ff00 149px,#00ff05 159px,#00ff85 179px,#00feff 203px,#007aff 226px,#003cff 508px)"></i><i style="left:746px;width:1px;background:linear-gradient(#00cbff 0px,#00fffa 28px,#00ff75 76px,#05ff00 108px,#27ff00 112px,#c8ff00 127px,#c9ff00 131px,#a3ff00 147px,#4cff00 162px,#01ff00 170px,#00ff62 181px,#00ffa6 191px,#00fcff 206px,#0080ff 227px,#0073ff 252px,#003cff 508px)"></i><i style="left:747px;width:1px;background:linear-gradient(#00d2ff 0px,#00fffa 30px,#00ff91 77px,#04ff00 105px,#19ff00 109px,#e4ff00 123px,#fff500 125px,#ffc400 128px,#ffb700 129px,#ffd400 148px,#ff0 161px,#6cff00 171px,#00ff05 178px,#00ff82 188px,#00fcff 208px,#0090ff 227px,#07f 238px,#003cff 508px)"></i><i style="left:748px;width:1px;background:linear-gradient(#00d9ff 0px,#00fffa 33px,#00ffb7 76px,#01ff00 103px,#2aff00 109px,#fffc00 121px,#ffb700 124px,#ff3d00 129px,#ff5300 159px,#f50 161px,#fff100 169px,#f7ff00 170px,#2fff00 179px,#00ff05 182px,#00ff6e 188px,#00fffc 209px,#007cff 235px,#003cff 508px)"></i><i style="left:749px;width:1px;background:linear-gradient(#00e4ff 0px,#00fffa 28px,#00ffc0 76px,#02ff00 101px,#40ff00 109px,#ff0 119px,#ffc500 122px,#f00 129px,#f00 159px,#ff1000 161px,#ffa500 167px,#fcff00 171px,#3fff00 179px,#05ff00 182px,#00ff6a 188px,#00fffd 208px,#0078ff 237px,#003cff 508px)"></i><i style="left:750px;width:1px;background:linear-gradient(#00f5ff 0px,#00fff7 17px,#00ffaf 76px,#03ff00 98px,#5bff00 109px,#aeff00 114px,#f7ff00 118px,#ffe300 120px,#ff9200 124px,#f00 129px,#f00 159px,#ff2f00 161px,#ffdb00 166px,#feff00 168px,#0bff00 180px,#00ff07 181px,#00ff68 187px,#00ff90 191px,#00fffd 204px,#00dcff 211px,#0078ff 237px,#003cff 508px)"></i><i style="left:751px;width:1px;background:linear-gradient(#00fff8 0px,#00ff9e 76px,#01ff00 95px,#8cff00 111px,#fffc00 118px,#ff9500 124px,#f00 129px,#f00 159px,#fffa00 165px,#d9ff00 166px,#0bff00 178px,#00ff05 179px,#00ff62 185px,#00ffdf 198px,#00faff 202px,#00d2ff 207px,#0078ff 237px,#003cff 508px)"></i><i style="left:752px;width:1px;background:linear-gradient(#00fffc 0px,#00ffa2 76px,#02ff00 96px,#79ff00 111px,#fffd00 121px,#ffd400 124px,#ff5600 129px,#ff5f00 159px,#fffd00 163px,#8aff00 166px,#04ff00 176px,#00ff76 185px,#0ff 200px,#00c8ff 206px,#0079ff 238px,#003cff 508px)"></i><i style="left:753px;width:1px;background:linear-gradient(#00ebff 0px,#00fff9 23px,#00ffb9 76px,#01ff00 101px,#30ff00 108px,#50ff00 113px,#aeff00 124px,#fcff00 129px,#faff00 140px,#e2ff00 159px,#35ff00 166px,#00ff02 172px,#00ff5e 181px,#0f9 187px,#00faff 200px,#00c6ff 207px,#007dff 238px,#003cff 508px)"></i><i style="left:754px;width:1px;background:linear-gradient(#00d4ff 0px,#00fffa 42px,#00ffd0 76px,#00ff05 107px,#12ff00 115px,#3eff00 126px,#50ff00 130px,#51ff00 138px,#25ff00 159px,#00ff03 163px,#00ff25 167px,#00ff58 177px,#00fffb 198px,#00c6ff 207px,#0080ff 238px,#003cff 508px)"></i><i style="left:755px;width:1px;background:linear-gradient(#00c3ff 0px,#00fffb 58px,#00ffdc 77px,#00ff23 107px,#00ff02 137px,#00ff67 177px,#0ff 199px,#0cf 207px,#0084ff 238px,#003cff 508px)"></i><i style="left:756px;width:1px;background:linear-gradient(#00b9ff 0px,#00fffb 70px,#00ffe8 77px,#00ff2f 107px,#00ff09 129px,#00ff02 137px,#00ff60 177px,#00fdff 201px,#00d9ff 207px,#0087ff 239px,#0071ff 304px,#003cff 508px)"></i><i style="left:757px;width:1px;background:linear-gradient(#00afff 0px,#0ef 68px,#00fffa 76px,#00ff3a 107px,#00ff17 121px,#00ff02 137px,#00ff59 177px,#00fcff 203px,#00e2ff 208px,#008aff 240px,#007eff 256px,#003cff 508px)"></i><i style="left:758px;width:1px;background:linear-gradient(#00a5ff 0px,#00d9ff 67px,#0ff 77px,#00ff42 108px,#00ff1e 119px,#00ff02 137px,#00ff51 177px,#00fbff 205px,#008bff 241px,#007fff 251px,#003cff 508px)"></i><i style="left:759px;width:1px;background:linear-gradient(#009bff 0px,#00c8ff 67px,#0ff 79px,#00ff48 109px,#00ff23 118px,#00ff02 137px,#00ff4a 177px,#00feff 207px,#0086ff 244px,#003cff 508px)"></i><i style="left:760px;width:1px;background:linear-gradient(#0091ff 0px,#00b6ff 67px,#00fffa 82px,#00ff6a 105px,#00ff29 117px,#00ff02 137px,#00ff43 177px,#00fff7 208px,#0ef 215px,#0081ff 246px,#003cff 508px)"></i><i style="left:761px;width:1px;background:linear-gradient(#0087ff 0px,#00a5ff 67px,#00fffb 84px,#00ff84 103px,#00ff2d 117px,#00ff01 137px,#00ff3b 177px,#00ffea 208px,#00f9ff 215px,#0082ff 247px,#003cff 508px)"></i><i style="left:762px;width:1px;background:linear-gradient(#0081ff 0px,#009bff 67px,#00fffc 85px,#00ff2c 117px,#00ff01 137px,#00ff3a 177px,#00ffe6 209px,#00f8ff 217px,#0084ff 247px,#003cff 508px)"></i><i style="left:763px;width:1px;background:linear-gradient(#0080ff 0px,#09f 67px,#00cfff 78px,#00fffc 85px,#00ff24 117px,#00ff01 137px,#00ff39 176px,#00ffe5 210px,#00f9ff 218px,#08f 247px,#007aff 268px,#003cff 508px)"></i><i style="left:764px;width:1px;background:linear-gradient(#007eff 0px,#0098ff 67px,#00c0ff 77px,#00fffd 85px,#00ff8a 100px,#00ff1d 116px,#00ff01 138px,#00ff1a 156px,#00ff43 177px,#00ffe8 212px,#00fbff 219px,#008bff 248px,#007bff 261px,#003cff 508px)"></i><i style="left:765px;width:1px;background:linear-gradient(#007cff 0px,#09f 68px,#00aeff 76px,#00fffe 85px,#00ff9d 96px,#00ff15 116px,#00ff02 139px,#00ff10 151px,#00ff4d 178px,#00ffef 215px,#00f8ff 221px,#008cff 249px,#007aff 259px,#003cff 508px)"></i><i style="left:766px;width:1px;background:linear-gradient(#007aff 0px,#0098ff 69px,#00a4ff 76px,#00fffe 85px,#00ff9c 95px,#00ff0d 116px,#00ff02 143px,#00ff23 160px,#0f5 179px,#00fffd 220px,#0083ff 253px,#0079ff 260px,#003cff 508px)"></i><i style="left:767px;width:1px;background:linear-gradient(#0079ff 0px,#009bff 76px,#0ff 85px,#00ff93 95px,#00ff04 116px,#00ff04 147px,#00ff5d 180px,#00feff 222px,#0078ff 257px,#003cff 508px)"></i><i style="left:768px;width:1px;background:linear-gradient(#07f 0px,#0097ff 70px,#00a0ff 76px,#00feff 83px,#00ff6e 94px,#04ff00 111px,#21ff00 116px,#0bff00 132px,#00ff05 149px,#00ff61 181px,#00fdff 223px,#0078ff 257px,#003cff 508px)"></i><i style="left:769px;width:1px;background:linear-gradient(#0076ff 0px,#0094ff 67px,#00b5ff 76px,#00f6ff 80px,#00ffe5 82px,#00ff1e 94px,#02ff00 99px,#63ff00 114px,#5dff00 117px,#29ff00 127px,#00ff03 151px,#00ff5d 181px,#00feff 223px,#0078ff 257px,#003cff 508px)"></i><i style="left:770px;width:1px;background:linear-gradient(#0074ff 0px,#0090ff 66px,#00caff 76px,#00fffd 79px,#00ff2e 89px,#00ff07 91px,#32ff00 94px,#adff00 114px,#91ff00 118px,#47ff00 126px,#00ff05 154px,#00ff5d 182px,#00fbff 224px,#0078ff 257px,#003cff 508px)"></i><i style="left:771px;width:1px;background:linear-gradient(#0073ff 0px,#008fff 66px,#00deff 76px,#00fff9 78px,#00ff19 87px,#00ff02 88px,#82ff00 94px,#f8ff00 114px,#a5ff00 121px,#64ff00 126px,#01ff00 154px,#00ff59 182px,#00fcff 224px,#0078ff 257px,#003cff 508px)"></i><i style="left:772px;width:1px;background:linear-gradient(#0072ff 0px,#008eff 66px,#00fffd 77px,#00ff14 85px,#0aff00 86px,#d2ff00 94px,#fff900 103px,#fb0 114px,#fff900 118px,#c3ff00 122px,#81ff00 126px,#17ff00 149px,#00ff05 158px,#00ff59 183px,#00fdff 224px,#0078ff 257px,#003cff 508px)"></i><i style="left:773px;width:1px;background:linear-gradient(#0070ff 0px,#008dff 66px,#00fbff 75px,#00ffe8 77px,#0f0 84px,#7aff00 88px,#eaff00 92px,#fff800 93px,#ffdc00 94px,#ff7000 114px,#fffb00 121px,#9dff00 126px,#21ff00 148px,#00ff05 160px,#0f5 183px,#00faff 225px,#0078ff 257px,#003cff 508px)"></i><i style="left:774px;width:1px;background:linear-gradient(#006fff 0px,#008cff 66px,#0ff 74px,#00ffd3 77px,#00ff1a 82px,#0bff00 83px,#9f0 87px,#f6ff00 90px,#ffca00 92px,#ff8c00 94px,#ff2500 114px,#fffc00 123px,#baff00 126px,#2bff00 147px,#00ff03 161px,#00ff56 184px,#00fbff 225px,#0078ff 257px,#003cff 508px)"></i><i style="left:775px;width:1px;background:linear-gradient(#006eff 0px,#008eff 66px,#00fff9 72px,#00ff96 77px,#00ff02 80px,#30ff00 81px,#edff00 87px,#fff600 88px,#ff5300 94px,#f00 114px,#fcff00 126px,#7cff00 147px,#27ff00 176px,#00ff03 181px,#00ff36 188px,#00ffe3 223px,#00faff 230px,#0082ff 257px,#0075ff 278px,#003cff 508px)"></i><i style="left:776px;width:1px;background:linear-gradient(#006eff 0px,#0091ff 66px,#00fffa 70px,#00ff32 77px,#15ff00 78px,#e9ff00 81px,#fcff00 82px,#ff7300 90px,#ff3200 94px,#f00 114px,#ff9b00 126px,#ffe900 148px,#faff00 164px,#e8ff00 175px,#36ff00 186px,#00ff03 194px,#00ff69 209px,#00fcff 237px,#0095ff 258px,#007bff 268px,#003cff 508px)"></i><i style="left:777px;width:1px;background:linear-gradient(#006eff 0px,#0094ff 66px,#00fff9 69px,#00ff19 75px,#0dff00 76px,#32ff00 77px,#eaff00 79px,#ffb800 80px,#ff5c00 81px,#f10 94px,#ff0400 115px,#ff3500 127px,#ff5300 157px,#ff5d00 175px,#fe0 181px,#f8ff00 182px,#97ff00 186px,#00ff02 203px,#00ff37 210px,#00fffc 242px,#0080ff 266px,#003cff 508px)"></i><i style="left:778px;width:1px;background:linear-gradient(#006dff 0px,#0094ff 66px,#00fffc 69px,#05ff00 76px,#2aff00 77px,#dfff00 79px,#ffc500 80px,#ff6a00 81px,#ff5300 111px,#ff1000 120px,#f00 128px,#f00 175px,#ffed00 184px,#f6ff00 185px,#dcff00 186px,#0f0 207px,#00fff7 245px,#00e9ff 250px,#08f 267px,#0074ff 315px,#003cff 508px)"></i><i style="left:779px;width:1px;background:linear-gradient(#006aff 0px,#0090ff 66px,#00faff 70px,#00ff4a 77px,#00ff07 78px,#c0ff00 81px,#fffa00 110px,#fff800 111px,#ff3800 119px,#f00 126px,#f00 175px,#fffa00 186px,#0cff00 207px,#00ff08 210px,#00ffe4 244px,#00fcff 249px,#0095ff 267px,#007fff 279px,#003cff 508px)"></i><i style="left:780px;width:1px;background:linear-gradient(#0068ff 0px,#008cff 66px,#00fdff 73px,#00ffbe 77px,#00ff14 81px,#03ff00 87px,#62ff00 111px,#fffd00 115px,#ff5e00 119px,#f00 126px,#f00 175px,#ffd200 186px,#fffa00 189px,#1fff00 206px,#00ff02 211px,#00ffd8 244px,#00feff 251px,#009fff 268px,#0081ff 277px,#003cff 508px)"></i><i style="left:781px;width:1px;background:linear-gradient(#0065ff 0px,#0089ff 66px,#0cf 77px,#00fffb 80px,#00ffe8 81px,#0f4 111px,#00ff0c 112px,#2cff00 113px,#d3ff00 116px,#fff300 117px,#ff8300 119px,#f00 126px,#f00 175px,#fbff00 192px,#2cff00 206px,#00ff03 213px,#00ffc5 243px,#00faff 254px,#0082ff 276px,#003cff 508px)"></i><i style="left:782px;width:1px;background:linear-gradient(#0064ff 0px,#008eff 76px,#00fffb 93px,#00ff82 111px,#00ff0d 113px,#2dff00 114px,#dcff00 117px,#ffe700 118px,#ffad00 119px,#ff1f00 126px,#f00 149px,#f00 175px,#ffbf00 190px,#f9ff00 195px,#60ff00 206px,#18ff00 217px,#00ff02 220px,#00ff5a 231px,#00fff9 257px,#00d7ff 265px,#0098ff 277px,#0079ff 316px,#003cff 508px)"></i><i style="left:783px;width:1px;background:linear-gradient(#0064ff 0px,#0092ff 76px,#00fffa 90px,#00ff5a 111px,#05ff00 113px,#f3ff00 118px,#ffdb00 119px,#ff5d00 126px,#f00 147px,#f00 175px,#ff9f00 191px,#fdff00 200px,#bcff00 206px,#92ff00 215px,#02ff00 226px,#00ffa2 249px,#00feff 266px,#00c5ff 277px,#0081ff 308px,#003cff 508px)"></i><i style="left:784px;width:1px;background:linear-gradient(#0064ff 0px,#0096ff 76px,#00fdff 87px,#00ff63 105px,#00ff32 111px,#00ff0d 112px,#18ff00 113px,#f5ff00 119px,#ffea00 121px,#ff9b00 126px,#f00 146px,#f00 175px,#f90 196px,#ffe900 207px,#faff00 215px,#3aff00 226px,#0f0 233px,#00ff73 248px,#00faff 275px,#0087ff 307px,#003cff 508px)"></i><i style="left:785px;width:1px;background:linear-gradient(#0064ff 0px,#009aff 76px,#00fffa 86px,#00ff75 99px,#00ff0a 111px,#2aff00 113px,#c7ff00 119px,#fdff00 123px,#f00 146px,#ff0400 176px,#ff8e00 208px,#ff9c00 215px,#fff300 219px,#f5ff00 220px,#73ff00 226px,#00ff01 239px,#00ff43 247px,#00fbff 284px,#008dff 307px,#003cff 508px)"></i><i style="left:786px;width:1px;background:linear-gradient(#0064ff 0px,#009eff 76px,#00fdff 84px,#00ff5f 98px,#01ff00 108px,#2dff00 112px,#a4ff00 120px,#fffb00 128px,#f00 146px,#ff0500 179px,#f30 213px,#ff3400 215px,#faff00 223px,#acff00 226px,#00ff02 244px,#00ff1f 248px,#00ffc6 280px,#0ff 289px,#0093ff 306px,#003cff 508px)"></i><i style="left:787px;width:1px;background:linear-gradient(#0064ff 0px,#0094ff 71px,#00b2ff 76px,#00faff 81px,#00ff68 94px,#0f0 106px,#59ff00 116px,#dbff00 127px,#faff00 129px,#ffa100 135px,#ff5a00 139px,#f00 146px,#ff0800 157px,#ff1600 167px,#f00 177px,#ff0400 212px,#ff1000 215px,#ffec00 223px,#f7ff00 224px,#c0ff00 226px,#03ff00 247px,#00ff62 266px,#00ffc5 282px,#00fcff 291px,#0096ff 306px,#003cff 508px)"></i><i style="left:788px;width:1px;background:linear-gradient(#0064ff 0px,#0085ff 71px,#00ebff 77px,#00fffd 78px,#00ffdb 80px,#00ff51 91px,#0f0 106px,#28ff00 114px,#fffc00 129px,#ffa800 134px,#ff3e00 138px,#f00 146px,#f00 153px,#ff4b00 166px,#f00 175px,#f00 211px,#ff3000 215px,#fdff00 223px,#afff00 226px,#0fff00 248px,#00ff05 252px,#00ff43 262px,#00ffef 287px,#00f5ff 291px,#0096ff 306px,#003cff 508px)"></i><i style="left:789px;width:1px;background:linear-gradient(#0064ff 0px,#0076ff 71px,#00f9ff 76px,#00ffb1 79px,#00ff1b 91px,#05ff00 109px,#0dff00 114px,#f9ff00 128px,#ffbf00 132px,#ff9c00 134px,#ff1500 138px,#f00 148px,#f00 153px,#ff7d00 166px,#f00 175px,#f00 211px,#ff6900 216px,#fffd00 222px,#9eff00 226px,#02ff00 254px,#00ff19 258px,#00ffce 280px,#00fbff 289px,#0096ff 306px,#003cff 508px)"></i><i style="left:790px;width:1px;background:linear-gradient(#0064ff 0px,#006dff 71px,#00eaff 75px,#00fff5 76px,#00ff98 79px,#02ff00 91px,#0f0 114px,#f6ff00 127px,#ffe200 129px,#ff8300 134px,#f00 138px,#f00 153px,#ff8300 162px,#ffb000 166px,#ff3800 175px,#ff4e00 211px,#fffa00 219px,#6eff00 226px,#00ff01 249px,#00ff2b 257px,#00ffe1 279px,#00faff 286px,#0094ff 307px,#003cff 508px)"></i><i style="left:791px;width:1px;background:linear-gradient(#0064ff 0px,#006aff 71px,#00e7ff 75px,#00fff8 76px,#00ff9b 79px,#00ff67 82px,#00ff06 90px,#13ff00 94px,#0f0 114px,#faff00 126px,#ff4600 135px,#f00 138px,#f00 153px,#ffae00 161px,#ffe500 166px,#ffa900 175px,#ffeb00 211px,#fffb00 212px,#1fff00 226px,#00ff04 234px,#0f7 258px,#00fffe 277px,#0091ff 307px,#003cff 508px)"></i><i style="left:792px;width:1px;background:linear-gradient(#0064ff 0px,#0068ff 71px,#00fffb 76px,#00ff9e 79px,#00ff6d 81px,#00ff02 90px,#1fff00 94px,#0f0 114px,#faff00 125px,#ff3800 134px,#f00 138px,#f00 153px,#ffe400 161px,#faff00 164px,#e5ff00 166px,#e5ff00 175px,#76ff00 211px,#00ff04 222px,#00ff30 226px,#00ffc1 259px,#00fcff 270px,#00d2ff 278px,#008eff 308px,#003cff 508px)"></i><i style="left:793px;width:1px;background:linear-gradient(#0064ff 0px,#0065ff 71px,#00fffe 76px,#00ff67 81px,#02ff00 90px,#2cff00 94px,#0f0 114px,#f6ff00 124px,#ffd700 126px,#ff1300 134px,#f00 139px,#f00 153px,#fff700 160px,#e3ff00 161px,#af0 167px,#63ff00 178px,#00ff02 201px,#00ff32 213px,#00ff86 228px,#00fbff 259px,#00abff 277px,#08f 315px,#003cff 508px)"></i><i style="left:794px;width:1px;background:linear-gradient(#0063ff 0px,#06f 71px,#0ef 76px,#00fff3 77px,#00ff80 81px,#00ff01 92px,#15ff00 94px,#00ff06 114px,#6bff00 119px,#f2ff00 125px,#fff500 126px,#ff4000 134px,#ff4d00 153px,#fff900 158px,#9eff00 161px,#0eff00 177px,#00ff08 182px,#00ff7e 210px,#00fff3 247px,#00f7ff 252px,#0096ff 277px,#003cff 508px)"></i><i style="left:795px;width:1px;background:linear-gradient(#0060ff 0px,#006bff 71px,#00e4ff 77px,#00fdff 78px,#00ffb9 81px,#00ff2e 93px,#00ff24 95px,#00ff13 114px,#00ff02 115px,#faff00 130px,#ffc100 134px,#ffd000 143px,#ffe600 153px,#feff00 154px,#49ff00 161px,#00ff05 171px,#00ff2f 177px,#00ff9a 211px,#00fff0 247px,#00f9ff 252px,#0096ff 277px,#003cff 508px)"></i><i style="left:796px;width:1px;background:linear-gradient(#005eff 0px,#006fff 71px,#00abff 76px,#00f9ff 80px,#00ffc1 85px,#00ff6f 92px,#00ff5b 95px,#00ff1f 114px,#02ff00 117px,#bcff00 134px,#bf0 137px,#7eff00 153px,#06ff00 160px,#00ff24 165px,#00ff6c 177px,#0fb 217px,#00fff2 248px,#00f7ff 253px,#0096ff 277px,#003cff 508px)"></i><i style="left:797px;width:1px;background:linear-gradient(#005bff 0px,#0078ff 72px,#0089ff 76px,#00f9ff 84px,#00ffad 91px,#00ff02 122px,#3eff00 135px,#35ff00 138px,#00ff02 148px,#00ff2c 155px,#00ff64 162px,#0fa 177px,#00ffec 247px,#00f9ff 253px,#0096ff 277px,#003cff 508px)"></i><i style="left:798px;width:1px;background:linear-gradient(#005aff 0px,#0079ff 76px,#00faff 87px,#00ffd0 92px,#00ff42 115px,#00ff13 136px,#00ff7b 155px,#0fc 177px,#00ffea 247px,#00faff 253px,#0096ff 277px,#003cff 508px)"></i><i style="left:799px;width:1px;background:linear-gradient(#005aff 0px,#007cff 76px,#00fffa 90px,#00ff68 115px,#00ff40 131px,#00ff39 136px,#00ff93 156px,#00ffd2 177px,#00ffea 247px,#00faff 253px,#0096ff 277px,#003cff 508px)"></i><i style="left:800px;width:1px;background:linear-gradient(#005aff 0px,#007fff 76px,#00f6ff 92px,#00fff8 96px,#00ff8a 116px,#00ff67 128px,#00ff62 137px,#0fa 157px,#00ffd8 178px,#00ffea 247px,#00faff 253px,#0096ff 277px,#003cff 508px)"></i><i style="left:801px;width:1px;background:linear-gradient(#005aff 0px,#0082ff 76px,#0df 93px,#00fffd 101px,#00ffab 117px,#00ff89 127px,#00ff87 137px,#00ffc0 158px,#00ffde 179px,#00ffea 247px,#00faff 253px,#0096ff 277px,#003cff 508px)"></i><i style="left:802px;width:1px;background:linear-gradient(#005aff 0px,#0089ff 77px,#00c4ff 95px,#00fffa 108px,#00ffab 126px,#00ffb0 139px,#00ffd7 162px,#00ffe5 184px,#00ffea 247px,#00faff 253px,#0096ff 277px,#003cff 508px)"></i><i style="left:803px;width:1px;background:linear-gradient(#005aff 0px,#0090ff 81px,#00abff 97px,#00fffd 115px,#0fc 127px,#00ffe8 166px,#00ffea 247px,#00faff 253px,#0096ff 277px,#003cff 508px)"></i><i style="left:804px;width:1px;background:linear-gradient(#005bff 0px,#008bff 72px,#00afff 98px,#00fffd 119px,#00ffe1 127px,#00fff3 164px,#00fff0 247px,#00f9ff 252px,#0095ff 277px,#003cff 508px)"></i><i style="left:805px;width:1px;background:linear-gradient(#005cff 0px,#0087ff 68px,#0cf 95px,#00f1ff 113px,#00fffa 120px,#00ffea 127px,#00fffa 166px,#00fffc 247px,#0094ff 277px,#003cff 508px)"></i><i style="left:806px;width:1px;background:linear-gradient(#005dff 0px,#0084ff 67px,#00f3ff 94px,#00f0ff 107px,#00fff8 122px,#00fff5 132px,#00fdff 170px,#00f7ff 247px,#0093ff 277px,#003cff 508px)"></i><i style="left:807px;width:1px;background:linear-gradient(#005eff 0px,#007eff 66px,#0ff 89px,#00ffe5 94px,#0ff 108px,#00f7ff 153px,#00ebff 247px,#0091ff 277px,#003cff 508px)"></i><i style="left:808px;width:1px;background:linear-gradient(#0060ff 0px,#007dff 66px,#0ff 84px,#00ffc0 94px,#00fff0 108px,#00f9ff 129px,#00ebff 195px,#00dfff 247px,#0090ff 278px,#003cff 508px)"></i><i style="left:809px;width:1px;background:linear-gradient(#0061ff 0px,#007bff 66px,#00fffd 81px,#00ff9a 94px,#00ffe0 107px,#00fbff 122px,#00f0ff 132px,#00d6ff 246px,#008eff 278px,#003cff 508px)"></i><i style="left:810px;width:1px;background:linear-gradient(#0062ff 0px,#007aff 66px,#00fffd 79px,#00ff74 94px,#00ffd1 107px,#00fbff 121px,#00e9ff 128px,#00caff 246px,#008dff 279px,#003cff 508px)"></i><i style="left:811px;width:1px;background:linear-gradient(#0063ff 0px,#0079ff 66px,#00fcff 77px,#00ff4f 94px,#00ffc1 107px,#00feff 120px,#00e0ff 127px,#00beff 246px,#008bff 280px,#003cff 508px)"></i><i style="left:812px;width:1px;background:linear-gradient(#0064ff 0px,#007dff 66px,#00feff 77px,#00ff49 94px,#00ffc0 107px,#00f9ff 120px,#00daff 127px,#00b9ff 245px,#0089ff 281px,#003cff 508px)"></i><i style="left:813px;width:1px;background:linear-gradient(#0064ff 0px,#08f 66px,#0ff 78px,#00ff62 94px,#00ffd4 108px,#00fcff 118px,#00d7ff 127px,#00baff 243px,#08f 281px,#003cff 508px)"></i><i style="left:814px;width:1px;background:linear-gradient(#0064ff 0px,#0093ff 66px,#00feff 79px,#00ff7b 94px,#00ff93 98px,#00ffe2 108px,#00fbff 116px,#00d4ff 127px,#00bcff 235px,#0af 253px,#0086ff 281px,#003cff 508px)"></i><i style="left:815px;width:1px;background:linear-gradient(#0064ff 0px,#009eff 66px,#00f2ff 79px,#00fff3 82px,#00ff94 94px,#00ff9e 97px,#00fff5 109px,#00f5ff 115px,#00d0ff 127px,#00bfff 218px,#00b1ff 247px,#0085ff 281px,#003cff 508px)"></i><i style="left:816px;width:1px;background:linear-gradient(#0064ff 0px,#00adff 67px,#00deff 78px,#00fffb 83px,#00ffac 95px,#00ffb1 97px,#00fffd 108px,#00cdff 128px,#00c0ff 209px,#00b1ff 246px,#0083ff 281px,#003cff 508px)"></i><i style="left:817px;width:1px;background:linear-gradient(#0064ff 0px,#00bfff 71px,#00d3ff 78px,#0ff 85px,#00ffbe 96px,#0ff 106px,#00e9ff 111px,#00caff 128px,#00c1ff 203px,#00afff 246px,#0081ff 281px,#003cff 508px)"></i><i style="left:818px;width:1px;background:linear-gradient(#0064ff 0px,#00cbff 78px,#00fffc 88px,#00ffcf 96px,#00faff 105px,#00e1ff 110px,#00c6ff 129px,#00beff 203px,#00adff 246px,#0080ff 281px,#003cff 508px)"></i><i style="left:819px;width:1px;background:linear-gradient(#0065ff 0px,#00c5ff 78px,#00fffc 90px,#0fd 96px,#00fbff 103px,#00daff 110px,#00c2ff 130px,#00baff 207px,#00a8ff 247px,#007fff 281px,#003dff 508px)"></i><i style="left:820px;width:1px;background:linear-gradient(#06f 0px,#00bfff 78px,#00fff9 93px,#00ffeb 96px,#00fbff 101px,#00d3ff 110px,#00beff 130px,#00b4ff 214px,#00a4ff 248px,#007eff 282px,#003dff 508px)"></i><i style="left:821px;width:1px;background:linear-gradient(#0067ff 0px,#00b9ff 78px,#00fff9 96px,#00cbff 111px,#00b9ff 132px,#00afff 225px,#009eff 251px,#007dff 282px,#003dff 508px)"></i><i style="left:822px;width:1px;background:linear-gradient(#0068ff 0px,#00b3ff 78px,#00f6ff 96px,#00c4ff 111px,#00b5ff 133px,#0af 230px,#0094ff 257px,#007cff 284px,#003eff 508px)"></i><i style="left:823px;width:1px;background:linear-gradient(#0069ff 0px,#00b0ff 79px,#00e8ff 96px,#00bdff 111px,#00b1ff 136px,#00a5ff 235px,#007bff 284px,#003eff 508px)"></i><i style="left:824px;width:1px;background:linear-gradient(#0069ff 0px,#0af 79px,#00daff 96px,#00b6ff 112px,#00adff 144px,#009fff 241px,#007aff 284px,#003fff 508px)"></i><i style="left:825px;width:1px;background:linear-gradient(#006aff 0px,#00a6ff 80px,#00caff 97px,#00afff 113px,#009cff 240px,#0079ff 285px,#003fff 508px)"></i><i style="left:826px;width:1px;background:linear-gradient(#006bff 0px,#009fff 80px,#00bcff 97px,#00a8ff 114px,#009aff 238px,#0078ff 287px,#0040ff 508px)"></i><i style="left:827px;width:1px;background:linear-gradient(#006cff 0px,#009bff 82px,#00aeff 98px,#00a1ff 119px,#0098ff 236px,#07f 289px,#0040ff 508px)"></i><i style="left:828px;width:1px;background:linear-gradient(#006dff 0px,#0097ff 86px,#009fff 101px,#0095ff 236px,#0076ff 291px,#0040ff 508px)"></i><i style="left:829px;width:1px;background:linear-gradient(#006eff 0px,#0097ff 120px,#0092ff 235px,#0074ff 294px,#0041ff 508px)"></i><i style="left:830px;width:1px;background:linear-gradient(#006fff 0px,#0095ff 144px,#0090ff 235px,#0073ff 300px,#0041ff 508px)"></i><i style="left:831px;width:1px;background:linear-gradient(#0070ff 0px,#0093ff 146px,#008fff 236px,#0072ff 312px,#0042ff 508px)"></i><i style="left:832px;width:1px;background:linear-gradient(#0071ff 0px,#0091ff 148px,#008eff 238px,#0069ff 354px,#0042ff 508px)"></i><i style="left:833px;width:1px;background:linear-gradient(#0073ff 0px,#008fff 150px,#008dff 239px,#0042ff 508px)"></i><i style="left:834px;width:1px;background:linear-gradient(#0074ff 0px,#008dff 153px,#008dff 241px,#0042ff 508px)"></i><i style="left:835px;width:1px;background:linear-gradient(#0075ff 0px,#008bff 156px,#008cff 244px,#0043ff 508px)"></i><i style="left:836px;width:1px;background:linear-gradient(#07f 0px,#0089ff 161px,#008bff 247px,#0043ff 508px)"></i><i style="left:837px;width:1px;background:linear-gradient(#0078ff 0px,#0087ff 167px,#008bff 252px,#04f 508px)"></i><i style="left:838px;width:1px;background:linear-gradient(#0079ff 0px,#008bff 257px,#04f 508px)"></i><i style="left:839px;width:1px;background:linear-gradient(#007bff 0px,#008bff 219px,#0084ff 299px,#04f 508px)"></i><i style="left:840px;width:1px;background:linear-gradient(#007cff 0px,#08f 208px,#08f 291px,#0045ff 508px)"></i><i style="left:841px;width:1px;background:linear-gradient(#007dff 0px,#0085ff 202px,#008bff 288px,#0045ff 508px)"></i><i style="left:842px;width:1px;background:linear-gradient(#007fff 0px,#0082ff 197px,#008dff 287px,#0045ff 508px)"></i><i style="left:843px;width:1px;background:linear-gradient(#0080ff 0px,#0080ff 194px,#0090ff 285px,#0046ff 508px)"></i><i style="left:844px;width:1px;background:linear-gradient(#0081ff 0px,#007eff 192px,#0092ff 284px,#0046ff 508px)"></i><i style="left:845px;width:1px;background:linear-gradient(#0081ff 0px,#007cff 192px,#0091ff 284px,#0046ff 508px)"></i><i style="left:846px;width:1px;background:linear-gradient(#007fff 0px,#007bff 194px,#008cff 286px,#0046ff 508px)"></i><i style="left:847px;width:1px;background:linear-gradient(#007dff 0px,#007aff 198px,#0087ff 287px,#0046ff 508px)"></i><i style="left:848px;width:1px;background:linear-gradient(#007cff 0px,#0079ff 204px,#0082ff 289px,#0046ff 508px)"></i><i style="left:849px;width:1px;background:linear-gradient(#007aff 0px,#0079ff 213px,#007dff 292px,#0046ff 508px)"></i><i style="left:850px;width:1px;background:linear-gradient(#0078ff 0px,#0078ff 231px,#07f 299px,#0046ff 508px)"></i><i style="left:851px;width:1px;background:linear-gradient(#0076ff 0px,#0072ff 301px,#0046ff 508px)"></i><i style="left:852px;width:1px;background:linear-gradient(#0074ff 0px,#006dff 305px,#0046ff 508px)"></i><i style="left:853px;width:1px;background:linear-gradient(#0073ff 0px,#0068ff 312px,#0046ff 508px)"></i><i style="left:854px;width:1px;background:linear-gradient(#0071ff 0px,#06f 296px,#0046ff 508px)"></i><i style="left:855px;width:1px;background:linear-gradient(#006fff 0px,#0067ff 247px,#0046ff 508px)"></i><i style="left:856px;width:1px;background:linear-gradient(#006eff 0px,#0067ff 230px,#0046ff 508px)"></i></div>
<svg width="1016" height="2352" viewBox="0 0 1016 2352" font-family="Liberation Serif" font-weight="bold">
<polyline fill="none" stroke="#000" stroke-width="1.7" stroke-linejoin="round" points="260.9,447.3 264.3,464.6 268.0,481.6 270.1,495.2 271.8,508.8 273.1,525.9 275.2,542.0 438.2,542.0 438.6,530.0 440.2,511.9 443.8,476.2 449.8,445.2 456.9,419.0 470.0,385.7 481.9,357.1 502.1,307.1 515.2,276.2 536.7,223.8 556.9,161.9 559.3,147.6 568.8,111.9 574.8,73.8 577.1,42.9 579.0,21.3 798.7,21.3 800.2,33.2 801.9,60.7 804.1,86.7 807.7,104.1 809.9,118.5 815.7,147.4 823.6,180.7 831.6,212.5 836.6,231.3 843.8,254.4 851.1,279.0 859.0,308.0"/>
<rect x="279" y="484" width="152" height="45.6" fill="#000"/>
<rect x="589" y="480" width="203" height="45.6" fill="#ff0" stroke="#000" stroke-width="4"/>
<text x="268.5" y="439" font-size="38">Polar night</text>
<text x="580.5" y="439" font-size="38" word-spacing="-4">Midnight sun</text>
<rect x="212" y="20" width="3" height="525" fill="#000"/>
<rect x="203" y="542" width="658" height="3" fill="#000"/>
<rect x="203" y="20.1" width="10" height="2.7" fill="#000"/>
<rect x="203" y="150.8" width="10" height="2.7" fill="#000"/>
<rect x="203" y="281.0" width="10" height="2.7" fill="#000"/>
<rect x="203" y="411.3" width="10" height="2.7" fill="#000"/>
<rect x="212.0" y="543" width="2.8" height="10.3" fill="#000"/>
<rect x="266.9" y="543" width="2.8" height="10.3" fill="#000"/>
<rect x="320.1" y="543" width="2.8" height="10.3" fill="#000"/>
<rect x="375.0" y="543" width="2.8" height="10.3" fill="#000"/>
<rect x="430.0" y="543" width="2.8" height="10.3" fill="#000"/>
<rect x="479.6" y="543" width="2.8" height="10.3" fill="#000"/>
<rect x="534.5" y="543" width="2.8" height="10.3" fill="#000"/>
<rect x="587.7" y="543" width="2.8" height="10.3" fill="#000"/>
<rect x="642.6" y="543" width="2.8" height="10.3" fill="#000"/>
<rect x="695.8" y="543" width="2.8" height="10.3" fill="#000"/>
<rect x="750.7" y="543" width="2.8" height="10.3" fill="#000"/>
<rect x="805.6" y="543" width="2.8" height="10.3" fill="#000"/>
<rect x="858.8" y="543" width="2.8" height="10.3" fill="#000"/>
<text x="191" y="35.8" font-size="45" text-anchor="end">24</text>
<text x="191" y="167.3" font-size="45" text-anchor="end">18</text>
<text x="191" y="297.5" font-size="45" text-anchor="end">12</text>
<text x="191" y="427.5" font-size="45" text-anchor="end">6</text>
<text x="191" y="558.2" font-size="45" text-anchor="end">0</text>
<text transform="translate(45.2,494) rotate(-90)" font-size="50">Day length (h day<tspan font-size="32" dy="-15.5">-1</tspan><tspan dy="15.5">)</tspan></text>
<text transform="translate(44.9,1449.6) rotate(-90)" font-size="50">Depth (m)</text>
<rect x="217" y="1040.5" width="356" height="53.5" fill="#fff"/>
<text x="231.5" y="1083" font-size="44">Temperature (°C)</text>
<text x="240" y="1642" font-size="44">Salinity</text>
<rect x="217" y="2157.6" width="312.7" height="53.4" fill="#fff"/>
<text x="241.8" y="2200.6" font-size="44">Chlorophyll <tspan font-style="italic">a</tspan></text>
<rect x="214.6" y="585.7" width="645.9" height="520.8" fill="none" stroke="#000" stroke-width="2.8"/>
<rect x="203" y="584.3" width="11.6" height="2.8" fill="#000"/>
<rect x="203" y="688.3" width="11.6" height="2.8" fill="#000"/>
<rect x="203" y="792.3" width="11.6" height="2.8" fill="#000"/>
<rect x="203" y="896.3" width="11.6" height="2.8" fill="#000"/>
<rect x="203" y="1000.3" width="11.6" height="2.8" fill="#000"/>
<rect x="203" y="1104.3" width="11.6" height="2.8" fill="#000"/>
<rect x="213.2" y="1106.5" width="2.8" height="10.5" fill="#000"/>
<rect x="268.0" y="1106.5" width="2.8" height="10.5" fill="#000"/>
<rect x="321.1" y="1106.5" width="2.8" height="10.5" fill="#000"/>
<rect x="375.9" y="1106.5" width="2.8" height="10.5" fill="#000"/>
<rect x="430.8" y="1106.5" width="2.8" height="10.5" fill="#000"/>
<rect x="480.3" y="1106.5" width="2.8" height="10.5" fill="#000"/>
<rect x="535.1" y="1106.5" width="2.8" height="10.5" fill="#000"/>
<rect x="588.2" y="1106.5" width="2.8" height="10.5" fill="#000"/>
<rect x="643.0" y="1106.5" width="2.8" height="10.5" fill="#000"/>
<rect x="696.1" y="1106.5" width="2.8" height="10.5" fill="#000"/>
<rect x="750.9" y="1106.5" width="2.8" height="10.5" fill="#000"/>
<rect x="805.7" y="1106.5" width="2.8" height="10.5" fill="#000"/>
<rect x="858.8" y="1106.5" width="2.8" height="10.5" fill="#000"/>
<text x="191" y="597.0" font-size="45" text-anchor="end">0</text>
<text x="191" y="703.0" font-size="45" text-anchor="end">100</text>
<text x="191" y="807.0" font-size="45" text-anchor="end">200</text>
<text x="191" y="909.5" font-size="45" text-anchor="end">300</text>
<text x="191" y="1014.0" font-size="45" text-anchor="end">400</text>
<text x="191" y="1117.5" font-size="45" text-anchor="end">500</text>
<rect x="215.5" y="1150.6" width="646.0" height="520.9" fill="none" stroke="#000" stroke-width="2.8"/>
<rect x="203" y="1149.1" width="12.5" height="2.8" fill="#000"/>
<rect x="203" y="1253.1" width="12.5" height="2.8" fill="#000"/>
<rect x="203" y="1357.1" width="12.5" height="2.8" fill="#000"/>
<rect x="203" y="1461.2" width="12.5" height="2.8" fill="#000"/>
<rect x="203" y="1565.2" width="12.5" height="2.8" fill="#000"/>
<rect x="203" y="1669.2" width="12.5" height="2.8" fill="#000"/>
<rect x="214.1" y="1671.5" width="2.8" height="10.5" fill="#000"/>
<rect x="268.9" y="1671.5" width="2.8" height="10.5" fill="#000"/>
<rect x="322.0" y="1671.5" width="2.8" height="10.5" fill="#000"/>
<rect x="376.9" y="1671.5" width="2.8" height="10.5" fill="#000"/>
<rect x="431.7" y="1671.5" width="2.8" height="10.5" fill="#000"/>
<rect x="481.2" y="1671.5" width="2.8" height="10.5" fill="#000"/>
<rect x="536.1" y="1671.5" width="2.8" height="10.5" fill="#000"/>
<rect x="589.1" y="1671.5" width="2.8" height="10.5" fill="#000"/>
<rect x="644.0" y="1671.5" width="2.8" height="10.5" fill="#000"/>
<rect x="697.0" y="1671.5" width="2.8" height="10.5" fill="#000"/>
<rect x="751.9" y="1671.5" width="2.8" height="10.5" fill="#000"/>
<rect x="806.7" y="1671.5" width="2.8" height="10.5" fill="#000"/>
<rect x="859.8" y="1671.5" width="2.8" height="10.5" fill="#000"/>
<text x="191" y="1161.0" font-size="45" text-anchor="end">0</text>
<text x="191" y="1268.0" font-size="45" text-anchor="end">100</text>
<text x="191" y="1371.5" font-size="45" text-anchor="end">200</text>
<text x="191" y="1474.0" font-size="45" text-anchor="end">300</text>
<text x="191" y="1577.5" font-size="45" text-anchor="end">400</text>
<text x="191" y="1682.0" font-size="45" text-anchor="end">500</text>
<rect x="215.5" y="1709.5" width="646.0" height="521.5" fill="none" stroke="#000" stroke-width="2.8"/>
<rect x="203" y="1707.9" width="12.5" height="2.8" fill="#000"/>
<rect x="203" y="1838.2" width="12.5" height="2.8" fill="#000"/>
<rect x="203" y="1968.5" width="12.5" height="2.8" fill="#000"/>
<rect x="203" y="2098.8" width="12.5" height="2.8" fill="#000"/>
<rect x="203" y="2229.1" width="12.5" height="2.8" fill="#000"/>
<rect x="214.1" y="2231.0" width="2.8" height="10.5" fill="#000"/>
<rect x="268.9" y="2231.0" width="2.8" height="10.5" fill="#000"/>
<rect x="322.0" y="2231.0" width="2.8" height="10.5" fill="#000"/>
<rect x="376.9" y="2231.0" width="2.8" height="10.5" fill="#000"/>
<rect x="431.7" y="2231.0" width="2.8" height="10.5" fill="#000"/>
<rect x="481.2" y="2231.0" width="2.8" height="10.5" fill="#000"/>
<rect x="536.1" y="2231.0" width="2.8" height="10.5" fill="#000"/>
<rect x="589.1" y="2231.0" width="2.8" height="10.5" fill="#000"/>
<rect x="644.0" y="2231.0" width="2.8" height="10.5" fill="#000"/>
<rect x="697.0" y="2231.0" width="2.8" height="10.5" fill="#000"/>
<rect x="751.9" y="2231.0" width="2.8" height="10.5" fill="#000"/>
<rect x="806.7" y="2231.0" width="2.8" height="10.5" fill="#000"/>
<rect x="859.8" y="2231.0" width="2.8" height="10.5" fill="#000"/>
<text x="191" y="1725.5" font-size="45" text-anchor="end">0</text>
<text x="191" y="1856.5" font-size="45" text-anchor="end">25</text>
<text x="191" y="1986.5" font-size="45" text-anchor="end">50</text>
<text x="191" y="2116.0" font-size="45" text-anchor="end">75</text>
<text x="191" y="2245.5" font-size="45" text-anchor="end">100</text>
<text x="242.1" y="2297" font-size="44" text-anchor="middle">O</text>
<text x="296.0" y="2297" font-size="44" text-anchor="middle">N</text>
<text x="351.3" y="2297" font-size="44" text-anchor="middle">D</text>
<text x="404.2" y="2297" font-size="44" text-anchor="middle">J</text>
<text x="456.1" y="2297" font-size="44" text-anchor="middle">F</text>
<text x="509.5" y="2297" font-size="44" text-anchor="middle">M</text>
<text x="562.6" y="2297" font-size="44" text-anchor="middle">A</text>
<text x="617.8" y="2297" font-size="44" text-anchor="middle">M</text>
<text x="670.4" y="2297" font-size="44" text-anchor="middle">J</text>
<text x="722.1" y="2297" font-size="44" text-anchor="middle">J</text>
<text x="777.8" y="2297" font-size="44" text-anchor="middle">A</text>
<text x="829.4" y="2297" font-size="44" text-anchor="middle">S</text>
<text x="220.7" y="2349.5" font-size="44">1997</text>
<text x="390" y="2349.5" font-size="44">1998</text>
<rect x="890.1" y="584.1" width="35.6" height="521.3" fill="#000"/>
<rect x="892.1" y="586.1" width="31.6" height="1.6" fill="#808080"/>
<rect x="892.1" y="587.7" width="31.6" height="514.1" fill="url(#cb)"/>
<rect x="925.7" y="586.4" width="9.5" height="2.6" fill="#000"/>
<rect x="925.7" y="672.1" width="9.5" height="2.6" fill="#000"/>
<rect x="925.7" y="757.8" width="9.5" height="2.6" fill="#000"/>
<rect x="925.7" y="843.4" width="9.5" height="2.6" fill="#000"/>
<rect x="925.7" y="929.1" width="9.5" height="2.6" fill="#000"/>
<rect x="925.7" y="1014.8" width="9.5" height="2.6" fill="#000"/>
<rect x="925.7" y="1100.5" width="9.5" height="2.6" fill="#000"/>
<text x="957.4" y="599.9" font-size="39">1.0</text>
<text x="959.2" y="685.9" font-size="39">0.5</text>
<text x="959.2" y="772.9" font-size="39">0.0</text>
<text x="948.0" y="853.9" font-size="39">-0.5</text>
<text x="948.0" y="939.5" font-size="39">-1.0</text>
<text x="947.7" y="1024.5" font-size="39">-1.5</text>
<text x="947.3" y="1109.4" font-size="39">-2.0</text>
<rect x="889.4" y="1149.4" width="35.5" height="521.2" fill="#000"/>
<rect x="891.4" y="1151.4" width="31.5" height="1.2" fill="#808080"/>
<rect x="891.4" y="1152.6" width="31.5" height="513.5" fill="url(#cb)"/>
<rect x="924.9" y="1151.3" width="9.5" height="2.6" fill="#000"/>
<rect x="924.9" y="1208.1" width="9.5" height="2.6" fill="#000"/>
<rect x="924.9" y="1265.1" width="9.5" height="2.6" fill="#000"/>
<rect x="924.9" y="1322.5" width="9.5" height="2.6" fill="#000"/>
<rect x="924.9" y="1379.5" width="9.5" height="2.6" fill="#000"/>
<rect x="924.9" y="1437.3" width="9.5" height="2.6" fill="#000"/>
<rect x="924.9" y="1494.8" width="9.5" height="2.6" fill="#000"/>
<rect x="924.9" y="1551.1" width="9.5" height="2.6" fill="#000"/>
<rect x="924.9" y="1607.8" width="9.5" height="2.6" fill="#000"/>
<rect x="924.9" y="1664.8" width="9.5" height="2.6" fill="#000"/>
<text x="958.2" y="1164.3" font-size="39">35</text>
<text x="958.2" y="1220.7" font-size="39">34</text>
<text x="958.2" y="1279.2" font-size="39">33</text>
<text x="958.2" y="1336.7" font-size="39">32</text>
<text x="958.2" y="1395.9" font-size="39">31</text>
<text x="958.2" y="1453.3" font-size="39">30</text>
<text x="958.2" y="1510.7" font-size="39">29</text>
<text x="958.2" y="1568.1" font-size="39">28</text>
<text x="958.2" y="1625.0" font-size="39">27</text>
<text x="958.2" y="1679.9" font-size="39">26</text>
<rect x="887.2" y="1709.4" width="37.3" height="521.5" fill="#000"/>
<rect x="889.2" y="1711.4" width="33.3" height="2.2" fill="#800000"/>
<rect x="889.2" y="1713.6" width="33.3" height="512.5" fill="url(#cb)"/>
<rect x="924.5" y="1712.3" width="9.5" height="2.6" fill="#000"/>
<rect x="924.5" y="1814.8" width="9.5" height="2.6" fill="#000"/>
<rect x="924.5" y="1917.3" width="9.5" height="2.6" fill="#000"/>
<rect x="924.5" y="2019.8" width="9.5" height="2.6" fill="#000"/>
<rect x="924.5" y="2122.3" width="9.5" height="2.6" fill="#000"/>
<rect x="924.5" y="2224.8" width="9.5" height="2.6" fill="#000"/>
<text x="951.4" y="1728.3" font-size="39">1.0</text>
<text x="950.3" y="1827.2" font-size="39">0.8</text>
<text x="950.3" y="1930.5" font-size="39">0.6</text>
<text x="950.3" y="2037.3" font-size="39">0.4</text>
<text x="951.6" y="2134.9" font-size="39">0.2</text>
<text x="951.6" y="2240.1" font-size="39">0.0</text>
<defs><linearGradient id="cb" x1="0" y1="0" x2="0" y2="1"><stop offset="0" stop-color="#f00"/><stop offset=".25" stop-color="#ff0"/><stop offset=".5" stop-color="#0f0"/><stop offset=".75" stop-color="#0ff"/><stop offset="1" stop-color="#00f"/></linearGradient></defs>
</svg>
</body></html>
